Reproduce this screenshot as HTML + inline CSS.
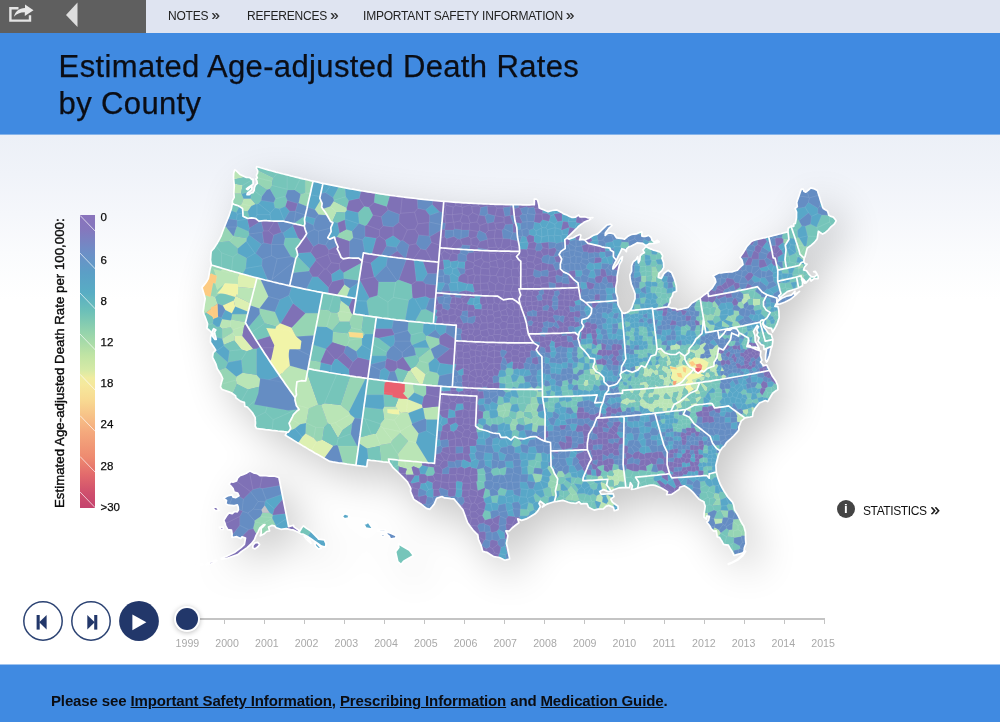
<!DOCTYPE html>
<html lang="en">
<head>
<meta charset="utf-8">
<title>Estimated Age-adjusted Death Rates by County</title>
<style>
*{box-sizing:border-box;margin:0;padding:0}
html,body{width:1000px;height:722px;overflow:hidden;background:#fff}
body{font-family:"Liberation Sans",sans-serif;color:#111;position:relative}
#topbar{position:absolute;left:0;top:0;width:1000px;height:33px;background:#dfe4f1}
#topbar .dark{position:absolute;left:0;top:0;width:146px;height:33px;background:#5f5f5f}
#topbar a{position:absolute;top:7px;font-size:12px;line-height:15px;color:#222;text-decoration:none;white-space:nowrap;letter-spacing:-0.2px}
#topbar a b{font-weight:normal;font-size:15px;letter-spacing:-0.5px;line-height:15px;-webkit-text-stroke:0.2px #222}
#header{position:absolute;left:0;top:33px;width:1000px;height:101px;background:#408ae1}
#header h1{position:absolute;left:58.600px;top:15px;font-weight:normal;font-size:31px;line-height:37px;color:#0b0d14;letter-spacing:0.36px;white-space:nowrap;-webkit-text-stroke:0.25px #0b0d14}
#main{position:absolute;left:0;top:134px;width:1000px;height:530px;background:linear-gradient(to bottom,#ecf0f7 0px,#f0f3f9 40px,#f5f7fb 80px,#fafbfd 118px,#ffffff 166px);overflow:hidden}
#footer{position:absolute;left:0;top:664px;width:1000px;height:58px;background:linear-gradient(to bottom,#a0c4f0 0px,#a0c4f0 1px,#408ae1 1px)}
#footer p{position:absolute;left:51px;top:28px;font-size:15px;line-height:18px;font-weight:bold;color:#0b0d12;white-space:nowrap;letter-spacing:-0.13px}
#footer a{color:inherit;text-decoration:underline}
#legend{position:absolute;left:80px;top:81px;width:15.400px;height:293px;overflow:hidden;background:linear-gradient(to bottom,#8a74bc 0%,#8577bd 4.8%,#6c8fc7 13%,#5b9fc6 19.8%,#58adc4 26.6%,#6cc0b8 32.8%,#96d4ac 40.3%,#c0e4a4 47.8%,#d6eaa6 52.9%,#f0eca0 55.6%,#f6e89c 58%,#f8da92 63.1%,#f7c388 68.3%,#f6b482 71.7%,#f4a87c 74.4%,#ee8a70 82.8%,#e26a6c 88.7%,#cf4f6d 94.9%,#c4426d 100%)}
.lg{position:absolute;left:100.500px;font-size:11.500px;line-height:13px;color:#0c0c0c;-webkit-text-stroke:0.25px #0c0c0c}
#lgtitle{position:absolute;left:0;top:0;font-size:13.2px;font-weight:normal;color:#0c0c0c;white-space:nowrap;transform-origin:0 0;transform:translate(52px,374px) rotate(-90deg);line-height:16px;letter-spacing:0.05px;-webkit-text-stroke:0.4px #0c0c0c}
.cbtn{position:absolute;width:40px;height:40px}

.cbtn svg{position:absolute;left:0;top:0}
#track{position:absolute;left:186px;top:484px;width:639px;height:2px;background:#c4c4c4}
.tick{position:absolute;top:485px;width:1px;height:5px;background:#c4c4c4}
.yr{position:absolute;top:503px;width:40px;margin-left:-20px;text-align:center;font-size:10.600px;line-height:13px;color:#a9a9a9}
#knob{position:absolute;left:175.500px;top:473.500px;width:22px;height:22px;border-radius:50%;background:#22376a;box-shadow:0 0 0 2px #fff,0 1px 5px 2px rgba(0,0,0,.25)}
#stats{position:absolute;left:837px;top:365.700px;height:18px;white-space:nowrap}
#stats .i{position:absolute;left:0;top:0;width:18px;height:18px;border-radius:50%;background:#444;color:#fff;font-weight:bold;font-size:13.500px;line-height:18px;text-align:center}
#stats span{position:absolute;left:26px;top:2px;font-size:12px;line-height:15px;color:#111;letter-spacing:-0.4px}
#stats span b{font-size:17px;font-weight:normal;letter-spacing:-0.5px;margin-left:1px;line-height:15px;-webkit-text-stroke:0.35px #111}
#map{position:absolute;left:0;top:0}
#edge{position:absolute;left:0;top:0;width:1000px;height:1px;background:#86b4ea}
</style>
</head>
<body>
<div id="topbar">
  <div class="dark">
    <svg width="146" height="33" viewBox="0 0 146 33">
      <path d="M18.500 8.200H10.400V20.600H30V15.200" fill="none" stroke="#e4e4e4" stroke-width="2.400"/>
      <path d="M14 16.800C15 11.500 19 8.300 25 8V4.500L33.500 10.200L24.800 16V12.300C20 12.300 16.500 13.800 14 16.800Z" fill="#e8e8e8"/>
      <path d="M66 15L77.500 2.500V27Z" fill="#dedede"/>
    </svg>
  </div>
  <a href="#" style="left:168px">NOTES <b>»</b></a>
  <a href="#" style="left:247px">REFERENCES <b>»</b></a>
  <a href="#" style="left:363px">IMPORTANT SAFETY INFORMATION <b>»</b></a>
</div>
<div id="header"><h1>Estimated Age-adjusted Death Rates<br>by County</h1></div>
<div id="main">
<svg id="map" width="1000" height="530" viewBox="0 134 1000 530">
<defs><filter id="sh" x="-20%" y="-20%" width="140%" height="150%"><feGaussianBlur stdDeviation="21"/></filter></defs>
<g filter="url(#sh)" opacity="0.22" transform="translate(12,14)"><path d="M219,510L216,507L212,508L215,511ZM260,476L257,474L250,471L246,473L240,476L237,478L237,481L233,482L231,482L229,484L233,489L234,492L238,493L239,496L236,498L233,497L232,495L228,496L223,498L227,500L226,504L228,505L234,506L237,505L238,510L237,512L235,512L232,514L229,513L224,520L228,530L231,530L232,538L237,537L241,539L242,537L246,538L244,544L241,548L235,552L221,558L221,559L227,559L238,555L247,548L254,540L260,528L265,525L261,528L261,533L260,536L264,534L267,531L270,531L269,527L272,525L281,529L286,529L293,530L307,536L321,546L326,547L326,544L324,540L319,539L311,531L304,526L299,532L299,530L294,527L294,525L289,527L279,478L274,476ZM223,527L219,527L221,530L223,529ZM311,543L306,536L304,536ZM260,544L258,542L255,543L253,545L253,548L255,549ZM321,548L317,543L314,543L316,546L318,549ZM206,565L211,564L217,560L215,560L207,563ZM180,564L196,566L196,565L176,562ZM202,564L200,564L203,565ZM790,299L799,291L794,294L795,291L792,295L782,298L778,301L777,304L785,302ZM234,197L232,201L231,208L229,216L221,236L214,248L211,251L210,260L211,265L208,279L202,287L205,299L203,312L208,324L207,328L211,332L214,329L216,330L215,332L216,339L215,339L213,336L213,333L212,333L210,342L216,350L213,353L212,357L217,369L223,378L220,387L222,390L231,393L236,396L236,398L241,401L244,402L245,406L247,407L252,413L255,418L255,426L256,428L287,432L285,435L330,461L367,467L368,460L389,462L393,468L407,482L411,488L410,491L414,499L426,508L430,509L434,504L437,498L442,496L445,498L454,499L463,510L467,522L473,530L478,535L478,539L483,551L487,552L494,557L499,557L505,560L510,559L506,543L508,536L506,531L509,531L519,523L518,519L522,520L526,519L535,514L538,511L540,507L539,503L540,501L544,504L542,507L547,504L554,502L563,500L571,503L576,503L579,502L581,504L587,504L589,507L594,510L603,509L606,506L609,505L613,507L614,511L618,509L618,506L612,502L611,499L614,497L613,494L601,494L600,491L604,490L608,492L611,492L613,490L619,488L630,488L630,483L632,486L631,489L651,485L655,485L668,492L667,495L672,494L679,489L680,487L684,486L689,488L699,499L704,502L705,506L704,517L706,519L707,516L709,516L709,520L707,522L714,531L716,531L717,537L719,537L724,544L728,545L734,555L743,553L746,544L745,532L744,526L734,510L733,502L728,497L720,484L716,472L716,465L720,451L727,442L739,430L739,427L741,421L745,418L752,416L753,412L759,403L765,401L768,402L773,393L778,389L778,385L776,381L767,365L763,366L760,362L762,360L760,356L761,351L751,347L747,347L749,338L747,346L750,345L751,347L756,347L759,349L755,341L755,335L754,332L757,326L759,327L757,330L758,333L757,335L759,338L758,341L761,345L764,346L764,349L766,350L765,359L766,362L770,355L772,346L773,340L771,335L768,333L764,327L763,324L764,320L763,323L764,326L768,328L771,328L773,332L777,324L779,317L778,307L775,307L777,301L780,298L787,292L803,286L802,279L803,280L805,283L806,283L810,278L811,281L814,278L818,279L818,276L815,271L814,272L816,272L817,275L814,277L812,277L806,271L804,270L804,267L807,264L805,264L804,262L807,248L814,243L817,239L818,231L823,234L826,232L834,224L836,221L833,217L829,215L827,211L823,209L817,190L811,188L806,192L804,191L803,189L801,189L797,202L797,207L795,208L797,212L796,218L795,223L794,224L794,226L791,226L788,228L788,232L754,240L751,242L747,246L740,257L742,260L743,265L737,270L732,272L719,273L713,276L715,279L716,282L712,288L700,298L692,303L688,307L677,310L676,308L668,307L673,292L676,291L676,286L674,278L672,272L668,270L664,274L661,279L658,277L659,273L662,271L664,267L664,263L662,258L663,256L661,252L646,247L643,250L644,253L640,256L640,260L638,263L638,257L636,260L633,262L632,266L632,271L630,275L630,279L631,284L635,294L635,299L632,308L630,311L624,313L622,312L618,305L617,297L616,292L617,276L619,265L622,261L623,257L613,269L613,267L622,249L625,249L626,252L627,249L629,247L637,243L643,243L646,246L650,244L659,242L657,240L654,242L649,235L645,236L642,236L642,232L636,234L632,234L628,236L625,239L617,238L614,234L611,233L608,233L605,235L605,233L612,225L611,224L607,225L597,234L585,240L580,240L581,235L580,234L569,239L567,238L579,226L593,218L580,217L579,215L575,217L572,217L557,210L548,212L539,208L538,200L536,199L534,199L534,205L518,205L466,203L413,198L373,193L335,186L296,177L257,167L256,168L258,171L256,175L257,178L256,179L257,183L255,185L253,193L249,195L247,195L247,193L252,190L252,187L250,187L248,190L247,189L253,184L253,179L252,179L250,178L246,177L240,174L235,170L233,177ZM359,443L360,439L360,435L360,439ZM345,514L342,516L345,519L348,518L349,515ZM368,522L363,524L366,528L370,529L373,528ZM378,531L386,532L385,530L378,529ZM381,534L382,537L384,536L384,534ZM396,536L388,532L386,534L389,536L391,539L396,538ZM404,561L413,556L409,550L398,544L399,548L396,552L398,562L401,564Z" fill="#000"/></g>
<path d="M790.4,299.3L799.5,291.4L797.1,293.1L794.4,294.2L795,291.1L791.6,294.9L786.4,296.3L781.8,298.2L777.6,301.5L777,304.5L780.2,303.9L785.1,302ZM234.3,186.1L233.8,193.2L234.2,197.3L232.4,200.7L232.4,203.1L231.4,208.4L228.7,216.4L221.1,235.8L214.1,248.1L211.2,251.4L210.5,259.9L211.3,265L210.1,268.7L208.3,278.6L205.8,282.7L202,287.4L205.2,298.7L203.1,311.8L207.6,323.7L206.9,328.3L211.3,332.5L213.7,328.6L215.8,330L214.5,332.1L216.2,339.4L215,339.5L212.7,336.4L213,333.3L211.7,333.2L210.5,337.4L210.4,342.2L215.7,350.1L213.2,352.6L212.5,357.3L215.8,363.8L217.2,368.7L220.9,374.5L222.7,378.5L220.4,387L222.1,389.5L231.3,392.7L235.6,395.9L235.8,397.8L240.8,401.4L244.4,402.3L244.8,406.4L247.2,407L252.4,412.8L255.2,417.6L255.2,426L256.4,428.4L287.1,432L285.3,435.2L329.8,461.4L366.8,466.7L367.7,459.9L389.3,462.5L393,467.7L407.4,481.8L410.8,488.3L410.5,491.4L413.8,499.4L421.4,504.3L426.4,508.4L429.7,509.4L434.2,504.1L436.6,498.2L442,496.5L444.6,497.9L453.9,498.9L462.9,509.7L467.5,522.4L473.2,530.3L477.8,534.8L478.4,539.4L480.9,544.8L482.8,551.4L486.9,552.3L493.7,556.6L499.3,557.5L504.8,560.2L509.7,559L506.4,543.2L507.9,535.5L505.9,530.9L509.3,531L512.1,528L518.9,522.7L517.6,518.8L521.6,520.4L526.3,518.9L535.1,513.8L537.7,511.1L540.4,506.5L539,503.5L540.3,501.2L544.3,504.2L542.4,507L547,504.1L554.3,501.7L562.9,500.4L571,503L576.3,503.3L578.9,501.7L581,503.9L587,503.6L588.6,507.3L594.1,510.1L598,509.1L603.4,508.8L605.9,506.4L608.6,505.4L613.4,507.4L614.3,510.7L618.2,509.4L618,506.3L612.4,502.1L610.8,499.1L614,496.6L613.1,493.6L601.2,494.4L599.7,491.4L603.6,489.6L608.3,491.6L611.2,491.7L613.5,489.7L619.3,487.8L629.6,487.7L630.4,482.6L632.4,485.9L631.4,489.4L634.7,489L650.9,485L654.9,485.4L661.8,488.2L667.6,491.7L666.6,494.6L671.9,494.3L679.3,489.2L679.7,487.2L684.2,485.8L688.6,488.4L693.1,492.4L698.7,498.9L703.9,501.8L705.2,506.2L704,517.2L706.3,519.2L706.6,516.1L709.4,516.4L708.6,520.4L706.8,522.2L709.3,525.2L711.1,528.5L713.6,531.2L716.3,530.9L717.2,536.9L719.4,537.3L723.5,544.4L728.3,545.2L734.1,555.5L743,552.8L744.1,551.1L744.3,548L746,543.6L745.5,532.4L743.8,526L734.5,509.8L733.7,505L732.5,502.1L727.6,496.7L720.1,483.9L717.9,478L716.3,472L715.9,465.1L718.3,455.4L720.2,450.7L722.3,447.7L724.6,445.8L726.7,442.3L731.2,438.4L738.8,430L738.9,426.9L741.3,420.9L745,417.9L752.5,416.5L753,412.5L755.3,408.1L759.4,403L765.3,400.5L767.7,401.6L772.7,393.2L777.9,389.5L777.7,385.3L775.8,380.9L772,375.4L766.7,365L763.1,365.8L762.9,364.7L760.5,362L761.9,360.2L760.4,355.7L760.8,351.1L750.7,347.1L746.9,346.6L748.3,341.6L748.5,338.4L748.8,340.7L747.4,345.8L749.7,345.3L751.3,347.3L755.6,347.2L759.3,349L755.2,341L754.9,335.2L753.5,331.5L757.3,325.5L758.5,326.8L756.7,329.6L757.9,332.5L756.7,335.1L759.1,337.8L758,341.2L761.1,344.5L763.7,345.5L764,349.4L766.5,349.7L765.5,359.4L766.4,362L767.2,361.4L769.6,355.4L770.7,349.5L772,346.4L772.8,339.6L771.2,334.5L768.4,333.4L764,327.2L762.6,323.6L764,320.1L763.1,323.2L764.3,325.6L768.4,327.9L771.5,328.3L772.6,332L777.1,324L779.2,317.5L778.8,310.4L777.9,306.6L774.9,306.5L777.4,301.2L778.7,300.1L779.8,297.6L787.3,291.6L798.6,287.8L802.5,285.8L802.5,282.2L801.7,279.2L803,279.6L804.5,283.2L806,282.8L810.2,278.1L811,281L814.5,278.4L818.1,278.7L818.2,276.3L815.4,271.4L813.7,271.6L815.7,272.2L817,275L814,276.9L811.6,276.8L809.3,274.7L806.5,270.7L803.6,269.9L804.4,267.3L807,264.2L805.2,263.8L803.8,261.8L804.2,258.2L807.2,248.1L813.8,243L817.2,238.9L818.4,231.3L822.6,234.1L825.5,232.4L834.4,224L836.2,220.9L833.4,217.1L828.8,215.3L827.5,210.9L823.4,208.6L817.4,190.5L814.6,188.9L810.7,187.9L805.8,192.2L803.9,191.3L803.2,189L801.3,189.1L796.7,202.5L797.3,206.7L795.1,208.5L796.6,212L796.5,217.6L795.3,223.5L793.8,223.9L793.8,226.3L791,226.2L788.2,228.2L788,231.8L754.4,240.1L751.4,241.5L746.9,246.4L739.8,257.4L742,260.1L743,264.6L737.4,270.2L732,271.9L718.7,273L713,275.8L715,278.7L715.8,282L712.3,287.8L707.8,292.2L700.1,298.1L691.9,303L688,307.5L676.8,309.9L676.1,308.5L672,308.2L667.8,306.8L670.1,302.3L670.2,299.1L672.1,296.5L673.3,292.5L676.5,291.2L676.3,285.8L674.1,278.3L671.6,272.5L668,270.3L663.9,273.5L661.3,278.5L658.3,277.4L658.9,273.4L661.9,270.7L663.7,267.4L663.6,262.7L661.9,258.3L662.7,255.9L660.6,252.3L653.2,250.1L645.8,246.7L642.9,249.8L644.3,252.7L642.8,253.4L640.3,255.5L639.8,260.2L638.4,263L637.7,256.6L635.9,259.9L633.2,261.7L631.6,265.7L631.6,271.1L629.8,275.2L630.2,279L631.3,284.3L635.1,294L635,298.7L631.9,307.5L629.7,310.7L627.3,312.5L624.2,313.4L621.9,312.2L618.1,304.9L617.4,297.2L615.8,292.1L615.9,286.5L617.1,281L617.2,275.6L619.5,264.6L621.8,260.5L622.5,256.6L620.1,259.1L617.8,263.5L614.8,267.3L612.8,269L613.1,266.7L621.8,248.7L624.6,249.5L626.4,251.6L626.6,248.8L629.1,246.7L632.2,245.6L637.3,242.8L642.7,243.4L646,245.6L649.7,243.6L654.5,243.3L659.2,241.9L657.4,240.3L654.4,242.3L652,240.2L651.1,237.3L648.7,235.3L645.1,236.5L641.9,236.1L641.9,231.9L639.3,232.5L636.3,233.9L631.6,234.5L628,236.1L624.6,239.2L616.5,237.9L614,234L610.8,233.1L607.7,233.3L605.2,235.4L605.5,232.7L609.3,227.8L612,225.3L610.6,224.2L607,225L597.2,234.1L593,235.5L589,238.1L584.6,240L581.6,239.4L579.6,239.8L580.9,235.2L579.8,234.5L573.1,237.7L568.9,239.1L566.8,238.1L578.8,226.1L584.5,222L588.9,220.2L592.9,217.6L588.2,217.9L584.5,216.6L579.9,216.9L578.7,215L575.2,217.2L571.6,217.3L563.7,213.9L556.9,209.9L552.3,210.5L548.2,211.6L539.2,208L537.6,200.1L536.3,199.1L534.3,199L534.3,204.7L517.8,204.7L490.8,204.1L466,202.9L438.7,200.8L413.4,198.2L373,192.6L335.4,185.9L295.8,177.1L256.7,166.6L256.3,168.1L257.7,170.9L257.5,173.2L256.4,175.2L257.3,177.9L255.9,179L256.9,180.9L257.3,183.4L255.4,185.2L254.4,187.8L254.2,190.4L252.8,192.7L251.4,192.8L249.2,194.6L247,194.7L247.4,193.2L251.7,189.7L251.9,187.1L250.4,186.9L247.9,189.7L246.5,189L253.2,183.8L253,179.2L251.7,179.4L249.8,177.6L246.4,177.4L240,174.4L235.9,170.4L234.7,169.8L233.7,172.9L233.5,177.1ZM360.1,435.2L359.5,438.9L359,442.7L359.5,438.9ZM269.2,476.1L264.5,475.5L259.9,475.6L257.1,473.6L253.5,472.8L250,470.9L246.3,473.3L239.9,475.6L237.5,478.2L236.5,481L233,482.1L230.7,481.7L229,484.4L233,488.6L234.1,492L237.6,493L239,495.8L235.9,497.6L233.1,497.2L232,494.9L228.3,495.6L223.4,498.2L226.5,500.5L225.9,503.6L228.2,505.1L233.7,505.7L237.3,504.8L238.2,507.1L238.4,509.8L237.3,511.8L234.6,511.5L232.2,513.7L228.9,512.9L223.8,520.2L225.7,526L227.8,529.6L231.5,530.1L232.1,534L231.9,537.5L236.8,536.7L240.5,538.6L242,536.9L245.5,538.1L244.4,544.3L241,547.6L235,552.2L226.2,556.6L221.3,558L221.4,559.1L226.5,558.5L237.8,554.6L247.1,547.6L251.6,543.5L254.4,539.7L256.1,535.4L259.9,527.8L263.4,524.9L265,524.6L261.2,528.3L261.2,533.1L260.2,535.8L263.9,534.1L266.7,531.5L269.6,531L268.5,527L271.8,525.4L274.4,525.9L276.3,527.8L281,529.3L286.3,528.7L292.9,529.9L307.5,536.5L321.4,546.1L324,546.9L325.5,546.6L326.1,543.8L324.3,539.9L318.7,539.1L311.2,531.4L305.9,527.9L303.5,525.8L301.6,528L299.5,531.7L298.8,530.2L293.9,526.9L293.5,525.3L288.6,526.6L278.9,477.5L273.9,476Z" fill="#6f8fc2"/>
<g stroke="#fff" stroke-opacity=".1" stroke-width=".5" stroke-linejoin="round">
<path fill="#658dc3" d="M266.8,189.8L261.8,196.4L261.1,200.4L273.8,202.6L275.6,198.7L269.9,188.8ZM298.7,202.9L300.7,193.9L294.7,189.9L287.6,189.9L285.5,196.2L287.2,200.4L297.6,203.6ZM298.7,202.9L297.6,203.6L295.3,211.1L295.8,211.9L305.4,215.1L306.1,212.3L306.9,208.9L307.4,206.6ZM293.9,223.4L295.8,211.9L295.3,211.1L289.6,211.1L284.1,220.3L284,221.2L285.3,221.6L287.7,222.1L290,222.7L292.4,223.3L293.8,223.6ZM295.8,211.9L293.9,223.4L305.3,215.8L305.4,215.1ZM237.1,226.6L237.1,220.7L236.4,219.9L227.8,218.6L227.3,219.8L225.9,223.2L224.5,226.5L226,227L236.7,227ZM236.7,227L226,227L233.3,236.2L233.7,236ZM249.5,227.9L248.5,231.5L249.2,234L262.4,232.3L263.6,230.9L261.1,220.9ZM281.3,232.2L283.1,233L293,226L293.8,223.6L292.4,223.3L290,222.7L287.7,222.1L285.3,221.6L282.9,221L281.1,221.1L279.3,221.2L277.2,221.1ZM285.1,238.1L283.1,233L281.3,232.2L273.6,235.1L271.3,244.3L271.6,244.6L283.8,244.6ZM262.4,232.3L249.2,234L248.9,234.9L261.3,244.2L263.9,242.8ZM271.3,244.3L263.9,242.8L261.3,244.2L255.6,253.3L262.2,259.1L271.6,255.7L271.6,244.6ZM283.8,244.6L271.6,244.6L271.6,255.7L277.2,258.7L291,256.6ZM262.2,259.1L261.7,265.7L267.9,280.6L270.6,281.3L270.8,281.4L272.1,279.2L277.2,258.7L271.6,255.7ZM291,256.6L277.2,258.7L272.1,279.2L295.3,260.6L295.7,258.7L295.8,258.6ZM272.1,279.2L270.8,281.4L273.3,282L276,282.6L278.7,283.3L281.5,283.9L284.2,284.5L286.9,285.2L289.7,285.8L290.4,282.4L291.2,279L291.9,275.6L292.7,272.2L293.5,268.8L294.2,265.5L295,262.1L295.3,260.6ZM225.4,310L222.8,305.5L217.6,303.5L217.6,316.6L221.3,318.1ZM268.2,402.7L295.7,402.7L295,400L295.1,397.7L292.7,394.3L290.3,390.9L287.9,387.6L285.5,384.2L283.2,380.8L280.8,377.5L279.7,375.8L262.8,382L261.1,386.2L262.3,394.3ZM291.8,286.3L289.7,285.8L286.9,285.2L284.2,284.5L281.5,283.9L278.7,283.3L276,282.6L273.3,282L270.6,281.3L267.9,280.6L265.1,280L262.4,279.3L260.2,278.7L268.3,296.5L279.8,299.7L289,295.4ZM268.3,296.5L259.4,308.4L259.4,308.5L274.9,311.9L279.8,299.7ZM259.9,314L259.4,308.5L259.4,308.4L250,305.2L249.3,307.8L248.3,311.6L247.3,315.3L246.4,319.1L245.4,322.8L247.5,326.3L248.3,327.5ZM296,336.6L292.3,346.9L310.5,355.8L311,353.4L311.7,349.6L312.4,345.8L313.2,342L313.9,338.2L314.5,335.3ZM292.3,346.9L287.9,350.2L289.9,365.7L307.7,370.8L308.1,368.6L308.8,364.8L309.5,361L310.3,357.2L310.5,355.8ZM318.6,214.5L314.9,209.6L307.3,207L306.9,208.9L306.1,212.3L305.3,215.8L305.2,216.1L315.2,218.6ZM318.6,214.5L315.2,218.6L313.5,225.2L314.3,229.4L318.4,231.1L330.9,228L330.8,227.7L331.9,225.1L332.9,222.6L330.5,221.4L329.3,219.2L328.1,217L327,215.2ZM314.3,229.4L313.5,225.2L304.6,220.8L304.7,221.4L304.9,223.5L304.3,226L305.1,229.3L306.6,233.3ZM318.4,243.8L325.5,245.2L329.2,238.8L327.8,237.7L329.5,234.6L331.1,231.6L330.9,228L318.4,231.1ZM314.3,229.4L306.6,233.3L306.7,233.6L305.7,235.2L313.4,246.8L318.4,243.8L318.4,231.1ZM325.5,245.2L328.8,250.1L337.5,245.7L336.9,244.4L335.7,241.9L335.1,239.5L334.4,237.1L332.1,238.1L329.7,239.1L329.2,238.8ZM312.6,276.8L309.1,270.9L292.6,272.8L291.9,275.6L291.2,279L290.4,282.4L289.7,285.8L292.4,286.4L295.1,287L297.9,287.6L300.6,288.2L303.4,288.8L306.1,289.4L306.3,289.4ZM343.9,278.4L343.4,279L344.3,284.6L349.8,288.5L358.6,282.6L359,280.4ZM330.2,206.6L333.8,201.3L334,200.2L333.1,197.6L325.5,192.6L320.8,193.3L320.6,194.4L319.8,198.1L320.9,200.7L322.1,203.3L321.6,207.1L322.9,209ZM433.1,200.3L431.1,200.1L428.6,199.9L426,199.6L423.5,199.4L421,199.1L418.4,198.8L417.2,198.7L417.8,208.4L425.5,210.1L432.4,204.5ZM439.6,211.7L429.5,215.3L429.5,222.1L441.8,224.8L442,222.7L442.3,219.1L442.6,215.5L442.8,212.4ZM428.9,235.9L429.9,236.7L441.3,230.1L441.3,229.8L441.6,226.2L441.8,224.8L429.5,222.1L428.9,222.6ZM399.4,214.3L388.1,210L381.2,216.8L383,225.9L393.1,226.9L398.9,222.3ZM365.1,225.7L359.3,223.4L358.6,223.7L352,231.3L353.1,237.8L362.6,239.9L365.1,236.6ZM362.6,239.9L353.1,237.8L349.5,241.3L349.5,257.9L351,258L353.1,258.2L355.9,258.2L358.7,258.1L360.4,259.5L362.1,261L362.5,258.3L363,255.6L363.4,252.9L365,253.2ZM409.2,245.1L402.7,240.2L400.4,240.8L396.4,247.2L397.3,250.9L405.4,258.7L405.8,258.8ZM418.7,234.9L416.1,243.8L420.6,249L425.9,249.9L431.5,242.4L429.9,236.7L428.9,235.9ZM386.5,245.8L381,255.6L382.1,255.7L384.8,256.1L387.5,256.5L389.1,256.7L397.3,250.9L396.4,247.2ZM386.2,265.5L397,280.7L398.9,280L406.6,258.9L406.3,258.8L403.6,258.5L400.9,258.2L398.2,257.9L395.5,257.5L392.8,257.2L390.2,256.8L387.5,256.5ZM427.5,273.5L422.6,281.3L425.6,284L436.6,285.2L436.7,285.1L437,281.3L437.3,277.4L437.6,273.6L437.6,273.5ZM397,280.7L386.2,265.5L374.6,277.1L378.7,282L395.7,282ZM425.7,309.2L434.2,313.4L434.4,312L434.7,308.1L435,304.3L435.3,300.5L435.6,298L429.6,298.3ZM345.7,346.5L343.7,352.6L353,361.9L358,357.4L356.3,351.3L347.2,345.8ZM354.7,417.9L352.1,423.2L350.7,433.9L357,446L358.5,446.6L358.5,446.5L359,442.7L359.5,438.9L360.1,435.2L360.6,431.4L361.1,427.6L361.6,423.9L362.1,420.1L362.3,418.8ZM338,446L336.7,445.1L333.3,445.7L324.1,458.2L326.8,459.7L329.8,461.4L332.7,461.9L335.6,462.3L338.5,462.8L341.4,463.2L343,463.4ZM391.9,328.8L394.1,334L407.8,330.5L408.6,321.2L407.7,321.1L404.8,320.7L402,320.4L399.1,320.1L396.3,319.8L393.5,319.4ZM445.5,332.7L455.4,339.3L455.5,336.8L455.8,333L456,329.1L456.3,325.2L453.4,325.1L450.6,324.9L447.7,324.7L446.5,324.6ZM410.9,334.9L407.8,330.5L394.1,334L393.9,334.9L394.8,341.2L410.4,341.2ZM439.3,338.7L440.3,335.7L435.4,329.6L427.3,335.7ZM410.4,341.2L394.8,341.2L393.5,345.3L402.1,352.4L411.8,344.6ZM402.1,352.4L393.5,345.3L390.4,347.3L386.7,352.3L386.2,355.8L387,358.3L396.6,361.5L402.5,357.1ZM414.3,347.8L412.3,344.9L411.8,344.6L402.1,352.4L402.5,357.1L403.7,357.7L416,355.3ZM380.5,370.3L385.1,367.8L385.9,360.5L369.8,364.6L369.8,365ZM380.5,370.3L369.8,365L369.5,367L368.9,370.9L368.4,374.7L367.9,378.5L370.8,378.9L373.7,379.3L376.6,379.7L379.2,380ZM389.8,371.7L386.7,381L388.3,381.2L391.2,381.5L394.1,381.8L397,382.2L398.7,382.4L394.9,371ZM437.4,386L437.9,386L440.8,386.2L443.7,386.5L446.6,386.7L449.5,386.8L452.3,387L452.6,383.2L452.8,379.3L453.1,375.4L453.3,372.7L439.3,375.8ZM430.6,348.9L434.3,358.2L436.9,359.1L449.9,348.8L439.8,343.9ZM412,423.6L411.7,424.4L418.5,433.5L426.3,430.8L426.3,419.6L425.1,418.6ZM510.4,206.6L510.4,206.7L513.4,207.6L513.1,204.7L510.7,204.6L510.6,204.6ZM484.8,216L487.9,213.8L487.3,206.3L487.1,206.1L480.7,207.5L479.4,215.2ZM510.2,215.5L510.4,206.7L510.4,206.6L503.8,207.5L503.1,208L504.8,216.4L510.2,215.5ZM487.9,223.4L493.8,222.1L495,215.8L487.9,213.8L484.8,216L486.8,223ZM510.2,215.5L513.2,223.9L515.6,223.3L515,221.1L514.6,218.1L514.2,215.2L514.2,214.9ZM444.7,229.6L445.6,223.2L442,222.6L442,222.7L441.6,226.2L441.4,229.3ZM513,232.6L513.1,224L505.3,224.4L503.7,228.7L512.7,232.9ZM445,230L444.7,237L446.8,238.8L453.8,236.4L453.4,230.1ZM460.8,238.8L461.4,229.9L461.3,229.8L454.5,228.7L453.4,230.1L453.8,236.4L457.7,239L460.3,239.4ZM468.5,236.6L469.2,230L469.2,229.9L461.4,229.9L460.8,238.8ZM485.7,233.5L479.5,230.5L478.1,231.5L476.5,236.8L479.9,241.5L487.2,239.5L487.5,239.1ZM503.7,228.7L501.9,230.1L502.9,238.3L503.1,238.5L510.3,239.1L512.7,232.9ZM513,232.6L512.7,232.9L510.3,239.1L510.7,239.6L518.3,241.1L518.1,240.1L517.5,237L517.2,233.8L517.2,232.7ZM461.1,247.5L452.9,248.8L453.1,248.8L455.8,249L458.4,249.1L461.1,249.3L461.6,249.4ZM462.2,244.8L461.1,247.5L461.6,249.4L463.7,249.5L466.4,249.6L469.1,249.8L469.4,249.8L470.1,245.6ZM487.3,249.5L478,247.8L477.5,250.2L479.7,250.3L482.4,250.5L485,250.6L487.4,250.7ZM460.1,253L466.5,255.4L468.6,252.9L467.7,249.7L466.4,249.6L463.7,249.5L461.1,249.3L460.3,249.3ZM468.6,252.9L473.7,252.2L473.5,250L471.7,249.9L469.1,249.8L467.7,249.7ZM467,260.4L466.5,255.4L460.1,253L457.6,254.4L457.6,260.6L458.8,261.9L465.1,262.1ZM443.5,276.1L444.7,274.3L443.2,269.7L438,269.2L438,269.8L437.6,273.6L437.4,276.5ZM457.1,267.6L456.9,267.8L460.7,274.9L464.8,273.3L465.4,270L464.8,268.4ZM443.8,282.5L443.5,276.1L437.4,276.5L437.3,277.4L437,281.3L436.9,282.7ZM443.8,282.5L445.1,283.6L448.5,284.1L450.6,282.5L449.7,275L444.7,274.3L443.5,276.1ZM445.1,283.6L441.3,290.7L441.7,291.4L450.2,291.1L448.5,284.1ZM441.7,291.4L441.3,290.7L436.3,289.2L436,292.8L438.7,293L441.4,293.2L441.8,293.2ZM450.3,291.2L449.9,293.9L452.1,294L454.8,294.2L457.5,294.4L459.1,294.5L459.3,291.9L458,290.7ZM450.3,296.6L449.5,293.8L449.4,293.8L446.7,293.6L444,293.4L443.2,293.4L443.2,296.1L444.5,297.6ZM454.8,296.8L455.2,297L460.9,298.3L461.7,294.6L460.2,294.5L457.5,294.4L455.4,294.2ZM443.2,296.1L436.7,297.1L438.9,303.6L442.1,304.2L443.7,303L444.5,297.6ZM443.7,303L449.5,304.3L450.3,303.4L451.7,297.4L450.3,296.6L444.5,297.6ZM450.3,307.9L449.5,304.3L443.7,303L442.1,304.2L442.7,308.2L448.1,310.5ZM467.5,310.4L462.2,311.1L461.4,315L467.9,317L468,311ZM468.1,317.4L467.9,317L461.4,315L459.7,316.6L463.2,323.3L463.4,323.4L467.4,322.6ZM472.4,323.7L474.9,321.7L475.8,316.5L474.9,315.8L468.1,317.4L467.4,322.6L467.8,322.9ZM456.1,327.5L456,329.1L455.8,333L455.7,334.7L460.8,334.3L461.7,333.1L461.9,330.8L461.3,329.1ZM460.8,334.3L455.7,334.7L455.5,336.8L455.3,340.7L458.2,340.9L461.1,341L461.8,341.1ZM503.7,357.3L507.2,351.9L505.8,350.5L501.7,349.5L500.1,351.5L500.8,356.4L502.4,357.5ZM537.4,356.7L537.5,356.6L535.6,351.1L531.2,350.3L530.3,351.4L530.5,356.9L532.2,358.3ZM505.4,358.2L503.7,357.3L502.4,357.5L501.1,363.1L506.4,365.4L507.4,363.8ZM532.2,358.3L530.5,356.9L526.6,357.8L525.3,362.5L530.6,364L532.1,362.9ZM542,364.1L542,363.8L542,360.2L541.9,356.6L541.3,355.9L537.5,356.6L537.4,356.7L538.6,363.5ZM506.4,365.4L501.1,363.1L500.4,363.5L500.8,369.9L505.3,370.5L506.9,367.9ZM524.1,368.3L525.7,369.8L529.2,369.6L530.6,364L525.3,362.5L523.5,363.5ZM532.1,362.9L530.6,364L529.2,369.6L529.5,369.9L535.9,368.9L536,364.6ZM538.6,363.5L536,364.6L535.9,368.9L537.3,370.5L542.1,368.8L542.1,367.5L542,364.1ZM457.5,371.1L454.9,369.3L453.4,369.8L453.3,371.6L453.1,375.4L453,376.6L456.5,376.7L459.1,374.8ZM531.4,375L532.5,376L536,375.8L536.9,375.1L537.3,370.5L535.9,368.9L529.5,369.9ZM456.1,382.8L457.5,382L456.5,376.7L453,376.6L452.8,379.3L452.7,380.9ZM461.8,375.7L459.1,374.8L456.5,376.7L457.5,382L461.9,382.3L462.5,381.5ZM494.2,375.6L492.5,376.9L493.2,383.3L498.8,382.2L499.4,377.3L497.9,375.8ZM525.1,382L529.5,382.1L530.1,381.5L532.5,376L531.4,375L523.6,376.7ZM530.1,381.5L537.5,382.7L536,375.8L532.5,376ZM456.1,382.8L452.7,380.9L452.6,383.2L452.3,387L454.7,387.2ZM461.9,382.3L457.5,382L456.1,382.8L454.7,387.2L455.3,387.2L458.3,387.4L461.3,387.6L462.7,387.6ZM531.6,387L534.4,389.1L537.5,385.7L537.7,383L537.5,382.7L530.1,381.5L529.5,382.1ZM482.1,388.5L482.3,388.6L485.3,388.7L488.3,388.8L488.4,388.8L486.4,386.8L482.8,387.1ZM477.9,390.8L479,391.6L483.1,391.2L484.3,390.2L484.2,388.6L482.3,388.6L479.3,388.4L477.4,388.4ZM484.3,390.2L488.8,391.4L489.9,388.8L488.3,388.8L485.3,388.7L484.2,388.6ZM488.8,391.4L489.3,391.9L497,391.7L498.2,389L497.4,389L494.3,388.9L491.3,388.9L489.9,388.8ZM488.8,391.4L484.3,390.2L483.1,391.2L484,398.2L484.8,398.8L489.5,397.9L489.3,391.9ZM489.3,391.9L489.5,397.9L491.1,399.1L497.5,394.9L497,391.7ZM497,391.7L497.5,394.9L498.6,396L503,397.2L504.2,396.3L505.9,392.6L501.9,389.1L500.4,389.1L498.2,389ZM484.8,398.8L484.3,403.7L489.6,404.6L491.8,401.5L491.1,399.1L489.5,397.9ZM491.1,399.1L491.8,401.5L497.1,403.7L498.6,396L497.5,394.9ZM483.6,404.4L478.7,405.1L478.7,410.3L483.3,412L485.9,410.7ZM538.1,412.3L544.5,410.3L544.1,407.2L543.6,403.9L539.2,404L536.6,410.4ZM490.5,426.4L485.9,423.8L483,426.1L483.1,429.9L485.5,430.5L487.9,431.3L490.4,432.2L491.3,432.5ZM498.2,430.9L497.8,424.9L497.4,424.4L492.3,424.1L490.5,426.4L491.3,432.5L492.9,433L495.1,433.2ZM519.2,431.6L524.2,429.9L524.4,425.4L518.2,423.8L516.2,425.8L516.1,429.6ZM538.2,425.4L536.8,432.2L538.4,433.8L543.9,430.8L545,429.4L545,427.6L545,425.6ZM532.6,431.4L531.9,430.3L524.4,430.1L526.8,438L528.4,437.5L530,437ZM538.4,435.4L538.4,433.8L536.8,432.2L532.6,431.4L530,437L530.7,436.9L533.2,436.7L535.8,436.5L536.9,437.2ZM538.4,435.4L544.9,440.2L545,438.6L543.9,430.8L538.4,433.8ZM543.9,430.8L545,438.6L545,437.8L545,434.4L545,431L545,429.4ZM439.8,439.8L441.4,431L437.2,430.6L437.1,432.5L436.8,436.4L436.5,439.4ZM492.8,439L497.4,437.4L497.2,433.3L496.1,433.3L492.9,433L490.4,432.2L490.2,432.1L489.9,436.6ZM497.4,437.4L500,439.8L505.4,438.5L506.1,437.2L503.9,437.3L501,437.4L499.2,433.5L497.2,433.3ZM520.9,441.7L524.1,438.8L523.8,438.9L521.2,438.7L518.7,438.5L518,438.2ZM440.2,440.2L440.6,445.4L442.5,447.7L448.9,446.7L448.6,440.3L447.4,439.3ZM485.7,445.2L485.9,445.4L491.8,445.2L492.2,444.9L492.8,439L489.9,436.6L485.2,439.5ZM536.1,445.2L535.1,439L529.6,439.9L527.2,445.1L528.9,447.1L535.3,446.4ZM543.3,440.5L542.9,440.4L540.9,439.5L538.3,438L536.3,436.8L535.1,439L536.1,445.2L543,444.9ZM550.6,445.5L550.6,445.3L550.5,442.5L547.7,441.8L544.9,441.2L543.3,440.5L543,444.9L544,446ZM440.3,453.3L441.7,451.5L442.5,447.7L440.6,445.4L435.9,447L435.8,447.9L435.5,451.7L435.3,454.4ZM455.7,453.6L462.9,453L463.3,446.9L463,446.6L455.7,446.5ZM476.5,444.3L475.3,445.9L476.7,450.9L484.4,452.4L485.9,445.4L485.7,445.2ZM491.8,445.2L485.9,445.4L484.4,452.4L484.5,452.6L492.6,453.4L494.2,452ZM507.1,446.8L500.9,447.5L499.1,451.6L506.1,454.8L507.8,453.4ZM514.8,447.2L511.6,445.3L508.1,445.6L507.1,446.8L507.8,453.4L512.6,454.9L514.6,452.6ZM527.9,453L528.9,447.1L527.2,445.1L521.4,444.1L520.2,445.6L521.7,451.9L527.3,453.6ZM543,444.9L536.1,445.2L535.3,446.4L537.1,453L541.1,453.3L543.2,452.3L544,446ZM544,446L543.2,452.3L547.7,454.3L550.8,453L550.7,451L550.7,448.1L550.6,445.5ZM483.7,459.7L484.5,452.6L484.4,452.4L476.7,450.9L474.9,453.5L476,458.9L479.2,460.3ZM499.5,460.6L498.2,452.3L494.2,452L492.6,453.4L492.4,459.7L498.5,461.3ZM512.6,454.9L507.8,453.4L506.1,454.8L504.1,460.4L505,461.2L512.8,461.1L513.9,459.5ZM514.6,452.6L512.6,454.9L513.9,459.5L519.9,459.4L519.8,453.5ZM454.5,461.7L447.6,460.9L447.9,466.2L449.4,467.9L456.2,467.5ZM461.3,466.8L462.1,460.2L456.2,459.9L454.5,461.7L456.2,467.5L457.1,468.3ZM483.5,468L485.1,465.4L484.6,460.5L483.7,459.7L479.2,460.3L476.5,468.8L477.2,469.4ZM497.5,467.5L498.5,461.3L492.4,459.7L491.5,460.2L491.8,468.6L492,468.9ZM505,461.2L504.1,460.4L499.5,460.6L498.5,461.3L497.5,467.5L499.1,469.1L506,467ZM513.9,459.5L512.8,461.1L513.7,467L520.3,466L521.3,460.4L519.9,459.4ZM548.4,462.5L548.7,465.8L551.2,466.6L551,466.4L551,462.5L550.9,461.4ZM449.4,467.9L447.9,466.2L442.3,469.2L442.2,474L448.9,474ZM491,472L492,468.9L491.8,468.6L485.1,465.4L483.5,468L485.7,473.6ZM512.7,473.7L513.6,472.8L513,468.3L506.4,467.4L505.4,474.3ZM521.7,467.5L520.3,466L513.7,467L513,468.3L513.6,472.8L520.2,475.2L521.6,474.2ZM541,468.2L534.3,467.8L533.3,473.4L541.8,474.4L542.8,470.2ZM485.1,474.6L485.8,480.7L491.9,480.8L493.3,475.7L491,472L485.7,473.6ZM500.4,474.6L493.3,475.7L491.9,480.8L493.7,482.7L498.2,482.5L500.5,474.6ZM500.5,474.6L498.2,482.5L500,483.8L506.8,482.2L504,475.3ZM506.8,482.2L507,482.3L511.1,481.6L512.7,473.7L505.4,474.3L504,475.3ZM513.6,472.8L512.7,473.7L511.1,481.6L512.2,482.3L519.9,482L520.2,475.2ZM527.7,481L528.3,474.3L528.1,474.2L521.6,474.2L520.2,475.2L519.9,482L519.9,482.1L526.6,482.3ZM493.7,482.7L491.9,480.8L485.8,480.7L484.1,482.3L484.5,487.8L485.3,488.6L489.3,490L492.6,488.1ZM500,483.8L498.2,482.5L493.7,482.7L492.6,488.1L497.7,491.3L500.2,487.8ZM500,483.8L500.2,487.8L506.7,489.8L507,482.3L506.8,482.2ZM512.2,482.3L511.1,481.6L507,482.3L506.7,489.8L506.8,490L513.2,490.1L513.3,490ZM519.9,482L512.2,482.3L513.3,490L520.1,487.9L519.9,482.1ZM533.2,488.8L535.5,482.4L535.1,482L527.7,481L526.6,482.3L529.2,488.7ZM426,494.9L426.6,491.2L419.9,488.1L418.6,489.2L417.9,496L418.9,496.8ZM441.6,496.4L447.9,495.2L448.2,490.3L440.2,487.6L438.7,489.4L440.7,495.6ZM492.6,488.1L489.3,490L490.2,495.7L491,496.2L498.5,495.1L497.7,491.3ZM520.1,487.9L513.3,490L513.2,490.1L514,494.4L520.1,496.6L521,488.9ZM427.9,505.1L433.7,502.1L432.6,497.6L427.1,496.4L425.8,503.8ZM434.7,502.7L435.4,501.2L436.6,498.2L439.3,497.4L441.5,496.6L441.6,496.4L440.7,495.6L433.4,496.6L432.6,497.6L433.7,502.1ZM449.8,496.8L447.9,495.2L441.6,496.4L441.5,496.6L442,496.5L444.6,497.9L447.7,498.2L449.7,498.4ZM455.2,495.9L449.8,496.8L449.7,498.4L450.8,498.6L453.9,498.9L456.7,502.3L457.4,503.1L458,497.6ZM463.9,497.8L461.6,496.5L458,497.6L457.4,503.1L462,505.4L464.5,501.9ZM421.2,504.2L421.4,504.3L423.9,506.4L426.4,508.4L428.9,509.2L427.9,505.1L425.8,503.8ZM428.9,509.2L429.7,509.4L432,506.8L434.2,504.1L434.7,502.7L433.7,502.1L427.9,505.1ZM505.6,503.4L498.8,505L497.6,510.1L499.1,512.3L506.7,510.8ZM520.5,508.9L520.7,505.4L518.5,501.8L513.9,502.2L511.8,503.4L513.2,508.8L520.3,509.1ZM497.6,510.1L492.5,510.5L490.1,511.8L491.1,518.3L492,518.9L499.2,515.2L499.1,512.3ZM507.2,511.2L506.7,510.8L499.1,512.3L499.2,515.2L499.9,516.2L506.2,518.7L508.3,516.1ZM520.3,509.1L513.2,508.8L512.6,509.5L514.4,516.7L515.9,517.6L519.1,517.1L520.1,515.8ZM506.2,518.7L499.9,516.2L498.5,524.9L499.4,526L505.8,524.6L506.6,524ZM528.6,515.2L527.6,515.8L527.4,518.3L529.3,517.2L530.4,516.5ZM484.9,524.1L484,522.9L479.3,523.8L477.3,525.9L479.8,532L484.1,531.6ZM485.7,532.4L490.7,531.6L490,526L484.9,524.1L484.1,531.6ZM505.8,524.6L499.4,526L498.5,529.2L504.8,533.1L506.2,531.5L505.9,530.9L506.6,530.9ZM485.6,539.6L490.2,540.9L492,539.8L492.2,532.4L490.7,531.6L485.7,532.4ZM500.2,538.7L497,531.1L492.2,532.4L492,539.8L497.5,541ZM489.8,547L490.2,540.9L485.6,539.6L484.1,540.2L481.6,545.4L486.2,548.7ZM504.9,538.6L500.2,538.7L497.5,541L497.9,544.4L500.8,547.6L504.9,546.1L505.3,538.8ZM507.7,553.2L505.4,554.7L506.3,559.8L507.2,559.6L509.7,559L509.4,557.3L508.8,554.7L508.5,553.2ZM518.5,207.5L519,204.7L517.8,204.7L515.5,204.7L513.1,204.7L513.5,208.5L513.6,209ZM528.3,207.8L526.9,206.4L520.2,208.6L522.1,214L526.3,214.8L527.5,213.7ZM533.6,207.1L528.3,207.8L527.5,213.7L535.2,214.6L535.8,214.1L534.7,208.6ZM526.3,214.8L522.1,214L519.4,216L522.3,222.2L527,221.6L527.3,221.4ZM534.1,221.7L535.2,214.6L527.5,213.7L526.3,214.8L527.3,221.4ZM522.3,222.2L520.5,223.5L520.6,229.2L521.8,230L527,228.4L527,221.6ZM534.5,222.1L534.1,221.7L527.3,221.4L527,221.6L527,228.4L529.2,230.2L533.4,228.7ZM521.8,236.4L522.5,236L521.8,230L520.6,229.2L517,229.8L517,230.7L517.2,233.8L517.4,236ZM527,228.4L521.8,230L522.5,236L526.4,237.2L529.1,234.7L529.2,230.2ZM519.7,242.8L521.8,236.4L517.4,236L517.5,237L518.1,240.1L518.7,243.2L518.8,243.8ZM536.7,243.3L535,249.2L536.4,251.3L540.8,250.8L542.8,247.7L541,242.9L540.7,242.7ZM555.2,242.6L548.7,241.8L548.3,242.3L548.9,249L554.8,247.7L556,243.6ZM554.8,247.7L556.5,249.9L560.9,251.4L563.1,249.9L563.5,249.6L561.6,242.1L561.5,242L556,243.6ZM561.6,242.1L563.5,249.6L565.2,248.5L565.1,245.5L565,242.6L564.9,241.8ZM554.2,256.9L559.8,255.6L559.1,254.5L560.9,251.4L556.5,249.9L553.6,256.3ZM543.3,255.7L541.3,258.9L542.2,262.4L548.1,264L550,255.9L548.4,254.4ZM548.1,264L548.2,264.1L552.9,264.3L556,261.9L554.2,256.9L553.6,256.3L550,255.9ZM556,261.9L552.9,264.3L555.6,270.4L556.1,270.7L560.4,268.2L560.4,266.7L560.3,264.4L560.8,262.5ZM535.3,277.5L539.9,277.5L541.3,276.1L541,271.4L534,269.2L533,275.2ZM548.2,276.7L548.8,271.6L547.6,269.6L541.6,270.7L541,271.4L541.3,276.1ZM568.1,277.1L568.7,274.3L566.3,273.1L563.5,271.9L563.3,271.7L562.1,276.6L562.8,277.5ZM562.1,276.6L556.8,274.8L555.3,276.3L556.4,282.8L561.7,282.2L562.8,277.5ZM561.7,282.2L562.5,283.5L568.9,284.1L569.6,283.2L568.7,277.7L568.1,277.1L562.8,277.5ZM576.4,285L578.2,284.7L578,282.9L575.8,281.1L575.3,280.7L574.7,282.8ZM555.7,283.5L548.9,282.1L548.6,282.4L549.1,288.6L551,288.6L553.8,288.5L555.6,288.4ZM538.5,291.4L539,294.1L542,295.4L544.1,293.6L543.4,288.7L542.7,288.7L542.6,288.7ZM554.1,295.3L557.3,297L560,293.6L559.1,290.9L557.9,290.3L554.3,291.2ZM538.1,300.7L541.6,300.4L542.6,299.6L542,295.4L539,294.1L536.3,296.5L537.7,300.4ZM558.7,300.3L557.3,297L554.1,295.3L553.2,295.8L551.6,300.2L552.7,301.5L558.2,300.9ZM558.2,300.9L552.7,301.5L552,305.3L558.1,305.6ZM584.9,301.9L583.2,300.8L580.5,299L580.4,299.2L580.3,304.8L580.5,305.1L585,305ZM542.8,306.5L542.4,307.1L542.8,310.2L543,310.4L547.8,310.8L549.5,306.3L547.2,304.5ZM558.1,305.7L558.1,305.6L552,305.3L551.4,306L554.4,310.8L557.8,309.2ZM569.1,306.3L570,311.9L574.7,311.9L575.3,311.2L574,307.1L569.6,305.9ZM580.3,304.8L575.6,305L574,307.1L575.3,311.2L579.7,311.1L580.5,310.4L580.5,305.1ZM580.5,305.1L580.5,310.4L584,310.7L585.7,305.4L585,305ZM526.9,312.5L527.3,315.8L532.1,316.6L532.8,316.2L531.5,310.7L528,311.4ZM537,311.6L536.5,310.9L532.5,309.8L531.5,310.7L532.8,316.2L536.8,316.5ZM580.5,310.4L579.7,311.1L580.6,315.5L585.3,316.9L586.5,315.8L584.7,311L584,310.7ZM589.7,315.6L590.4,314.7L591.4,312.3L591.5,310.7L590.3,311L589.6,315.6ZM526.8,321.1L526.9,316.3L524.5,316.5L524.5,316.6L525.5,320L525.8,321.3ZM552.8,316.6L555.6,321.5L556.3,321.5L558.8,320.2L560.2,316L559.5,315.5L553.9,314.7ZM563.3,322.9L564.7,316.3L562.8,315.5L560.2,316L558.8,320.2ZM574.4,316.3L573.7,317L574.9,321.5L575.7,322.3L578.6,321.7L579.4,320.9L578.9,317.7ZM585.3,316.9L580.6,315.5L578.9,317.7L579.4,320.9L581.9,321.1L582.1,319.5L584.9,318.7L585.1,318.7ZM585.1,318.7L587.7,317.9L589.7,315.6L589.6,315.6L586.5,315.8L585.3,316.9ZM531.2,320.3L527.6,321.6L528.8,325.7L531.8,325.8L533.4,322.1ZM542.5,322.4L543.7,326.5L548.2,327.6L548.4,321.8L547.8,320.8L542.5,322.4ZM548.2,327.6L548.2,327.7L551.4,327.5L553.5,325.9L554.2,322.8L548.4,321.8ZM555.6,321.5L554.2,322.8L553.5,325.9L558.1,328.7L559.7,327.3L556.3,321.5ZM578.6,321.7L579.9,326L580.1,326.2L583.6,326L583.6,325.9L581.7,322.9L581.9,321.1L579.4,320.9ZM547.5,332.3L548.2,327.7L548.2,327.6L543.7,326.5L541.7,328.3L542.2,331.4L545,333.7L546.8,333.6ZM575.3,331.2L574.5,327.5L573.8,326.5L570.1,325.9L568,327.1L568.5,331.1L570.7,332.7L572.2,332.7L573.7,332.6ZM536,333.9L536.6,333.8L539.3,333.8L542,333.7L544.8,333.7L545,333.7L542.2,331.4L536.1,333.7ZM540.6,335.7L544.8,336.8L545.3,336.3L545.2,333.7L544.8,333.7L542,333.7L540.7,333.8ZM567.2,332.9L566.7,332.9L564,333L561.2,333.2L562,335.9L566.7,335.3ZM573,340.5L572,336.5L566.9,335.6L567.2,340.9L568.5,342.2L571.9,341.7ZM539.8,342.3L533.8,341.3L533,341.9L533.7,342.9L536.1,344.4L538.3,345.8L539.8,345.2L540,342.5ZM577.7,346.9L577.7,346.8L578.7,341.2L578.6,340.7L578.2,339.5L573,340.5L571.9,341.7L574.5,346.4ZM577.7,346.8L581.1,347.3L580,346.2L579.2,342.7L578.7,341.2ZM545.1,348.1L540.6,346.6L538.5,353.1L544.5,353.5L545.6,352.3ZM555.5,350.9L556.7,352.2L560.4,352.8L562.2,346.7L561.3,345.6L555.5,348.1ZM566.6,352.8L567.5,351.8L567.3,347.6L562.2,346.7L560.4,352.8L560.5,353ZM572.9,347.6L572.6,352L577.1,352.1L577.7,346.9L574.5,346.4ZM538.5,353.1L538.4,353.1L538.6,353.4L540.3,355L541.9,356.6L542,358.2L544.8,356.9L544.9,356.7L544.5,353.5ZM544.5,353.5L544.9,356.7L549.9,358.6L551.1,357.5L549.9,352.5L545.6,352.3ZM560.5,353L560.4,352.8L556.7,352.2L554.5,357.7L556.3,359.8L561,357.6ZM561.4,357.9L567,357.6L566.6,352.8L560.5,353L561,357.6ZM571.6,352.8L572.5,356.8L576.9,356.5L577.8,353.2L577.1,352.1L572.6,352ZM544.6,362.6L544.8,356.9L542,358.2L542,360.2L542,362.2ZM556.3,359.8L554.5,357.7L551.1,357.5L549.9,358.6L549.1,362.8L556.2,362.9ZM556.3,359.8L556.2,362.9L556.5,363.4L561.3,363.9L562.5,362.5L561.4,357.9L561,357.6ZM562.5,362.5L567.3,362.3L568.1,358.9L567,357.6L561.4,357.9ZM571.6,358L574.2,362.2L577.9,362.5L578.3,362.2L578.5,359L576.9,356.5L572.5,356.8ZM544.3,367.7L545.9,363.7L544.6,362.6L542,362.2L542,363.8L542.1,367.5L542.1,367.8ZM550.1,368.8L550.9,367.7L548.7,363.2L545.9,363.7L544.3,367.7L545.4,369.7ZM567.6,362.8L567.7,367.6L572.2,368.3L572.8,363.3ZM545.1,373.4L545.4,369.7L544.3,367.7L542.1,367.8L542.1,371.1L542.2,373.2ZM550.2,374.2L550.7,373.8L550.1,368.8L545.4,369.7L545.1,373.4L545.9,374.4ZM561,375L566,374.8L567.1,373.5L566.8,368.5L562.5,368.3L561.8,369L560.5,374.4ZM572.9,374.3L573.5,373.8L572.8,368.7L572.2,368.3L567.7,367.6L566.8,368.5L567.1,373.5ZM579.6,369.4L576.6,374.1L578.4,375.9L583.8,373.5L583.8,370.3L583.1,369.7ZM554.8,379.3L556.4,374L555.5,373.2L550.7,373.8L550.2,374.2L551.3,378.7ZM561,379.7L561,375L560.5,374.4L556.4,374L554.8,379.3L556,381.3ZM567.5,379.8L566,374.8L561,375L561,379.7L562.4,381L567.5,380ZM572.9,374.3L567.1,373.5L566,374.8L567.5,379.8L572.1,378.1ZM572.9,379.1L577.7,381L578.9,378.8L578.4,375.9L576.6,374.1L573.5,373.8L572.9,374.3L572.1,378.1ZM548.8,381L545.3,379.9L544,385L545.9,386.8L550.7,385.4ZM555.2,385L560.9,386.9L562.3,385.3L562.4,381L561,379.7L556,381.3L555.2,385ZM571.9,384L572.9,379.1L572.1,378.1L567.5,379.8L567.5,380L568.8,383.9ZM577.7,384.6L574,385.2L572,389.7L572.4,390.1L577.3,390.6L578.4,388.9ZM600.9,391L605.3,390.1L604.9,385.8L604.4,384.9L600.8,384.8L598.8,386.6L599.3,389.6ZM604.9,385.8L605.3,390.1L607.4,391.4L608.4,390.3L608.7,386.4L607.5,385.3ZM599.7,400.9L598.7,396.4L596.7,396.4L595.9,398.9L594.9,402.4ZM601.1,401.9L601,402.4L603,402.3L603.4,401ZM583.7,407.3L583.3,401.1L582.9,400.9L577.7,401.9L576.8,405.6L578,407.3L583.6,407.5ZM589.5,400.6L589,400L583.3,401.1L583.7,407.3L588.5,406.3ZM593.5,408.2L595.3,406.5L594.5,402.5L589.5,400.6L588.5,406.3L590.9,408.4ZM565.7,412.7L570.5,414.6L573.9,412.5L570.7,407.3L566.5,407.4ZM588.5,406.3L583.7,407.3L583.6,407.5L584.4,412.2L588.2,412.6L590.9,408.4ZM595,414.2L593.5,408.2L590.9,408.4L588.2,412.6L589.8,414.5L594.9,414.4ZM595,414.2L600.1,411.5L600.4,410.1L600.8,407.9L595.3,406.5L593.5,408.2ZM558.1,418.4L559.5,415L554,411.3L552.9,412.3L552.8,417.1L556.1,418.9ZM553.7,425.4L556.1,418.9L552.8,417.1L548.4,418.6L548.1,419.4L550.6,424.4L553.6,425.5ZM569.7,424.8L571.4,423.5L571.5,418.7L571,418.3L565.7,419.4L565.2,420.5L566.9,424.3ZM577.4,417.9L571.5,418.7L571.4,423.5L576.8,423.9L578,418.7ZM583.2,418.5L578,418.7L576.8,423.9L577.5,425.1L582.8,426.1L585,423.6L583.6,418.9ZM589,417.8L583.6,418.9L585,423.6L587.3,423.9L591,420.3ZM593.6,420.7L591,420.3L587.3,423.9L590.4,427.2L594.1,424.7L594.6,423.5ZM595.9,417.5L593.6,420.7L594.6,423.5L595.1,422.2L596.6,418.2L597.2,417.8ZM545,425.6L545,427.6L545,431L545,431.5L547.4,431L547.4,426.3ZM553.2,430.6L559.7,431.8L560.9,429.7L559.5,426L553.7,425.4L553.6,425.5ZM564.8,429.2L566.5,431.2L571.5,430.2L569.7,424.8L566.9,424.3L566.3,425ZM590.4,427.2L590,430.8L590.4,431.4L591.2,430.1L593.6,426.1L594.1,424.7ZM553,430.8L548.2,431.3L548.5,436.3L553.3,436ZM553.8,436.7L560.4,435.1L559.7,431.8L553.2,430.6L553,430.8L553.3,436ZM564.8,429.2L560.9,429.7L559.7,431.8L560.4,435.1L561.6,436.4L565.4,436.2L565.6,436.1L566.5,431.2ZM572.7,431L571.5,430.2L566.5,431.2L565.6,436.1L571.2,436.6ZM575.6,430.4L572.7,431L571.2,436.6L571.5,437L578,436.5L577.5,431.9ZM578,436.5L578.7,437.4L583.4,437.6L583.9,437L582.6,431.2L577.5,431.9ZM549.8,441.7L546.8,437.7L545,437.7L545,437.8L544.9,441.2L547.7,441.8L549.4,442.2ZM548.5,436.3L546.8,437.7L549.8,441.7L553.9,441.2L553.8,436.7L553.3,436ZM558.4,442.7L560.1,441.1L561.6,436.4L560.4,435.1L553.8,436.7L553.9,441.2L555.3,442.5ZM561.6,436.4L560.1,441.1L565.7,442.9L566.6,442.1L565.4,436.2ZM572.2,442.1L576.7,442.2L578.7,437.4L578,436.5L571.5,437ZM576.7,442.2L578.4,444L583.2,443.7L583.8,442.4L583.4,437.6L578.7,437.4ZM555.3,442.5L553.9,441.2L549.8,441.7L549.4,442.2L550.5,442.5L550.6,445.3L550.7,448.1L550.7,451L551.1,451L552.8,449.1ZM561.3,448.4L558.4,442.7L555.3,442.5L552.8,449.1ZM578.4,444L576.7,442.2L572.2,442.1L571.3,447.9L572,448.4L577.5,447.7ZM563.6,450.5L561.3,448.4L552.8,449.1L551.1,451L553.8,450.9L556.8,450.8L559.9,450.7L562.9,450.6L563.6,450.6ZM558,453.3L558.7,454.6L564.3,450.6L562.9,450.6L559.9,450.7L557.7,450.8ZM583.4,449.8L581.3,449.9L578.2,450.1L576.7,450.1L576.9,454.2L583.5,451.5ZM558.4,458.3L558.7,454.6L558,453.3L550.7,451.5L550.7,452.5L554.5,458.2ZM558.7,454.6L558.4,458.3L565.5,458.8L566.3,458L565.3,450.6L564.3,450.6ZM566.3,458L569.2,457.2L570.8,450.4L569,450.4L566,450.6L565.3,450.6ZM554.1,466.8L558.4,461.1L558.4,458.3L554.5,458.2L550.9,460.3L551,462.5L551,464.7ZM560.6,465.3L563.3,466.9L567.2,464.9L565.5,458.8L558.4,458.3L558.4,461.1ZM579.3,460.5L576,456.6L573,458L572.2,465.3L574.2,466L578.7,462.5ZM554.1,466.8L554.5,468.1L556,468.7L560.6,465.3L558.4,461.1ZM563.3,466.9L560.6,465.3L556,468.7L558.4,471.2L562.1,471ZM564.9,474.9L568.9,472.3L569.1,465.9L567.2,464.9L563.3,466.9L562.1,471ZM578.7,462.5L574.2,466L577.2,471.3L582.7,469.2L583,468.3ZM556,468.7L554.5,468.1L553.1,469.9L554.3,473.2L556,476L556.1,476.2L558.4,471.2ZM575.8,247.1L576.1,246.7L575.9,239.6L575.7,239.4L569.8,240.9L569.2,243.4ZM580.6,240.2L575.9,239.6L576.1,246.7L581.9,245.8ZM587.8,243.1L586.3,241.7L584.6,240L583.1,239.7L581.6,239.4L580.6,240.2L581.9,245.8L587.7,243.7ZM565.1,245.3L565.1,245.5L565.2,248.5L563.1,249.9L561.5,251L562.9,252.4L569.2,250.9L569.9,250.1L568,244.8ZM569.9,250.1L574.9,250.1L575.8,247.1L569.2,243.4L568,244.8ZM581.9,245.8L576.1,246.7L575.8,247.1L574.9,250.1L575.2,250.6L582.3,252.9L583.5,251.8L581.9,245.8ZM563.7,256.3L562.9,252.4L561.5,251L560.9,251.4L559.1,254.5L560.4,256.8L560.7,257.2L563.6,256.4ZM570.5,257.4L569.2,250.9L562.9,252.4L563.7,256.3L570.1,257.9ZM569.9,250.1L569.2,250.9L570.5,257.4L574.4,255.5L575.2,250.6L574.9,250.1ZM581.4,256.9L582.3,252.9L575.2,250.6L574.4,255.5L576.1,256.7ZM582.3,252.9L581.4,256.9L582.2,258.9L588,259.4L588.5,258.5L588.6,252.8L587.3,251.8L583.5,251.8ZM594.5,257.1L593.7,252.6L588.6,252.8L588.5,258.5ZM594.3,252L593.7,252.6L594.5,257.1L595.1,257.8L600,257.5L599.1,252.7ZM605.3,251L604.7,251.9L605.5,256.9L606.6,257.3L613.4,255.3L613.4,254.3L613.5,252L612,251L611.9,251ZM562.6,263.5L563.6,256.4L560.7,257.2L561.7,259L561,261.7L560.5,263.5ZM563.7,256.3L563.6,256.4L562.6,263.5L563.8,264.5L569.8,263.6L570.8,262.8L570.1,257.9ZM570.8,262.8L574.7,263.8L575.9,263.3L576.1,256.7L574.4,255.5L570.5,257.4L570.1,257.9ZM580.8,262.3L582.2,258.9L581.4,256.9L576.1,256.7L575.9,263.3L579.6,263.3ZM586.7,265.4L589.3,262.4L588,259.4L582.2,258.9L580.8,262.3ZM594.3,263.2L595.1,257.8L594.5,257.1L588.5,258.5L588,259.4L589.3,262.4L593.8,263.7ZM612.3,264L613.6,264.7L614.1,264.6L615,262.7L616.4,260.2L613.5,256.8ZM618.7,264.2L618.7,261.7L617.8,263.5L617.1,264.4ZM563.9,269.1L563.8,264.5L562.6,263.5L560.5,263.5L560.3,264.4L560.4,266.7L560.4,269L561.2,269.7ZM563.8,264.5L563.9,269.1L564.1,269.5L569.1,271.8L569.9,271.1L569.8,263.6ZM574.7,263.8L570.8,262.8L569.8,263.6L569.9,271.1L575,270.4L575.1,270.3ZM579.6,263.3L575.9,263.3L574.7,263.8L575.1,270.3L581.5,270.4ZM586.7,265.4L580.8,262.3L579.6,263.3L581.5,270.4L581.9,270.7L586.5,268.3ZM601.6,263.2L601.4,268.7L605.1,269.5L607.6,268L609.3,264.4L608.7,263.8ZM613.6,264.7L612.3,264L609.3,264.4L607.6,268L611.8,271.8L613.9,269.5L613.8,268.2L612.8,269L613.1,266.7L613.6,265.6ZM564.1,269.5L563.9,269.1L561.2,269.7L562,270.5L563.3,271.7ZM564.1,269.5L563.3,271.7L563.5,271.9L566.3,273.1L568.9,274.3L569.1,271.8ZM581.9,270.7L582.4,274.6L588.1,276.5L590.7,270.7L586.5,268.3ZM593.9,269.8L595.9,276.4L600.6,275.5L600.7,269.2L594.6,269ZM605.1,269.5L606.8,276L611.7,275.2L611.8,271.8L607.6,268ZM611.7,275.2L613,276.1L617.2,276.2L617.2,275.6L617.8,272.8L618.2,270.8L613.9,269.5L611.8,271.8ZM575.6,276.4L574.2,277.4L574.6,280.1L575.8,281.1L577.5,282.5L580.8,282.3L581.1,282.1L580.5,276.8ZM582.4,274.6L580.5,276.8L581.1,282.1L586.4,282.8L587.4,281.7L588.6,277.4L588.1,276.5ZM594.8,278.3L588.6,277.4L587.4,281.7L594.6,283.9L595.9,282.5ZM608.2,282.6L606.4,276.4L603,277.2L601.3,282.2L605.9,285ZM580.3,287.5L580.8,282.3L577.5,282.5L578,282.9L578.3,285.2L578.6,287.5L578.6,287.6ZM595.9,282.5L594.6,283.9L593.2,288.4L593.6,288.7L600,289.8L600.4,289.5L599.2,283ZM600.4,289.5L605.4,289.3L606.2,287.8L605.9,285L601.3,282.2L599.2,283ZM606.2,287.8L613.4,288.2L613.7,287.7L612.3,282.7L612,282.4L608.2,282.6L605.9,285ZM580.2,296.5L587.8,295.2L588.5,294.1L589.5,289.5L587.4,287.9L581.7,289.4ZM593.2,288.4L589.5,289.5L588.5,294.1L594.9,295.2L595.6,294.4L593.6,288.7ZM593.6,288.7L595.6,294.4L599.3,294.2L600,289.8ZM606.8,294.7L605.4,289.3L600.4,289.5L600,289.8L599.3,294.2L599.8,294.8ZM590.2,299.6L587.8,295.2L580.2,296.5L580.1,296.6L580.1,296.7L580.5,299L583.2,300.8L585.8,302.6L588.5,302.4L588.9,302.4ZM587.8,295.2L590.2,299.6L594.5,299.3L594.9,295.2L588.5,294.1ZM606.8,294.7L599.8,294.8L599.7,299.9L601.8,301.6L604.4,301.5L605.9,301.4ZM613.7,292.8L611.8,294.2L613.4,300.8L615,300.7L617.7,300.5L617.4,297.2L616.6,294.7L616.3,293.8ZM590.2,299.6L588.9,302.4L591.2,302.3L593.8,302.1L595.1,302.1L595.2,299.9L594.5,299.3ZM591.4,302.5L591.4,302.3L591.2,302.3L588.5,302.4L585.8,302.6L586.8,303.6ZM600,301.8L599.1,301.8L596.5,302L593.8,302.1L591.4,302.3L591.4,302.5L591.7,302.8L599.1,302.2ZM616.9,303.8L617.9,303.2L617.9,302.7L617.7,300.5L615,300.7L613,300.8L612.8,302.6L612.9,302.7ZM591.7,302.8L591.4,302.5L586.8,303.6L588.7,305.5L591.4,308.1L592.4,307.2ZM599.1,302.2L594.6,307.9L596.7,309.8L601.2,306.7L600.7,301.7L600,301.8ZM607.9,303.4L605.6,301.4L604.4,301.5L601.8,301.6L600.7,301.7L601.2,306.7L602.1,307.5L607.4,307.6ZM607.7,308.1L611.9,309.6L612.5,308.9L612.9,302.7L612.8,302.6L607.9,303.4L607.4,307.6ZM617.7,308.1L619.5,307.8L619.3,307.3L618.1,304.9L617.9,303.2L616.9,303.8L617.5,307.9ZM592,313.8L595.7,314.3L597.1,312.5L596.7,309.8L594.6,307.9L592.4,307.2L591.4,308.1L591.7,308.4L591.4,312.3L591.1,313ZM602.1,313.3L602.7,312.8L602.1,307.5L601.2,306.7L596.7,309.8L597.1,312.5ZM602.1,307.5L602.7,312.8L605.9,312.6L607.7,308.1L607.4,307.6ZM605.9,312.6L607.8,314.3L612.2,311.2L611.9,309.6L607.7,308.1ZM590.2,317.9L592,313.8L591.1,313L590.4,314.7L588.3,317.3ZM592,313.8L590.2,317.9L590.6,318.6L596.2,318.2L595.7,314.3ZM602.1,313.3L597.1,312.5L595.7,314.3L596.2,318.2L596.7,319L600.4,319L602.2,317.3ZM618.4,312.7L614.2,313.4L612.7,317.8L616.2,319L617.8,317.7L618.9,313ZM586.7,322.1L590,322.5L590.6,318.6L590.2,317.9L588.3,317.3L587.7,317.9L585.9,318.5ZM590.6,318.6L590,322.5L591.3,323.9L595.3,323.5L596.7,319L596.2,318.2ZM602.3,323.9L602.5,323.7L600.4,319L596.7,319L595.3,323.5L596.9,325.2ZM606.7,318.9L602.2,317.3L600.4,319L602.5,323.7L606,322.9ZM584.6,323.5L581.8,322.5L581.7,322.9L583.6,325.9L582.3,328.6L585.3,327.4ZM602.3,323.9L596.9,325.2L597,327.9L600.9,330L602.9,328.8ZM617.8,328.8L618.2,328.6L618,323.3L612,323.9L612.6,328ZM607.3,333.4L606.6,329.7L602.9,328.8L600.9,330L600.6,333.5L602.8,335.1L607.1,333.7ZM616.2,333.8L617.8,328.8L612.6,328L612.3,328.3L612,333.2L613,333.9ZM602.8,335.1L602.3,339.1L607.9,339.9L608.6,339.3L607.1,333.7ZM601.6,339.8L596.2,338.7L596,338.9L597.6,344.5L601.2,343.7L601.7,343.1ZM607.9,339.9L602.3,339.1L601.6,339.8L601.7,343.1L606.3,344.8L607.4,344ZM608.6,339.3L607.9,339.9L607.4,344L611.7,345.7L613.8,343.8L612.8,339.9L611.6,339.2ZM616.9,344.4L617.6,344.1L618.3,340.4L616.3,338.5L612.8,339.9L613.8,343.8ZM621.4,345.1L623.4,342.9L622.3,339L618.3,340.4L617.6,344.1ZM607.4,344L606.3,344.8L605.3,349.5L606.2,350.1L611.9,350.2L611.7,345.7ZM619.3,355L622,356L622.6,355.4L624.2,349.7L622.2,348.6L618.1,350.6ZM608.3,355.9L606.7,354.9L602.3,356.4L602.2,358.1L606.6,360.7L608.6,358.8ZM613.9,355.7L612.4,353.4L608.3,355.9L608.6,358.8L611.2,359.5ZM619,361.7L622.2,360L622.7,359.2L622,356L619.3,355L616.2,356.8L616.4,359.7ZM608.6,358.8L606.6,360.7L606.5,363.8L612.1,365.1L612.5,364.7L612.9,361.8L611.2,359.5ZM618.4,365.4L622.3,365.5L623.6,363.1L622.2,360L619,361.7ZM608.8,371L611.8,370.1L612.1,365.1L606.5,363.8L605.5,364.7ZM612.5,364.7L612.1,365.1L611.8,370.1L612.4,370.5L618.5,370.2L618.4,365.4ZM612.4,370.5L613.5,375.2L617.1,376.6L619.1,370.8L618.5,370.2ZM617.3,377L617.3,380.1L619.1,380.7L619.2,380.5L621.1,377.6L620.7,376.5ZM605.8,383.6L606.4,384.2L608.7,386.4L610.9,385.8L611.6,385.6L613.2,381.8L607.7,380.5ZM615.9,381.4L613.4,381.7L613.2,381.8L611.6,385.6L613.1,385.2L615.2,384.6L616.5,383.9ZM615.9,381.4L616.5,383.9L617.3,383.4L619.1,380.7L617.3,380.1ZM634.5,265.6L635.3,265.1L634.7,260.7L634.5,260.8L633.2,261.7L631.7,265.4ZM634.5,265.6L631.7,265.4L631.6,265.7L631.6,268.4L631.6,271.1L631.3,271.9L634.1,272.6L634.6,272.2ZM633.9,277.1L634.1,272.6L631.3,271.9L629.8,275.2L630,277.2ZM663.2,275.9L667.8,276.6L668.4,276.1L668.3,272.3L666.8,271.2L666,271.9L663.9,273.5L663,275.3ZM668.3,272.3L668.4,276.1L673.7,277.4L672.8,275.4L671.6,272.5L669.9,271.5ZM634.5,281.5L635,281L634.7,278.2L633.9,277.1L630,277.2L630.2,279L630.8,281.7L631,282.7ZM641.1,275.7L634.7,278.2L635,281L639.5,282.2L641.2,281.4L641.3,275.9ZM668.4,276.1L667.8,276.6L666.8,281.7L668,282.4L672.4,282.6L674.5,279.9L674.1,278.3L673.7,277.4ZM635.2,288.3L634.5,281.5L631,282.7L631.3,284.3L632.4,286.9L633.1,288.5ZM634.5,281.5L635.2,288.3L635.4,288.3L639.4,288.2L639.5,282.2L635,281ZM672.2,287.9L673.1,286.8L672.4,282.6L668,282.4L667.6,288.4ZM635.3,293.6L635.4,288.3L635.2,288.3L633.1,288.5L633.5,289.5L634.3,291.8L635,293.8ZM646.4,293.7L645.6,286.1L640.4,288.9L641.1,291.7L646,293.9ZM639.6,298L639.3,293.8L635.3,293.6L635,293.8L635.1,294L635,296.3L635,298.7L634.9,299.1ZM663.7,307.4L665.3,307.2L667.8,306.8L668.9,304.5L669.3,303.7L667.3,302.3L662.8,305.2ZM651.6,309L652.3,314.1L653.1,314L653,312.8L652.5,309.2L652.4,308.2L652.3,308.3ZM622,313.2L622.2,315.8L622.4,318.2L624.1,318.5L625.8,313.8ZM647.1,313.3L642.9,315.1L643.1,316.9L647.6,318.5ZM642.4,318L639.4,319.4L638.7,322.3L643.9,322.5L644.3,322.1ZM648.5,324.1L652.3,323.3L652.2,319.2L651.3,318.3L648,318.9L646.9,321.6ZM626.1,344.8L625.9,344.9L626.2,348.6L630.3,348.9L629.8,345.5ZM633.4,349.4L633.9,349.8L638.7,349.9L638.8,349.8L639.1,345.6L638.5,345.1L634.7,345.5ZM625.1,349.4L625.1,351.3L625.3,354L625.3,354.1L626.5,353.4L625.5,349.4ZM630.3,348.9L626.2,348.6L625.5,349.4L626.5,353.4L628.8,353.6L630.7,349.3ZM628.8,353.6L629.5,354.3L633.6,354.4L634.2,353.7L633.9,349.8L633.4,349.4L630.7,349.3ZM625.9,358.3L625.9,358.9L624.1,362.2L625,362.7L626.8,359ZM623.5,371.7L623.8,371.6L625.8,370.5L625.4,366.9L624.8,366.2L621.6,366.8L621.4,369.8L621.3,371.3ZM635.3,369.6L635,366.3L634.7,366L630.2,367.9L630.3,371.6L632.3,372.3L632.4,372.3ZM691.1,306.3L694.2,306.9L694.4,306.8L696.5,301.6L695.5,300.8L694.6,301.4L691.9,303L690.2,305ZM670.7,312.8L672.1,310.9L671.9,308.2L669.9,307.5L668.1,306.9L667,311L667.6,311.6ZM681.2,309.8L686.9,311.1L687.2,310.9L685.9,308L685.2,308.1L682.4,308.8L681.1,309.1ZM687.2,310.9L688.7,310.9L689.1,310.6L691.1,306.3L690.2,305L690,305.2L688,307.5L685.9,308ZM694.5,311.9L695.6,310.7L694.2,306.9L691.1,306.3L689.1,310.6ZM665.9,315.9L667.3,316.9L671.3,314.6L670.7,312.8L667.6,311.6ZM676.6,315.1L677.2,312.4L675.7,310.7L672.1,310.9L670.7,312.8L671.3,314.6L671.9,315.2ZM680.9,310.6L677.2,312.4L676.6,315.1L677.1,315.8L681,316.8L682.5,314.9ZM684.8,314.7L686,315.8L690.6,316L688.7,310.9L687.2,310.9L686.9,311.1ZM690.6,316L691,316.3L693.8,315.4L694.5,311.9L689.1,310.6L688.7,310.9ZM696.3,316.8L699,316L699.6,311.2L695.6,310.7L694.5,311.9L693.8,315.4ZM667.4,319.5L667.3,316.9L665.9,315.9L662.7,315.8L662.7,320.1L665.6,321.1ZM671.9,315.2L671.3,314.6L667.3,316.9L667.4,319.5L671.8,320.2L671.8,320.1ZM676.6,315.1L671.9,315.2L671.8,320.1L675.6,321.2L677.1,315.8ZM677.1,315.8L675.6,321.2L676.1,321.9L681.9,320.6L682,320.5L681,316.8ZM682.5,314.9L681,316.8L682,320.5L685.7,320.4L686,315.8L684.8,314.7ZM691,316.3L690.2,320.3L690.6,320.7L694.8,321.1L696.1,320L696.3,316.8L693.8,315.4ZM658.1,320.5L656.9,319.2L653.8,320.4L654.2,323.7L654.4,325.6L656.2,326ZM665.6,321.1L662.7,320.1L661.3,321L661.3,324.9L662.3,325.8L666.1,324.7L666.5,324.2ZM669.9,324.8L671.8,320.2L667.4,319.5L665.6,321.1L666.5,324.2ZM676.1,321.9L676.1,324.8L676.4,325.3L680.9,327.2L682,326.2L681.9,320.6ZM682,320.5L681.9,320.6L682,326.2L684.5,326.2L686.7,324.3L687,321.1L685.7,320.4ZM687,321.1L686.7,324.3L690.6,327.2L691.6,325.7L690.6,320.7L690.2,320.3ZM690.6,320.7L691.6,325.7L695.7,325.1L694.8,321.1ZM661.3,324.9L656.5,326.3L657.4,329.2L662.1,330L662.3,329.8L662.3,325.8ZM662.3,325.8L662.3,329.8L665.7,330L666.1,329.7L666.1,324.7ZM666.1,324.7L666.1,329.7L670.7,329.1L670.2,325.3L669.9,324.8L666.5,324.2ZM676.4,325.3L676.1,324.8L670.2,325.3L670.7,329.1L671.8,330.2L674,330ZM695.7,325.1L691.6,325.7L690.6,327.2L690.2,330L691,330.8L694.6,330.9L695.1,330.5L696.4,325.5ZM655.4,332.8L656.5,334L661.4,335L662.1,330L657.4,329.2ZM671.8,330.2L670.2,334.9L671,335.7L676,335.6L675.2,331L674,330ZM699.6,335.5L699.7,335.6L699.9,335.4L702,333.5L702.3,330.6L700.6,330.5L700.4,330.7ZM671.7,339.8L671,335.7L670.2,334.9L667,335.3L665.9,336.2L666.2,340L667,340.8L671,340.4ZM676.3,335.8L676,335.6L671,335.7L671.7,339.8L675.3,340.3ZM667,340.8L666.2,340L662,341.9L661.2,344.7L666.8,345.5L667.4,345.1ZM676.1,343.6L680.3,345.7L681.8,344.7L681.3,340.2L681.1,340L676.3,341.8ZM666.8,345.5L665.2,350.4L665.9,351L670.5,349.4L670.3,346L667.4,345.1ZM614.5,393.4L618.3,388.1L618.6,387.1L616.4,386.5L613.4,389.2ZM610.3,386.9L609.3,390.4L612,393.9L613.8,393.8L614.4,393.7L614.5,393.4L613.4,389.2ZM614.4,393.7L616.7,393.5L619.7,393.3L619.8,393.3L618.3,388.1L614.5,393.4ZM607.9,397.3L605.8,394.3L605,394.4L604,398.2ZM607.9,397.3L609.8,397.9L610.1,397.9L610.9,397.4L610.7,394L607.9,394.2L605.8,394.3ZM616.7,393.5L613.8,393.8L610.9,394L610.7,394L610.9,397.4L614.8,398.3L615.8,397.2ZM621.3,394.8L618.9,393.4L616.7,393.5L615.8,397.2L620.4,397.1ZM604.3,403L606.6,402.3L609.8,397.9L607.9,397.3L604,398.2L604,398.3L603,402.3L602.8,402.9ZM611.1,404.9L606.6,402.3L604.3,403L607.8,407L610.8,406.7ZM615.6,408.4L616.6,402.3L616.5,402.3L611.3,404.6L611.1,404.9L610.8,406.7L611.7,408.4ZM616.6,409.1L620.4,406.6L620.7,405.5L620.7,403.2L620.6,403L616.6,402.3L615.6,408.4ZM627,412.1L630.2,412.7L631.4,412L630.4,407.8L627,407.3L626,409L625.6,410.9ZM606.3,415.3L606,413.4L602.2,413.8L603,417.8L603.2,417.8ZM615.5,414L611.6,413L610.7,415.7L611.6,417.2L614,417L616.1,416.9ZM621.6,412.3L617.5,411.9L615.5,414L616.1,416.9L616.9,416.8L619.8,416.6L621.8,416.4ZM627,412.1L625.6,410.9L622.2,411.8L621.6,412.3L621.8,416.4L622.7,416.3L625.6,416.1L626.2,416ZM630.2,412.7L627,412.1L626.2,416L628.6,415.8L630.5,415.7ZM633.7,411.7L631.4,412L630.2,412.7L630.5,415.7L631.5,415.6L634.4,415.3L635.2,415.2ZM634.8,410.5L633.7,411.7L635.2,415.2L637.4,415L640.3,414.8L642.1,414.6L642.1,414L641.9,413.5L639.7,411.3ZM597.6,417.4L596.6,418.2L597.4,418.1ZM608.9,421.1L613.4,422.5L613.7,422.2L614.2,417L614,417L611.1,417.2L608.2,417.4L608,417.5ZM613.7,422.2L619.2,421.4L618.7,416.7L616.9,416.8L614.2,417ZM597.6,426.8L597.8,420.8L596.2,419.3L595.1,422.2L593.6,426.1L593,427.1ZM613.5,425L613.4,422.5L608.9,421.1L606.4,423.2L609.5,428.4L609.7,428.6L611,428.1ZM621.1,422.6L617.8,427.6L617.9,428L623.9,427.9L623.9,425.5L624,422.7ZM592.4,433.3L592.9,432.9L592.4,428.1L591.2,430.1L589.2,433.3ZM602.4,427.1L603.2,431.7L607.9,432.6L609.7,428.6L609.5,428.4ZM617.9,428L617.6,431.7L623.8,432.5L623.9,429.4L623.9,427.9ZM590.8,438.8L592.4,433.3L589.2,433.3L588.7,434.1L588.3,437.2L588,438.8ZM598,438.4L596.9,434.3L592.9,432.9L592.4,433.3L590.8,438.8L592.3,440.3L597.2,439.1ZM613.5,438.4L607.9,439.2L608.5,442.8L612.8,443.9L614.6,442.2L613.7,438.8ZM613.7,438.8L614.6,442.2L618,443.3L619.7,438.2ZM596,450.3L598.1,449.2L597.5,444.6L597.4,444.5L593.1,445.1L592.7,449.5ZM597.5,444.6L598.1,449.2L601.9,449.9L602.9,444.7L602.5,444.2ZM619.2,444.7L618.3,449.1L623.5,448.9L623.5,448.8L623.6,444.9L623.6,443.5ZM591.2,454L591.1,450.5L587.4,449.4L587.4,449.7L588.7,452.9L589.4,454.8ZM618.3,449.1L618.1,449.4L619.5,454.1L623.4,454.1L623.4,452.7L623.5,448.9ZM591.7,459.6L592.8,455.8L591.2,454L589.4,454.8L590,456.2L591.4,459.5L591.3,459.6ZM602.6,454.1L602.3,461.1L602.5,461.3L608.3,458.3L607.8,456.6L602.6,454ZM614.2,455.4L612.6,453L609.6,453.4L607.8,456.6L608.3,458.3L608.5,458.5L612.3,458.7ZM618.8,455.5L614.2,455.4L612.3,458.7L613.7,460.1L619,458.9L619,458.8ZM619.5,454.1L618.8,455.5L619,458.8L623.2,460.2L623.3,456.6L623.4,454.1ZM592.6,463.5L596.8,465.2L598.2,460.1L597.8,459.6L592.5,460.7ZM613.7,460.1L613.9,464.1L618.1,465L619,458.9ZM619,458.8L619,458.9L618.1,465L618.3,465.3L623.2,463.9L623.2,460.4L623.2,460.2ZM591.1,470.2L592.6,469.3L591.6,464.4L588.4,465L587.8,466.4L586.8,468.8ZM618.3,465.3L618.8,468.8L619.5,469.6L623.9,470.8L623.5,467.7L623.1,464.3L623.2,463.9ZM633.8,416.5L639.4,414.9L639.4,414.8L637.4,415L634.4,415.3L632.4,415.5ZM650.7,414.7L655.7,415.9L654.9,413.2L652,413.6L650.6,413.7ZM633.8,416.5L632.4,415.5L631.5,415.6L628.6,415.8L627.5,415.9L627.7,421.2L633.1,421.7L634.1,420.7ZM639.6,420.3L640.5,416.4L639.4,414.9L633.8,416.5L634.1,420.7L638.5,421.4ZM650.7,414.7L649.1,416.1L649.9,421.3L651.2,422.6L656.7,419.8L655.9,416.8L655.7,415.9ZM625.7,427.1L627.2,425.8L627,422L624,421.7L623.9,425.5L623.9,427ZM644.2,425.8L645,426.4L651.4,427.2L651.2,422.6L649.9,421.3L644.6,422.5L644.5,422.6ZM623.9,427L623.9,429.4L623.8,433.2L626,433.5L625.7,427.1ZM632.3,428.3L627.2,425.8L625.7,427.1L626,433.5L626.6,434L631.4,432.7ZM640,432.7L638.9,427.5L633.5,427.3L632.3,428.3L631.4,432.7L633,434.2L639.5,433.1ZM658.8,433.3L657.4,430L655.2,428L651.7,427.5L649.7,432.4L651.5,435.5L657.2,435.4ZM657.4,430L658.8,433.3L660.5,433.5L659.9,431.1L659.2,428.7ZM626.6,434L626,433.5L623.8,433.2L623.8,433.3L623.7,437.2L623.7,439.1L626.2,437.8ZM637.5,440.5L639.5,433.1L633,434.2L633.8,439.8L634.8,440.7ZM651.5,435.5L649.7,432.4L644.9,433L643.5,433.9L644.2,438.1L645.9,439.4L650.4,438.5ZM633.8,439.8L628.5,440.4L626.9,445.8L628.3,447L631.3,447L633.7,444.9L634.8,440.7ZM633.7,444.9L639.6,448.8L641.8,446.4L638.9,441L637.5,440.5L634.8,440.7ZM645.9,439.4L645.7,446.1L648.9,446.5L651.4,444.8L651.5,440.3L650.4,438.5ZM651.4,444.8L657.2,445.8L657,440.2L651.5,440.3ZM628.3,447L627.4,452.6L632.5,455.1L634.6,452.4L631.3,447ZM631.3,447L634.6,452.4L638.9,451.2L639.6,448.8L633.7,444.9ZM648.9,446.5L651.6,452.4L652.3,453L657.6,451.5L657.3,445.9L657.2,445.8L651.4,444.8ZM657.3,445.9L657.6,451.5L657.9,451.7L662,451.8L666,449.6L665.6,448.8L663.9,445.4L663.5,444ZM623.4,453.2L623.3,456.6L623.3,458.6L626.1,458L625.5,453.5ZM662,451.8L664.7,457.5L667.1,456.8L667.2,455.4L667.3,452.3L666,449.6ZM632.6,456.8L627.5,459.4L627,464.2L633.3,463.6L633.7,463.2L634.2,458.9ZM633.7,463.2L639,465.2L640.5,459.9L638.5,458.6L634.2,458.9ZM663.9,463.8L663.3,459.2L658.8,457.8L657,459.4L656.1,464.2L656.3,464.3L663.6,464.1ZM623.1,464.3L623.5,467.7L623.9,471L624,471.4L624.9,471.4L626.7,468.8L625.9,465.1ZM656.1,464.2L653.1,464.6L651,471.3L651.2,471.5L657.2,472.4L658.4,471L656.3,464.3ZM681.9,415.2L682.7,414.6L682.2,410.9L678.5,412L679,414.9L679.1,415ZM660.8,419.5L659.9,415.8L657.3,415.6L655.9,416.8L656.9,420.4L657,420.9L660.3,420.5ZM694.3,427.8L695.6,425L694.2,423.9L693.4,422.9L691,423.2L690.5,424L691.1,427.9L691.3,428.1ZM670.4,431.9L669.4,429L668.6,428.4L665.9,429.2L665.5,432.1L665.8,432.7L669.9,432.5ZM673.4,431.6L672.9,427.7L669.4,429L670.4,431.9ZM682,429L681.6,432L685.7,433.6L686.9,431.8L685.6,428.7L682.4,428.6ZM699.7,432L699.9,432.3L702.7,433L704.5,431.8L703.2,430.8L700.4,428.7ZM665,437.1L665.5,436.8L665.8,432.7L665.5,432.1L660.1,431.9L660.9,434.7L661.2,435.9ZM676.9,432L676.3,431.3L673.7,431.7L673.8,437L677.1,436.1ZM678.1,436.5L680.5,436.5L681.4,432.3L676.9,432L677.1,436.1ZM691.3,432.9L690.7,435.6L691,436.2L694.5,437.9L695.9,436.4L694.9,432.8ZM698.5,436L698.9,436.4L702.8,437.3L703.5,436.5L702.7,433L699.9,432.3ZM707.5,437L709.3,435.7L706.7,433.6L704.5,431.8L702.7,433L703.5,436.5ZM669.9,436.8L665.5,436.8L665,437.1L664.8,440.1L668,441.8L668.5,441.4ZM673.5,440.6L673.1,437.6L670.4,436.6L669.9,436.8L668.5,441.4L673.4,440.9ZM690.7,435.6L686.4,435.5L686.3,440.6L686.7,441.1L688.8,440.8L691,436.2ZM694.8,440.4L694.5,437.9L691,436.2L688.8,440.8L689.7,441.3L694.7,440.5ZM694.5,437.9L694.8,440.4L698.5,441.1L699.1,440.7L698.9,436.4L698.5,436L695.9,436.4ZM702.4,440.5L702.8,437.3L698.9,436.4L699.1,440.7ZM707.5,437L706.9,440.3L707.8,441.5L712.1,441.9L711.3,439.7L710.1,436.4L709.3,435.7ZM664.8,440.1L662.6,440.8L662.9,441.8L663.8,445.2L664.3,445.1ZM664.8,440.1L664.3,445.1L665.9,445.9L668.5,444.8L668,441.8ZM673.5,444.1L677.9,445.4L678.8,444.9L678.8,441.6L677.5,440.6L673.5,440.6L673.4,440.9ZM681.6,439.4L678.8,441.6L678.8,444.9L681.8,445.3L682.4,445ZM689.7,441.3L688.8,440.8L686.7,441.1L685.5,444.7L685.9,445.2L690,446L691.4,445ZM694.7,440.5L689.7,441.3L691.4,445L694,445.2ZM698.8,445.9L698.9,445.7L698.5,441.1L694.8,440.4L694.7,440.5L694,445.2ZM704.1,444.9L706.7,445.2L707.8,441.5L706.9,440.3L703.2,441.3L703.5,444.4ZM712,445.4L713.1,443.9L712.5,443L712.1,441.9L707.8,441.5L706.7,445.2L708,446.2ZM673.1,449.1L673.5,449.4L677.5,448.6L677.9,445.4L673.5,444.1L672.6,444.9ZM681.9,449.4L681.8,445.3L678.8,444.9L677.9,445.4L677.5,448.6L678.2,449.9L681.3,450ZM681.8,445.3L681.9,449.4L685.7,449.8L686.1,449.4L685.9,445.2L685.5,444.7L682.4,445ZM690.3,450L690,446L685.9,445.2L686.1,449.4ZM665.8,448.8L665.6,448.9L667.3,452.3L667.2,453L669.2,452.9L669.4,450.3L669.3,450.1ZM681.3,450L678.2,449.9L677.3,453.1L682.2,454.1ZM694.1,450.5L693.7,450.1L690.3,450.1L689.5,453.4L691.2,455.4L694.2,453.5ZM716.2,452.9L719,453.6L719.3,453L720.2,450.7L717.7,449.2L716.7,450.3ZM673.3,453.6L673.6,457.4L674.7,458.1L677.2,457.7L677.2,453.2L674.3,452.8ZM669.4,461.4L668.7,458.3L667.1,458.1L667.1,458.5L667.1,461.6L667.1,462.2ZM673.6,457.4L669,458L668.7,458.3L669.4,461.4L669.6,461.7L673.5,462.3L673.6,462.3L674.7,458.1ZM678.7,471.5L678.7,471.4L677.6,467.2L677.3,466.9L674,467.5L673.8,472ZM681.4,471.1L682.7,467.3L682.1,466.8L677.6,467.2L678.7,471.4ZM682,476.3L678.5,475.9L678.2,476.2L677.7,477.6L678.2,477.5L681.4,477.3L682.4,477.3ZM695.3,475.3L691.4,475.1L690.2,476.8L690.9,476.7L694.1,476.5L696.3,476.3ZM693.5,482.2L687.4,477.8L686.2,484.5L692.3,485ZM697.8,479.9L696.2,479.7L693.5,482.2L692.3,485L693.2,487.4L700,488.8L700.4,487.7L700.1,481.7ZM701.3,491.9L700,488.8L693.2,487.4L691.6,491.1L693.1,492.4L694.4,493.9L699.6,494.4ZM699.6,494.4L694.4,493.9L695.9,495.7L698.7,498.9L699.5,499.4ZM708.3,516.3L709.4,516.4L709.1,517.7L713.9,518.6L714.2,518.4L717,511.5L714.1,509.9L707.7,512.9L707.6,513ZM727.6,517.4L728.9,518.1L732.7,519.1L735,513L732.4,509.7L728.6,510.4L728.2,510.8ZM733.1,519.6L739.8,519L738.2,515.8L736.4,512.8L736.2,512.6L735,513L732.7,519.1ZM714.4,527L715.3,523.9L713.9,518.6L709.1,517.7L708.6,520.4L706.8,522.2L709.3,525.2L709.6,525.9ZM725.1,525.5L728.9,518.1L727.6,517.4L723.8,517.3L722.6,518.4L721.9,522.9L723,524.6ZM732.7,522.7L733.3,521.5L733.1,519.6L732.7,519.1L728.9,518.1L725.1,525.5L726.2,526.6ZM714.6,527.6L714.4,527L709.6,525.9L711.1,528.5L712.8,530.4ZM721.9,522.9L715.3,523.9L714.4,527L714.6,527.6L718.9,530.1L723,524.6ZM726.2,526.6L725.1,525.5L723,524.6L718.9,530.1L720.8,533L726.6,528.5ZM728.8,530L732.3,529.8L732.7,522.7L726.2,526.6L726.6,528.5ZM733.8,542.7L739.8,546L742.5,542.2L741.2,536.4L733.9,537.7ZM745.8,542.3L745.7,541.1L745.5,538.6L745.5,535.7L741.7,535.6L741.2,536.4L742.5,542.2ZM742.5,542.2L739.8,546L740.2,548.2L744.1,550.3L744.3,548L745.1,545.8L746,543.6L745.8,542.3ZM735.1,555.2L736.8,554.6L738,554.3L739.1,549.3L733.2,550.6ZM740.2,548.2L739.1,549.3L738,554.3L739.9,553.7L743,552.8L744.1,551.1L744.1,550.3ZM690.8,412.2L690.7,412.1L685.6,409.7L684.5,412L683.4,414.5L686.4,415.8L688.9,417ZM715.7,412.3L714.3,409.7L709.1,411.9L709.4,416.1L713.2,416.9ZM719.4,413L715.7,412.3L713.2,416.9L719.7,417.3L720.6,416.1ZM730.7,412.4L726.3,411.7L724.3,416.6L725,417.6L730.3,417.3ZM730.7,412.4L730.3,417.3L730.6,417.7L736.9,417.6L737.5,416.4L735,410.7L734.1,410ZM696.4,423.1L702.1,423.3L702.3,423L702.6,416.8L697.6,416.7ZM719,422.8L719.7,417.3L713.2,416.9L714.3,421.8L715.6,422.9ZM724.3,416.6L720.6,416.1L719.7,417.3L719,422.8L720,423.5L724.2,422.9L724.7,422.5L725,417.6ZM730.6,422.3L731.2,422.9L737,422.1L737.2,421.8L736.9,417.6L730.6,417.7ZM703.3,427.3L702.1,423.3L696.4,423.1L694.5,424.1L697.2,426.2L700.2,428.5L701.7,429.6ZM708,422L702.3,423L702.1,423.3L703.3,427.3L708.9,428.6L709.2,422.9ZM714.3,421.8L709.2,422.9L708.9,428.6L712.7,428.8L713.5,428.2L715.6,422.9ZM713.5,428.2L719.7,429.4L720.1,429L720,423.5L719,422.8L715.6,422.9ZM725.2,430.5L726.7,429.2L724.2,422.9L720,423.5L720.1,429ZM724.2,422.9L726.7,429.2L730.3,429L731,428.4L731.2,422.9L730.6,422.3L724.7,422.5ZM737.3,427.8L738.9,427.9L738.9,426.9L740.1,423.9L740.8,422.2L737.2,421.8L737,422.1ZM707.5,434.2L708.9,428.6L703.3,427.3L701.7,429.6L703.2,430.8L706.7,433.6L707.5,434.3ZM708.9,428.6L707.5,434.2L713.8,436L715,434.7L712.7,428.8ZM712.7,428.8L715,434.7L717.9,434.4L719.7,429.4L713.5,428.2ZM719.5,435.4L724.7,435.2L725.2,430.5L720.1,429L719.7,429.4L717.9,434.4ZM725,435.6L731,433.9L730.3,429L726.7,429.2L725.2,430.5L724.7,435.2ZM735.9,429.2L731,428.4L730.3,429L731,433.9L731.4,434.4L735.1,434.4L736.7,432.8ZM737.3,427.8L735.9,429.2L736.7,432.8L736.7,432.7L738.8,430L738.9,427.9ZM719.5,435.4L719.7,440.8L720.6,441.8L726.1,438.9L725,435.6L724.7,435.2ZM726.1,438.9L728.5,440.7L728.9,440.3L730.9,438.6L731.4,434.4L731,433.9L725,435.6ZM730.9,438.6L731.2,438.4L734,435.6L735.1,434.4L731.4,434.4ZM719.1,445.3L720.7,443.9L720.6,441.8L719.7,440.8L713.2,440.5L712.1,442L712.5,443L714.3,445.5ZM720.7,443.9L724.3,446.1L724.6,445.8L726.7,442.3L728.5,440.7L726.1,438.9L720.6,441.8ZM732.3,379.2L732.3,377.4L731.7,377.5L728.8,378L727.8,378.2ZM732.3,379.2L732.7,380L737.6,379.2L737.8,379L737.3,376.6L734.6,377L732.3,377.4ZM737.8,379L742.5,377.9L742.9,375.6L740.5,376L737.6,376.5L737.3,376.6ZM749.1,377L751,377.1L751.3,376.7L751.2,374L749.2,374.4L746.7,374.9ZM762.9,378.2L764.5,376.6L763.2,371.7L760.8,372.2L757.9,372.7L757.7,372.8L757.1,376L757.8,377ZM720.8,382.4L724.6,384L727.4,383L726.6,378.4L725.9,378.5L723,379L720.3,379.4ZM727.4,383L729.6,383.7L732.7,380.1L732.7,380L732.3,379.2L727.8,378.2L726.6,378.4ZM735.8,384.9L738.9,383.4L737.6,379.2L732.7,380L732.7,380.1ZM750.4,383.9L751.5,382.2L751,377.1L749.1,377L745.4,379.5L747.7,383.5ZM767.1,382.7L767.5,382.3L768.1,377.9L766.3,376.7L764.5,376.6L762.9,378.2L763.1,381ZM772.3,381.4L770,377.9L768.1,377.9L767.5,382.3ZM722.1,390.1L724.8,389L725,388.8L724.6,384L720.8,382.4L720.1,383.5L719.5,387.8ZM729.6,383.7L727.4,383L724.6,384L725,388.8L729.3,389.1L730.9,387.1ZM747.2,389.2L751.5,387.6L750.4,383.9L747.7,383.5L745.8,384.5ZM751.5,387.6L751.6,387.7L755.1,387.3L757.5,382.9L756.7,382L751.5,382.2L750.4,383.9ZM724.8,389L722.1,390.1L721.7,392.7L721.8,393L726.2,393.1ZM734.6,403.4L732.7,403.6L732,408.4L732.5,408.8L737,410.1L737.9,409.2ZM737,410.1L732.5,408.8L735.1,410.8L736.6,411.8ZM740.8,408.4L737.9,409.2L737,410.1L736.6,411.8L738.4,413.1L740.8,414.9L743.4,413L742.6,410ZM732.6,337.8L733.4,337.5L732.9,334.8L731.5,333.6L731.1,336.3L730.9,337.1ZM732.9,334.8L733.4,337.5L735.3,338.1L737.5,336.8L737.2,335.5L736.2,335L735,334.5ZM743.7,339.2L744.9,336L744.8,336L742.3,334.3L739.1,337.6L739.7,338.5ZM730.9,337.1L730.5,339.5L729.5,340.9L730.7,341.2L732.6,337.8ZM735,340.7L735.3,338.1L733.4,337.5L732.6,337.8L730.7,341.2L730.8,341.3ZM739,341.8L739.7,338.5L739.1,337.6L737.5,336.8L735.3,338.1L735,340.7L735.6,341.6ZM737.2,346L739.7,344.9L740.3,344.3L739,341.8L735.6,341.6L734.4,345.3ZM724.7,349.2L725.1,348.7L724.8,347.8L723.8,349.3ZM721.2,349.7L722.3,349.5L721.1,349L720.7,348.9ZM732.4,346.1L730.2,346.2L726.9,349.4L728.5,351.5L729.3,351.7L732.5,348ZM747.1,349.2L752.1,347.8L750.7,347.1L748.8,346.9L746.9,346.6L747.6,344.3L746.5,345.3L747.1,349.2ZM728.5,351.5L726.9,349.4L725.1,348.7L724.7,349.2L723.4,352.9L725.8,353.9ZM732.5,348L729.3,351.7L730.3,353L733.3,353.9L734.5,353.7L734.6,353.6L733.8,349.5ZM734.6,353.6L736.4,352.9L736.6,349.3L733.8,349.5ZM736.6,349.3L736.4,352.9L740.2,352.6L740.2,350.8L737.4,348.8ZM743.3,348.6L740.6,350.1L740.2,350.8L740.2,352.6L740.3,352.8L743.4,352.9L746,349.4ZM725.8,353.9L723.4,352.9L721,353.8L721.2,355.1L724.1,357.1L726.3,355.8ZM728.8,358L731.1,357.6L733.3,353.9L730.3,353L728.5,357.3ZM734.6,353.6L734.5,353.7L735.6,357.1L736.9,357.8L739.2,357.9L740.4,356L740.3,352.8L740.2,352.6L736.4,352.9ZM717.2,361.6L718.3,360.5L717.8,359L716.7,358L715.4,360.1L714.6,361.3ZM720.9,355.8L722.2,360.2L723.8,359.9L724.1,357.1L721.2,355.1ZM726.3,355.8L724.1,357.1L723.8,359.9L725.6,360.9L728.4,359.5L728.8,358L728.5,357.3ZM728.4,359.5L729.9,361.3L733.3,360.2L733.4,358.7L731.1,357.6L728.8,358ZM735.6,362.5L736.4,363.6L737.6,363.3L739.5,358.5L739.2,357.9L736.9,357.8ZM740.4,356L739.2,357.9L739.5,358.5L742.3,360.9L744,361.1L744.7,360.4L744.7,359.3L743.2,356.7ZM750.9,358.1L750.2,361.5L752,362.5L755.2,360L755.5,359.4L753.7,357.3ZM760.4,361.4L761.1,357.8L760.4,355.7L760.4,355.3L760.3,355.2L756,359.4L760.1,361.6ZM716.6,364.1L717.2,361.6L714.6,361.3L714,362.4L714,365.3ZM721.4,365.8L721.6,365.5L720.4,361.2L718.3,360.5L717.2,361.6L716.6,364.1L718.2,365.6L721.4,365.8ZM729.9,361.3L730.5,363.7L734.3,361.7L733.3,360.2ZM730.5,363.7L730.4,364.1L733.1,366.1L735.9,364.8L736.4,363.6L735.6,362.5L734.3,361.7ZM737.6,363.3L739.4,363.7L742.3,360.9L739.5,358.5ZM739.4,363.7L741.2,366L744.3,364.9L744.4,364.6L744,361.1L742.3,360.9ZM752.5,363.8L752,362.5L750.2,361.5L749,362.1L748.5,363.9L749.3,365.7L751.2,366.2ZM755.9,364.8L757.5,364.9L759.6,363.2L760.1,361.6L756,359.4L755.5,359.4L755.2,360L755.5,364.3ZM762.7,366.8L763.3,365.7L763.1,365.8L762.9,364.7L760.5,362L761,361.4L760.4,361.4L760.1,361.6L759.6,363.2ZM721.8,366.9L723.9,370.4L726,368.1L723.8,365.2L721.6,365.5L721.4,365.8ZM728.2,368.2L728.9,365.1L725.5,363.6L723.8,365.2L726,368.1ZM732,370.1L732.5,369.2L733.1,366.1L730.4,364.1L728.9,365.1L728.2,368.2L729,369.2ZM735.9,364.8L733.1,366.1L732.5,369.2L737.4,368.5L737.6,368.2ZM754.3,367.2L756.6,369.7L758.5,368.1L757.5,364.9L755.9,364.8ZM757.5,364.9L758.5,368.1L759.2,368.3L762.8,367.8L762.7,366.8L759.6,363.2ZM766.4,368.1L768.6,368.8L768.4,368.3L767.3,366.2ZM729,369.2L728.2,368.2L726,368.1L723.9,370.4L723.8,371.1L724.3,371.9L727,372.2ZM732.8,372.4L732,370.1L729,369.2L727,372.2L728.6,374.8ZM733.3,372.8L736.6,372.9L737.4,368.5L732.5,369.2L732,370.1L732.8,372.4ZM740.7,368.7L740.4,368.2L737.6,368.2L737.4,368.5L736.6,372.9L737.3,373.4L738.9,373.1L741.1,370.7ZM752.7,370.8L751.8,368.8L748.7,369.6L749.3,372.7ZM759.2,368.3L758.5,368.1L756.6,369.7L756.2,371.1L757.7,372.8L757.9,372.7L760.2,372.3ZM767.2,370.9L769.5,370.4L768.6,368.8L766.4,368.1L765.9,368.5ZM723.5,374.6L724.3,371.9L723.8,371.1L720.7,371.1L720,371.3L720.5,375.7L721.2,376.1ZM727,372.2L724.3,371.9L723.5,374.6L726.4,376.2L728.2,376L728.6,374.8ZM744.2,372.3L741.1,370.7L738.9,373.1L742.7,375.6L743.4,375.5L743.5,375.5ZM749,373.5L749.2,374.4L752.1,373.9L753.3,373.6L753.8,371.5L752.7,370.8L749.3,372.7ZM756.2,371.1L753.8,371.5L753.3,373.6L755,373.3L757.7,372.8ZM726.4,376.2L724.5,378.8L725.9,378.5L728.8,378L729.3,378L728.2,376ZM715.6,331.6L718.2,333L717.7,330.5L715.5,330.9ZM731.4,331.7L732.2,331.1L732.9,328.1L732.7,328.1L731.3,329.2L729.9,330.2L728.7,330.2ZM737.1,329.4L736.8,328.9L734.8,328.5L732.9,328.1L732.2,331.1L736.1,331.6ZM708.5,333.6L709.9,335L712.1,335.4L713.6,332.6L712.3,331.5L710.6,331.8L708.6,332.1ZM715.6,331.6L713.6,332.6L712.1,335.4L714.1,338.4L714.6,338.2L718.2,333.4L718.2,333.2L718.2,333ZM726.7,334.9L726.6,330.1L726.2,330.1L724,333.3L722.9,334.4ZM731.4,333.9L731.4,331.7L728.7,330.2L728.1,330.2L726.6,330.1L726.7,334.9L727.3,335.7ZM731.5,334L731.7,333L733.9,334L736.2,335L736.8,335.3L736.1,331.6L732.2,331.1L731.4,331.7L731.4,333.9ZM736.1,331.6L736.8,335.3L738.4,336L739.2,332.9L738,330.9L737.1,329.4ZM705.9,338.4L704.1,336.1L700.7,336.1L700.2,338.6L700.9,340L704.7,341.9ZM709.9,335L708.5,333.6L705.4,334.6L704.1,336.1L705.9,338.4L707.8,338.4ZM713.7,339.5L714.1,338.4L712.1,335.4L709.9,335L707.8,338.4L710.7,341.3ZM714.6,338.2L719.4,338.9L720.1,337.5L719.1,338.5L718.7,335.8L718.2,333.4ZM719.4,338.9L719.5,339.2L724.5,340.4L725,339.3L721.4,336.1L720.1,337.5ZM704.7,341.9L700.9,340L699.4,345L699.7,345.4L704.9,342.6ZM707.8,338.4L705.9,338.4L704.7,341.9L704.9,342.6L706.2,343.7L708.5,344.4L709.9,343.1L710.7,341.3ZM714.1,338.4L713.7,339.5L717.4,344.8L717.7,344.9L719.3,343.5L719.5,339.2L719.4,338.9L714.6,338.2ZM724.5,340.4L719.5,339.2L719.3,343.5L724.3,343.1L724.5,342.9ZM730.3,339.6L727.2,337.6L725,339.3L724.5,340.4L724.5,342.9L726.7,343.5ZM709.4,349L708.5,344.4L706.2,343.7L703,348L705,351.2L709.2,349.2ZM708.5,344.4L709.4,349L712.5,349.2L715.2,345.9L709.9,343.1ZM724.3,343.1L719.3,343.5L717.7,344.9L719.5,348.4L721.1,349L723.3,350L723.8,349.3ZM726.7,343.5L724.5,342.9L724.3,343.1L723.8,349.3L725.4,346.9L727.4,344ZM709.2,349.2L705,351.2L704,353.5L704.4,354L710.6,354.7ZM704.4,354L704,353.5L701.9,353.9L700.5,354.6L700,358.8L700.1,359.4L705.8,357.6ZM710.6,354.7L704.4,354L705.8,357.6L706.1,358L707.3,358.6L711.3,356.3L711.5,355.7ZM715.4,355.6L716,359L716.8,357.7L717.3,355.4ZM756.6,323.1L760.3,323.1L760.1,322.2L757.2,322.8L756.5,323ZM720.2,333.3L720.8,330L720.6,330L717.7,330.5L718.1,332.7ZM725.1,329.2L723.4,329.5L720.8,330L720.2,333.3L720.3,333.6L723.8,333.5L724,333.3L725.4,331.2ZM761,342.2L761.6,344.7L763.7,345.5L763.9,348.3L766.8,345.6L766.6,342.9L765.4,341.8L761.6,341.6ZM766.8,345.6L770.7,346.1L770.7,342.1L769.5,341.2L766.6,342.9ZM756.4,347.4L756.4,347.6L757.5,348.1L759.3,349L758.5,347.2L757.2,346.9ZM763.9,348.3L764,349.4L766.7,348.4L769.3,347.4L771.4,346.6L770.7,346.1L766.8,345.6ZM731.3,292.8L738.3,292.6L739.6,291.1L739.6,290.5L738.5,290.7L735.8,291.3L733.1,291.8L730.8,292.3ZM758.4,287.8L757.9,287.2L755,291.1L755,291.2L760.7,295.2L761.6,292.3ZM761.6,292.3L762,291.9L759.8,289.4L758.4,287.8ZM716.4,297.6L720.9,294.1L719.4,294.4L716.7,294.9L714.6,295.3ZM731.3,292.8L732,297.2L733.8,298.4L735.5,298.1L736.4,297.1L738.3,292.6ZM743.4,298.2L743.3,294.1L739.6,291.1L738.3,292.6L736.4,297.1L742.5,299.1ZM761.6,292.3L760.7,295.2L761.3,297.5L765.7,297.3L767,294.7L764.6,293.4L762.1,292L762,291.9ZM718.7,299L716.4,297.6L714.4,301L718.5,306.4L721.2,302.9ZM726.2,302.3L726.6,298.1L725.3,296.1L718.7,299L721.2,302.9L725.6,303.1ZM732.1,302.4L733.8,298.4L732,297.2L726.6,298.1L726.2,302.3ZM736.4,297.1L735.5,298.1L738.3,302.3L741.4,301.7L742.5,299.1ZM740.8,308.5L737.1,304.9L733.8,305.8L732.3,308.9L733.8,310.4L738.7,311.1ZM743.5,304.5L743.7,308L745.7,309.2L748.9,305L747.4,301.3ZM754.1,306L753,304.7L748.9,305L745.7,309.2L749.9,310.4L753.4,309.2ZM743.7,316.7L744.7,315.9L745.7,309.2L743.7,308L740.8,308.5L738.7,311.1L739.3,314.8ZM745.7,309.2L744.7,315.9L748.4,316.5L750.5,314L749.9,310.4ZM749.9,310.4L750.5,314L754.3,314.9L755.4,314L754.6,310.7L753.4,309.2ZM743.5,318L744.6,320.9L749.5,324.1L752.2,320.6L752.2,320.5L748.4,316.5L744.7,315.9L743.7,316.7ZM740.4,325L741.4,324.8L744.6,320.9L743.5,318L737.6,321.7ZM749.5,324.1L744.6,320.9L741.4,324.8L743.1,325.8L743.2,325.8L746,325.2L748.8,324.6L749.4,324.5ZM755.7,321.3L752.2,320.6L749.5,324.1L749.4,324.5L751.6,324L754.4,323.4L756,323.1ZM756,323.1L757.2,322.8L760.1,322.2L760.7,321L759,320.2L755.7,321.3ZM770.1,298.3L770.8,297.7L770.9,296.1L769.5,295.6L767,294.7L765.6,297.5ZM765.3,298L765.2,298.2L763.4,301.7L763.4,302.8L766,303.6L766.3,303.2ZM776,297.8L770.8,297.7L770.1,298.3L770.8,302.5L774.2,302.8ZM776,297.8L774.2,302.8L774.7,303.4L776.5,303.4L776.8,302.9L776.9,300.5L777,298.1L776,297.8ZM765.3,306L766,303.6L763.4,302.8L763.5,303.9L763.5,306.1L763.8,306.5ZM754.6,241L757.7,241L758.8,239L756.8,239.5L754.4,240.1L753.5,240.5ZM757.8,244.7L757.7,241L754.6,241L752.2,245L755.1,246.4ZM771.9,251L771.5,248.7L770.8,245.7L770.1,242.7L769.9,241.5L767,241.5L771.3,250.9ZM754.6,250.9L755.1,246.4L752.2,245L748.8,244.4L746.9,246.4L745.5,248.7L745.9,249.2L753.5,251.3ZM762.6,247L762.1,247.2L760.3,251.9L767.4,254.3L769.5,251.7ZM751.2,257.8L753.5,251.3L745.9,249.2L748.8,257.3ZM766.6,257.6L767.4,254.3L760.3,251.9L758.8,253.1L758.7,259.2L759.2,259.7L764.3,259.4ZM740,257.7L742,260.1L742.5,262.3L742.8,263.6L745,264.3L748.7,257.4ZM759.2,259.7L758.7,259.2L752.7,259.2L750.8,265L752.4,266.8L758.9,266.1ZM771.8,262.9L772.3,260.8L766.6,257.6L764.3,259.4L767.2,266.1L767.3,266.2ZM742.8,263.6L743,264.6L742,265.5L740.6,269.9L742.2,271L745.8,270L746.1,265.2L745,264.3ZM745.8,270L748.3,272.7L751.4,272.8L752.4,266.8L750.8,265L746.1,265.2ZM758.9,266.1L752.4,266.8L751.4,272.8L753.1,274.4L760.1,268.3L760.1,268ZM720.5,278.7L721.8,277.8L720.5,272.9L718.7,273L716.8,274L714.9,274.9L713,275.8L715,278.7L715.2,279.5ZM728.4,273.6L726.7,272.2L726.4,272.2L723.9,272.5L721.3,272.8L720.5,272.9L721.8,277.8L725.9,278.9L727.4,278.1ZM728.4,273.6L727.4,278.1L733.2,279.3L735.9,274.5L734.8,271L734.7,271L732,271.9L730.2,272ZM735.9,274.5L741.4,276.1L742.2,271L740.6,269.9L737.7,269.8L737.4,270.2L734.8,271ZM748.3,272.7L745.8,270L742.2,271L741.4,276.1L741.8,276.6L744.7,277ZM753.1,274.4L753.4,275.2L760.4,278.7L761.5,277.8L761.3,270.7L760.1,268.3ZM761.5,277.8L764.9,277.4L765.5,277L766.3,271.6L761.3,270.7ZM766.3,271.6L765.5,277L772.6,275.4L773.3,273.2L771.9,271.5L768.9,269.5ZM717.1,286.4L720,285.3L720.5,278.7L715.2,279.5L715.8,282L714.6,284.1ZM721.8,277.8L720.5,278.7L720,285.3L721.1,285.7L726,281.6L725.9,278.9ZM741.8,276.6L741.4,276.1L735.9,274.5L733.2,279.3L735,282.4L739,283.2ZM747.6,283.3L747.9,281.4L744.7,277L741.8,276.6L739,283.2L739.2,283.5ZM751.4,285.8L754.7,282.6L751.4,278.6L747.9,281.4L747.6,283.3L747.7,283.4ZM764.9,277.4L768.9,283L773.6,281.2L773.3,277.5L772.6,275.4L765.5,277ZM715.1,291.3L716.8,288.4L717.1,286.4L714.6,284.1L714.1,284.9L712.3,287.8L710.3,289.8ZM728.3,287.7L728.2,288L731.5,292.1L733.1,291.8L735,291.4L735.6,290.2L733.5,284.4ZM747.7,283.4L747.6,283.3L739.2,283.5L739.9,287.4L742.3,290L743.9,289.6L744.9,289.4ZM752.4,287.8L754.8,287.3L757.5,286.7L758.4,287.8L759.6,281.6L754.7,282.6L751.4,285.8ZM767,289L766.8,286.3L760,281.1L759.6,281.6L758.4,287.8L759.8,289.4L762.1,292L763.3,292.6ZM777.4,285.1L773.6,281.2L768.9,283L766.8,286.3L767,289L768.6,289.3ZM709.6,295.4L709.7,290.4L707.8,292.2L708.2,294.3L708.5,296.3L708.8,296.3ZM723.5,291.3L722.8,293.8L724.9,293.4L727.6,292.9L730.3,292.3L731.5,292.1L728.2,288L724.6,289.6ZM773.7,293.6L773.2,295.5L773.5,296.9L774.5,297.3L777,298.1L777,299.2L778.8,299.8L779.8,297.6L778.6,296.1L781,293.8L780.1,290.7L779.9,289.7ZM773.2,295.5L769.8,295.7L772,296.4L773.5,296.9ZM777,299.2L776.9,300.5L776.8,302.9L777.4,301.2L778.7,300.1L778.8,299.8ZM780.7,280.6L780.4,280.7L777.7,281.3L778.2,283L779.9,283L780.9,282.5ZM781.1,292.7L781.2,289.3L780.1,288.5L779.6,288.5L780.1,290.7L780.7,293ZM776.7,238L777.1,234.6L776,234.9L773.6,235.5L771.1,236.1L771,236.1L772.4,237.6L775.1,238.7ZM776.7,238L782.1,237.9L782.8,233.2L780.8,233.7L778.4,234.3L777.1,234.6ZM771,236.1L768.7,236.7L769.4,239.7L769.9,241.6L772.4,237.6ZM775.1,238.7L772.4,237.6L769.9,241.6L770.1,242.7L770.8,245.7L770.9,246L775.7,245.4L775.8,245.4ZM782.5,261.6L777.8,261.5L776.1,263.1L776.2,263.4L782.5,269.1L783,269ZM806.9,191.2L805.8,192.2L803.9,191.3L803.2,189L801.3,189.1L800.1,192.4L799,195.8L799,195.9L809,197.4ZM809,197.4L809.5,197.9L818.8,195.1L818.4,193.8L817.4,190.5L814.6,188.9L812.7,188.4L810.7,187.9L809.6,189L808.4,190L807.1,191.1L806.9,191.2ZM805.1,207.1L808.3,202.5L809.5,197.9L809,197.4L799,195.9L797.8,199.1L796.7,202.5L797,204.6L797.3,206.7L795.1,208.5L795.3,209ZM819.6,206.6L820.8,201.2L820.5,200.5L819.5,197.1L818.8,195.1L809.5,197.9L808.3,202.5L817.8,208.3ZM819.6,206.6L817.8,208.3L817.8,213.5L821.8,215L829.4,215.6L828.8,215.3L828.2,213.1L827.5,210.9L825.4,209.8L823.4,208.6L822.8,207.4ZM808.5,212.8L798.9,220.7L801.8,226L805.3,226.2L810.6,224.2L811.6,216.3ZM606.3,226.9L609.2,227.9L609.3,227.8L610.7,226.6L612,225.3L610.6,224.2L608.8,224.6L607,225L605.7,226.2ZM605.7,226.2L605.5,226.4L604,227.8L602.1,229.7L600.1,231.6L599.3,232.3L604.6,233.6L606.3,226.9ZM606.3,226.9L604.6,233.6L605.2,234.8L605.5,232.7L607.4,230.3L609.2,227.9ZM605.6,235.4L611.8,235.7L612.8,233.6L612.4,233.5L610.8,233.1L609.2,233.2L607.7,233.3L605.4,235.2ZM597.8,240L598.4,240.6L602.8,240.2L605.6,235.4L605.4,235.2L605.2,235.4L605.2,234.8L604.6,233.6L599.3,232.3L598.7,232.9L597.2,234.1L596.9,234.2ZM605.6,235.4L602.8,240.2L605.8,243.1L612.8,241.5L613.3,240.1L611.8,235.7ZM611.8,235.7L613.3,240.1L620.2,239.2L620.5,238.3L618.7,238.1L616.5,237.9L615.3,236L614,234L612.8,233.6ZM620.2,239.2L621.9,241.9L628.3,242.2L628.8,241.2L627.1,236.9L626.3,237.6L624.6,239.2L622.7,238.7L620.8,238.3L620.5,238.3ZM628.8,241.2L634.8,238.7L635.1,234.1L633.9,234.2L631.6,234.5L629.8,235.3L628,236.1L627.1,236.9ZM634.8,238.7L637.6,241.5L643.4,239.9L644.1,239.3L644,236.3L643.5,236.3L641.9,236.1L641.9,234.4L636.6,233.8L636.3,233.9L635.1,234.1ZM644.1,239.3L648.7,241.6L651.9,240L651.1,237.3L648.7,235.3L646.9,235.9L645.1,236.5L644,236.3ZM605.8,243.1L602.8,240.2L598.4,240.6L597.9,245.5L599.1,245.8L601.8,246.8L604.5,247.3L605.4,247.4ZM637.6,241.5L634.8,238.7L628.8,241.2L628.3,242.2L629.2,246.7L630.7,246.2L632.2,245.6L634.8,244.2L637.3,242.8L637.4,242.8ZM643.4,239.9L637.6,241.5L637.4,242.8L640,243.1L642.7,243.4L643.2,243.7ZM615.4,255.8L613.7,247.9L610.1,248.9L610.4,250L612,251L613.5,252L613.4,254.3L613.4,256.7L613.6,256.9ZM622.6,248.9L624.6,249.5L626.4,251.6L626.6,248.8L628.5,247.2ZM615.4,255.8L613.6,256.9L616.4,260.2L617.5,257.8L618.3,256.3ZM766.7,348.9L766.6,348.4L764,349.4L766.3,349.7ZM766.7,348.9L770.9,349.3L772,346.4L769.3,347.4L766.7,348.4L766.6,348.4ZM769.8,354.2L770.1,352.5L770.7,349.5L770.9,349.3L766.7,348.9L766.3,349.7L766.5,349.7L766.1,352.1L765.8,354.2L766.8,354.8ZM766.8,354.8L765.8,354.2L765.7,354.6L765.6,357L765.5,359.4L766.4,362L767.2,361.4L768.2,358.7ZM768.2,358.7L768.4,358.4L769.6,355.4L769.8,354.2L766.8,354.8ZM721.6,329.8L720.6,330L717.7,330.5L718.2,333L722,331ZM722,331L722.2,331.1L726.1,330.3L726.2,330.1L727,330.1L727.7,330L727.6,328.7L726.2,329L723.4,329.5L721.6,329.8ZM721.2,336.3L721.6,335.9L723.1,334.3L722.2,331.1L722,331L718.2,333L718.2,333.2L718.7,335.8L718.7,336ZM722.2,331.1L723.1,334.3L724,333.3L726.1,330.3ZM727.7,330L727,330.1L727.8,330.1ZM718.7,336L719.1,338.5L721.2,336.3ZM794.5,293.8L795,291.1L793.3,293L792.8,293.5ZM795.8,294L795.8,293.6L795.1,293.9ZM795.8,294L796.3,294.4L797.8,293L799.5,291.4L797.1,293.1L795.8,293.6ZM780.3,299.6L785.6,298.3L785.5,296.7L784.1,297.3L781.8,298.2L780,299.4ZM789.6,299.7L790.4,299.3L790.5,299.2L791.4,294.9L789,295.6L786.4,296.3L785.5,296.7L785.6,298.3L785.9,298.8ZM792.8,293.5L791.6,294.9L791.4,294.9L790.5,299.2L792.3,297.8L794.3,296.2L796.1,294.6L796.3,294.4L795.8,294L795.1,293.9L794.4,294.2L794.5,293.8ZM780.3,299.6L780,299.4L779.3,300L777.6,301.5L777,304.5L778.6,304.2L780.2,303.9L780.2,303.8ZM785.9,298.8L785.6,298.3L780.3,299.6L780.2,303.8L782.6,303L785.1,302L785.3,302ZM785.3,302L787.7,300.7L789.6,299.7L785.9,298.8ZM238.6,496.1L235.9,497.6L233.1,497.2L232.7,496.4L229.2,505.3L233.7,505.7L237.3,504.8L238.2,507.1L238.4,509.8L242.1,510.7L243.4,498.9ZM232.7,496.4L232,494.9L228.3,495.6L223.4,498.2L226.5,500.5L225.9,503.6L228.2,505.1L229.2,505.3ZM250.6,491.7L243.4,498.9L242.1,510.7L242.5,511.3L247.8,513L253.2,509.1L258,501.5ZM264.9,501.8L265.6,501.2L266.3,500.1L262,488.6L259.9,487.7L252.9,489.5L250.6,491.7L258,501.5ZM262,488.6L266.3,500.1L282.2,494.3L280.4,485.3ZM253.2,509.1L261.5,509.8L264.7,505.5L264.9,501.8L258,501.5ZM247.8,513L254.5,520.8L260.6,516.6L262.4,512.7L261.5,509.8L253.2,509.1ZM232,535.5L231.9,537.5L236.8,536.7L240.1,538.4L248.7,529.8L239.7,525.3ZM239.7,516.5L239.7,525.3L248.7,529.8L253.2,528.7L254.8,521.9L254.5,520.8L247.8,513L242.5,511.3ZM377.5,531.2L378.3,529.4L385.5,530.2L385.9,532ZM381.1,534.3L384,534L384.5,536.4L382.3,536.7ZM386.2,534L387.6,532.3L391.2,533.5L396.3,535.8L395.6,538.1L390.5,539.1L389.1,536.1Z"/>
<path fill="#58a7c8" d="M256.9,204.3L255.5,204.1L251.3,205.9L247.6,211.3L249.7,218.2L251.4,217.9L253.6,218.2L255.2,218.4L256.9,214.7ZM241.5,193.9L243.5,198.7L251,198.7L250.6,193.5L249.2,194.6L247,194.7L247.4,193.2L249.6,191.5L249.7,191.4ZM273.8,202.6L261.1,200.4L258.6,203.6L270.3,213L274.9,207.8ZM270.1,214.7L270.3,213L258.6,203.6L256.9,204.3L256.9,214.7ZM270.1,214.7L256.9,214.7L255.2,218.4L255.7,218.5L257.3,219.8L258.9,221.1L261.8,220.8L264.6,220.5L267,220.7L269.3,220.8L271.1,220.9ZM285.3,206.3L279.5,208.8L284.1,220.3L289.6,211.1ZM274.9,207.8L270.3,213L270.1,214.7L271.1,220.9L271.7,221L274.2,221.1L276.8,221.1L279.3,221.2L281.1,221.1L282.9,221L284,221.2L284.1,220.3L279.5,208.8ZM236.3,212.4L237.2,214.3L242.9,212.9L242.9,212.6L242.5,208.5L240.4,207.1L239.3,206.4ZM236.4,219.9L237.2,214.3L236.3,212.4L230.8,210.2L230.5,211.1L229.6,213.7L228.7,216.4L227.8,218.6ZM247.3,219L247.6,218.4L245.4,217.4L243,216.3L242.9,212.9L237.2,214.3L236.4,219.9L237.1,220.7ZM248.5,231.5L249.5,227.9L247.3,219L237.1,220.7L237.1,226.6ZM293,226L283.1,233L285.1,238.1L298.2,238.1ZM254.9,253.3L255.6,253.3L261.3,244.2L248.9,234.9L246.8,238.2L246.3,241.2ZM237.7,253.3L246.6,258.1L254.9,253.3L246.3,241.2L237.7,248.6ZM255.6,253.3L254.9,253.3L246.6,258.1L245.7,268.4L261.7,265.7L262.2,259.1ZM242.4,274L243.5,274.3L246.2,275L248.9,275.8L251.6,276.5L254.3,277.2L257,277.9L259.7,278.6L262.4,279.3L265.1,280L267.9,280.6L261.7,265.7L245.7,268.4ZM235.2,306.5L231.9,313.2L232.2,314.2L247.6,314.2L248.3,311.7ZM231.9,313.2L225.4,310L221.3,318.1L222.1,319.2L230.6,320.5L231.3,319.6L232.2,314.2ZM221.3,318.1L217.6,316.6L213.6,317.7L212.6,323.5L216.9,327L219.6,326.6L222.1,319.2ZM215.5,351.6L223.8,345.7L223.9,344.8L222.3,338.7L222.1,338.6L215.6,337L215.7,337L216.2,339.4L215,339.5L212.7,336.4L212.7,336.2L211.5,335.9L210.9,336.1L210.5,337.4L210.5,339.8L210.4,342.2L212.1,344.6L213.7,347L215.7,350.1L213.9,351.9ZM229.5,350.9L223.8,345.7L215.5,351.6L227.9,362.4L228,362.3ZM227.9,362.4L225.7,367.8L236.4,376.7L242.7,372.7L241.4,359.8L228,362.3ZM256.6,348.8L256.6,374.9L262.8,382L279.7,375.8L278.5,374.1L276.2,370.7L273.9,367.3L271.6,363.9L269.3,360.5L267.1,357.1L264.8,353.7L262.6,350.3L260.4,346.9L260.3,346.7ZM289,295.4L293.1,303.5L305.3,313.2L318.7,313.2L319,311.6L319.7,307.8L320.5,304L321.2,300.3L321.9,296.5L322.7,292.7L319.9,292.1L317.1,291.6L314.4,291L311.6,290.5L308.9,289.9L306.1,289.4L303.4,288.8L300.6,288.2L297.9,287.6L295.1,287L292.4,286.4L291.8,286.3ZM289,295.4L279.8,299.7L274.9,311.9L279.8,323.6L280.7,323.6L293.1,303.5ZM320.1,196.6L320.6,194.4L321.4,190.7L322.2,187L322.9,183.3L320.5,182.8L318,182.2L315.6,181.7L313.1,181.1L312.3,184.6L311.5,188L310.8,191.5L310,194.7ZM320.6,200.1L319.8,198.1L320.1,196.6L310,194.7L310,195L309.2,198.4L308.4,201.9L307.6,205.4L307.3,207L314.9,209.6ZM313.5,225.2L315.2,218.6L305.2,216.1L304.5,219.3L304.6,220.8ZM309.7,268.7L315.8,260.5L315.8,259.1L310.7,252.2L297.3,253.2L297.7,255.2L297.1,256.1ZM312.6,276.8L306.3,289.4L308.9,289.9L311.6,290.5L314.4,291L317.1,291.6L319.9,292.1L322.7,292.7L325.4,293.2L328.2,293.7L328.3,293.7L328.6,287.6L317.8,276.8ZM343.6,272.8L339.9,269.1L331.3,274.3L332,281.8L343.4,279L343.9,278.4ZM349.8,288.5L346.6,297L347.7,297.2L350.5,297.6L353.3,298.1L356.1,298.5L356.7,294.8L357.3,291L357.9,287.3L358.5,283.5L358.6,282.6ZM325.5,192.6L331.1,185L330.4,184.9L327.9,184.3L325.4,183.8L322.9,183.3L322.2,187L321.4,190.7L320.8,193.3ZM325.5,192.6L333.1,197.6L339.1,186.6L337.9,186.4L335.4,185.9L332.9,185.4L331.1,185ZM345.8,196.7L348.7,200.7L359.3,198.4L361.2,190.7L360.4,190.6L357.9,190.1L355.4,189.7L352.9,189.2L350.4,188.8L347.9,188.3L345.4,187.8L344.9,187.7ZM432.4,204.5L425.5,210.1L429.5,215.3L439.6,211.7ZM345,219.2L358.6,223.7L359.3,223.4L358.2,212.5L346.9,209.9L345,212.5ZM344.6,219.7L346.2,229.4L352,231.3L358.6,223.7L345,219.2ZM336.9,237.1L339.6,232.9L337.6,222.7L332.4,221.4L331.2,221.7L332.9,222.6L331.9,225.1L330.8,227.7L331.1,231.6L329.5,234.6L327.8,237.7L329.7,239.1L332.1,238.1L334.4,237.1L334.7,238.2ZM376.3,238.2L365.1,236.6L362.6,239.9L365,253.2L366.1,253.3L368.7,253.8L371.4,254.2L371.8,254.2ZM385.3,240L386.5,245.8L396.4,247.2L400.4,240.8L393.1,235.6ZM386.2,265.5L387.5,256.5L384.8,256.1L382.1,255.7L379.7,255.4L370.7,263.1L374.1,276.9L374.6,277.1ZM416.2,281.3L422.6,281.3L427.5,273.5L422.7,260.6L422.4,260.6L419.7,260.3L417,260L414.4,259.8L413.8,259.7ZM359.1,279.6L359.1,279.7L358.5,283.5L357.9,287.3L357.3,291L356.7,294.8L356.1,298.5L355.8,300.7L366.7,301.1L369.5,297.9L359.8,279.8ZM355.8,300.7L355.5,302.4L354.9,306.2L354.3,310L353.7,313.8L356.5,314.3L359.3,314.7L362.2,315.1L365,315.6L367.8,316L369.2,316.2L366.7,301.1ZM421.4,310.1L414.8,298.5L412.4,297.6L408.7,300.2L405,320.8L407.7,321.1L410.5,321.4L413.4,321.7L414.9,321.8ZM421.4,310.1L425.7,309.2L429.6,298.3L425.6,296.3L414.8,298.5ZM316.2,326.4L316.1,326.8L315.4,330.6L314.6,334.4L313.9,338.2L313.2,342L312.7,344.7L325.9,349L332.4,342.2L333.1,331.7L332.3,330.2L326.7,327ZM340.6,300.5L348.9,306.8L352.7,298L350.5,297.6L347.7,297.2L344.9,296.7L342.1,296.2L339.4,295.7L339.2,295.7ZM371.7,350.6L372.1,347.8L372.7,344L373.2,340.2L373.7,336.3L374,334L364.9,334L361.9,338.3L361.9,345ZM319.6,370.8L320,370.9L323,371.4L326,371.9L328.9,372.5L330.8,372.8L331.5,365.1L320.8,362.4ZM330.8,372.8L331.9,373L334.9,373.5L337.9,374L340.9,374.5L343.9,374.9L346.9,375.4L349.4,375.8L349,369.2L337.2,359.1L334.9,359.1L331.5,365.1ZM361.9,345L356.3,351.3L358,357.4L370.4,360.5L370.5,359.3L371.1,355.5L371.6,351.7L371.7,350.6ZM300.1,424.3L294.8,428.5L302.2,437.1L305.6,433.6L306,423.1ZM354.7,417.9L362.3,418.8L362.7,416.3L363.2,412.5L363.7,408.8L364.2,405L364.8,401.2L365.3,397.4L365.8,393.6L366.3,389.9L366.8,386.1L367.4,382.3L367.9,378.5L365.6,378.2L348.9,411.7L350.3,414.4ZM302.2,437.1L294.8,428.5L289.1,431L288.4,432.1L287.1,432L285.3,435.2L288.2,437L291.1,438.8L294.1,440.6L297,442.4L298.2,443.1ZM391.9,328.8L393.5,319.4L393.4,319.4L390.6,319.1L387.7,318.7L384.9,318.3L382,318L379.2,317.6L376.4,317.2L375.8,321L375.3,324.8L374.8,328.7L374.8,328.8ZM422.8,332L425.9,336.1L427.3,335.7L435.4,329.6L435.4,323.7L433.4,323.5L430.5,323.3L427.7,323L424.8,322.8L423.6,322.7ZM440.3,335.7L445.5,332.7L446.5,324.6L444.8,324.5L442,324.2L439.1,324L436.2,323.8L435.4,323.7L435.4,329.6ZM394.8,341.2L393.9,334.9L378.1,338.1L390.4,347.3L393.5,345.3ZM425.6,339.5L412.3,344.9L414.3,347.8L429.3,347.8ZM385.9,360.5L387,358.3L386.2,355.8L371,355.8L370.5,359.3L370,363.2L369.8,364.6ZM389.8,371.7L385.1,367.8L380.5,370.3L379.2,380L379.5,380.1L382.4,380.4L385.3,380.8L386.7,381ZM429.5,371.3L437.1,373L439.9,363.1L436.9,359.1L434.3,358.2L428.4,363.2ZM439.9,363.1L437.1,373L439.3,375.8L453.3,372.7L453.3,371.6L453.6,367.7L453.8,364.9ZM414.2,392.6L407.6,399.2L422.1,405L423.7,396.7ZM383.5,394.8L365.6,394.8L365.3,397.4L364.8,401.2L364.2,405L363.9,407.3L382.8,409.4L384.4,406.6ZM422.7,407.6L408.2,413.1L412,423.6L425.1,418.6L423.2,408.1ZM426.3,419.6L426.3,430.8L436.7,436.6L436.8,436.4L437.1,432.5L437.4,428.7L437.7,424.8L438,420.9L438.2,419.6ZM416,442.7L428.4,462.8L431.4,463L434.5,463.3L434.8,459.4L435.2,455.6L435.5,451.7L435.8,447.9L436.1,444L436.4,440.2L436.7,436.6L426.3,430.8L418.5,433.5ZM367.2,448.4L359,443.2L358.5,446.5L358,450.2L357.5,454L356.9,457.8L356.4,461.5L355.9,465.3L358.6,465.7L361.3,466L364,466.4L366.8,466.7L367.2,463.3L367.7,459.9L368.4,460ZM450.7,266.7L450.6,261.5L448.9,259.7L443.3,259.8L443,260.1L444,268.6ZM458.8,261.9L457.6,260.6L450.6,261.5L450.7,266.7L452.8,268.8L456.9,267.8L457.1,267.6ZM465.1,262.1L458.8,261.9L457.1,267.6L464.8,268.4ZM449.7,275L452.2,273.3L452.8,268.8L450.7,266.7L444,268.6L443.2,269.7L444.7,274.3ZM452.2,273.3L458.6,277.2L460.7,274.9L456.9,267.8L452.8,268.8ZM457.2,282.3L458.3,281.2L458.6,277.2L452.2,273.3L449.7,275L450.6,282.5ZM441.3,290.7L445.1,283.6L443.8,282.5L436.9,282.7L436.7,285.1L436.3,288.9L436.3,289.2ZM450.2,291.1L450.3,291.2L458,290.7L457.2,282.3L450.6,282.5L448.5,284.1ZM458,290.7L459.3,291.9L465.7,290.4L467.7,283.8L458.3,281.2L457.2,282.3ZM468,283.6L467.7,283.8L465.7,290.4L465.8,290.5L473.7,292.6L474.6,291.4L472.8,283.9ZM474.6,297.9L479.9,297.9L482.5,295.7L481.7,295.7L479,295.5L476.3,295.4L474.6,295.3ZM473.5,305.1L474.2,298.1L470.4,297.3L466.8,303.6L468.1,304.8ZM480.2,303.2L479.9,297.9L474.6,297.9L474.2,298.1L473.5,305.1L473.8,305.3ZM481.6,309.3L481.8,305L480.2,303.2L473.8,305.3L474.9,308.9ZM436,309L434.6,309.4L434.4,312L434.1,314.9L435.6,314.9L437.5,310.8ZM435.6,314.9L434.1,314.9L434,315.8L433.7,319.7L433.4,323.5L435.8,323.7L437.6,316.8ZM535.6,351.1L537.5,356.6L541.3,355.9L540.3,355L538.6,353.4L536.6,350.3ZM454.9,369.3L456.3,364.7L456,364L453.8,363.7L453.8,363.9L453.6,367.7L453.4,369.8ZM512.4,368.5L513.1,362.2L512,361.3L507.4,363.8L506.4,365.4L506.9,367.9ZM463.7,374.5L463.4,368L457.5,371.1L459.1,374.8L461.8,375.7ZM500.8,369.9L499.4,370.6L497.9,375.8L499.4,377.3L504.8,376.7L506.4,375.2L505.3,370.5ZM513.2,373.8L519.2,375.7L519.6,375.5L519.1,369.3L517.5,368.3L513.5,369.5ZM523.1,376.1L525.7,369.8L524.1,368.3L519.1,369.3L519.6,375.5ZM531.4,375L529.5,369.9L529.2,369.6L525.7,369.8L523.1,376.1L523.6,376.7ZM542.2,375.9L542.2,374.7L542.1,371.1L542.1,368.8L537.3,370.5L536.9,375.1ZM510.7,376.1L512.6,382.2L516.5,381.2L519.2,375.7L513.2,373.8ZM536.9,375.1L536,375.8L537.5,382.7L537.7,383L542.3,381.2L542.2,378.4L542.2,375.9ZM505.4,383.8L499.5,382.9L499.1,389.1L500.4,389.1L503.4,389.2L505.3,389.2ZM517.5,388.3L517.7,388.7L524.2,388.2L524.1,383.2L519.7,383.3ZM524.2,388.2L524.8,389.4L524.9,389.4L531.6,387L529.5,382.1L525.1,382L524.1,383.2ZM537.5,385.7L542.4,387.9L542.4,385.6L542.3,382L542.3,381.2L537.7,383ZM517.7,388.7L517.5,388.3L513.1,386.4L511.1,389.3L512.4,389.3L515.4,389.3L517.7,389.3ZM442.4,390.9L442.8,386.4L440.8,386.2L440.6,390.1L440.5,390.9ZM450.7,390.8L450.2,386.9L449.5,386.8L446.6,386.7L443.7,386.5L442.8,386.4L442.4,390.9L443.3,391.5L450.7,390.8ZM463,390.7L463.4,387.7L461.3,387.6L458.3,387.4L456.8,387.3L455.8,390.2L458.4,392.1ZM538,391.6L542.4,391.4L542.4,389.2L539.4,389.3L537.8,389.3ZM510.5,391.4L505.9,392.6L504.2,396.3L510.1,398.6L511.7,396.3ZM518.8,397L516.1,389.3L515.4,389.3L512.4,389.3L511.8,389.3L510.5,391.4L511.7,396.3L517.9,397.9ZM484.3,403.7L484.8,398.8L484,398.2L478.8,398.7L477.5,403.9L478.7,405.1L483.6,404.4ZM510.1,398.6L504.2,396.3L503,397.2L504,402.9L509.8,402.6ZM536.6,397.1L537.8,403.1L539.2,404L543.6,403.9L543.6,403.8L543,400.4L542.5,397ZM490.3,409.9L489.6,404.6L484.3,403.7L483.6,404.4L485.9,410.7L489.1,410.9ZM497.1,403.7L491.8,401.5L489.6,404.6L490.3,409.9L496.7,409.8L498.2,405.1ZM511.8,404.6L510,410.6L510.1,410.8L516.4,412.5L519.7,410.4L517.7,404.1L517.3,403.8ZM496.6,417.4L498.3,416L497.7,411.6L496.7,409.8L490.3,409.9L489.1,410.9L490,417.7L491.7,418.5ZM538.1,412.3L537.8,415.4L539.6,417.6L545.1,418.9L545.1,417.4L545.1,414L544.6,410.6L544.5,410.3ZM486.1,419.4L482.9,417.9L478.2,419.3L478.4,423.3L478.5,423.6L483,426.1L485.9,423.8ZM478.5,423.6L478.4,423.3L475.7,424.3L475.6,426.1L477.4,427.5L477.4,427.6ZM505.4,423.9L504,422.3L497.8,424.9L498.2,430.9L503.4,430.9ZM509.8,424.1L505.4,423.9L503.4,430.9L504.2,431.5L510.6,429.9ZM532.7,423.6L531.9,422.9L524.8,424.9L524.4,425.4L524.2,429.9L524.4,430.1L531.9,430.3ZM504.2,431.5L503.4,430.9L498.2,430.9L495.1,433.2L496.1,433.3L499.2,433.5L501,437.4L503.9,437.3L506.2,437.2ZM504.2,431.5L506.2,437.2L506.7,437.2L508.9,438.6L511.1,440L511.5,439.5L512.4,431L510.6,429.9ZM524.4,430.1L524.2,429.9L519.2,431.6L518.3,436.4L523,438.8L523.8,438.9L526.1,438.2L526.8,438ZM518.3,436.4L516.4,437.5L516.5,437.5L518.7,438.5L521.2,438.7L523,438.8ZM463.1,403.6L456.6,403.7L454.9,410.8L455.1,411L463.3,409.5L463.8,409.1ZM455.6,417.2L455.1,411L454.9,410.8L449.1,409L448.7,409.2L447.8,418.3ZM440.4,423.2L442.3,417.1L438.7,412.6L438.7,413.2L438.4,417.1L438,420.9L437.9,423.2ZM442.5,425.9L447.8,423.3L447.6,418.4L442.3,417.1L440.4,423.2ZM441.4,431L442.1,430.6L442.5,425.9L440.4,423.2L437.9,423.2L437.7,424.8L437.4,428.7L437.2,430.6ZM453.6,431.7L456.3,429.7L458.4,425.4L456,422.4L450,425.1L450.5,430.8ZM483.9,430.7L477,432.2L478.1,438L483.6,438.2ZM483.9,430.7L483.6,438.2L485.2,439.5L489.9,436.6L490.2,432.1L487.9,431.3L485.5,430.5L484.5,430.2ZM529.6,439.9L535.1,439L536.3,436.8L535.8,436.5L533.2,436.7L530.7,436.9L528.4,437.5L527.7,437.7ZM440.6,445.4L440.2,440.2L439.8,439.8L436.5,439.4L436.4,440.2L436.1,444L435.9,447ZM478.1,438L476.4,440.3L476.5,444.3L485.7,445.2L485.2,439.5L483.6,438.2ZM498.6,444.2L500,439.8L497.4,437.4L492.8,439L492.2,444.9ZM507.1,446.8L508.1,445.6L505.4,438.5L500,439.8L498.6,444.2L500.9,447.5ZM505.4,438.5L508.1,445.6L511.6,445.3L515,436.8L514.3,436.5L511.1,440L508.9,438.6L506.7,437.2L506.1,437.2ZM529.6,439.9L527.7,437.7L526.1,438.2L524.1,438.8L520.9,441.7L521.4,444.1L527.2,445.1ZM474.9,453.5L476.7,450.9L475.3,445.9L469.7,446.1L470.2,453.3ZM498.2,452.3L499.1,451.6L500.9,447.5L498.6,444.2L492.2,444.9L491.8,445.2L494.2,452ZM520.2,445.6L514.8,447.2L514.6,452.6L519.8,453.5L521.7,451.9ZM528.9,447.1L527.9,453L536.2,453.7L537.1,453L535.3,446.4ZM474.9,453.5L470.2,453.3L468.9,454.1L471.2,461.2L476,458.9ZM491.5,460.2L492.4,459.7L492.6,453.4L484.5,452.6L483.7,459.7L484.6,460.5ZM504.1,460.4L506.1,454.8L499.1,451.6L498.2,452.3L499.5,460.6ZM521.7,451.9L519.8,453.5L519.9,459.4L521.3,460.4L526.9,459.3L527.3,453.6ZM526.9,459.3L528.2,460.5L534.9,459.7L536.2,453.7L527.9,453L527.3,453.6ZM541.1,453.3L541.9,461.1L547.1,461.3L547.7,454.3L543.2,452.3ZM547.1,461.3L548.4,462.5L550.9,461.4L550.9,458.7L550.8,454.8L550.8,453L547.7,454.3ZM463.2,459.3L462.1,460.2L461.3,466.8L464.6,468.4L470.1,466.4L470.1,462.5ZM476,458.9L471.2,461.2L470.1,462.5L470.1,466.4L471.5,467.7L476.5,468.8L479.2,460.3ZM491.5,460.2L484.6,460.5L485.1,465.4L491.8,468.6ZM506.4,467.4L513,468.3L513.7,467L512.8,461.1L505,461.2L506,467ZM528.2,460.5L526.9,459.3L521.3,460.4L520.3,466L521.7,467.5L527.4,466.5L528.5,465ZM548.7,465.8L548.4,462.5L547.1,461.3L541.9,461.1L540.5,462L541,468.2L542.8,470.2L547.3,468.1ZM422.2,465.2L419,468.6L420.3,474.1L425.3,474.3L428.6,466.8ZM527.4,466.5L521.7,467.5L521.6,474.2L528.1,474.2ZM547.3,468.1L542.8,470.2L541.8,474.4L542.3,475.6L549.3,476.8L551.5,474.7ZM411.7,483.5L419.3,481.7L419.1,475.4L414.9,475.5L410.6,482.3ZM532.4,474.1L528.3,474.3L527.7,481L535.1,482ZM549.8,480.3L549.3,476.8L542.3,475.6L540.9,480.4L548,483ZM428.4,489.5L425.4,482.9L420.8,483.5L419.9,488.1L426.6,491.2ZM432.5,488.7L432.7,482.8L427.3,480.8L425.4,482.9L428.4,489.5ZM457,480.9L455.9,482L456,488.8L456.2,489L461.8,489.2L462.8,483L461.7,481.7ZM526.6,482.3L519.9,482.1L520.1,487.9L521,488.9L527.8,489.6L529.2,488.7ZM535.1,491.1L543,489.4L543.2,488.9L540.1,481.4L535.5,482.4L533.2,488.8ZM548.3,487.1L548,483L540.9,480.4L540.1,481.4L543.2,488.9ZM433.4,496.6L433.5,489.3L432.5,488.7L428.4,489.5L426.6,491.2L426,494.9L427.1,496.4L432.6,497.6ZM462.5,490L461.8,489.2L456.2,489L455.2,495.9L458,497.6L461.6,496.5ZM513.2,490.1L506.8,490L504.9,495.8L506.1,497.3L512.8,495.6L514,494.4ZM521,488.9L520.1,496.6L520.2,496.7L526.3,497.2L527.8,489.6ZM527.8,489.6L526.3,497.2L527.5,498.2L533.6,495.7L535.2,493.1L535.1,491.1L533.2,488.8L529.2,488.7ZM541,497.9L544.7,495.9L543,489.4L535.1,491.1L535.2,493.1ZM484,501.1L485.7,503.9L490.9,503.4L492.2,502.4L491,496.2L490.2,495.7L483.8,498.5ZM504.9,495.8L498.5,495.1L497.2,502.9L498.8,505L505.6,503.4L506.7,502.2L506.1,497.3ZM506.1,497.3L506.7,502.2L511.8,503.4L513.9,502.2L512.8,495.6ZM514,494.4L512.8,495.6L513.9,502.2L518.5,501.8L520.2,496.7L520.1,496.6ZM526.3,497.2L520.2,496.7L518.5,501.8L520.7,505.4L528.3,502.1L527.5,498.2ZM527.5,498.2L528.3,502.1L528.5,502.4L532.7,503.9L535.6,501.8L533.6,495.7ZM551.7,495.8L548.8,497.3L548.1,503.3L548.4,503.7L549.4,503.3L551.9,502.5L554.3,501.7L555.2,498.6L555.8,496.6ZM485.7,503.9L484.4,509.6L484.7,510.2L490.1,511.8L492.5,510.5L490.9,503.4ZM490.9,503.4L492.5,510.5L497.6,510.1L498.8,505L497.2,502.9L492.2,502.4ZM513.2,508.8L511.8,503.4L506.7,502.2L505.6,503.4L506.7,510.8L507.2,511.2L512.6,509.5ZM528.5,502.4L528.3,502.1L520.7,505.4L520.5,508.9L527,509.5ZM532.7,503.9L534,509.8L535.5,510.4L538.2,510.4L539.1,508.8L540.4,506.5L539,503.5L539.8,502.1L539.6,501.8L535.6,501.8ZM548.1,503.3L544.2,504L544.3,504.2L542.4,507L544.7,505.5L547,504.1L548.4,503.7ZM512.6,509.5L507.2,511.2L508.3,516.1L514.4,516.7ZM535.5,510.4L534,509.8L529.6,511.8L528.6,515.2L530.4,516.5L532.2,515.5L535.1,513.8L535.2,513.6ZM527.6,515.8L520.1,515.8L519.1,517.1L520.6,520L521.6,520.4L524,519.6L526.3,518.9L527.4,518.3ZM504.8,533.1L498.5,529.2L497,531.1L500.2,538.7L504.9,538.6ZM505.3,538.8L504.9,546.1L505.5,546.4L507.1,546.3L507.1,546.2L506.4,543.2L507.2,539.3L507.3,538.7ZM500.8,547.6L499.5,553.7L505.4,554.7L507.7,553.2L505.5,546.4L504.9,546.1ZM505.4,554.7L499.5,553.7L498.8,554.1L498.5,557.4L499.3,557.5L502,558.8L504.8,560.2L506.3,559.8ZM542.6,213.3L547.3,213.5L548,211.5L545.9,210.7L543.6,209.7L542.4,209.3ZM547.3,213.5L550.4,215.8L554.1,214.6L554.6,213.9L554,210.2L552.3,210.5L550.3,211L548.2,211.6L548,211.5ZM554.6,213.9L561.3,212.9L561.5,212.4L559.3,211.2L556.9,209.9L554.6,210.2L554,210.2ZM561.3,212.9L562,214.2L568.1,215.6L566.9,215L565.3,214.4L563.7,213.9L561.6,212.4L561.5,212.4ZM557.7,221.6L554.1,214.6L550.4,215.8L548.9,221.3L549,221.4L555,224.4ZM562,214.2L562,220.8L563.1,221.5L567.7,222.1L568.3,221.5L569.7,216.4L569.2,216.2L568.1,215.6ZM576.1,221.3L576.9,216.1L575.2,217.2L573.4,217.3L571.6,217.3L569.7,216.4L568.3,221.5ZM520.6,229.2L520.5,223.5L515.3,222.2L515.9,224.3L516.8,227.5L517,229.8ZM541.4,228.2L542,227.5L539.7,223L534.5,222.1L533.4,228.7L536.1,230.8ZM548.9,221.3L542.5,219.7L539.7,223L542,227.5L545.7,227.9L549,221.4ZM555,224.4L549,221.4L545.7,227.9L547.5,229.7L555.1,227.6ZM563.1,221.5L562,220.8L557.7,221.6L555,224.4L555.1,227.6L555.3,227.8L561.3,229.6ZM569.4,227.2L569.5,227.3L574.7,228.4L576.9,222.7L576.1,221.3L568.3,221.5L567.7,222.1ZM580.9,223.2L576.9,222.7L574.7,228.4L575.6,229.4L577,228L578.8,226.1L580.7,224.7L581.4,224.3ZM536.1,230.8L533.4,228.7L529.2,230.2L529.1,234.7L534.1,236.2L536.3,234.7ZM541.4,228.2L536.1,230.8L536.3,234.7L541.8,236.9ZM547.9,235.4L547.5,229.7L545.7,227.9L542,227.5L541.4,228.2L541.8,236.9ZM555.3,227.8L555.1,227.6L547.5,229.7L547.9,235.4L548.4,235.7L553.9,235.7L554.5,235.2ZM562.4,234.3L561.8,230.1L561.3,229.6L555.3,227.8L554.5,235.2L561,235.8ZM568.1,235L569.5,227.3L569.4,227.2L561.8,230.1L562.4,234.3ZM526.4,237.2L522.5,236L521.8,236.4L519.7,242.8L527.7,241.8ZM536.3,234.7L534.1,236.2L534,241.8L536.7,243.3L540.7,242.7L541.8,236.9ZM541.8,236.9L540.7,242.7L541,242.9L548.3,242.3L548.7,241.8L548.4,235.7L547.9,235.4L541.8,236.9ZM553.9,235.7L548.4,235.7L548.7,241.8L555.2,242.6ZM554.5,235.2L553.9,235.7L555.2,242.6L556,243.6L561.5,242L561,235.8ZM561.5,242L561.6,242.1L564.9,241.8L564.8,239.6L566.8,238.1L567.8,236.9L568.9,235.9L568.1,235L562.4,234.3L561,235.8ZM519.7,242.8L518.8,243.8L519.3,246.3L519.5,248.8L519.5,249.1L526.8,249.4L527.4,248.7L528.6,243L527.7,241.8ZM574.3,301.2L575.6,305L580.3,304.8L580.4,299.2ZM585.7,305.4L584,310.7L584.7,311L588.8,309.5L588.8,305.6L588.7,305.5L588.6,305.4ZM590.3,311L591.5,310.7L591.7,308.4L588.8,305.6L588.8,309.5ZM589.6,315.6L590.3,311L588.8,309.5L584.7,311L586.5,315.8ZM574.5,327.5L575.3,331.2L579.3,332.2L579.3,332L579.7,331.6L580.1,326.2L579.9,326ZM580.1,326.2L579.7,331.6L582,329.1L583.6,326ZM573.7,332.6L574.9,332.5L576.8,334L578.7,335.5L579.3,332.2L575.3,331.2ZM554.9,342.3L553.9,341.4L551.6,340.5L551.3,340.6L549.1,346.1L549.8,346.7L554.7,346.8ZM554.7,346.8L549.8,346.7L550.7,351.8L555.5,350.9L555.5,348.1ZM567.3,347.6L567.5,351.8L571.6,352.8L572.6,352L572.9,347.6ZM583.3,351.9L585,351.5L583.7,349.9L582.2,348.4ZM554.5,357.7L556.7,352.2L555.5,350.9L550.7,351.8L549.9,352.5L551.1,357.5ZM568.1,358.9L571.6,358L572.5,356.8L571.6,352.8L567.5,351.8L566.6,352.8L567,357.6ZM583.3,351.9L582.7,353L583.9,356.5L584.5,356.9L588.8,356.2L588.1,355.1L585.9,352.5L585,351.5ZM544.8,356.9L544.6,362.6L545.9,363.7L548.7,363.2L549.1,362.8L549.9,358.6L544.9,356.7ZM574.2,362.2L571.6,358L568.1,358.9L567.3,362.3L567.6,362.8L572.8,363.3ZM585,362.9L584.5,356.9L583.9,356.5L578.5,359L578.3,362.2L584,363.5ZM589.2,363.4L589.3,363.5L594.4,362.8L594.7,362L594.5,358.6L592.3,358.4L590,358.1L590,358ZM549.1,362.8L548.7,363.2L550.9,367.7L555.4,368L555.5,367.9L556.5,363.4L556.2,362.9ZM556.5,363.4L555.5,367.9L561.8,369L562.5,368.3L561.3,363.9ZM562.5,368.3L566.8,368.5L567.7,367.6L567.6,362.8L567.3,362.3L562.5,362.5L561.3,363.9ZM572.2,368.3L572.8,368.7L577.4,367L577.9,362.5L574.2,362.2L572.8,363.3ZM589.3,363.5L589.2,363.4L585,362.9L584,363.5L583.1,369.7L583.8,370.3L589.3,369.4L589.9,368.6ZM550.7,373.8L555.5,373.2L555.4,368L550.9,367.7L550.1,368.8ZM561.8,369L555.5,367.9L555.4,368L555.5,373.2L556.4,374L560.5,374.4ZM544.7,379.2L545.9,374.4L545.1,373.4L542.2,373.2L542.2,374.7L542.2,378.4L542.3,379.3ZM551.3,378.7L550.2,374.2L545.9,374.4L544.7,379.2L545.3,379.9L548.8,381ZM544,385L545.3,379.9L544.7,379.2L542.3,379.3L542.3,382L542.3,385.3ZM551.1,385.7L555.2,385L556,381.3L554.8,379.3L551.3,378.7L548.8,381L550.7,385.4ZM599.9,380.5L600.8,384.8L604.4,384.9L605,382.8L604.1,382L604,380.1ZM604.4,384.9L604.9,385.8L607.5,385.3L606.4,384.2L605,382.8ZM550.7,390L551.1,390.5L555,391.9L555.5,391.4L555.2,385L551.1,385.7ZM555.2,385L555.5,391.4L561.5,390.8L560.9,386.9ZM567.6,385.6L568.4,389.9L572,389.7L574,385.2L571.9,384L568.8,383.9ZM594.5,391.2L599.3,389.6L598.8,386.6L594.4,384.3L593.7,384.9L592.5,389.9ZM550.7,390L545.6,391.2L547,394.8L549.9,395.3L551.1,390.5ZM561.8,393.9L562.1,391.6L561.5,390.8L555.5,391.4L555,391.9L554.8,396.7L556.9,396.7ZM577.3,390.6L572.4,390.1L573.5,396.1L575.9,396L577.2,396ZM583.4,390.7L578.4,388.9L577.3,390.6L577.2,396L578.9,395.9L581.9,395.7L582.8,395.7ZM589.5,391.4L584.5,389.8L583.4,390.7L582.8,395.7L584.9,395.6L588,395.4L589,395.4ZM590.7,390.4L589.5,391.4L589,395.4L591,395.3L594,395.1L595.1,395L594.5,391.2L592.5,389.9ZM598.7,396.4L600,395.6L600.9,391L599.3,389.6L594.5,391.2L595.1,395L597.1,394.9L596.7,396.4ZM600,395.6L604.3,397.3L605,394.4L606.7,392.3L607.4,391.4L605.3,390.1L600.9,391ZM549.9,395.3L547,394.8L545,396.9L545.6,396.9L548.6,396.9L551.6,396.8ZM561.8,393.9L556.9,396.7L557.7,396.7L560.7,396.6L563.3,396.5ZM600,395.6L598.7,396.4L599.7,400.9L601.1,401.9L603.4,401L604,398.3L604.3,397.3ZM601.1,401.9L599.7,400.9L594.9,402.4L594.8,402.8L597.6,402.6L600.3,402.5L601,402.4ZM590.2,395.3L588,395.4L585.8,395.5L589.6,396.4ZM596.5,396.8L597.1,394.9L594.8,395.1ZM548.3,401.4L548.3,396.9L545.6,396.9L542.5,397L543,400.4L543.4,402.8ZM559.1,401.8L559.3,401.9L565.5,400.4L565.7,396.4L563.7,396.5L560.7,396.6L558.9,396.6ZM565.5,400.4L566.6,402.4L571.9,400.4L572.2,400L570.8,396.2L569.8,396.3L566.8,396.4L565.7,396.4ZM582.9,400.9L583.3,401.1L589,400L589.6,396.4L585.8,395.5L584.9,395.6L581.9,395.7L581.9,395.8ZM595,402.1L595.9,398.9L596.5,396.8L594.8,395.1L594,395.1L591,395.3L590.2,395.3L589.6,396.4L589,400L589.5,400.6L594.5,402.5ZM561.9,406.4L559.3,401.9L559.1,401.8L554.9,403.5L554.3,407.1L554.9,408.4L559,408.7ZM594.5,402.5L595.3,406.5L600.8,407.9L600.9,407.1L602,404.7L603,402.3L600.3,402.5L597.6,402.6L594.8,402.8L595,402.1ZM544,406.7L544.1,407.2L544.6,410.6L545,413.5L546,413.4L547.4,411.5L547.2,408.6ZM554.9,408.4L554,411.3L559.5,415L560.8,414L559,408.7ZM566.4,407.3L561.9,406.4L559,408.7L560.8,414L564.9,413.6L565.7,412.7L566.5,407.4ZM548.1,419.4L548.4,418.6L546,413.4L545,413.5L545.1,414L545.1,417.4L545.1,420.6ZM552.8,417.1L552.9,412.3L547.4,411.5L546,413.4L548.4,418.6ZM560.8,414L559.5,415L558.1,418.4L560.7,420.7L565.2,420.5L565.7,419.4L564.9,413.6ZM564.9,413.6L565.7,419.4L571,418.3L570.5,414.6L565.7,412.7ZM570.5,414.6L571,418.3L571.5,418.7L577.4,417.9L576.5,413L573.9,412.5ZM548.1,419.4L545.1,420.6L545.1,420.8L545.1,424.2L545,425.6L547.4,426.3L550.6,424.4ZM559.5,426L560,425.3L560.7,420.7L558.1,418.4L556.1,418.9L553.7,425.4ZM566.9,424.3L565.2,420.5L560.7,420.7L560,425.3L566.3,425ZM553.2,430.6L553.6,425.5L550.6,424.4L547.4,426.3L547.4,431L548.2,431.3L553,430.8ZM577.5,425.1L576.8,423.9L571.4,423.5L569.7,424.8L571.5,430.2L572.7,431L575.6,430.4ZM572,448.4L571.3,447.9L565,449.3L563.6,450.5L563.6,450.6L566,450.6L569,450.4L572.1,450.3L572.6,450.3ZM576.5,454.5L576.9,454.2L576.7,450.1L575.2,450.2L572.1,450.3L571.4,450.4ZM554.5,458.2L550.7,452.5L550.8,454.8L550.9,458.7L550.9,460.3ZM576,456.6L576.5,454.5L571.4,450.4L570.8,450.4L569.2,457.2L573,458ZM567.2,464.9L569.1,465.9L572.2,465.3L573,458L569.2,457.2L566.3,458L565.5,458.8ZM554.5,468.1L554.1,466.8L551,464.7L551,466.4L552.9,469.4L553.1,469.9ZM577.2,471.3L574.2,466L572.2,465.3L569.1,465.9L568.9,472.3L570.5,472.9L576.8,472.3ZM577.5,477L576.8,472.3L570.5,472.9L571.5,477L576.4,477.9ZM583,479.3L583.2,477.6L584.3,474.9L585.4,472.4L582.7,469.2L577.2,471.3L576.8,472.3L577.5,477ZM571.1,477.3L565.3,478.1L565.7,480L571.1,483.6ZM597.7,483.7L600.6,482.7L601.6,481.9L601.7,479.7L601.6,479.7L598.5,479.9L595.3,480.1L594.1,480.2L594.5,482.6ZM568.1,489L563,483.4L560.5,484.6L560.6,490.1L563.5,491.1L567.6,490.3ZM578.3,489.4L581.5,487L581.6,484.4L574.1,483.5ZM589.8,484.9L585.6,480.6L583.9,480.7L581.6,484.4L581.5,487L584.4,489.3L589.8,485.9ZM600.6,482.7L597.7,483.7L596.7,489L599.8,491.3L601.6,490.5L602.2,490.2ZM557.4,498.3L559.4,495.4L559.2,490.8L555.4,491.1L555.8,493.2L556.1,495.5L555.9,496.3ZM584.4,489.3L581.5,487L578.3,489.4L576.9,492.7L576.8,493.6L577.2,493.8L585,493.4ZM590.8,488L589.8,485.9L584.4,489.3L585,493.4L586.1,494.4L586.8,494.3ZM589.9,495.4L593.2,493.8L593.6,490.1L590.8,488L586.8,494.3ZM596.7,489L593.6,490.1L593.2,493.8L596.5,496L599.9,494.1L600.2,492.4L599.7,491.4L599.8,491.3ZM607.2,494L606.5,494L603.8,494.2L601.2,494.4L600.2,492.4L599.9,494.1L602.8,497L606.1,495.8L607.2,494.5ZM607.8,490.7L607.1,490.1L605.1,490.2L605.9,490.6L607.7,491.4ZM607.8,490.7L607.7,491.4L608.3,491.6L611.2,491.7L610.6,490.5ZM607.2,494.5L612.3,497.9L614,496.6L613.1,493.6L610.5,493.8L608.5,493.9L607.2,494ZM606.1,495.8L602.8,497L602.1,502.1L606.4,504.1L608.5,500.9ZM601.1,502.4L595.9,500.7L594.6,501.4L597.1,509.4L598,509.1L598.4,509.1ZM612.8,507.2L613.2,507.3L618.1,507.8L618,506.3L615.2,504.2L614.2,503.5ZM613.2,507.3L613.4,507.4L614.3,510.7L616.3,510.1L618.2,509.4L618.1,507.8ZM575.6,236.3L574.6,236.9L573.1,237.7L571,238.4L568.9,239.1L568.3,238.9L569.8,240.9L575.7,239.4ZM611.9,251L610.4,250L609.9,248.2L607.2,247.7L605,247.4L605.3,251ZM604.7,251.9L600.2,251.7L599.1,252.7L600,257.5L601.7,258.7L605.5,256.9ZM606.6,257.3L605.5,256.9L601.7,258.7L601.1,262.3L601.6,263.2L608.7,263.8ZM606.6,257.3L608.7,263.8L609.3,264.4L612.3,264L613.5,256.8L613.4,256.7L613.4,255.3ZM618.7,264.2L619.4,264.8L619.5,264.6L621.8,260.5L622.5,256.6L620.1,259.1L618.9,261.3L618.7,261.7ZM590.7,270.7L593.9,269.8L594.6,269L593.8,263.7L589.3,262.4L586.7,265.4L586.5,268.3ZM601.6,263.2L601.1,262.3L594.3,263.2L593.8,263.7L594.6,269L600.7,269.2L601.4,268.7ZM581.9,270.7L581.5,270.4L575.1,270.3L575,270.4L575.6,276.4L580.5,276.8L582.4,274.6ZM588.1,276.5L588.6,277.4L594.8,278.3L595.9,276.4L593.9,269.8L590.7,270.7ZM580.8,282.3L580.3,287.5L581.7,289.4L587.4,287.9L586.4,282.8L581.1,282.1ZM606.8,294.7L611.8,294.2L613.7,292.8L613.4,288.2L606.2,287.8L605.4,289.3ZM613.7,287.7L613.4,288.2L613.7,292.8L616.3,293.8L615.8,292.1L615.9,289.3L615.9,287.1ZM611.8,294.2L606.8,294.7L605.9,301.4L607.1,301.3L609.7,301.1L612.4,300.9L613.4,300.8ZM595.2,299.9L595.1,302.1L596.5,302L599.1,301.8L601.8,301.6L599.7,299.9ZM607.9,303.4L612.8,302.6L613,300.8L612.4,300.9L609.7,301.1L607.1,301.3L605.6,301.4ZM617.5,307.9L616.9,303.8L612.9,302.7L612.5,308.9ZM617.7,308.1L617.5,307.9L612.5,308.9L611.9,309.6L612.2,311.2L614.2,313.4L618.4,312.7ZM622,313.3L621.9,312.2L620.5,309.7L619.5,307.8L617.7,308.1L618.4,312.7L618.9,313ZM606.7,318.9L608.6,317.4L607.8,314.3L605.9,312.6L602.7,312.8L602.1,313.3L602.2,317.3ZM612,318.2L612.7,317.8L614.2,313.4L612.2,311.2L607.8,314.3L608.6,317.4ZM618.9,313L617.8,317.7L622.5,319L622.2,315.8L622,313.3ZM584.6,323.5L586.7,322.1L585.9,318.5L584.9,318.7L582.1,319.5L581.8,322.5ZM611.9,323.8L612,318.2L608.6,317.4L606.7,318.9L606,322.9L607.4,324.1ZM618,323.3L616.2,319L612.7,317.8L612,318.2L611.9,323.8L612,323.9ZM617.8,317.7L616.2,319L618,323.3L622.7,321.7L622.5,319.5L622.5,319ZM606.6,329.7L607.2,328.9L607.4,324.1L606,322.9L602.5,323.7L602.3,323.9L602.9,328.8ZM612.3,328.3L612.6,328L612,323.9L611.9,323.8L607.4,324.1L607.2,328.9ZM597,327.9L595.6,329.5L596.6,334L597.2,334.6L600.6,333.5L600.9,330ZM612.3,328.3L607.2,328.9L606.6,329.7L607.3,333.4L612,333.2ZM616.2,333.8L617.1,334.9L623.5,335.9L623.9,335.6L623.8,334L623.5,330.4L623.4,329.7L618.2,328.6L617.8,328.8ZM581.6,332.6L580.1,331.2L579.3,332L578.7,335.5L578,337.9L580.9,339.2L581.1,339.1ZM586.7,338.7L592.4,338.9L591.4,333.5L591,333L586.5,333.9L586.3,338.4ZM596.2,338.7L601.6,339.8L602.3,339.1L602.8,335.1L600.6,333.5L597.2,334.6ZM612,333.2L607.3,333.4L607.1,333.7L608.6,339.3L611.6,339.2L613,333.9ZM611.6,339.2L612.8,339.9L616.3,338.5L617.1,334.9L616.2,333.8L613,333.9ZM616.3,338.5L618.3,340.4L622.3,339L623.5,335.9L617.1,334.9ZM580.9,339.2L580,344.7L586.4,344.6L586.9,344L586.7,338.7L586.3,338.4L581.1,339.1ZM586.9,344L591.9,343.5L592.3,343.2L593.1,339.4L592.4,338.9L586.7,338.7ZM623.5,335.9L622.3,339L623.4,342.9L624.6,343.1L624.4,341.3L624.1,337.6L623.9,335.6ZM591.4,349.2L591.8,349.6L596.5,347.9L596.5,345.8L592.3,343.2L591.9,343.5ZM623.4,342.9L621.4,345.1L622.2,348.6L624.2,349.7L625.1,349.7L625,348.6L624.7,344.9L624.6,343.1ZM587.4,347.9L584.6,351L585.9,352.5L588,355L590.5,354.3L591.8,353L591.8,349.6L591.4,349.2ZM624.2,349.7L622.6,355.4L625.4,355.2L625.3,354L625.1,351.3L625.1,349.7ZM590.5,354.3L588,355L588.1,355.1L590,358.1L592.3,358.4L592.4,358.4ZM595.8,360.4L595.9,360.3L596.5,354.5L596.5,354.4L591.8,353L590.5,354.3L592.4,358.4L594.5,358.6L594.6,360.2ZM601.8,355.6L596.5,354.5L595.9,360.3L601.3,359L602.2,358.1L602.3,356.4ZM625.6,359.5L625.9,358.9L625.6,356.4L625.4,355.2L622.6,355.4L622,356L622.7,359.2ZM622.7,359.2L622.2,360L623.6,363.1L623.8,362.8L625.6,359.5ZM607.7,371.9L608.8,371L605.5,364.7L603.6,365.4L602.4,369.8ZM618.5,370.2L619.1,370.8L621.3,371.2L621.4,369.8L621.6,366.7L622.3,365.5L618.4,365.4ZM606.8,376.1L607.7,371.9L602.4,369.8L600.7,370.9L601.2,374.9L601.6,375.2L602.7,376.4ZM608.8,371L607.7,371.9L606.8,376.1L607.5,377L611.7,376.7L613.5,375.2L612.4,370.5L611.8,370.1ZM619.1,370.8L617.1,376.6L617.3,377L620.7,376.5L620.1,374.6L621.2,373L621.3,371.2ZM606.8,376.1L602.7,376.4L603.8,377.4L604,379.7L604.1,382L605.8,383.6L607.7,380.5L607.5,377ZM607.7,380.5L613.2,381.8L613.4,381.7L611.7,376.7L607.5,377ZM613.4,381.7L615.9,381.4L617.3,380.1L617.3,377L617.1,376.6L613.5,375.2L611.7,376.7ZM651.6,254.2L656.1,254.8L657.3,253.4L657.3,251.2L656.6,250.9L654.9,250.5L653.2,250.1L651.2,249.1L651.1,249.1ZM638,259L637.7,256.6L636.6,258.5ZM641.7,255.5L640.9,255L640.3,255.5L640,257.9L640,258.5ZM645,260.2L650.8,259.8L650,255.6L645.3,254.5L644.7,255.1ZM635.3,265.1L638.9,265.2L640.4,261.1L639.8,260.1L639.8,260.2L638.4,263L638.1,259.8L638,259L636.6,258.5L635.9,259.9L634.7,260.7ZM651.7,260.8L650.8,259.8L645,260.2L644.6,260.9L646.2,265.7L650.1,265.3ZM656.4,259.5L655.8,260.3L657.4,264.2L662,264.8L662.4,259.5L662.1,258.9ZM662,264.8L663.6,264.9L663.6,262.7L662.8,260.5L662.4,259.5ZM639.5,271.8L640.1,266.5L638.9,265.2L635.3,265.1L634.5,265.6L634.6,272.2ZM661.4,271.1L661.5,271.1L661.9,270.7L663.7,267.4L663.6,265L663.6,264.9L662,264.8ZM668.3,272.3L669.9,271.5L669.8,271.4L668,270.3L666.8,271.2ZM641.1,275.7L640.2,272.4L639.5,271.8L634.6,272.2L634.1,272.6L633.9,277.1L634.7,278.2ZM667.8,276.6L663.2,275.9L661.2,278.8L661.8,281.1L663.7,282.2L666.8,281.7ZM651.8,286.2L651.5,282.1L651,281.4L646.4,281.2L645,282.5L645.6,286.1L650.6,287.3ZM657.1,286.7L657.7,283.7L656,281.8L651.5,282.1L651.8,286.2ZM668,282.4L666.8,281.7L663.7,282.2L663.3,287.2L666.8,289L667.6,288.4ZM639.3,293.8L641.1,291.7L640.4,288.9L639.4,288.2L635.4,288.3L635.3,293.6ZM650.8,292.4L650.6,287.3L645.6,286.1L646.4,293.7ZM666.8,289L666.6,293.2L666.8,293.4L672.9,292.8L672.2,287.9L667.6,288.4ZM673.1,286.8L672.2,287.9L672.9,292.8L673.1,293.1L673.3,292.5L674.9,291.9L676.5,291.2L676.4,288.5L676.3,287.4ZM641.1,291.7L639.3,293.8L639.6,298L640.1,298.3L645.5,297.2L646,293.9ZM645.5,297.2L646,298.2L650.3,300.1L652.1,298.5L652.4,293.3L650.8,292.4L646.4,293.7L646,293.9ZM656,299.8L658,297.5L654.8,293L652.4,293.3L652.1,298.5ZM634.2,304.2L639.7,304.4L640.9,303.4L640.1,298.3L639.6,298L634.9,299.1L634.1,301.1L633.3,303.3ZM644.3,303.4L644.6,303.8L650.5,304L650.3,300.1L646,298.2ZM650.3,300.1L650.5,304L651.1,304.7L656.6,302.9L656,299.8L652.1,298.5ZM634.2,304.2L633.3,303.3L633.2,303.5L631.9,307.5L629.7,310.7L632.3,310.4L634.4,310.2ZM639.7,304.4L641,309.5L642.3,309.4L644.9,309.1L645.3,309.1L644.6,303.8L644.3,303.4L640.9,303.4ZM651.1,307.4L651.1,304.7L650.5,304L644.6,303.8L645.3,309.1L647.4,308.8L649.9,308.5L650.2,308.5ZM651.1,307.4L655,308.8L655.1,308.8L657.3,308.4L658.6,304.4L656.6,302.9L651.1,304.7ZM651.1,307.4L650.2,308.5L652.4,308.2L652.5,309.2L655,308.8ZM642.8,309.4L647.1,310.6L647.8,309.6L647.7,308.8L647.4,308.8L644.9,309.1L642.7,309.3ZM647.8,309.6L651.6,309L652.3,308.3L649.9,308.5L647.7,308.8ZM625.8,313.8L626.3,313.6L626.1,312.8L625.7,312.9L624.2,313.4L621.9,312.2L622,313.2ZM638.3,313.4L638.8,314L642.5,314.7L642.8,309.4L642.7,309.3L642.3,309.4L639.8,309.7L639,309.7ZM647.5,312.7L647.1,310.6L642.8,309.4L642.5,314.7L642.9,315.1L647.1,313.3ZM652.1,314.2L652.3,314.1L651.6,309L647.8,309.6L647.1,310.6L647.5,312.7ZM629.9,316.7L630.1,314.8L629.3,313.9L626.3,313.6L625.8,313.8L624.1,318.5L625,319.1ZM630.5,317.7L633.9,319.2L635.3,317.6L634,313.8L630.1,314.8L629.9,316.7ZM637.9,317.5L638.8,314L638.3,313.4L634.4,313.4L634,313.8L635.3,317.6ZM642.9,315.1L642.5,314.7L638.8,314L637.9,317.5L639.4,319.4L642.4,318L643.1,316.9ZM648,318.9L651.3,318.3L652.1,314.2L647.5,312.7L647.1,313.3L647.6,318.5ZM652.2,319.2L653.7,319.2L653.4,316.4L653.1,314L652.3,314.1L652.1,314.2L651.3,318.3ZM624.9,322.7L625.7,321.2L625,319.1L624.1,318.5L622.4,318.2L622.5,319.5L622.8,323.1L622.8,323.3ZM629.5,322.3L630.5,317.7L629.9,316.7L625,319.1L625.7,321.2ZM629.5,322.3L630.4,323.4L634.1,322.4L634.5,322L633.9,319.2L630.5,317.7ZM637.9,317.5L635.3,317.6L633.9,319.2L634.5,322L638.7,322.4L638.7,322.3L639.4,319.4ZM643.1,316.9L642.4,318L644.3,322.1L646.9,321.6L648,318.9L647.6,318.5ZM652.2,319.2L652.3,323.3L652.6,323.5L654.2,323.2L653.8,320L653.7,319.2ZM625.9,327.4L626,327.2L624.9,322.7L622.8,323.3L623.1,326.7L623.2,327.8ZM631.3,327.7L634.5,328.1L635,327.7L634.1,322.4L630.4,323.4L629.7,326.1ZM638.4,327.5L639.2,326.4L638.7,322.4L634.5,322L634.1,322.4L635,327.7ZM638.7,322.3L638.7,322.4L639.2,326.4L643.6,326.6L643.9,322.5ZM643.9,322.5L643.6,326.6L644.1,326.9L646.4,327.2L647.9,326.1L648.5,324.1L646.9,321.6L644.3,322.1ZM648.5,324.1L647.9,326.1L651.1,328L653.1,326L652.6,323.5L652.3,323.3ZM652.6,323.5L653.1,326L654.6,326.7L654.2,323.7L654.2,323.2ZM623.2,327.8L623.5,330.4L623.6,332.3L625.7,332.6L627,331.3L625.9,327.4ZM626,327.2L625.9,327.4L627,331.3L629.1,331.8L630.4,331L631.3,327.7L629.7,326.1ZM639.4,330.8L638.4,327.5L635,327.7L634.5,328.1L634.5,331.8L638.7,332.1ZM646.4,327.2L647.8,332.3L651.4,331.4L651.1,328L647.9,326.1ZM653.1,326L651.1,328L651.4,331.4L651.6,331.5L655,330.4L654.6,327.3L654.6,326.7ZM624.6,336.5L626,335.4L625.7,332.6L623.6,332.3L623.8,334L624,336.4ZM634.5,331.8L633.8,332.6L633.6,335.4L634.4,336L638.4,335.8L638.9,335.3L638.7,332.1ZM653,336.4L653.5,336L651.6,331.5L651.4,331.4L647.8,332.3L647.6,332.4L647.5,336.4ZM625.5,340L624.6,336.5L624,336.4L624.1,337.6L624.3,340.3ZM626,335.4L624.6,336.5L625.5,340L626.9,340.6L629.4,339.7L629.9,336.5ZM634.7,340.5L637.8,341.1L638.9,339.8L638.4,335.8L634.4,336ZM638.4,335.8L638.9,339.8L642.1,340.2L643.2,336.6L642.3,335.5L638.9,335.3ZM653.5,336L653,336.4L652.2,340.2L652.3,340.3L656.1,340.4L655.9,338.2L655.6,336ZM625.9,344.9L626.1,344.8L626.9,340.6L625.5,340L624.3,340.3L624.4,341.3L624.7,344.9ZM633.3,344.1L633.5,341.3L629.4,339.7L630.1,345.1ZM638.5,345.1L637.8,341.1L634.7,340.5L633.5,341.3L633.3,344.1L634.7,345.5ZM637.8,341.1L638.5,345.1L639.1,345.6L642.1,345L643.1,341.2L642.1,340.2L638.9,339.8ZM643.3,345.7L647.8,344.4L647,340.8L643.1,341.2L642.1,345ZM656.7,345L656.3,341.8L656.1,340.4L652.3,340.3L652.6,344.8ZM625.9,344.9L624.7,344.9L625,348.6L625.1,349.4L625.5,349.4L626.2,348.6ZM630.3,348.9L630.7,349.3L633.4,349.4L634.7,345.5L633.3,344.1L630.1,345.1L629.8,345.5ZM644.1,348.7L643.3,345.7L642.1,345L639.1,345.6L638.8,349.8L643.3,350ZM647.4,348.9L648,344.6L647.8,344.4L643.3,345.7L644.1,348.7ZM626.8,359L629.6,358.7L629.5,354.3L628.8,353.6L626.5,353.4L625.3,354.1L625.6,356.4L625.9,358.3ZM634.3,357.8L633.6,354.4L629.5,354.3L629.6,358.7L629.7,358.7L634.2,357.9ZM637.8,357.3L638.5,353.9L634.2,353.7L633.6,354.4L634.3,357.8ZM650.5,357.1L651,356L651.3,356L652,353.7L647.6,352.8L647.3,353.1L647.7,357.2L647.8,357.3ZM629.6,358.7L626.8,359L625,362.7L625.5,363.6L630,363L630.6,362.5L629.7,358.7ZM629.7,358.7L630.6,362.5L634.1,363.4L634.9,362.3L634.2,357.9ZM634.9,362.3L637.9,361.5L638.5,358.2L637.8,357.3L634.3,357.8L634.2,357.9ZM638.5,358.2L637.9,361.5L639.7,362.7L642.5,362.1L643.2,361.3L642.7,358.4ZM643.2,361.3L647.6,362L647.8,357.3L647.7,357.2L643.2,357.4L642.7,358.4ZM648,362.4L649.3,359.6L650.5,357.1L647.8,357.3L647.6,362ZM624.1,362.2L623.8,362.8L621.6,366.7L621.6,366.8L624.8,366.2L625.5,363.6L625,362.7ZM625.5,363.6L624.8,366.2L625.4,366.9L629.5,367.2L630,363ZM630,363L629.5,367.2L630.2,367.9L634.7,366L634.1,363.4L630.6,362.5ZM637.9,361.5L634.9,362.3L634.1,363.4L634.7,366L635,366.3L639,366.1L639.7,362.7ZM630.2,367.9L629.5,367.2L625.4,366.9L625.8,370.5L626.5,370.2L629.4,371.2L630.3,371.6ZM643.5,366.8L645.1,367.6L645.8,366.3ZM632.4,372.3L635.2,371.1L637,370.3L635.3,369.6ZM656.6,308.5L655.1,308.8L652.5,309.2L652.8,311.6L656.6,310.3ZM656.9,317.3L658.5,315.3L656.7,310.4L656.6,310.3L652.8,311.6L653,312.8L653.3,315.4ZM662.7,310.3L656.7,310.4L658.5,315.3L662.3,315.2L663.2,310.9ZM656.9,319.2L656.9,317.3L653.3,315.4L653.4,316.4L653.8,320L653.8,320.4ZM662.7,320.1L662.7,315.8L662.3,315.2L658.5,315.3L656.9,317.3L656.9,319.2L658.1,320.5L661.3,321ZM661.3,321L658.1,320.5L656.2,326L656.5,326.3L661.3,324.9ZM655.4,332.8L657.4,329.2L656.5,326.3L656.2,326L654.4,325.6L654.6,327.3L655,330.9L655.3,332.8ZM675.2,331L680.9,330.6L680.9,327.2L676.4,325.3L674,330ZM699.7,325.3L700.6,330.5L702.3,330.6L702.3,330.5L702.6,327.6L702.9,325L702.9,324.6ZM662.3,329.8L662.1,330L661.4,335L661.8,335.5L665.9,336.2L667,335.3L665.7,330ZM670.7,329.1L666.1,329.7L665.7,330L667,335.3L670.2,334.9L671.8,330.2ZM676,335.6L676.3,335.8L680,335.7L680.9,334.5L681,330.8L680.9,330.6L675.2,331ZM686.7,331L685.5,335.6L686.3,336.7L690.8,335.7L691,330.8L690.2,330L687.9,330.2ZM691,330.8L690.8,335.7L691.3,336.3L696.4,335.4L694.6,330.9ZM655.4,332.8L655.3,332.8L655.5,334.6L655.9,338.2L656,339.4L656.1,339.3L656.5,334ZM656.5,334L656.1,339.3L660.3,339L661.8,335.5L661.4,335ZM666.2,340L665.9,336.2L661.8,335.5L660.3,339L662,341.9ZM681.1,340L680,335.7L676.3,335.8L675.3,340.3L676.3,341.8ZM684.7,339.9L685.9,338.6L686.3,336.7L685.5,335.6L680.9,334.5L680,335.7L681.1,340L681.3,340.2ZM691.3,336.3L690.8,335.7L686.3,336.7L685.9,338.6L690.7,341.4L691.9,339ZM691.3,336.3L691.9,339L695.6,339.5L696.7,335.6L696.4,335.4ZM667,340.8L667.4,345.1L670.3,346L671.5,345.2L671,340.4ZM675.3,340.3L671.7,339.8L671,340.4L671.5,345.2L674.9,345.1L676.1,343.6L676.3,341.8ZM685.1,345.6L686.5,344.4L684.7,339.9L681.3,340.2L681.8,344.7ZM690.7,344.1L690.7,341.4L685.9,338.6L684.7,339.9L686.5,344.4ZM695.6,339.5L691.9,339L690.7,341.4L690.7,344.1L692,345.4L693,344.3L694.9,341.3L695.7,339.5ZM658.5,350.5L661,348.8L660.9,348.7L659,348.9L657.6,349.1ZM656.6,360.5L657.9,360.7L660.6,356.2L660.4,355.9L656,356.7L655.4,357.7L655.8,359.8ZM651.6,365.5L652.4,364.9L651.6,361.5L649.4,359.6L649.3,359.6L647.6,363.1L647,364.2ZM655.1,365.5L659.2,364.1L658.5,361.2L657.9,360.7L656.6,360.5L654.8,365.3ZM639.9,367.5L639.7,367.8L638.3,369.6L639.5,370.3L640.8,369ZM626.2,370.3L623.8,371.6L622.5,372.3L626.5,374.5L629.4,374L629.3,373.4ZM629.3,373.4L629.6,371.3L629.4,371.2L626.5,370.2L626.2,370.3ZM638.3,369.6L638.1,369.9L635.2,371.1L634.6,371.4L635,371.8L639.1,373.5L639.5,370.3ZM635,371.8L634.4,376.9L635.8,377.6L637.1,377.4L639.2,373.7L639.1,373.5ZM618.5,381.9L623,381.2L623.1,379.9L620.7,378.2L619.2,380.5L618.4,381.8ZM627.3,379.3L628.2,380.8L630.8,381.3L631.8,376.6L630.7,375.7ZM610.1,386.4L615.3,385.2L615.2,384.6L613.1,385.2L610.9,385.8L609.8,386.1ZM618.5,381.9L618.4,381.8L617.3,383.4L615.2,384.6L615.3,385.2L616.4,386.5L618.6,387.1L618.8,387L619.4,385.6ZM623,383.7L624.7,385.7L627.3,385.2L627.1,382.5L623.1,381.6ZM608.1,390.7L609.3,390.4L610.3,386.9L610.1,386.4L609.8,386.1L608.7,386.4L608.4,390.3L608,390.7ZM616.4,386.5L615.3,385.2L610.1,386.4L610.3,386.9L613.4,389.2ZM628.3,385.8L628.6,389.9L630.5,389.8L632.8,388.2L630.9,385.3L630.2,385ZM608,390.7L606.7,392.3L605,394.4L605.9,394.3L608.1,390.7ZM608.1,390.7L605.9,394.3L607.9,394.2L610.9,394L612,393.9L609.3,390.4ZM611.3,404.6L610.1,397.9L609.8,397.9L606.6,402.3L611.1,404.9ZM616.5,402.3L614.8,398.3L610.9,397.4L610.1,397.9L611.3,404.6ZM620.6,403L622,400.2L620.4,397.1L615.8,397.2L614.8,398.3L616.5,402.3L616.6,402.3ZM605.5,409.4L607.8,407L604.3,403L602.8,402.9L602,404.7L600.9,407.1L600.8,407.4ZM600.8,407.4L600.4,410.1L599.9,412.7L602.2,413.8L606,413.4L606.9,412.1L605.5,409.4ZM631.4,412L633.7,411.7L634.8,410.5L634.7,407.3L632.2,406.4L630.4,407.8ZM641.9,413.5L644,408.2L643.9,408L640,405.3L639.4,406.1L639.7,411.3ZM642.1,414L648.6,410.1L648.1,408.7L644,408.2L641.9,413.5ZM650.4,411.7L648.6,410.1L642.1,414L642.1,414.6L643.2,414.5L646.2,414.2L648.8,413.9ZM654.4,412L650.4,411.7L648.8,413.9L649.1,413.9L652,413.6L654.9,413.2L655.5,413.2ZM662.3,410.7L657.9,412.9L660.2,412.6L662.9,412.3L665.5,412L665.9,412ZM619.2,421.4L621.1,422.6L624,422.7L624,421.7L624.1,417.8L622.7,416.3L619.8,416.6L618.7,416.7ZM617.6,431.7L616.4,432.9L620,438L623.7,437.6L623.7,437.2L623.8,433.3L623.8,432.5ZM586.2,476.6L587.4,474.8L585.8,471.4L585.5,472.1L584.3,474.9L583.8,476.2ZM592.3,475.8L596.5,475.9L595.8,469.4L592.6,469.3L591.1,470.2L591.3,474.9ZM586.2,476.6L583.8,476.2L583.2,477.6L582.9,480.7L586,480.6L586.8,480.5ZM639.4,414.9L640.5,416.4L645,416.7L646.6,416L645.8,414.2L643.2,414.5L640.3,414.8L639.4,414.8ZM646.6,416L649.1,416.1L650.7,414.7L650.6,413.7L649.1,413.9L646.2,414.2L645.8,414.2ZM627,422L627.7,421.2L627.5,415.9L625.6,416.1L622.7,416.3L624.1,417.8L624,421.7ZM644.5,422.6L644.6,422.5L645,416.7L640.5,416.4L639.6,420.3ZM644.6,422.5L649.9,421.3L649.1,416.1L646.6,416L645,416.7ZM633.1,421.7L627.7,421.2L627,422L627.2,425.8L632.3,428.3L633.5,427.3ZM634.1,420.7L633.1,421.7L633.5,427.3L638.9,427.5L639,427.3L638.5,421.4ZM639,427.3L644.2,425.8L644.5,422.6L639.6,420.3L638.5,421.4ZM651.2,422.6L651.4,427.2L651.7,427.5L655.2,428L657.9,423.9L656.9,420.4L656.7,419.8ZM655.2,428L657.4,430L659.2,428.7L658.9,427.5L657.9,424L657.9,423.9ZM639,427.3L638.9,427.5L640,432.7L643.5,433.9L644.9,433L645,426.4L644.2,425.8ZM649.7,432.4L651.7,427.5L651.4,427.2L645,426.4L644.9,433ZM633,434.2L631.4,432.7L626.6,434L626.2,437.8L628.5,440.4L633.8,439.8ZM638.9,441L644.2,438.1L643.5,433.9L640,432.7L639.5,433.1L637.5,440.5ZM651.5,440.3L657,440.2L657.6,439L657.2,435.4L651.5,435.5L650.4,438.5ZM662.4,440.3L661.9,438.2L660.9,434.7L660.5,433.5L658.8,433.3L657.2,435.4L657.6,439ZM626.9,445.8L628.5,440.4L626.2,437.8L623.7,439.1L623.7,441.1L623.6,444.9L623.6,445.6ZM644.2,438.1L638.9,441L641.8,446.4L645.7,446.1L645.9,439.4ZM657.2,445.8L657.3,445.9L663.5,444L662.9,441.8L662.4,440.3L657.6,439L657,440.2ZM639.9,452.6L644.3,454.5L645.7,453L645.7,446.1L641.8,446.4L639.6,448.8L638.9,451.2ZM645.7,446.1L645.7,453L651.6,452.4L648.9,446.5ZM674.3,412.3L677.3,410.9L677.4,410.6L676.8,410.6L673.8,411L673,411.1ZM657.3,415.6L656.9,413L654.9,413.2L655.9,416.8ZM660.6,415.4L660.8,412.6L660.2,412.6L657.6,412.9L656.9,413L657.3,415.6L659.9,415.8ZM660.6,415.4L664.6,415.4L665.4,414.5L665,412.1L662.9,412.3L660.8,412.6ZM669.5,414.6L673.9,415.3L674,415.1L674.3,412.3L673,411.1L670.8,411.4L670,411.5ZM664.8,418.7L664.6,415.4L660.6,415.4L659.9,415.8L660.8,419.5ZM665.4,414.5L664.6,415.4L664.8,418.7L665.4,419.4L669.3,419.2L669.5,419L668.9,415ZM669.5,414.6L668.9,415L669.5,419L673.5,418.6L674.1,418.1L673.9,415.3ZM660.3,420.5L657,420.9L657.9,424L658,424.5L660.6,425.6L662.3,423.7ZM668.9,424.3L669.8,423.7L669.3,419.2L665.4,419.4L664.7,423.5L665.1,423.7ZM669.5,419L669.3,419.2L669.8,423.7L672,424L673.3,423.1L673.5,418.6ZM673.5,418.6L673.3,423.1L677.2,423.7L678.5,419.9L678,419.3L674.1,418.1ZM660.6,428.4L660.6,425.6L658,424.5L658.9,427.5L659.6,430.1ZM660.6,425.6L660.6,428.4L665.1,428.5L665.1,423.7L664.7,423.5L662.3,423.7ZM665.1,428.5L665.9,429.2L668.6,428.4L668.9,424.3L665.1,423.7ZM673.1,427.4L672,424L669.8,423.7L668.9,424.3L668.6,428.4L669.4,429L672.9,427.7ZM665.5,432.1L665.9,429.2L665.1,428.5L660.6,428.4L659.6,430.1L659.9,431.1L660.1,431.9ZM669.9,432.5L665.8,432.7L665.5,436.8L669.9,436.8L670.4,436.6ZM673.8,437L673.7,431.7L673.4,431.6L670.4,431.9L669.9,432.5L670.4,436.6L673.1,437.6ZM664.8,440.1L665,437.1L661.2,435.9L661.9,438.2L662.6,440.8ZM677.5,440.6L678.1,436.5L677.1,436.1L673.8,437L673.1,437.6L673.5,440.6ZM677.5,440.6L678.8,441.6L681.6,439.4L681.8,439.1L681.2,437.1L680.5,436.5L678.1,436.5ZM703.2,441.3L706.9,440.3L707.5,437L703.5,436.5L702.8,437.3L702.4,440.5ZM668.5,441.4L668,441.8L668.5,444.8L669.5,445.2L672.6,444.9L673.5,444.1L673.4,440.9ZM665.8,448.8L665.9,445.9L664.3,445.1L663.8,445.2L663.9,445.4L665.6,448.8L665.6,448.9ZM668.5,444.8L665.9,445.9L665.8,448.8L669.3,450.1L669.5,445.2ZM669.5,445.2L669.3,450.1L669.4,450.3L673.1,449.1L672.6,444.9ZM707.5,449.1L708.2,450L711.3,450.4L712.5,448.7L712,445.4L708,446.2ZM712.5,448.7L716.7,450.3L717.7,449.2L716.6,448.6L714.5,445.8L713.1,443.9L712,445.4ZM682.3,454.3L685.4,453L685.7,449.8L681.9,449.4L681.3,450L682.2,454.1ZM698.7,454.6L702.6,454.7L703.4,453L703.1,450.4L699.1,449L698.1,449.9ZM712.2,454.2L711.3,450.4L708.2,450L707.7,453.5L708.6,454.4L712,454.3ZM715.7,453.5L716.2,452.9L716.7,450.3L712.5,448.7L711.3,450.4L712.2,454.2ZM677.2,457.7L678.1,458.3L680.4,458.1L682,456.7L682.3,454.3L682.2,454.1L677.3,453.1L677.2,453.2ZM694.2,453.5L691.2,455.4L690.9,457.4L694.8,458L695.1,454.3ZM703.4,457.3L703.7,457.6L707,457.8L708.6,454.4L707.7,453.5L703.4,453L702.6,454.7ZM712,454.3L708.6,454.4L707,457.8L707.3,458.2L711.6,458.5L712.2,457.9ZM715.7,453.5L712.2,454.2L712,454.3L712.2,457.9L717.2,459.7L717.6,458.4ZM694,462.4L695,461.4L695.5,458.6L694.8,458L690.9,457.4L690,458.6L690.6,461.1ZM711.6,458.5L707.3,458.2L707.8,462.1L711,462.2ZM712.2,457.9L711.6,458.5L711,462.2L711.3,462.5L716.7,461.7L717.1,460.2L717.2,459.7ZM684.7,462.2L682.3,462.5L681.7,463.1L682.1,466.8L682.7,467.3L686.3,467.3L686.4,467L686.1,463.4ZM686.1,463.4L686.4,467L690.6,466.2L689.7,462.3ZM702.7,466.4L702.1,462.9L699.6,462.3L697.7,465.8L699,466.9ZM706.9,466.1L706.8,462.9L703.4,462L702.1,462.9L702.7,466.4L703.4,467.2ZM711.3,462.5L711,462.2L707.8,462.1L706.8,462.9L706.9,466.1L707,466.2L711.8,466.2ZM711.3,462.5L711.8,466.2L712,466.5L715.9,465.5L715.9,465.1L716.5,462.7L716.7,461.7ZM703.1,470.8L703.4,467.2L702.7,466.4L699,466.9L699.1,470.5ZM715.5,470.8L716.1,468.7L716.1,468.6L715.9,465.5L712,466.5L711.9,469.8ZM669.5,470.5L668.8,471.1L669.5,473.7L670.1,474.9L672.9,474.3L673.1,474L673.3,472.5ZM691.4,475.1L691.1,471.3L691,471.3L688.1,471.3L686.7,474.6L686.9,475.1L689.9,476.8L690.2,476.8ZM691.4,475.1L695.3,475.3L694.2,471.8L691.1,471.3ZM698.4,470.9L696,470.4L694.2,471.8L695.3,475.3L696.3,476.3L697.3,476.2L698.3,476.2ZM711.7,469.9L708.1,470.4L707.5,470.9L709.2,476.4L709.2,476L709.2,473.9L711.5,473.3ZM715.5,470.8L711.9,469.8L711.7,469.9L711.5,473.3L711.6,473.3L713.9,472.6L716.3,472L716.3,471.6ZM683.5,474.2L682,476.3L682.4,477.3L684.6,477.1L686.1,477L686.9,475.1L686.7,474.6ZM686.9,475.1L686.1,477L687.7,476.9L689.9,476.8ZM653.3,478.9L654.6,481.3L656.7,481.6L659.5,480.2L662,477.6L661.5,474.6L660.3,474.7L657.2,475.1L654.8,475.3ZM674.3,477.8L671.8,477.9L670.7,475.8L669.5,473.7L667.6,473.9L668,481L672.9,479.1ZM680.5,482.8L685.2,477.1L684.6,477.1L681.4,477.3L678.2,477.5L677.3,477.6ZM694.7,476.4L694.1,476.5L690.9,476.7L687.7,476.9L687.1,477L687.4,477.8L693.5,482.2L696.2,479.7ZM700.8,476L700.5,476L697.3,476.2L694.7,476.4L696.2,479.7L697.8,479.9ZM707.3,477.2L707,475.7L706.8,475.5L703.6,475.7L700.8,476L697.8,479.9L700.1,481.7L704.6,481.1ZM662,477.6L659.5,480.2L665.6,485.1L667.4,483.4L667.9,481.2ZM676.1,486.8L672.9,479.1L668,481L667.9,481.2L667.4,483.4L674.7,488.4ZM683.8,485.7L686.2,484.5L687.4,477.8L687.1,477L685.2,477.1L680.5,482.8L680.7,484.2ZM706.5,484.9L709.8,487L713.1,485.3L711.5,480L707.3,477.2L704.6,481.1ZM718.2,485.3L720.2,484L720.1,483.9L719,480.9L717.9,478L717.6,476.9L714.6,477.3L711.5,480L713.1,485.3L715.2,485.8ZM693.2,487.4L692.3,485L686.2,484.5L683.8,485.7L683.9,485.9L684.2,485.8L686.4,487.1L688.6,488.4L690.9,490.4L691.6,491.1ZM718.8,493.8L720.1,491.8L718.2,485.3L715.2,485.8L714.9,492.9ZM724.7,492.3L724,491L722,487.5L720.2,484L718.2,485.3L720.1,491.8ZM726.6,505.6L728.8,503.8L726,497.4L720.3,499.8L720.2,499.8L720.7,504.7L721.3,506ZM726,497.4L728.8,503.8L733.3,504.4L733.4,504.3L732.5,502.1L730,499.4L727.6,496.7L727.1,495.9ZM728.6,510.4L726.6,505.6L721.3,506L720.5,510.3L728.2,510.8ZM702.8,406.7L707.8,406.9L708.8,406.2L708.2,403.7L708.1,403.7L705.4,404L702.9,404.3ZM720.2,412L725.9,411.3L724.9,406.5L723,406.8L720.6,407.1ZM734.1,410L731.8,408.4L728.6,405.9L725.8,406.4L724.9,406.5L725.9,411.3L726.3,411.7L730.7,412.4ZM725.9,411.3L720.2,412L719.4,413L720.6,416.1L724.3,416.6L726.3,411.7ZM725,417.6L724.7,422.5L730.6,422.3L730.6,417.7L730.3,417.3ZM731,428.4L735.9,429.2L737.3,427.8L737,422.1L731.2,422.9ZM707.5,434.3L710.1,436.4L711.3,439.7L712.1,442L713.2,440.5L713.8,436L707.5,434.2ZM715,434.7L713.8,436L713.2,440.5L719.7,440.8L719.5,435.4L717.9,434.4ZM720.7,443.9L719.1,445.3L719.6,450.3L720.2,450.7L722.3,447.7L724.3,446.1ZM742.5,377.9L743.5,379.1L745.4,379.5L749.1,377L746.7,374.9L746.3,375L743.4,375.5L742.9,375.6ZM751.3,376.7L757.1,376L757.7,372.8L755,373.3L752.1,373.9L751.2,374ZM738.9,383.4L741.6,384.8L741.7,384.8L743.5,379.1L742.5,377.9L737.8,379L737.6,379.2ZM747.7,383.5L745.4,379.5L743.5,379.1L741.7,384.8L742.4,385.3L745.8,384.5ZM757.8,377L757.1,376L751.3,376.7L751,377.1L751.5,382.2L756.7,382ZM760.8,384.3L763.1,381L762.9,378.2L757.8,377L756.7,382L757.5,382.9ZM729.6,383.7L730.9,387.1L734.2,387.5L735.8,384.9L732.7,380.1ZM734.2,387.5L736.6,390.4L741.6,384.8L738.9,383.4L735.8,384.9ZM742.4,385.3L743.4,389.2L746.1,390.1L747.2,389.2L745.8,384.5ZM771.3,387.1L772.5,386.5L774,383.5L773.7,382.1L772.3,381.4L767.5,382.3L767.1,382.7L767.6,387ZM707.5,392.5L709.3,393.2L714.6,392.7L714.7,392.6L715.1,389.9L712.7,387.6L707.4,392.4ZM730.9,387.1L729.3,389.1L729.5,390.6L732.7,393.7L736.6,390.6L736.6,390.4L734.2,387.5ZM743.4,389.2L742.4,385.3L741.7,384.8L741.6,384.8L736.6,390.4L736.6,390.6L738.8,392.4L740.4,392.5ZM747.2,389.2L746.1,390.1L746.8,392.9L751.8,393.6L752.5,392.8L751.6,387.7L751.5,387.6ZM751.6,387.7L752.5,392.8L754.9,393.1L757.7,388.7L755.1,387.3ZM757.7,388.7L754.9,393.1L756.2,393.8L759.9,392.5L760.7,388.5ZM705,397.1L709.7,400.5L711.1,399.3L709.3,393.2L707.5,392.5ZM727.5,393.9L726.2,393.1L721.8,393L722,396.7L722.7,397.7L724.2,398.2L727.7,397ZM732.3,396.3L732.7,393.7L729.5,390.6L727.5,393.9L727.7,397L729.7,397.7ZM736.6,390.6L732.7,393.7L732.3,396.3L736.4,398.1L736.6,398L738.8,392.4ZM742.4,394.7L740.4,392.5L738.8,392.4L736.6,398L740.5,399.1L742.2,397.5ZM745.8,394.3L742.4,394.7L742.2,397.5L746.7,399.4L747.6,398.7ZM757.4,398.5L757.7,398.1L756.2,393.8L754.9,393.1L752.5,392.8L751.8,393.6L750.9,398.5L752.3,400.1ZM705,397.1L703.2,397.9L703.8,404.2L705.4,404L708.1,403.7L708.9,403.6L709.7,400.5ZM725.4,404.9L724.2,398.2L722.7,397.7L719.3,401.8L721,404.3ZM727.7,397L724.2,398.2L725.4,404.9L725.9,405.5L730.9,402.9L729.7,397.7ZM730.9,402.9L732.7,403.6L734.6,403.4L735.1,402.8L736.4,398.1L732.3,396.3L729.7,397.7ZM736.6,398L736.4,398.1L735.1,402.8L741.5,403.1L740.5,399.1ZM742.2,397.5L740.5,399.1L741.5,403.1L742.4,404.1L744.9,403.5L746.7,399.4ZM763.8,397.6L762.4,396.7L757.7,398.1L757.4,398.5L758.6,401.6L760.9,402.4L762.4,401.8L762.8,401.6ZM766.5,397.5L763.8,397.6L762.8,401.6L765.3,400.5L767.7,401.6L769.1,399.2ZM725.9,405.5L725.4,404.9L721,404.3L718.4,407.4L720.2,407.2L723,406.8L725.8,406.4L725.9,406.3ZM732.7,403.6L730.9,402.9L725.9,405.5L725.9,406.3L728.6,405.9L731.8,408.4L732,408.4ZM741.5,403.1L735.1,402.8L734.6,403.4L737.9,409.2L740.8,408.4L742.4,404.1ZM744.9,403.5L742.4,404.1L740.8,408.4L742.6,410L747.8,408.9L748,408.6L746.5,404.5ZM751.8,403.3L746.5,404.5L748,408.6L751.2,407.8L752.2,407ZM755.2,408.3L755.3,408.1L757.3,405.7L756.7,404L752.4,402.1L751.8,403.3L752.2,407ZM758.6,401.6L756.7,404L757.3,405.7L757.4,405.5L759.4,403L760.9,402.4ZM673.3,410.5L672,408.8L670.8,411.4L673,411.1ZM743.8,339.4L743.7,339.2L739.7,338.5L739,341.8L740.3,344.3L741.1,344.3ZM742.4,344.9L741.1,344.3L740.3,344.3L739.7,344.9L740.6,350.1L743.3,348.6ZM760.4,361.4L761,361.4L761.9,360.2L761.2,357.9L761.1,357.8ZM718.2,365.6L716.2,369.4L716.9,370.4L718.1,370.4L721.4,365.8ZM718.1,370.4L720,371.3L720.7,371.1L721.8,366.9L721.4,365.8ZM744.9,371.7L746.1,368.5L740.7,368.7L741.1,370.7L744.2,372.3ZM749,373.5L749.3,372.7L748.7,369.6L746.6,368.4L746.2,368.4L746.1,368.5L744.9,371.7ZM751.8,368.8L752.7,370.8L753.8,371.5L756.2,371.1L756.6,369.7L754.3,367.2L752.1,367.7ZM720.5,375.7L720,371.3L718.1,370.4L716.9,370.4L716.4,371.4L718.4,375.7ZM733.3,372.8L732.8,372.4L728.6,374.8L728.2,376L729.3,378L731.7,377.5L733.1,377.3ZM737.3,373.4L736.6,372.9L733.3,372.8L733.1,377.3L734.6,377L737.5,376.5ZM737.5,376.5L737.6,376.5L740.5,376L742.7,375.6L738.9,373.1L737.3,373.4ZM743.5,375.5L746.3,375L749.2,374.4L749,373.5L744.9,371.7L744.2,372.3ZM713.6,332.6L715.6,331.6L715.5,330.9L715.4,330.9L713,331.4L712.3,331.5ZM700.7,336.1L704.1,336.1L705.4,334.6L703.8,329.9L702.3,330.1L702.3,330.5L702,333.5L700.1,335.2ZM704.6,329.4L703.8,329.9L705.4,334.6L708.5,333.6L708.6,332.1L708.2,332.2L705.8,332.6L705.2,329.4ZM693.8,346.3L696.3,343.9L695.4,340.9L695.2,340.7L694.9,341.3L693,344.3L691.8,345.6ZM696.3,343.9L699.4,345L700.9,340L700.2,338.6L695.4,340.9ZM709.9,343.1L715.2,345.9L717.4,344.8L713.7,339.5L710.7,341.3ZM736.2,327.2L742.1,328.7L742.2,328.6L742.5,325.9L740.4,326.3L737.5,326.9L736.2,327.1ZM751.2,324.1L748.8,324.6L746.8,325L746.5,328.2L752.2,328.7ZM756.6,323.1L756.5,323L754.4,323.4L751.6,324L751.2,324.1L752.2,328.7L752.4,328.9L755.4,328.1L756.7,326.4ZM756.6,323.1L756.7,326.4L757.3,325.5L758.5,326.8L757.8,328L760.9,328.9L761.8,328.5L760.9,325.4L760.3,323.1ZM736.2,327.2L735.7,328.4L735.6,328.7L736.8,328.9L738,330.9L739.2,332.9L741.6,334L742.1,328.7ZM752.1,331.4L752.4,328.9L752.2,328.7L746.5,328.2L746.1,328.5L746.6,331.6L748.1,332.8L750.9,332.9ZM760.9,328.9L757.8,328L756.7,329.6L757.9,332.5L757.4,333.6L760.3,333ZM720.3,333.6L720.2,333.3L718.1,332.7L718.2,333.2L718.7,335.8L719.1,338.5L719.7,337.9ZM746.6,331.6L742.9,334.7L744.8,336L746.8,337L748.1,332.8ZM751.6,336.9L748,337.9L748.5,338.4L748.8,340.7L748.3,342.5L752.4,342.8L753,337.7ZM761.4,327.1L761.8,328.6L762.7,331.7L763,333L767,331.2L766.6,330.6L764,327.2L763.3,325.3ZM721.2,302.9L718.5,306.4L718.1,307.6L720.6,310.8L726.8,308.5L725.6,303.1ZM726.8,308.5L728.4,309.5L732.3,308.9L733.8,305.8L732.1,302.4L726.2,302.3L725.6,303.1ZM720.6,310.8L719.9,315L727.9,314.4L728.4,309.5L726.8,308.5ZM732.3,308.9L728.4,309.5L727.9,314.4L728.4,315.5L729.8,316.1L733.8,314.4L733.8,310.4ZM754.6,310.7L755.4,314L758.7,315L760.9,313.5L761.8,310.8L760.9,309.3ZM766.4,310.6L768.9,314.5L770.2,312.4L768.2,311.3L766.5,310.3ZM719.2,316.2L720.9,320.3L722,321.2L722.7,321.1L725.5,319.7L728.4,315.5L727.9,314.4L719.9,315ZM736.3,316.7L735.2,321L737.6,321.7L743.5,318L743.7,316.7L739.3,314.8ZM748.4,316.5L752.2,320.5L754.3,314.9L750.5,314ZM752.2,320.5L752.2,320.6L755.7,321.3L759,320.2L758.7,315L755.4,314L754.3,314.9ZM760.9,313.5L758.7,315L759,320.2L760.7,321L760.8,320.8L762.1,319.9L764,320.1L765.5,319L766.3,318.4ZM714.8,324L712.9,320.2L707.2,320.4L706.9,320.9L710.2,324.7L714.4,324.9ZM720.9,328.3L722,326.3L722,321.2L720.9,320.3L714.8,324L714.4,324.9L714.8,326.1ZM729.7,325.9L731.9,325.2L733,322.3L725.5,319.7L722.7,321.1ZM708.5,328.4L704.6,325.5L705.2,329L705.8,332.6L708.2,332.2L709.1,332ZM713.3,331.3L715.4,330.9L717.7,330.5L720.6,330L721,330L720.9,328.3L714.8,326.1ZM721,330L723.4,329.5L726.2,329L727.6,328.7L727.9,327.7L722,326.3L720.9,328.3ZM731.9,325.2L729.7,325.9L727.9,327.7L727.6,328.7L729.1,328.5L731.9,327.9L733.5,327.6ZM741.4,324.8L740.4,325L739.8,326.4L740.4,326.3L743.1,325.8ZM770.8,297.7L776,297.8L774.5,297.3L772,296.4L770.9,296.1ZM766.3,303.2L770.3,303L770.8,302.5L770.1,298.3L765.6,297.5L765.3,298ZM770.4,306.3L770.3,303L766.3,303.2L766,303.6L765.3,306L766.6,307.4ZM774.7,306.8L774.7,303.4L774.2,302.8L770.8,302.5L770.3,303L770.4,306.3L771.4,307.6L773.9,307.6ZM766.6,307.4L765.3,306L763.8,306.5L764.9,308.1L766.2,310.1L767.4,310.8ZM773.9,307.6L771.4,307.6L769.1,311.8L769.7,312.1L774.4,311.8L774.6,311.3ZM778.6,309.9L778.1,307.6L774.7,306.8L773.9,307.6L774.6,311.3ZM766,319L768.6,319.3L771.2,316.1L769.6,313.4L768.6,315.1L767,317.9L765.7,318.8ZM773.4,316.7L771.2,316.1L768.6,319.3L769.9,320.5L773.7,318.9ZM766,319L765.7,318.8L765.5,319L764,320.1L763.1,323.2L763.5,323.9L765.8,324.4L766.6,323.4ZM769.9,320.5L770.9,323.9L771.1,324.1L774.1,323.7L775,320.4L773.7,318.9ZM763.5,323.9L764.3,325.6L766.2,326.7L765.8,324.4ZM769.9,241.5L769.4,239.7L768.7,236.7L766.3,237.3L764.9,237.6L766.8,241.4L767,241.5ZM767,241.5L766.8,241.4L762.6,247L769.5,251.7L771.3,250.9ZM760.1,268.3L761.3,270.7L766.3,271.6L768.9,269.5L767.3,266.2L767.2,266.1L760.1,268ZM768.9,269.5L771.9,271.5L773.8,265.4L771.8,262.9L767.3,266.2ZM773.8,265.4L771.9,271.5L773.3,273.2L777.8,271.6L777.8,270.1L777.1,267.1L776.8,265.9ZM772.6,275.4L773.3,277.5L777.7,277.7L777.7,277.5L777.8,273.8L777.8,271.6L773.3,273.2ZM751.4,278.6L754.7,282.6L759.6,281.6L760,281.1L760.4,278.7L753.4,275.2ZM761.5,277.8L760.4,278.7L760,281.1L766.8,286.3L768.9,283L764.9,277.4ZM773.3,277.5L773.6,281.2L777.4,285.1L778.8,285.7L778.5,284.4L777.7,281.3L777.7,277.7ZM773.7,293.6L779.9,289.7L779.3,287.5L778.8,285.7L777.4,285.1L768.6,289.3ZM773.2,295.5L773.7,293.6L768.6,289.3L767,289L763.3,292.6L764.6,293.4L767,294.7L769.5,295.6L769.8,295.7ZM780.9,282.5L785.1,283.2L785.3,279.6L783.1,280.1L780.7,280.6ZM785.1,283.2L785.2,283.3L789.6,281.9L790.6,278.4L788.4,278.9L785.7,279.5L785.3,279.6ZM797.1,281.4L790.5,282.6L793.2,288.8L794.2,289.4L795.2,289ZM779.8,295L778.6,296.1L779.8,297.6L780.3,297.2ZM804.7,263.2L803.8,261.8L801.3,262.5L800.6,263.5L803.4,264.6ZM781.8,274L782.2,273.2L781.4,269.4L780,269.7L777.8,270.1L777.8,273.8L777.7,274.5ZM788.8,273.2L792.2,273.8L794.8,268.1L793.5,266.7L791.6,267.2L789.1,267.7L787.9,268ZM777.7,274.5L777.7,277.5L777.7,281.3L780.2,280.7L782.1,278.2L781.8,274ZM782.2,273.2L781.8,274L782.1,278.2L787,278.6L788.4,273.6ZM792.5,274.3L792.2,273.8L788.8,273.2L788.4,273.6L787,278.6L787.3,279.1L788.4,278.9L791.1,278.3L792.9,277.9ZM780.2,249.5L781.2,249.9L784.9,248.2L783.8,242.9L783.2,242.2L778,246.2ZM784.9,248.2L781.2,249.9L782.9,253.8L785.5,255.2L785.7,253.1L786,249.8L785.8,248.4ZM777.6,257.3L777.8,261.5L782.5,261.6L785.3,261L785,259.6L785.3,256.3L785.5,255.2L782.9,253.8ZM795.1,245.1L796.7,243.3L796,241.2L795.1,238.5L788.8,237.9L788.9,239.5L788.4,240.4L790.5,244.7ZM786.9,249.2L789.4,248.2L790.5,244.7L788.4,240.4L787.1,242.3L785.3,245.2L785.7,247.5L785.9,249.1ZM795.1,245.1L790.5,244.7L789.4,248.2L795.4,253L796.2,251.9ZM795.4,253.3L795.4,253L789.4,248.2L786.9,249.2L789.3,256.1ZM801.1,262.9L801.3,262.5L803.8,261.8L803.9,260.8L799.4,257.1L797.6,257L796.3,262.5ZM787.7,263.3L785.5,262.2L785.5,262.5L786,265.4L786.5,267.9ZM819.6,206.6L822.8,207.4L822.6,207.1L821.6,203.8L820.8,201.2ZM795.3,209L796.6,212L796.5,214.8L796.5,217.6L796.5,217.7L798.9,220.7L808.5,212.8L805.1,207.1ZM817.8,208.3L808.3,202.5L805.1,207.1L808.5,212.8L811.6,216.3L817.8,213.5ZM817.8,213.5L811.6,216.3L810.6,224.2L816.5,227.3L821.8,215ZM801.8,226L797.4,230.2L797.8,236.9L799.1,237.9L807.6,235.8L805.3,226.2ZM807.9,236.2L807.6,235.8L799.1,237.9L804,245.9L804.7,246.4L806.5,246.1ZM596.9,234.2L595.1,234.8L593,235.5L591,236.8L590.9,236.9L592.1,240.6L597.8,240ZM598.4,240.6L597.8,240L592.1,240.6L588.6,243.5L590.2,243.8L592.4,244.3L594.6,244.8L596.9,245.3L597.9,245.5ZM614.4,246.6L612.8,241.5L605.8,243.1L605.4,247.4L607.2,247.7L609.9,248.2L610.1,248.9L613.7,247.9ZM621.9,241.9L620.2,239.2L613.3,240.1L612.8,241.5L614.4,246.6L620.1,246.8ZM643.2,243.7L644.3,244.5L646,245.6L647.9,244.6L648.7,244.1L648.7,241.6L644.1,239.3L643.4,239.9ZM620.1,246.8L614.4,246.6L613.7,247.9L615.4,255.8L618.3,256.3L618.6,255.4L619.8,253.2L620.9,250.9L621.8,248.7L621.9,248.7ZM750.7,325.9L752.3,323.9L751.6,324L748.8,324.6L747.2,324.9ZM756.9,325.6L756.3,323.1L754.4,323.4L752.3,323.9L750.7,325.9L752.8,328.3ZM756.9,325.6L757.1,325.8L757.3,325.5L758,326.3L759,326.9L761.2,326.6L760.9,325.4L760.1,322.2L757.2,322.8L756.3,323.1ZM752.8,330L752.8,328.3L750.7,325.9L747.2,324.9L746,325.2L745.8,325.2L747.7,331.6L747.8,331.6ZM756.9,325.6L752.8,328.3L752.8,330L753.3,330.8L753.9,330.8L755.3,328.3L757.1,325.8ZM757.7,331.2L759,326.9L758,326.3L758.5,326.8L756.7,329.6L757.4,331.2ZM759,326.9L757.7,331.2L758.2,331.9L761.9,332.5L762.7,332L762.7,331.7L761.8,328.6L761.2,326.6ZM748.5,335.1L747.8,331.6L747.7,331.6L742.9,332.7L742.9,334.7L744.8,336L746.9,337ZM757.7,331.2L757.4,331.2L757.9,332.5L756.7,335.1L757.1,335.6L758.2,331.9ZM753.3,330.8L753.2,335.9L753.5,336.3L755,336.6L754.9,335.2L753.5,331.5L753.9,330.8ZM761.9,332.5L761.3,337.2L762.6,338.1L764.2,337.3L763.5,334.9L762.7,332ZM751.1,340.8L753.5,336.3L753.2,335.9L748.5,335.1L746.9,337L747.5,337.4L748.5,338.4L748.7,340.2ZM758.6,337.3L759.1,337.8L758,341.2L759.1,342.4L762.1,342.5L763.1,341L762.6,338.1L761.3,337.2ZM751.1,340.8L748.7,340.2L748.8,340.7L748.1,343.2L747.4,345.8L749.7,345.3L749.9,345.6L751.4,345.1L751.5,341.5ZM756.9,344L756.4,343.1L755.6,341.7L751.5,341.5L751.4,345.1L752.7,346.2L756.5,345.5ZM756.5,345.5L757.6,346.8L758.4,346.9L757.6,345.2L756.9,344ZM762.6,345L762.1,342.5L759.1,342.4L761.1,344.5L762.5,345.1ZM752.7,346.2L752.7,347.3L753.4,347.3L755.6,347.2L757.3,348.1L757.6,346.8L756.5,345.5ZM266.3,500.1L265.6,501.2L274.4,508.9L283.1,498.7L282.2,494.3ZM274.4,508.9L265.6,501.2L264.9,501.8L264.7,505.5L269.5,512.7L272.7,514.8ZM272.8,515.1L272.2,517.6L272.3,518.4L275.8,525.6L287,518.2L286,513.5ZM288.4,525.6L287,518.2L275.8,525.6L275.9,527.4L276.3,527.8L281,529.3L286.3,528.7L287.2,528.9ZM307.6,536.5L310.9,538.8L314.4,541.1L315.7,542.1L318,538.4L317.1,537.3L311.3,531.5ZM315.7,542.1L318.1,543.8L321.4,546.1L324,546.9L325.5,546.6L326.1,543.8L324.3,539.9L318.7,539.1L318,538.4ZM304.2,536.3L306.2,536.2L309.4,539.8L311,543.3L308.5,541.2L306,538.6ZM314.5,543.3L316.6,543.2L319.5,546.2L321.3,548.4L318.5,548.8L315.7,546.3ZM342,516.3L344.6,513.8L348.9,515.1L348.4,518.1L344.5,518.9ZM363.5,524L366.1,523.6L368.2,522.1L372.5,528.2L370.3,528.8L366,528.1Z"/>
<path fill="#96d5b4" d="M241.7,204L243.5,198.7L241.5,193.9L240.9,193.5L233.8,193.5L234.2,197.3L232.4,200.7L232.4,203.1L234.2,204.5L236.3,205.1L238.3,205.7L238.8,206.1ZM266.8,189.8L269.9,188.8L272.2,185.5L272.2,181.5L257.2,177.7L257.3,177.9L255.9,179L256.9,180.9L257.3,183.4ZM252.1,179.8L252.2,180L253,180.6L253,179.2L252.1,179.3ZM272.2,181.5L273.4,177.8L257.1,169.7L257.7,170.9L257.5,173.2L256.4,175.2L257.2,177.7ZM310.2,193.9L310.8,191.5L311.5,188L312.3,184.6L313.1,181.1L310.6,180.6L308.2,180L305.7,179.4L305.1,179.3L305.1,192.7ZM305.1,192.7L300.7,193.9L298.7,202.9L307.4,206.6L307.6,205.4L308.4,201.9L309.2,198.4L310,195L310.2,193.9ZM229.2,241.3L233.3,236.2L226,227L224.5,226.5L224.5,226.7L223.3,229.7L222.2,232.7L221.1,235.8L219.3,239.3L217.5,242.6ZM233.3,236.2L229.2,241.3L237.7,248.6L246.3,241.2L246.8,238.2L233.7,236ZM221.7,268.2L219.3,267.4L216.6,266.6L213.9,265.8L211.3,265L210.1,268.7L209.5,272L208.9,275.3L208.7,276.5L214.1,277.8L219.2,276.9ZM224.5,282L219.2,276.9L214.1,277.8L211,295.2L215.4,297.2L221.1,292.7ZM232.2,314.2L231.3,319.6L245.6,322.2L246.4,319.1L247.3,315.3L247.6,314.2ZM232.5,329.9L230.6,327.3L222.1,328.7L222.1,338.6L222.3,338.7L232.5,332.6ZM218.3,370.4L219.1,371.6L220.9,374.5L222.7,378.5L221.5,382.2L221,384.3L235.7,380.1L236.4,376.7L225.7,367.8ZM235.7,380.1L221,384.3L220.9,384.6L220.4,387L222.1,389.5L224.4,390.3L226.7,391.1L229,391.9L231.3,392.7L232.7,393.7L237,384.1ZM305.3,313.2L291.5,327.8L296,336.6L314.5,335.3L314.6,334.4L315.4,330.6L316.1,326.8L316.8,323L317.6,319.2L318.3,315.4L318.7,313.2ZM259.4,308.5L259.9,314L264.6,323.3L276.1,326.4L279.8,323.6L274.9,311.9ZM352,231.3L346.2,229.4L339.6,232.9L336.9,237.1L349.5,241.3L353.1,237.8ZM326.7,327L331,312.2L329.1,310.3L319.5,309.3L319,311.6L318.3,315.4L317.6,319.2L316.8,323L316.2,326.4ZM332.3,330.2L339.6,321.7L337,312.8L331,312.2L326.7,327ZM350.9,327.7L361.7,330.1L363.6,315.3L362.2,315.1L359.3,314.7L356.5,314.3L353.8,313.8L352.7,314.1L349.3,321.7ZM361.9,338.3L364.9,334L361.7,330.1L350.9,327.7L347.2,333.3L349.3,340.1ZM349.3,340.1L347.2,333.3L333.1,331.7L332.4,342.2L345.7,346.5L347.2,345.8ZM356.3,351.3L361.9,345L361.9,338.3L349.3,340.1L347.2,345.8ZM320.8,362.4L320.5,361.7L309.7,359.9L309.5,361L308.8,364.8L308.1,368.6L311,369.2L314,369.8L317,370.3L319.6,370.8ZM327.8,423.6L321.1,404.8L318.2,404.4L308.9,408.6L306.2,422.8L315.7,427.4L324.1,427.4ZM324.1,427.4L315.7,427.4L313.7,437.9L316.7,441.4L322.4,439.8ZM365.6,378.2L364.9,378.1L361.9,377.7L358.9,377.2L355.9,376.8L352.9,376.3L350.2,375.9L340.5,405.1L348.9,411.7ZM315.7,427.4L306.2,422.8L306,423.1L305.6,433.6L313.7,437.9ZM357,446L338,446L343,463.4L344.3,463.6L347.2,464.1L350.1,464.5L353,464.9L355.9,465.3L356.4,461.5L356.9,457.8L357.5,454L358,450.2L358.5,446.6ZM430.6,348.9L439.8,343.9L439.3,338.7L427.3,335.7L425.9,336.1L425.6,339.5L429.3,347.8L430.1,348.7ZM429.5,371.3L428.4,363.2L418.9,360.8L415.6,366.3L425.5,374.3ZM418.9,360.8L428.4,363.2L434.3,358.2L430.6,348.9L430.1,348.7L418.4,358.1ZM439.3,375.8L437.1,373L429.5,371.3L425.5,374.3L422.4,384.7L423.3,384.8L426.2,385.1L429.1,385.3L432.1,385.6L435,385.8L437.4,386ZM414.2,392.6L423.7,396.7L426.3,394.3L426.3,385.1L426.2,385.1L423.3,384.8L420.4,384.6L417.4,384.3L414.5,384L413.2,383.9ZM397.8,454.1L390.8,443.2L380.3,444.9L379.5,445.9L381,461.5L383.1,461.8L386.2,462.1L389.3,462.5L388.5,459L391.6,459.3L394.6,459.6L397.7,460L398.9,460.1ZM390.8,443.2L397.8,454.1L408.2,441.1L400.2,433L392.2,440.4ZM534.4,389.1L531.6,387L524.9,389.4L527.4,389.4L530.4,389.4L533.4,389.3L534.4,389.3ZM537,392.1L538,391.6L537.8,389.3L536.4,389.3L533.4,389.3L531.8,389.4ZM538,391.6L537,392.1L536,396.5L536.6,397.1L542.5,397L542.5,393.1L542.4,391.4ZM536.6,397.1L536,396.5L530.5,397.3L530.4,397.5L530.3,403.6L531,404.2L537.8,403.1ZM505.7,410L502.8,404.2L498.2,405.1L496.7,409.8L497.7,411.6L505.7,410.1ZM509.8,402.6L504,402.9L502.8,404.2L505.7,410L510,410.6L511.8,404.6ZM531,404.2L530.3,403.6L526.9,404.6L523.9,412L524.1,412.2L530.7,411.9L532.6,409.7ZM536.6,410.4L539.2,404L537.8,403.1L531,404.2L532.6,409.7ZM497.7,411.6L498.3,416L502.6,417.7L505.7,410.1ZM502.6,417.7L503.3,418.3L509.3,416.2L510.1,410.8L510,410.6L505.7,410L505.7,410.1ZM524.2,416.1L524.1,412.2L523.9,412L519.7,410.4L516.4,412.5L516,418.4L517.3,419.3L523.4,417.4ZM530.7,411.9L532.6,416.9L537.8,415.4L538.1,412.3L536.6,410.4L532.6,409.7ZM516.2,425.8L518.2,423.8L517.3,419.3L516,418.4L512.2,419.1L510.5,423.6ZM524.8,424.9L531.9,422.9L531.4,419.1L524.2,416.1L523.4,417.4ZM532.6,416.9L531.4,419.1L531.9,422.9L532.7,423.6L535.8,423.8L539.6,417.6L537.8,415.4ZM539.6,417.6L535.8,423.8L538.2,425.4L545,425.6L545.1,424.2L545.1,420.8L545.1,418.9ZM512.4,431L516.1,429.6L516.2,425.8L510.5,423.6L509.8,424.1L510.6,429.9ZM532.6,431.4L536.8,432.2L538.2,425.4L535.8,423.8L532.7,423.6L531.9,430.3ZM548.7,465.8L547.3,468.1L551.5,474.7L554.8,474L554.3,473.2L552.9,469.4L551.2,466.6ZM540.1,481.4L540.9,480.4L542.3,475.6L541.8,474.4L533.3,473.4L532.4,474.1L535.1,482L535.5,482.4ZM549.3,476.8L549.8,480.3L557.2,482.9L557.4,481L557.7,478.9L556,476L554.8,474L551.5,474.7ZM549.8,480.3L548,483L548.3,487.1L550.6,488.3L556.6,485.7L557.2,483.2L557.2,482.9ZM550.6,488.3L551.7,495.8L555.8,496.6L556.1,495.5L555.8,493.2L555.4,490.9L556.3,487L556.6,485.7ZM564.6,476.7L564.9,474.9L562.1,471L558.4,471.2L556.1,476.2L557.2,478ZM560.5,484.6L557.2,482.7L557.2,483.2L556.3,487L555.4,490.9L555.4,491.1L559.2,490.8L560.6,490.1ZM569.8,493.5L572.7,494.9L576.8,493.6L576.9,492.7L571,485.6L568.1,489L567.6,490.3ZM564.7,498.7L566.1,500.3L571.3,500.8L571.6,500.5L572.7,494.9L569.8,493.5ZM572.7,494.9L571.6,500.5L576.6,501.5L579.3,499.4L577.2,493.8L576.8,493.6ZM656,266.5L651.3,266.6L651.4,271.7L657.5,270.9ZM651.4,271.7L651.3,271.8L651.3,275.5L652.4,276.7L656.2,277.1L656.7,276.8L658.3,271.4L657.5,270.9ZM658.3,271.4L656.7,276.8L661.2,278.8L663.2,275.9L663,275.3L662.6,276L661.3,278.5L658.3,277.4L658.9,273.4L660.4,272L661.5,271.1L661.4,271.1ZM646.4,281.2L646.4,276.6L645.9,276.1L641.3,275.9L641.2,281.4L645,282.5ZM656,281.8L656.2,277.1L652.4,276.7L651,281.4L651.5,282.1ZM700.5,310.5L702.2,310.8L701.8,308.3L701.2,304.9L701,303.7L699.9,306.2ZM699.7,325.3L702.9,324.6L703.1,322.3L703.3,320.3L700.6,320L699.2,321.4L699.5,325.3ZM714,493.7L713.3,497.8L716.2,499.6L720.2,499.8L720.3,499.8L718.8,493.8L714.9,492.9ZM712.5,505.7L720.7,504.7L720.2,499.8L716.2,499.6L712.2,505.4ZM720.5,510.3L720.4,510.4L723.8,517.3L727.6,517.4L728.2,510.8ZM738,525.4L740.8,524.2L741.4,522.4L741.4,522.3L739.8,519.1L739.8,519L733.1,519.6L733.3,521.5ZM744,526.7L743.8,526L742.6,524.2L741.4,522.4L740.8,524.2ZM733.7,531L738.1,529.6L738,525.4L733.3,521.5L732.7,522.7L732.3,529.8ZM744.5,528.6L744,526.7L740.8,524.2L738,525.4L738.1,529.6L741.2,531.4ZM727.2,536.5L733.4,537.2L733.7,531L732.3,529.8L728.8,530ZM733.9,537.7L741.2,536.4L741.7,535.6L741.2,531.4L738.1,529.6L733.7,531L733.4,537.2ZM741.2,531.4L741.7,535.6L745.5,535.7L745.5,535.5L745.5,532.4L744.7,529.2L744.5,528.6ZM703.7,325.2L703.8,324.9L703.1,322.8L702.9,325L702.8,325.7ZM704.5,325L704,322L703.1,322.8L703.8,324.9ZM702.8,325.7L702.6,327.6L702.3,330.1L703.8,329.9L704.6,329.4L703.7,325.2ZM735.7,328.4L736.2,327.2L736.2,327.1L734.7,327.4L731.9,327.9L729.1,328.5L732.3,328.5L732.7,328.1L734.4,328.4ZM714.4,301L712.2,302.7L712.7,306.9L716,307.8L718.1,307.6L718.5,306.4ZM738.3,302.3L737.1,304.9L740.8,308.5L743.7,308L743.5,304.5L741.4,301.7ZM718.1,307.6L716,307.8L713.5,314.8L715,315.8L719.2,316.2L719.9,315L720.6,310.8ZM738.7,311.1L733.8,310.4L733.8,314.4L736.3,316.7L739.3,314.8ZM707.9,315.2L702.5,312.9L702.9,315.1L703.5,318.5L704,322L704.1,322.2L706.9,320.9L707.2,320.4ZM710.1,313.8L707.9,315.2L707.2,320.4L712.9,320.2L715,315.8L713.5,314.8ZM733,322.3L733.2,322L729.8,316.1L728.4,315.5L725.5,319.7ZM733.8,314.4L729.8,316.1L733.2,322L735.2,321L736.3,316.7ZM704.1,322.2L704.6,325.5L708.5,328.4L710.2,324.7L706.9,320.9ZM727.9,327.7L729.7,325.9L722.7,321.1L722,321.2L722,326.3ZM740.4,325L737.6,321.7L735.2,321L733.2,322L733,322.3L731.9,325.2L733.5,327.6L734.7,327.4L737.5,326.9L739.8,326.4ZM714.8,326.1L714.4,324.9L710.2,324.7L708.5,328.4L709.1,332L710.6,331.8L713,331.4L713.3,331.3ZM801.9,279.7L801.7,279.2L802.2,279.4L802.8,278.8L801.5,277.6L801.1,275.8L799.8,276.2L799.2,279.8L801.2,280.3ZM796.9,279.4L797.2,280.6L797.7,283.6L798,283.2L798.7,280ZM801.2,280.3L802.5,282.7L802.5,282.2L801.9,279.7ZM802.2,279.4L803,279.6L804.5,283.2L806,282.8L804.3,280.1L802.8,278.8ZM802.8,268.2L803.4,264.6L800.6,263.5L799.2,265.4L798.4,265.6L797.8,268.5L798.7,269ZM798.4,276.5L798.8,276.4L801.1,275.8L801.5,277.6L803.4,279.3L804.7,275.4L803.3,274.2L798.8,273.5L798.2,274.4ZM804.5,280.4L806,282.8L808,280.7L808.3,280.3ZM786.3,243.7L787.1,242.3L788.9,239.5L788.8,238.4L783.3,239.1L783.2,242.2L783.8,242.9ZM803.9,260.8L804.2,258.2L802,256.2L801.9,256L799.4,257.1ZM804,245.9L799.1,237.9L797.8,236.9L795.2,238.8L796,241.2L797.1,244.5L797.5,245.7ZM804.7,246.4L804,245.9L797.5,245.7L798.1,247.8L799.2,251.1L799.9,254.1L800.1,254.3ZM804.7,246.4L800.1,254.3L802,256.2L804.2,258.2L805,256.7L806.1,252.4L807.2,248.1L809.1,246.8L806.5,246.1ZM733.4,328.2L734.8,328.5L736.8,328.9L737.5,330.1L738,326.8L737.5,326.9L734.7,327.4L733.7,327.6ZM272.7,514.8L269.5,512.7L262.4,512.7L260.6,516.6L272.2,517.6L272.8,515.1ZM260.6,516.6L254.5,520.8L254.8,521.9L262.7,523.7L272.3,518.4L272.2,517.6ZM262.7,523.7L254.8,521.9L253.2,528.7L256.5,534.6L258.2,531.6L259.9,527.8L263.4,524.9L263.6,524.9ZM264.1,525.6L263.5,526.3L261.2,528.3L261.2,533.1L260.2,535.8L263.9,534.1L266.7,531.5L268.2,531.2ZM272.3,518.4L262.7,523.7L263.6,524.9L265,524.6L264.1,525.6L268.2,531.2L269.6,531L268.5,527L271.8,525.4L274.4,525.9L275.9,527.4L275.8,525.6Z"/>
<path fill="#bae5b6" d="M245.6,177L244.3,176.4L242.2,175.4L240,174.4L238,172.4L235.9,170.4L234.7,169.8L233.7,172.9L233.6,175L233.5,177.1L233.7,179.4ZM234,183.6L234.3,186.1L234,189.6L233.8,193.2L233.8,193.5L240.9,193.5L242.7,185.3ZM243.5,198.7L241.7,204L251.3,205.9L255.5,204.1L251,198.7ZM238.8,206.1L240.4,207.1L242.5,208.5L242.7,210.8L247.6,211.3L251.3,205.9L241.7,204ZM239.5,273.2L238.1,272.8L235.4,272.1L232.7,271.3L230,270.6L227.3,269.8L224.6,269L222,268.2L221.7,268.2L219.2,276.9L224.5,282L235.8,282ZM238.3,287L236.2,296.2L250.4,303.3L251.2,300.3L252.2,296.6L253.1,292.9L254.1,289.1L254.2,288.6ZM206.1,312.8L217.4,303.4L215.4,297.2L211,295.2L204.1,294.7L204.5,296.1L205.2,298.7L204.7,301.4L204.2,304.1L203.7,308L203.1,311.8L203.5,313ZM219.6,326.6L222.1,328.7L230.6,327.3L230.6,320.5L222.1,319.2ZM231.3,319.6L230.6,320.5L230.6,327.3L232.5,329.9L244.1,326.1L246,323.8L245.4,322.8L245.6,322.2ZM244.1,326.1L232.5,329.9L232.5,332.6L234.9,336L242.4,336ZM222.3,338.7L223.9,344.8L234.3,340.6L234.9,336L232.5,332.6ZM261.1,386.2L262.8,382L256.6,374.9L242.7,372.7L236.4,376.7L235.7,380.1L237,384.1L247.9,389.5ZM259.4,308.4L268.3,296.5L260.2,278.7L259.7,278.6L257,277.9L256,281.6L255.1,285.4L254.1,289.1L253.1,292.9L252.2,296.6L251.2,300.3L250.2,304.1L250,305.2ZM289.9,365.7L279.4,375.4L280.8,377.5L283.2,380.8L285.5,384.2L287.9,387.6L290.3,390.9L292.7,394.3L295.1,397.7L296.5,394.8L296.2,392.4L296,389.9L296.3,387.3L296.6,384.6L296.9,381.9L299.1,381.3L301.4,380.7L303.5,380.8L305.7,380.8L306.3,377.8L306.9,374.7L307.5,371.7L307.7,370.8ZM314.9,209.6L318.6,214.5L327,215.2L326.5,214.3L324.9,211.7L323.2,209.4L321.6,207.1L322.1,203.3L320.9,200.7L320.6,200.1ZM349.8,288.5L344.3,284.6L336.7,295.3L339.4,295.7L342.1,296.2L344.9,296.7L346.6,297ZM330.2,206.6L336.7,212L345,212.5L346.9,209.9L346.7,207.7L333.8,201.3ZM322.9,209L323.2,209.4L324.9,211.7L326.5,214.3L328.1,217L329.3,219.2L330.5,221.4L331.2,221.7L332.4,221.4L336.7,212L330.2,206.6ZM351.3,313L348.9,306.8L340.6,300.5L339.1,311.3ZM349.3,321.7L352.7,314.1L351.3,313L339.1,311.3L337,312.8L339.6,321.7ZM318.2,404.4L307.2,373.3L306.9,374.7L306.3,377.8L305.7,380.8L303.5,380.8L301.4,380.7L299.1,381.3L296.9,381.9L296.6,384.6L296.3,387.3L296,389.9L296.2,392.4L296.5,394.8L295.1,397.7L295,400L295.7,402.9L296.2,404.6L308.9,408.6ZM300.1,424.3L306,423.1L306.2,422.8L308.9,408.6L296.2,404.6L296.4,405.8L297.8,407.6L299.1,409.5L296.6,411.3L293.4,414.6L292.4,416.8L291.3,419L291.2,419.1ZM335.1,422.8L350.3,414.4L348.9,411.7L340.5,405.1L324.6,403.2L321.1,404.8L327.8,423.6L330.1,424.3ZM342.7,430L335.1,422.8L330.1,424.3L338,437.9ZM294.8,428.5L300.1,424.3L291.2,419.1L290.2,421.1L289.1,423.2L289.9,425.8L290.7,428.3L289.6,430.2L289.1,431ZM335.1,422.8L342.7,430L352.1,423.2L354.7,417.9L350.3,414.4ZM410.3,370.2L408.1,371.3L402.4,382.8L402.8,382.8L405.8,383.1L408.7,383.4L411.6,383.7L414.5,384L417.4,384.3L419.8,384.5ZM413.2,383.9L411.6,383.7L408.7,383.4L405.8,383.1L402.8,382.8L401.6,382.7L400.4,395.6L407.4,399.3L407.6,399.2L414.2,392.6ZM423.2,408.1L425.1,418.6L426.3,419.6L438.2,419.6L438.4,417.1L438.7,413.2L439,409.4L439.3,406.3ZM394.3,420.1L400.7,412.9L395.3,406.6L384.4,406.6L382.8,409.4L384.2,418.9ZM400.6,431.1L411.7,424.4L412,423.6L408.2,413.1L406.7,412.2L400.7,412.9L394.3,420.1ZM400.2,433L400.4,431.7L382.8,427.9L392.2,440.4ZM400.2,433L408.2,441.1L416,442.7L418.5,433.5L411.7,424.4L400.6,431.1L400.4,431.7ZM400.4,431.7L400.6,431.1L394.3,420.1L384.2,418.9L380.2,423.8L380.2,425.7L382.8,427.9ZM382.8,427.9L380.2,425.7L375.8,433.8L380.3,444.9L390.8,443.2L392.2,440.4ZM367.2,448.4L379.5,445.9L380.3,444.9L375.8,433.8L371.3,434.2L359.7,437.4L359.5,438.9L359,442.7L359,443.2ZM416,442.7L408.2,441.1L397.8,454.1L398.9,460.1L400.8,460.3L403.8,460.6L406.9,460.9L410,461.2L413,461.5L416.1,461.7L419.2,462L422.2,462.3L425.3,462.5L428.4,462.8ZM406.6,468.7L404.6,460.7L403.8,460.6L400.8,460.3L398.1,460L398,465.3L398.7,466.5ZM406.6,468.7L406.8,468.9L411.6,467.6L413.4,466.2L413.4,461.5L413,461.5L410,461.2L406.9,460.9L404.6,460.7ZM413.4,466.2L419,468.6L422.2,465.2L421.7,462.2L419.2,462L416.1,461.7L413.4,461.5ZM411.6,467.6L406.8,468.9L405.4,473.4L406.1,474.8L413.8,474.8ZM589.9,368.6L589.3,369.4L590.5,374.8L594.4,374.7L595.2,373.8L595.3,370.4L594.6,369.5L594.2,368.9ZM595.2,373.8L594.4,374.7L595.9,380.2L598.8,379.8L600.6,374.6ZM587.8,385.6L588.8,384.5L588,380.1L585,379.9L583.1,384.5L585,386.4ZM602.2,490.2L603.6,489.6L605.1,490.2L607.1,490.1L606.5,484.1L601.6,481.9L600.6,482.7ZM601.1,502.4L602.1,502.1L602.8,497L599.9,494.1L596.5,496L595.9,500.7ZM607.2,494.5L606.1,495.8L608.5,500.9L611.1,499.6L610.8,499.1L612.3,497.9ZM606.4,504.1L602.1,502.1L601.1,502.4L598.4,509.1L600.7,509L603.4,508.8L605.9,506.4L607.2,505.9ZM614.2,503.5L612.4,502.1L611.1,499.6L608.5,500.9L606.4,504.1L607.2,505.9L608.6,505.4L611,506.4L612.8,507.2ZM598.2,370.1L596.6,364.6L593.3,366.1L593,367.2L594.6,369.5L596,371.4ZM639.6,366.7L639,366.1L635,366.3L635.3,369.6L637,370.3L638.1,369.9L638.3,369.6ZM670.3,346L670.5,349.4L671,349.9L676.2,349.8L674.9,345.1L671.5,345.2ZM676.2,349.8L676.6,350.1L679.9,348.8L680.3,345.7L676.1,343.6L674.9,345.1ZM686.5,349.8L686.1,354.3L686.6,354.6L686.8,354.4L688.9,352.7L689.1,349.2ZM686.1,354.3L682.6,354.5L682.5,354.5L684.7,356.1L686.6,354.6ZM658.5,350.5L657.6,352.1L660,354L662.9,350.7L661,348.8ZM660,354L660.4,355.9L660.6,356.2L660.9,356.3L666,353.1L665,352.8L662.9,350.8L662.9,350.7ZM660.9,356.3L662.9,358.5L666.5,356.3L667.6,354.2L667.7,353.6L666,353.1ZM684,355.6L681.9,354.1L681.6,353.8L679.5,354.1L679.4,356.3L680.6,357.8L682,358.1ZM666.5,356.3L667.6,360.4L670.1,360.4L670.5,358.8L667.6,354.2ZM683.3,360L682,358.1L680.6,357.8L678.5,360.8L678.9,361.3L682.2,362.4ZM682,358.1L683.3,360L685.2,359.8L685,359.5L684.7,356.1L684,355.6ZM667.3,366.3L670.3,364.8L671.5,362L670.1,360.4L667.6,360.4L666.1,361.3L667.2,366.3ZM680.3,365.8L682.8,364.6L682.2,362.4L678.9,361.3L678.1,364.7ZM647.9,369.4L648.1,369.3L646.6,365L646.4,365.4L645.1,367.6L643.4,366.7L643.2,368.6L644.2,369.7ZM656.8,369.5L657.1,369.7L660.6,365.1L659.2,364.1L655.1,365.5ZM661.7,370L664.3,371.8L666.7,366.5L662.6,365.8ZM675.8,369.4L679.1,370.1L679.4,369.8L680.3,365.8L678.1,364.7L676,365.2L675.3,367L675.6,369.2ZM684.5,365.5L682.8,364.6L680.3,365.8L679.4,369.8L682.7,369.5L684.3,367.8ZM686.5,370.2L688.7,369.4L687.5,364.6L684.5,365.5L684.3,367.8ZM690.6,370.3L692.3,368.2L692.3,367.9L691.9,367.8L689.7,367L688.3,365.1L687.7,364.4L687.5,364.6L688.7,369.4ZM692.3,368.2L693.7,368.9L694,368.6L692.3,367.9ZM643.6,373.3L646.9,373.4L647.9,369.4L644.2,369.7ZM648.2,374.7L650.1,371.8L648.6,369.3L648.1,369.3L647.9,369.4L646.9,373.4ZM652.4,372.8L653.1,372.5L654.2,370.6L650.7,367.8L648.6,369.3L650.1,371.8ZM653.1,372.5L655.3,374.9L658.6,374.8L658.3,370.8L657.1,369.7L656.8,369.5L654.2,370.6ZM666.7,366.5L664.3,371.8L664.7,372.6L666.3,372.9L668.9,372.4L668.6,368.7L667.3,366.3L667.2,366.3ZM673.1,370L671.7,368.8L668.6,368.7L668.9,372.4L670.6,373.2ZM676.1,374.4L678.8,373.5L679.4,371.3L679.1,370.1L675.8,369.4L675.3,373.8ZM682.7,369.5L684.1,372.3L685.7,372.4L686.5,370.2L684.3,367.8ZM686,372.8L690.7,372.7L691,372.3L690.6,370.3L688.7,369.4L686.5,370.2L685.7,372.4ZM692.3,368.2L690.6,370.3L691,372.3L692.3,370.7L693.7,368.9ZM642.7,374.4L643.6,376.6L645.9,377.1L648.6,376.2L648.2,374.7L646.9,373.4L643.6,373.3ZM648.6,376.2L650,376.9L651,376.2L652.4,372.8L650.1,371.8L648.2,374.7ZM663.7,379.9L664.1,377.8L663.1,374.7L658.8,375.1L658.8,375.2L659.5,378.4ZM670.6,373.2L668.9,372.4L666.3,372.9L667,376.6L668.7,377.4L670,376.9L671.3,375.5L671.3,374.6ZM682.7,373.3L682.3,375.7L685.2,377.9L686.2,376.6L686.4,376.4L686,372.8L685.7,372.4L684.1,372.3ZM686,372.8L686.4,376.4L688.4,374.7L690.6,372.8L690.7,372.7ZM666.6,381.6L666.9,381.5L668.7,377.4L667,376.6L664.1,377.8L663.7,379.9L664.1,380.8ZM666.9,381.5L670.2,382.5L671.3,381.4L670,376.9L668.7,377.4ZM640.1,382.4L639.3,384.9L639.8,385.6L643.5,384.7L643.8,382ZM643.9,381.8L643.8,382L643.5,384.7L644.4,385.9L648.4,384.8L646.2,381.5ZM663.7,381.3L663,385.5L666.2,385.8L666.6,381.6L664.1,380.8ZM670.3,382.8L670.2,382.5L666.9,381.5L666.6,381.6L666.2,385.8L666.8,386.7L668.6,386.6ZM670.3,382.8L673.1,386.1L675.4,385.8L675.7,381.6L674.5,380.4L671.3,381.4L670.2,382.5ZM675.4,385.8L675.5,385.8L677.7,384.5L679.9,383.2L680.4,382.8L679.9,381.1L675.7,381.6ZM680.1,380.8L679.9,381.1L680.4,382.8L682.1,381.8L683.9,379.5ZM649.1,385.1L648.4,384.8L644.4,385.9L644.2,388.8L646,388.6L648,388.4ZM655.9,387.8L657.8,387.6L658.6,387.5L658.5,386.5L655,384.7L654.6,385.2ZM698.5,385.8L699.6,382.6L696.6,383L695.6,383.2L697.1,385.3ZM645.9,389.8L647.8,389.1L648.3,388.4L646,388.6L643.7,388.8ZM667.1,389.5L667.5,389.3L668.6,386.6L666.6,386.7L663.7,387L663.1,387.1ZM667.5,389.3L672.1,389.8L672.3,389.2L671.2,386.3L669.6,386.5L668.6,386.6ZM672.3,389.2L677.2,386.7L677.3,385.6L675.5,385.8L672.5,386.2L671.2,386.3ZM677.2,386.7L678.4,389L683.3,387.3L681,385.1L678.5,385.5L677.3,385.6ZM683.3,387.3L684.2,387.6L684.7,387.4L686.7,384.4L684.5,384.7L681.5,385.1L681,385.1ZM697.1,385.3L695.6,383.2L693.6,383.4L690.6,383.9L691.4,386.4L693.8,388.7ZM697.1,385.3L693.8,388.7L694.1,389.3L695.6,390.7L696.8,390.2L698.2,386.4L698.5,385.8ZM630.7,392.5L632.9,393.5L634.3,389.5L634.2,389.5L631.3,389.7L629,389.9ZM645.9,389.8L643.7,388.8L643.1,388.8L640.1,389.1L640.2,391.2L643.7,394.3L645.9,392.6ZM653,392.5L653.8,394.5L658.8,394.8L658.8,394.7L658.4,387.5L657.8,387.6L654.9,387.9L654.4,387.9ZM661.5,387.2L660.7,387.3L658.4,387.5L658.8,394.7L663.1,391.9ZM663.1,391.9L665.2,393.6L666.4,393.3L666.8,392.7L667.1,389.5L663.1,387.1L661.5,387.2ZM672.1,389.8L667.5,389.3L667.1,389.5L666.8,392.7L672.5,392ZM678.4,389L677.2,386.7L672.3,389.2L672.1,389.8L672.5,392L673.1,392.7L678.5,391.4ZM684.2,387.6L683.3,387.3L678.4,389L678.5,391.4L678.6,391.5L682.3,393.2ZM641.4,398.3L642.3,398L643.7,396.5L643.7,394.3L640.2,391.2L638.1,394.7ZM653,396.7L653.8,394.5L653,392.5L650.1,392.6L648.3,393.9L648.2,397.1L649,398.1ZM665.2,393.6L663.1,391.9L658.8,394.7L658.8,394.8L659.5,396.2L663.6,396.9ZM673.1,392.7L672.5,392L666.8,392.7L666.4,393.3L670.7,398.1L671.7,397.9L672.7,397.1ZM678.6,391.5L676.9,397.2L681,397.9L681.9,397L683,394.2L682.3,393.2ZM620.7,403.2L624.9,404.2L627.4,398.1L626.9,397.8L622,400.2L620.6,403ZM630,402.5L629.4,399.4L628.9,398.6L627.4,398.1L624.9,404.2L626.9,405.5ZM630.8,403.1L635.3,402.6L636.1,401.8L634.5,399.5L629.4,399.4L630,402.5ZM640.2,403.8L646.1,403.2L647.1,402.7L642.3,398L641.4,398.3L639.1,401.5L639.1,401.6ZM658.1,399.8L654.7,399.4L652.3,403.5L653.9,404.8L659.7,403.1L659.8,403ZM662.6,403L664.5,398.8L663.6,396.9L659.5,396.2L658.1,399.8L659.8,403L662.2,403.3ZM669.2,399.1L664.5,398.8L662.6,403L667.6,404L668.2,403.4ZM671.7,397.9L670.7,398.1L669.2,399.1L668.2,403.4L671.7,404.2L673,402.5ZM681,397.9L676.9,397.2L675.2,397.7L677.5,402.7L679.7,401.4L680.8,400.6ZM643.9,408L646.1,403.2L640.2,403.8L640,405.3ZM648.1,408.7L648.9,406.3L649,403.4L648.2,402.7L647.1,402.7L646.1,403.2L643.9,408L644,408.2ZM653.9,404.8L652.3,403.5L649,403.4L648.9,406.3L654.4,409.6L654.6,408.4ZM658.6,406.6L659.7,403.1L653.9,404.8L654.6,408.4ZM663,406.6L662.2,403.3L659.8,403L659.7,403.1L658.6,406.6L659.3,408.3L662.3,407.9ZM668.1,408.1L667.6,404L662.6,403L662.2,403.3L663,406.6L667.3,408.9ZM667.6,404L668.1,408.1L672.3,408L671.7,404.2L668.2,403.4ZM673,402.5L671.7,404.2L672.3,408L672.4,408L673.9,404.8L676.1,403.5ZM648.9,406.3L648.1,408.7L648.6,410.1L650.4,411.7L654.4,412L654.4,409.6ZM667.3,408.9L663,406.6L662.3,407.9L662.3,410.7L665.9,412L666.5,411.9ZM617.1,475.3L619.5,469.6L618.8,468.8L612.2,470.5L614,474.6ZM624,475L624.4,474.6L624.3,474.4L623.9,471L623.9,470.8L619.5,469.6L617.1,475.3L618.5,477.2ZM600.6,475.6L597.6,476.6L597.4,480L598.5,479.9L601.6,479.7L603.4,479.6L602.6,476.4ZM612.4,476.3L607.2,475L606.7,475.8L608.4,480.6L612,479.7ZM618.4,479.4L618.5,477.2L617.1,475.3L614,474.6L612.4,476.3L612,479.7L613.6,480.8ZM619.7,481.5L623.6,482.1L624.3,481.5L624,475L618.5,477.2L618.4,479.4ZM608.3,486.2L608.3,480.7L607.4,480.8L607.2,482.1L606.5,484.8L607.9,486.5ZM613.7,486.2L618.1,484.9L619.7,481.5L618.4,479.4L613.6,480.8ZM608.3,486.2L607.9,486.5L609.4,488.5L611.2,491.7L613.5,489.7L614.3,489.4L613.4,486.5ZM707.6,513L704.3,512.5L704.1,513.3L704,517.2L706.3,519.2L706.6,516.1L708.3,516.3ZM713.9,518.6L715.3,523.9L721.9,522.9L722.6,518.4L714.2,518.4ZM720.8,533.4L720.8,533L718.9,530.1L714.6,527.6L712.8,530.4L713.6,531.2L716.3,530.9L716.8,533.9L717.2,536.9L717.9,537ZM690.7,412.1L691.1,406.8L690.2,407.3L688,408.4L685.7,409.5L685.6,409.7ZM737.5,416.4L742.1,415.8L741.7,415.5L738.4,413.1L735.1,410.8L735,410.7ZM740.8,422.2L741.3,420.9L743.2,419.4L745,417.9L742.1,415.8L737.5,416.4L736.9,417.6L737.2,421.8ZM711.5,382.7L711.8,380.8L711.3,380.9L708.4,381.3L705.5,381.7L702.6,382.2L701.4,382.3L702.1,382.6ZM704.6,390.8L706.6,391.2L707.5,387.5L702.1,382.6L701.4,382.3L699.6,382.6L699.6,382.7ZM695.9,394L699.8,393.9L700.2,392.2L697.6,388.3L696.8,390.2L694.5,391.2L693.6,391.6ZM681.2,403.3L684.4,400.6L683.6,398.4L682.6,399.2L679.7,401.4L677.9,402.5ZM689.6,401.3L690.1,399.9L685.9,396.6L685.4,397L683.6,398.4L684.4,400.6L685.6,401.5ZM697.1,403L701.8,397.5L700.3,396.1L695.1,398.2L696.6,402.7ZM676.8,408.2L678,408.8L682.3,407.6L681.2,403.3L677.9,402.5L676.8,403.1L675.5,403.8ZM691.2,403.7L690.3,407.2L692.4,406.2L694.6,405.1L697.3,404.8L698.3,404.7L697.1,403L696.6,402.7ZM676.8,408.2L673.3,410.5L673,411.1L673.8,411L676.8,410.6L678.4,410.4L678,408.8ZM742.6,410L743.4,413L746.5,415.3L748.6,412.2L747.8,408.9ZM752.2,407L751.2,407.8L751.9,412.4L752.9,412.9L753,412.5L755.2,408.3ZM720.3,353.3L717.8,352.8L717.5,354.5L716.8,357.7L716.7,358L717.8,359L720.9,355.8L721.2,355.1L721,353.8ZM720.4,361.2L722.2,360.2L720.9,355.8L717.8,359L718.3,360.5ZM710.2,369.9L713.6,367.4L713.5,366.2L711.1,367L709.3,367.7L709,367.8ZM718.2,365.6L716.6,364.1L714,365.3L714,366L713.5,366.2L713.6,367.4L715.4,369L716.2,369.4ZM693.1,369.7L692.3,370.7L690.7,372.6L693.5,374.5L693.7,374.4L695.5,371.5L694.9,371.1L694.6,370.5ZM713.6,367.4L710.2,369.9L709.8,371.5L711.9,371.8L715.4,369ZM716.9,370.4L716.2,369.4L715.4,369L711.9,371.8L714.6,373.1L716.4,371.4ZM723.8,371.1L723.9,370.4L721.8,366.9L720.7,371.1ZM686.7,378.5L689.1,376L688.5,374.6L688.4,374.7L686.2,376.6L684.9,378.2ZM705,376.5L708.4,377.9L710.6,376.3L708.8,372.5L705.6,372.3L704.9,376.2ZM716.4,371.4L714.6,373.1L714.2,375.2L716.7,376.7L718.4,375.7ZM699.3,377.3L697.7,376.1L695.5,376.5L695.1,378.5L696.6,380L699,378.9ZM701.1,381.3L702.9,380.4L701.4,376.6L701.2,376.5L699.3,377.3L699,378.9ZM701.4,376.6L702.9,380.4L704.2,380.4L705,376.5L704.9,376.2ZM726.4,376.2L723.5,374.6L721.2,376.1L721.7,378.5L722.3,379.1L723,379L724.5,378.8ZM678.5,385.4L682.1,383.7L682.8,382.4L682.4,381.4L682.1,381.8L679.9,383.2L678.3,384.2ZM687.8,379.9L686.7,378.5L684.9,378.2L684.2,379.2L682.4,381.4L682.8,382.4L685.2,383.3ZM696.6,380L695.1,378.5L692,379.7L694.1,383.4L696.4,383.1ZM716.5,378.7L713.9,380.5L714.2,380.4L717.2,379.9L718,379.8ZM721.7,378.5L718.6,379.7L720.1,379.5L722.3,379.1ZM682.1,383.7L678.5,385.4L678.5,385.5L681.5,385.1L682.3,385ZM685.2,383.3L682.8,382.4L682.1,383.7L682.3,385L684.5,384.7L686.4,384.4ZM699.7,345.4L700,346.5L703,348L706.2,343.7L704.9,342.6ZM718.3,350.7L718.8,348.1L719.5,348.4L717.7,344.9L717.4,344.8L715.2,345.9L712.5,349.2L714.7,351.7ZM694.8,353.6L695,350.6L694.3,349.5L689.1,349.3L689,351.2ZM694.8,353.7L700.5,354.6L701.9,353.9L698.7,348.7L695,350.6L694.8,353.6L694.8,353.7ZM705,351.2L703,348L700,346.5L698.7,348.7L701.9,353.9L704,353.5ZM714.2,354.6L714.7,351.7L712.5,349.2L709.4,349L709.2,349.2L710.6,354.7L711.5,355.7ZM715.4,355.6L717.3,355.4L717.5,354.5L718.1,351.3L718.3,350.7L714.7,351.7L714.2,354.6ZM696,357.9L700,358.8L700.5,354.6L694.8,353.7L695.2,356.7ZM715.4,355.6L714.2,354.6L711.5,355.7L711.3,356.3L713.4,361.5L714.5,361.5L715.4,360.1L716,359ZM692.2,362.4L692.5,362.2L692.2,360.8L690.2,357.8L687.7,358.5L686.5,362.7L686.8,363.2ZM700,358.8L696,357.9L696.2,362.5L699,363L700.1,361.8L700.1,359.4ZM705.8,357.6L700.1,359.4L700.1,361.8L703,361.8L706.1,358ZM703,361.8L705.6,364.1L708.9,362.2L707.3,358.6L706.1,358ZM707.3,358.6L708.9,362.2L710.7,362.9L713.4,361.5L711.3,356.3ZM686.8,363.2L688.3,365.1L689.7,367L691.1,367.5L692.2,362.4ZM692.2,362.4L691.1,367.5L691.9,367.8L692.9,368.2L694.4,367.3L694.5,362.8L692.5,362.2ZM694.4,367.3L696.9,368L699.8,366.7L699,363L696.2,362.5L694.5,362.8ZM710.7,362.9L708.9,362.2L705.6,364.1L705.1,366.6L708.1,368.1L709.3,367.7L710.9,367.1ZM710.7,362.9L710.9,367.1L711.1,367L714,366L714,362.4L714.5,361.5L713.4,361.5ZM700.1,367L699.8,366.7L696.9,368L695.8,371.7L698.2,373.2L700,371.9L700.4,371.5ZM700.4,371.5L701.7,370.5L703.6,371.8L704.4,371.1L704.2,367.1L700.1,367ZM747.7,300.1L750.8,298.4L748.5,293.2L743.3,294.1L743.4,298.2ZM741.4,301.7L743.5,304.5L747.4,301.3L747.7,300.1L743.4,298.2L742.5,299.1ZM753.3,298.6L752.7,298.9L753,304.7L754.1,306L760.1,304.7L760.5,304.1L760.2,298.9Z"/>
<path fill="#ddf0b2" d="M235.8,282L238.3,287L254.2,288.6L255.1,285.4L256,281.6L257,277.9L254.3,277.2L251.6,276.5L248.9,275.8L246.2,275L243.5,274.3L240.8,273.6L239.5,273.2ZM236.2,296.2L235.1,297.1L233.7,300.5L235.2,306.5L248.3,311.7L248.3,311.6L249.3,307.8L250.2,304.1L250.4,303.3ZM253.2,348.9L242.4,336L234.9,336L234.3,340.6L241.4,349.5L246.8,351.2ZM316.7,441.4L313.7,437.9L305.6,433.6L302.2,437.1L298.2,443.1L300,444.1L302.9,445.9L305.9,447.6L308.8,449.4L311.1,450.7ZM322.4,439.8L316.7,441.4L311.1,450.7L311.8,451.1L314.8,452.9L317.8,454.6L320.8,456.3L323.8,458L324.1,458.2L333.3,445.7ZM415.6,366.3L411.1,368.8L410.3,370.2L419.8,384.5L420.4,384.6L422.4,384.7L425.5,374.3ZM395.3,406.6L400.7,412.9L406.7,412.2L407.4,399.3L400.4,395.6L399.3,396.2ZM422.1,405L407.6,399.2L407.4,399.3L406.7,412.2L408.2,413.1L422.7,407.6Z"/>
<path fill="#c4c4c8" d="M264.7,505.5L261.5,509.8L262.4,512.7L269.5,512.7Z"/>
<path fill="#fdcb82" d="M208.7,276.5L208.3,278.6L207.1,280.7L205.8,282.7L203.9,285.1L202,287.4L202.9,290.4L203.8,293.4L204.1,294.7L211,295.2L214.1,277.8ZM217.6,316.6L217.6,303.5L217.4,303.4L206.1,312.8L213.6,317.7Z"/>
<path fill="#7f71b6" d="M287.2,200.4L285.3,206.3L289.6,211.1L295.3,211.1L297.6,203.6ZM247.3,219L249.5,227.9L261.1,220.9L258.9,221.1L257.3,219.8L255.7,218.5L253.6,218.2L251.4,217.9L249.7,218.2L247.9,218.5L247.6,218.4ZM261.1,220.9L263.6,230.9L268.6,230.9L274.5,221.1L274.2,221.1L271.7,221L269.3,220.8L267,220.7L264.6,220.5L261.8,220.8L261.1,220.9ZM277.2,221.1L276.8,221.1L274.5,221.1L268.6,230.9L273.6,235.1L281.3,232.2ZM293,226L298.2,238.1L301.8,240.9L304.1,237.7L305.4,235.7L306.7,233.6L305.1,229.3L304.3,226L301.9,225.5L299.5,224.9L297.2,224.4L294.8,223.8L293.8,223.6ZM268.6,230.9L263.6,230.9L262.4,232.3L263.9,242.8L271.3,244.3L273.6,235.1ZM244.1,326.1L242.4,336L253.2,348.9L256.6,348.8L260.3,346.7L258.2,343.4L256,340L253.9,336.6L251.7,333.1L249.6,329.7L247.5,326.3L246,323.8ZM293.1,303.5L280.7,323.6L291.5,327.8L305.3,313.2ZM278.5,347.8L273.2,335L256.1,340.2L258.2,343.4L260.4,346.9L261,347.8ZM261,347.8L262.6,350.3L264.8,353.7L267.1,357.1L269.3,360.5L269.8,361.2L279.5,348.8L278.5,347.8ZM310.7,252.2L313.4,246.8L305.7,235.2L305.4,235.7L304.1,237.7L301.7,241.1L299.3,244.5L297.7,246.5L296.1,248.5L297.1,251.9L297.3,253.2ZM328.1,254.6L328.8,253.1L328.8,250.1L325.5,245.2L318.4,243.8L313.4,246.8L310.7,252.2L315.8,259.1ZM340.3,255.3L340,254.6L338.8,251.8L337.2,248.8L338.1,247L337.5,245.7L328.8,250.1L328.8,253.1ZM315.8,260.5L309.7,268.7L309.1,270.9L312.6,276.8L317.8,276.8L324.3,269ZM331.3,274.3L326.6,269L324.3,269L317.8,276.8L328.6,287.6L332,281.8ZM326.6,269L331.1,262.7L328.1,254.6L315.8,259.1L315.8,260.5L324.3,269ZM339.3,263.7L343.7,258.7L343.1,258.8L341.1,257.4L340.3,255.3L328.8,253.1L328.1,254.6L331.1,262.7ZM339.3,263.7L331.1,262.7L326.6,269L331.3,274.3L339.9,269.1ZM361.8,262.8L362.1,261L360.4,259.5L358.7,258.1L355.9,258.2L353.1,258.2L351,258L348.8,257.8L345.9,258.3L343.7,258.7L339.3,263.7L339.9,269.1L343.6,272.8ZM332,281.8L328.6,287.6L328.3,293.7L331,294.2L333.8,294.7L336.6,295.2L336.7,295.3L344.3,284.6L343.4,279ZM346.7,207.7L346.9,209.9L358.2,212.5L364.2,206.5L359.3,198.4L348.7,200.7ZM359.3,198.4L364.2,206.5L368.9,207.2L374.2,202.5L375.1,193L373,192.6L370.5,192.2L368,191.8L365.5,191.4L363,191L361.2,190.7ZM386.7,206.4L374.2,202.5L368.9,207.2L372.9,215.2L381.2,216.8L388.1,210ZM402.2,196.9L400.7,196.7L398.2,196.3L395.7,196L393.2,195.6L390.6,195.3L389.9,195.2L386.7,206.4L388.1,210L399.4,214.3L400.6,213.3ZM400.6,213.3L414.6,212.2L417.8,208.4L417.2,198.7L415.9,198.5L413.4,198.2L410.8,197.9L408.3,197.6L405.8,197.3L403.3,197L402.2,196.9ZM442.8,212.4L442.9,212L443.2,208.4L443.5,204.8L443.8,201.3L441.2,201.1L438.7,200.8L436.2,200.6L433.6,200.4L433.1,200.3L432.4,204.5L439.6,211.7ZM429.5,222.1L429.5,215.3L425.5,210.1L417.8,208.4L414.6,212.2L417.8,223.8L428.9,222.6ZM414.6,212.2L400.6,213.3L399.4,214.3L398.9,222.3L407.3,229.8L415.1,229.2L417.8,223.8ZM383,225.9L381.2,216.8L372.9,215.2L366.7,225.1L379.4,229.9ZM379.4,229.9L366.7,225.1L365.1,225.7L365.1,236.6L376.3,238.2L379.4,236.1ZM339.6,232.9L346.2,229.4L344.6,219.7L337.6,222.7ZM334.7,238.2L335.1,239.5L335.7,241.9L336.9,244.4L338.1,247L337.2,248.8L338.8,251.8L340,254.6L341.1,257.4L343.1,258.8L345.9,258.3L348.8,257.8L349.5,257.9L349.5,241.3L336.9,237.1ZM385.3,240L379.4,236.1L376.3,238.2L371.8,254.2L374.1,254.6L376.8,255L379.4,255.4L381,255.6L386.5,245.8ZM383,225.9L379.4,229.9L379.4,236.1L385.3,240L393.1,235.6L393.1,226.9ZM393.1,226.9L393.1,235.6L400.4,240.8L402.7,240.2L407.3,229.8L398.9,222.3ZM415.1,229.2L407.3,229.8L402.7,240.2L409.2,245.1L416.1,243.8L418.7,234.9ZM417.8,223.8L415.1,229.2L418.7,234.9L428.9,235.9L428.9,222.6ZM429.9,236.7L431.5,242.4L440,245.3L440.1,244.1L440.4,240.6L440.7,237L441,233.4L441.3,230.1ZM431.5,242.4L425.9,249.9L432,261.5L433.2,261.6L435.9,261.9L438.6,262.1L438.9,258.5L439.2,254.9L439.5,251.3L439.8,247.7L440,245.3ZM420.6,249L416.1,243.8L409.2,245.1L405.8,258.8L406.3,258.8L409,259.2L411.7,259.5L413.1,259.6ZM397.3,250.9L389.1,256.7L390.2,256.8L392.8,257.2L395.5,257.5L398.2,257.9L400.9,258.2L403.6,258.5L405.4,258.7ZM413.1,259.6L414.4,259.8L417,260L419.7,260.3L422.4,260.6L425.1,260.9L427.8,261.1L430.5,261.4L432,261.5L425.9,249.9L420.6,249ZM359.8,279.8L374.1,276.9L370.7,263.1L362.1,261.2L361.5,264.7L360.9,268.5L360.3,272.2L359.7,276L359.1,279.6ZM398.9,280L411.5,284.6L416.2,281.3L413.8,259.7L411.7,259.5L409,259.2L406.6,258.9ZM427.5,273.5L437.6,273.5L438,269.8L438.3,265.9L438.6,262.1L435.9,261.9L433.2,261.6L430.5,261.4L427.8,261.1L425.1,260.9L422.7,260.6ZM412.4,297.6L414.8,298.5L425.6,296.3L425.6,284L422.6,281.3L416.2,281.3L411.5,284.6ZM429.6,298.3L435.6,298L435.7,296.6L436,292.8L436.3,288.9L436.6,285.2L425.6,284L425.6,296.3ZM374.1,276.9L359.8,279.8L369.5,297.9L377.6,295.6L378.7,282L374.6,277.1ZM370.7,263.1L379.7,255.4L379.4,255.4L376.8,255L374.1,254.6L371.4,254.2L368.7,253.8L366.1,253.3L363.4,252.9L363,255.6L362.5,258.3L362.1,261L362.1,261.2ZM352.7,314.1L353.8,313.8L353.7,313.8L354.3,310L354.9,306.2L355.5,302.4L356.1,298.5L353.3,298.1L352.7,298L348.9,306.8L351.3,313ZM331.5,365.1L334.9,359.1L326,349.1L320.5,361.7L320.8,362.4ZM337.2,359.1L349,369.2L353,361.9L343.7,352.6ZM332.4,342.2L325.9,349L326,349.1L334.9,359.1L337.2,359.1L343.7,352.6L345.7,346.5ZM349,369.2L349.4,375.8L349.9,375.9L352.9,376.3L355.9,376.8L358.9,377.2L361.9,377.7L364.9,378.1L367.9,378.5L368.4,374.7L368.9,370.9L369.5,367L370,363.2L370.4,360.5L358,357.4L353,361.9ZM393.9,334.9L394.1,334L391.9,328.8L374.8,328.8L374.2,332.5L373.7,336.3L373.6,337.1L378.1,338.1ZM439.3,338.7L439.8,343.9L449.9,348.8L454.8,349.1L454.8,348.4L455,344.5L455.3,340.7L455.4,339.3L445.5,332.7L440.3,335.7ZM396.6,361.5L387,358.3L385.9,360.5L385.1,367.8L389.8,371.7L394.9,371L397.3,368.3ZM403.7,357.7L402.5,357.1L396.6,361.5L397.3,368.3L408.1,371.3L410.3,370.2L411.1,368.8ZM449.9,348.8L436.9,359.1L439.9,363.1L453.8,364.9L453.8,363.9L454.1,360L454.3,356.1L454.6,352.3L454.8,349.1ZM426.3,394.3L440,397.4L440.3,394L440.6,390.1L440.8,386.2L437.9,386L435,385.8L432.1,385.6L429.1,385.3L426.3,385.1ZM439.3,406.3L439.3,405.5L439.6,401.7L440,397.8L440,397.4L426.3,394.3L423.7,396.7L422.1,405L422.7,407.6L423.2,408.1ZM444.8,206.9L446.4,205.3L446,201.5L443.8,201.3L443.5,204.8L443.3,207.1ZM446.4,205.3L453.2,207L455.8,205.5L455.2,202.2L453.7,202.1L451.2,201.9L448.7,201.7L446.2,201.5L446,201.5ZM461.6,202.6L461.1,202.6L458.6,202.4L456.1,202.3L455.2,202.2L455.8,205.5L461.2,206.7ZM461.2,206.7L462.1,207.4L469.9,204.9L470.1,203.2L468.5,203.1L466,202.9L463.6,202.8L461.6,202.6ZM478.8,203.6L478.4,203.6L475.9,203.5L473.5,203.3L471,203.2L470.1,203.2L469.9,204.9L471.7,206.5L478.6,205.7ZM487.1,206.1L486.8,204L485.9,203.9L483.4,203.8L480.9,203.7L478.8,203.6L478.6,205.7L480.7,207.5ZM495.4,204.3L493.3,204.2L490.8,204.1L488.3,204L486.8,204L487.1,206.1L487.3,206.3L495.1,205.8ZM503.1,208L503.8,207.5L503.5,204.5L503.2,204.5L500.7,204.4L498.3,204.4L495.8,204.3L495.4,204.3L495.1,205.8L496.9,208.1ZM503.8,207.5L510.4,206.6L510.6,204.6L508.2,204.6L505.7,204.6L503.5,204.5ZM444.7,215.7L446.1,214.4L444.8,206.9L443.3,207.1L443.2,208.4L442.9,212L442.6,215.5L442.5,215.6ZM446.4,205.3L444.8,206.9L446.1,214.4L452.2,214.8L452.4,214.6L453.2,207ZM462.1,207.4L461.2,206.7L455.8,205.5L453.2,207L452.4,214.6L462.4,213.6ZM468.2,216.1L472.6,212.7L471.7,206.5L469.9,204.9L462.1,207.4L462.4,213.6L462.6,214.1ZM480.7,207.5L478.6,205.7L471.7,206.5L472.6,212.7L478.9,215.4L479.4,215.2ZM495.1,205.8L487.3,206.3L487.9,213.8L495,215.8L495.1,215.7L496.9,208.1ZM495.1,215.7L504,217.2L504.8,216.4L503.1,208L496.9,208.1ZM510.4,206.7L510.2,215.5L514.2,214.9L513.9,212.3L513.5,208.5L513.4,207.6ZM445.6,223.2L445.7,223L444.7,215.7L442.5,215.6L442.3,219.1L442,222.6ZM452.2,214.8L446.1,214.4L444.7,215.7L445.7,223L453.5,222.1ZM462.6,214.1L462.4,213.6L452.4,214.6L452.2,214.8L453.5,222.1L453.8,222.3L460,221ZM469.6,223.4L470.1,222.8L468.2,216.1L462.6,214.1L460,221L462.2,223.1ZM472.6,212.7L468.2,216.1L470.1,222.8L476.9,222L478.9,215.4ZM484.8,216L479.4,215.2L478.9,215.4L476.9,222L479.8,225.4L486.8,223ZM493.8,222.1L494.8,223.3L504.1,222L504,217.2L495.1,215.7L495,215.8ZM513.2,223.9L510.2,215.5L504.8,216.4L504,217.2L504.1,222L505.3,224.4L513.1,224ZM454.5,228.7L453.8,222.3L453.5,222.1L445.7,223L445.6,223.2L444.7,229.6L445,230L453.4,230.1ZM461.3,229.8L462.2,223.1L460,221L453.8,222.3L454.5,228.7ZM461.4,229.9L469.2,229.9L469.6,223.4L462.2,223.1L461.3,229.8ZM479.8,225.4L476.9,222L470.1,222.8L469.6,223.4L469.2,229.9L469.2,230L478.1,231.5L479.5,230.5ZM485.7,233.5L488.3,230.6L487.9,223.4L486.8,223L479.8,225.4L479.5,230.5ZM495.3,230L496.4,229L494.8,223.3L493.8,222.1L487.9,223.4L488.3,230.6ZM504.1,222L494.8,223.3L496.4,229L501.9,230.1L503.7,228.7L505.3,224.4ZM513.2,223.9L513.1,224L513,232.6L517.2,232.7L517,230.7L516.8,227.5L515.9,224.3L515.6,223.3ZM444.7,229.6L441.4,229.3L441.3,229.8L441,233.4L440.7,237L440.7,237.5L444.7,237L445,230ZM469.2,230L468.5,236.6L470.8,238.6L476.5,236.8L478.1,231.5ZM494.1,238.4L494.2,238.4L495.3,230L488.3,230.6L485.7,233.5L487.5,239.1ZM494.2,238.4L502.9,238.3L501.9,230.1L496.4,229L495.3,230ZM446.8,238.8L444.7,237L440.7,237.5L440.4,240.6L440.1,244.1L439.8,247.7L442.5,248L445.1,248.2L447.2,248.3ZM457.7,239L453.8,236.4L446.8,238.8L447.2,248.3L447.8,248.4L450,248.6ZM460.3,239.4L457.7,239L450,248.6L450.5,248.6L452.9,248.8L461.1,247.5L462.2,244.8ZM471.2,244.8L470.8,238.6L468.5,236.6L460.8,238.8L460.3,239.4L462.2,244.8L470.1,245.6ZM470.8,238.6L471.2,244.8L477.3,246.4L479.9,241.5L476.5,236.8ZM479.9,241.5L477.3,246.4L478,247.8L487.3,249.5L488.3,247.7L487.2,239.5ZM487.2,239.5L488.3,247.7L496.5,247.2L494.1,238.4L487.5,239.1ZM496.5,247.2L498.3,248.3L500.9,247.5L503.1,238.5L502.9,238.3L494.2,238.4L494.1,238.4ZM510.7,239.6L510.3,239.1L503.1,238.5L500.9,247.5L504.3,249.2L510.6,245.6ZM510.7,239.6L510.6,245.6L511.2,246.2L518.1,247.9L519.3,246.5L519.3,246.3L518.7,243.2L518.3,241.1ZM478,247.8L477.3,246.4L471.2,244.8L470.1,245.6L469.4,249.8L471.7,249.9L474.4,250.1L477.1,250.2L477.5,250.2ZM487.3,249.5L487.4,250.7L487.7,250.7L490.4,250.8L493,250.9L495.7,250.9L497.5,251L498.3,248.3L496.5,247.2L488.3,247.7ZM504.3,249.2L500.9,247.5L498.3,248.3L497.5,251L498.4,251L501,251.1L503.7,251.1L505,251.2ZM504.3,249.2L505,251.2L506.4,251.2L509,251.2L511.7,251.3L511.9,251.3L511.2,246.2L510.6,245.6ZM518.1,247.9L511.2,246.2L511.9,251.3L514.4,251.3L517,251.3L518.1,251.3ZM518.1,247.9L518.1,251.3L519.7,251.4L519.5,248.8L519.3,246.5ZM441.4,254.1L444.2,250.9L444.6,248.1L442.5,248L439.8,247.7L439.5,251.3L439.3,253.6ZM444.2,250.9L450.8,254.6L452.9,253.1L452.4,248.7L450.5,248.6L447.8,248.4L445.1,248.2L444.6,248.1ZM452.9,253.1L457.6,254.4L460.1,253L460.3,249.3L458.4,249.1L455.8,249L453.1,248.8L452.4,248.7ZM473.7,252.2L474.6,252.5L482.5,251.2L483.2,250.5L482.4,250.5L479.7,250.3L477.1,250.2L474.4,250.1L473.5,250ZM489.3,253L494.9,253.6L497.5,251.6L497.5,251L495.7,250.9L493,250.9L490.4,250.8L487.7,250.7L487,250.6ZM505.1,253L505,251.2L503.7,251.1L501,251.1L498.4,251L497.5,251L497.5,251.6L503.5,254.1ZM505.1,253L509.9,254L510.7,251.3L509,251.2L506.4,251.2L505,251.2ZM516.9,253.3L518.1,251.3L517,251.3L514.4,251.3L511.7,251.3L510.7,251.3L509.9,254L510.5,254.5ZM443,260.1L443.3,259.8L441.4,254.1L439.3,253.6L439.2,254.9L438.9,258.5L438.6,261.7ZM448.9,259.7L450.8,254.6L444.2,250.9L441.4,254.1L443.3,259.8ZM457.6,260.6L457.6,254.4L452.9,253.1L450.8,254.6L448.9,259.7L450.6,261.5ZM474.6,252.5L473.7,252.2L468.6,252.9L466.5,255.4L467,260.4L473.5,262.7L474.7,261.1ZM481.5,258.2L482.5,251.2L474.6,252.5L474.7,261.1ZM490,261.7L489.3,253L487,250.6L485,250.6L483.2,250.5L482.5,251.2L481.5,258.2L483.8,261.7L489.5,262.4ZM494.9,253.6L489.3,253L490,261.7L496.4,260.3L497.2,259.4ZM503.5,254.1L497.5,251.6L494.9,253.6L497.2,259.4L502.1,258.9ZM504.6,262.6L511,259.1L510.5,254.5L509.9,254L505.1,253L503.5,254.1L502.1,258.9ZM516.9,253.3L510.5,254.5L511,259.1L512.8,260.5L518.5,259.4L516.5,256.5L517.6,255.3ZM516.9,253.3L517.6,255.3L519.2,253.5L519.7,251.4L518.1,251.3ZM443.2,269.7L444,268.6L443,260.1L438.6,261.7L438.6,262.1L438.3,265.9L438,269.2ZM465.4,270L472.9,268.3L474.5,265.2L473.5,262.7L467,260.4L465.1,262.1L464.8,268.4ZM483.8,261.7L481.5,258.2L474.7,261.1L473.5,262.7L474.5,265.2L480.4,267.2ZM490.2,266.6L489.5,262.4L483.8,261.7L480.4,267.2L481,268.1L489.2,268.9ZM497.9,267.4L496.4,260.3L490,261.7L489.5,262.4L490.2,266.6ZM497.2,259.4L496.4,260.3L497.9,267.4L499.4,268.5L504.4,267.5L504.6,267.3L504.6,262.6L502.1,258.9ZM511.4,269.6L513.1,268.4L512.8,260.5L511,259.1L504.6,262.6L504.6,267.3ZM512.8,260.5L513.1,268.4L517.7,268.2L518,268L520.8,261.9L520.8,261.2L518.7,259.6L518.5,259.4ZM518,268L520.8,268.5L520.8,268.1L520.8,264.6L520.8,261.9ZM467.9,276L474.1,274.3L472.9,268.3L465.4,270L464.8,273.3ZM474.5,265.2L472.9,268.3L474.1,274.3L475.3,275L480,275.1L480.3,274.8L481,268.1L480.4,267.2ZM481,268.1L480.3,274.8L490.1,275.6L489.2,268.9ZM490.1,275.6L490.2,275.7L496,275.5L499.4,268.5L497.9,267.4L490.2,266.6L489.2,268.9ZM504.4,267.5L499.4,268.5L496,275.5L497.7,276.9L503.7,276.7ZM511.4,276.1L511.4,269.6L504.6,267.3L504.4,267.5L503.7,276.7L506.1,278.5ZM511.4,276.1L512.1,276.7L518.5,277.3L520.6,275.9L517.7,268.2L513.1,268.4L511.4,269.6ZM518,268L517.7,268.2L520.6,275.9L520.7,275.9L520.8,275L520.8,271.5L520.8,268.5ZM460.7,274.9L458.6,277.2L458.3,281.2L467.7,283.8L468,283.6L467.9,276L464.8,273.3ZM468,283.6L472.8,283.9L473.2,283.7L475.3,275L474.1,274.3L467.9,276ZM480,275.1L475.3,275L473.2,283.7L480.3,283.7L480.6,283.4ZM490.2,275.7L490.1,275.6L480.3,274.8L480,275.1L480.6,283.4L487.7,283L489.1,281.1ZM497.7,276.9L496,275.5L490.2,275.7L489.1,281.1L495.7,284.6L498.5,282.1ZM505.2,284.2L506.1,278.5L503.7,276.7L497.7,276.9L498.5,282.1L504.5,285ZM513.3,284.3L512.1,276.7L511.4,276.1L506.1,278.5L505.2,284.2ZM513.4,284.4L518.4,285.2L518.5,277.3L512.1,276.7L513.3,284.3ZM520.6,275.9L518.5,277.3L518.4,285.2L520.7,287.1L520.7,285.4L520.7,281.9L520.7,278.5L520.7,275.9ZM480.3,283.7L473.2,283.7L472.8,283.9L474.6,291.4L480.6,290.4L480.7,290.2ZM487.7,283L480.6,283.4L480.3,283.7L480.7,290.2L489.1,290ZM495.7,284.6L489.1,281.1L487.7,283L489.1,290L490.1,291.1L494.1,291.3L495.6,290.3ZM498.5,282.1L495.7,284.6L495.6,290.3L503.9,290.4L504.5,285ZM503.9,290.4L504.4,291.1L510.1,291.8L510.8,291.3L513.4,284.4L513.3,284.3L505.2,284.2L504.5,285ZM518.4,285.2L513.4,284.4L510.8,291.3L518.4,291.3L519.3,290L519,288.8L520.1,288.8L520.7,288.1L520.7,287.1ZM450.3,291.2L450.2,291.1L441.7,291.4L441.8,293.2L444,293.4L446.7,293.6L449.4,293.8L449.9,293.9ZM465.7,290.4L459.3,291.9L459.1,294.5L460.2,294.5L462.8,294.7L465.5,294.9L466.9,294.9L465.8,290.5ZM473.7,292.6L465.8,290.5L466.9,294.9L468.2,295L470.9,295.2L473.6,295.3L473.8,295.3ZM480.6,290.4L474.6,291.4L473.7,292.6L473.8,295.3L476.3,295.4L479,295.5L481.6,295.7ZM480.7,290.2L480.6,290.4L481.6,295.7L481.7,295.7L484.3,295.8L487,295.9L487.6,295.9L490.1,291.1L489.1,290ZM494.1,291.3L490.1,291.1L487.6,295.9L489.7,296L492.4,296L495.1,296.1L495.5,296.1ZM504.4,291.1L503.9,290.4L495.6,290.3L494.1,291.3L495.5,296.1L497.8,296.2L500.5,298L503,299.7ZM513.1,298.9L510.1,291.8L504.4,291.1L503,299.7L503.3,299.9L506.1,299.3L508.9,298.8L510.6,298.8L512.3,298.8L512.9,299.1ZM510.1,291.8L513.1,298.9L517.9,297.7L518.4,291.3L510.8,291.3ZM519.1,298.5L520.7,295L519.8,291.9L519.3,290L518.4,291.3L517.9,297.7ZM520.1,288.8L520.7,288.9L520.7,288.1ZM512.9,299.1L513.9,299.7L515.6,300.7L517.8,302.5L520.1,304.3L519.5,301.6L519,298.9L519.1,298.5L517.9,297.7L513.1,298.9ZM443.2,293.4L441.4,293.2L438.7,293L436,292.8L435.7,296.4L436.7,297.1L443.2,296.1ZM451.7,297.4L454.8,296.8L455.4,294.2L454.8,294.2L452.1,294L449.5,293.8L450.3,296.6ZM460.9,298.3L461.8,299.2L468.4,295L468.2,295L465.5,294.9L462.8,294.7L461.7,294.6ZM470.4,297.3L474.2,298.1L474.6,297.9L474.6,295.3L473.6,295.3L470.9,295.2L468.5,295ZM493.8,298L498.3,296.5L497.8,296.2L495.1,296.1L492.4,296L492.1,296ZM435.7,296.4L435.7,296.6L435.3,300.5L435,304.3L435,304.5L436.6,305L438.9,303.6L436.7,297.1ZM455.2,297L454.8,296.8L451.7,297.4L450.3,303.4L456,303.8ZM461.8,299.2L460.9,298.3L455.2,297L456,303.8L457.4,305.2L462.8,302.5ZM466.8,303.6L470.4,297.3L468.5,295L468.4,295L461.8,299.2L462.8,302.5L463.3,302.9ZM481.8,305L486.9,303.2L485.5,295.8L484.3,295.8L482.5,295.7L479.9,297.9L480.2,303.2ZM486.9,303.2L488.2,304.1L492.7,304L494.3,302.7L493.8,298L492.1,296L489.7,296L487,295.9L485.5,295.8ZM493.8,298L494.3,302.7L498.7,304.3L499.6,303.9L501,298.4L500.5,298L498.3,296.5ZM499.6,303.9L507,303.9L505.9,299.4L503.3,299.9L501,298.4ZM507,303.9L511.9,302.5L512.2,298.8L510.6,298.8L508.9,298.8L506.1,299.3L505.9,299.4ZM511.9,302.5L513.6,303.3L517.6,302.3L515.6,300.7L513.9,299.7L512.3,298.8L512.2,298.8ZM436,309L436.6,305L435,304.5L434.7,308.1L434.6,309.4ZM442.7,308.2L442.1,304.2L438.9,303.6L436.6,305L436,309L437.5,310.8L440.8,311.1ZM456.5,308.4L457.4,305.2L456,303.8L450.3,303.4L449.5,304.3L450.3,307.9L455.2,309.3ZM463.3,302.9L462.8,302.5L457.4,305.2L456.5,308.4L462.1,311ZM468.1,304.8L466.8,303.6L463.3,302.9L462.1,311L462.2,311.1L467.5,310.4ZM473.8,311.3L474.9,308.9L473.8,305.3L473.5,305.1L468.1,304.8L467.5,310.4L468,311ZM486.9,309.3L488.2,304.1L486.9,303.2L481.8,305L481.6,309.3L482,309.8ZM492.4,309.8L492.7,304L488.2,304.1L486.9,309.3L487.3,309.7ZM492.7,304L492.4,309.8L493.9,312.1L499.3,310.4L498.7,304.3L494.3,302.7ZM498.7,304.3L499.3,310.4L500.4,311.2L505.9,309.3L507.1,307.4L507,303.9L499.6,303.9ZM513.3,311L514.8,309.8L513.6,303.3L511.9,302.5L507,303.9L507.1,307.4ZM513.6,303.3L514.8,309.8L519.7,309.8L519.9,309.7L518.2,302.8L517.8,302.5L517.6,302.3ZM519.9,309.7L521.9,309.4L521.7,308.9L520.9,306.6L520.1,304.3L518.2,302.8ZM442.4,315L440.8,311.1L437.5,310.8L435.6,314.9L437.6,316.8L441.7,316ZM448.1,310.5L442.7,308.2L440.8,311.1L442.4,315L447.9,314.3ZM455.2,309.3L450.3,307.9L448.1,310.5L447.9,314.3L449.1,315.7L454.9,314.3ZM462.2,311.1L462.1,311L456.5,308.4L455.2,309.3L454.9,314.3L457.8,316.8L459.7,316.6L461.4,315ZM473.8,311.3L468,311L467.9,317L468.1,317.4L474.9,315.8ZM475.8,316.5L479.4,316.2L481.7,314.5L482,309.8L481.6,309.3L474.9,308.9L473.8,311.3L474.9,315.8ZM486.9,309.3L482,309.8L481.7,314.5L486.3,316.3L488.1,315L487.3,309.7ZM492.4,309.8L487.3,309.7L488.1,315L493,314.6L493.9,312.1ZM493,314.6L494.6,318.1L500.4,317.2L501.4,315.2L500.4,311.2L499.3,310.4L493.9,312.1ZM507.8,315.5L505.9,309.3L500.4,311.2L501.4,315.2ZM507.8,315.5L508.8,316.3L512.1,315.5L513.3,311L507.1,307.4L505.9,309.3ZM519.3,316.4L519.7,309.8L514.8,309.8L513.3,311L512.1,315.5L513.6,316.7L518.6,317.1ZM519.9,309.7L519.7,309.8L519.3,316.4L524.3,316L523.1,312.8L521.9,309.4ZM443.2,322.1L441.7,316L437.6,316.8L435.8,323.7L436.2,323.8L439.1,324L440.6,324.1ZM449.1,315.7L447.9,314.3L442.4,315L441.7,316L443.2,322.1L449.2,322.1L449.3,322ZM457.8,316.8L454.9,314.3L449.1,315.7L449.3,322L454.3,322.6ZM454.6,323.1L463.2,323.3L459.7,316.6L457.8,316.8L454.3,322.6ZM474.9,321.7L480.2,324.4L482,322.9L479.4,316.2L475.8,316.5ZM486.3,316.3L481.7,314.5L479.4,316.2L482,322.9L487.2,322.8ZM488.1,315L486.3,316.3L487.2,322.8L487.8,323.3L493.5,321.8L494.6,318.1L493,314.6ZM494.6,318.1L493.5,321.8L494.8,323.2L499.1,324.5L502.3,321.2L500.4,317.2ZM502.3,321.2L506.6,322L508.8,316.3L507.8,315.5L501.4,315.2L500.4,317.2ZM513.6,316.7L512.1,315.5L508.8,316.3L506.6,322L507.5,323.6L513.6,323.4ZM518.6,317.1L513.6,316.7L513.6,323.4L514.2,323.8L520.3,323ZM519.3,316.4L518.6,317.1L520.3,323L520.4,323.1L525.9,321.6L525.5,320L524.5,316.6L524.3,316ZM449.2,322.1L443.2,322.1L440.6,324.1L442,324.2L444.8,324.5L447.7,324.7L448.8,324.7ZM449.3,322L449.2,322.1L448.8,324.7L450.6,324.9L453.4,325.1L455.2,325.2L454.6,323.1L454.3,322.6ZM463.2,323.3L454.6,323.1L455.2,325.2L456.3,325.2L456.1,327.5L461.3,329.1L463.4,323.4ZM467.4,322.6L463.4,323.4L461.3,329.1L461.9,330.8L467.9,329.3L468.2,328.9L467.8,322.9ZM468.2,328.9L474.3,329.3L474.5,329.1L472.4,323.7L467.8,322.9ZM472.4,323.7L474.5,329.1L479,329.1L480.2,324.4L474.9,321.7ZM480.5,330.8L487.3,329.3L487.8,328.1L487.8,323.3L487.2,322.8L482,322.9L480.2,324.4L479,329.1ZM487.8,328.1L494.1,329.3L494.8,323.2L493.5,321.8L487.8,323.3ZM494.1,329.3L494.7,330.1L500.6,328.9L499.1,324.5L494.8,323.2ZM507.5,323.6L506.6,322L502.3,321.2L499.1,324.5L500.6,328.9L501.7,329.7L506.6,328.7L506.6,328.6ZM514.2,323.8L513.6,323.4L507.5,323.6L506.6,328.6L514.1,328.7ZM515.4,330.4L519.9,330L520.9,328.4L520.4,323.1L520.3,323L514.2,323.8L514.1,328.7ZM526.2,328.5L527.2,327.7L526.9,326.2L526.5,323.4L525.9,321.6L520.4,323.1L520.9,328.4ZM461.7,333.1L468.1,335.3L469.5,334.4L467.9,329.3L461.9,330.8ZM467.9,329.3L469.5,334.4L472.3,334.2L474.3,329.3L468.2,328.9ZM474.3,329.3L472.3,334.2L474.7,337L480.5,334.3L480.5,330.8L479,329.1L474.5,329.1ZM480.5,334.3L482.4,336.5L487,337.2L489.3,335.3L487.3,329.3L480.5,330.8ZM487.3,329.3L489.3,335.3L492.8,335.6L493.9,334.6L494.7,330.1L494.1,329.3L487.8,328.1ZM493.9,334.6L500.6,334.4L501.7,329.7L500.6,328.9L494.7,330.1ZM506.6,328.7L501.7,329.7L500.6,334.4L501,335.2L507,336.9L508.9,334.4ZM506.6,328.6L506.6,328.7L508.9,334.4L513.3,334.7L515.4,330.4L514.1,328.7ZM513.3,334.7L514.2,336L520,336.7L522.2,335.3L519.9,330L515.4,330.4ZM519.9,330L522.2,335.3L524.5,336L526.1,335.4L526.2,328.5L520.9,328.4ZM526.2,328.5L526.1,335.4L529.1,335.5L528.3,333.9L527.9,331.5L527.4,329L527.2,327.7ZM461.8,341.1L464,341.2L466.9,341.4L467.1,341.4L468.1,335.3L461.7,333.1L460.8,334.3ZM469.5,334.4L468.1,335.3L467.1,341.4L469.8,341.5L472.7,341.7L474.5,341.7L474.7,337L472.3,334.2ZM474.5,341.7L475.6,341.8L478.5,341.9L480.1,342L482.4,336.5L480.5,334.3L474.7,337ZM487.3,341.5L487,337.2L482.4,336.5L480.1,342L481.4,342L483.9,342.1ZM495.3,341.3L492.8,335.6L489.3,335.3L487,337.2L487.3,341.5L487.7,342.3L487.8,342.3ZM492.8,335.6L495.3,341.3L496.6,342.5L498.8,342.6L499.1,342.6L501,335.2L500.6,334.4L493.9,334.6ZM507.1,340.8L507,336.9L501,335.2L499.1,342.6L501.7,342.7L504.6,342.7L505.2,342.7ZM508.9,334.4L507,336.9L507.1,340.8L513.5,342.3L514.2,336L513.3,334.7ZM514,342.9L516.3,342.9L518.5,342.9L520,336.7L514.2,336L513.5,342.3ZM524.7,341.9L524.5,336L522.2,335.3L520,336.7L518.5,342.9L519.2,342.9L522.1,342.9L523.9,342.9ZM524.7,341.9L533.3,342.4L530.9,339L529.6,336.5L529.1,335.5L526.1,335.4L524.5,336ZM483.9,342.1L484.3,342.2L487.2,342.3L487.7,342.3L487.3,341.5ZM495.3,341.3L487.8,342.3L490.1,342.4L493,342.4L495.9,342.5L496.6,342.5ZM513.5,342.3L507.1,340.8L505.2,342.7L507.6,342.8L510.5,342.8L513.4,342.9L514,342.9ZM524.7,341.9L523.9,342.9L525,342.9L527.9,342.9L530.8,342.9L533.7,342.9L533.3,342.4ZM456.7,344L463.3,345.1L464,344.6L463.4,341.2L461.1,341L458.2,340.9L455.3,340.7L455.2,341.8ZM464,344.6L468.9,344.7L469.6,343.9L469.9,341.5L469.8,341.5L466.9,341.4L464,341.2L463.4,341.2ZM476.1,341.8L475.6,341.8L472.7,341.7L469.9,341.5L469.6,343.9L475.8,343.6ZM482.3,345.2L481.8,342.1L481.4,342L478.5,341.9L476.1,341.8L475.8,343.6L477.5,345.7ZM482.3,345.2L482.4,345.3L487.7,344.1L488.1,342.3L487.2,342.3L484.3,342.2L481.8,342.1ZM495.6,345.2L495,342.5L493,342.4L490.1,342.4L488.1,342.3L487.7,344.1L488.8,345.4L494,347ZM495.6,345.2L501,345.1L503,342.7L501.7,342.7L498.8,342.6L495.9,342.5L495,342.5ZM507.2,343.9L512.3,346.6L514.5,343.9L514.3,342.9L513.4,342.9L510.5,342.8L507.6,342.8L506.4,342.8ZM514.5,343.9L518.8,344L519.3,342.9L519.2,342.9L516.3,342.9L514.3,342.9ZM524.3,346.2L526.1,344.4L525.9,342.9L525,342.9L522.1,342.9L519.3,342.9L518.8,344L520.4,346.5ZM531,346L531.9,345L531.7,342.9L530.8,342.9L527.9,342.9L525.9,342.9L526.1,344.4ZM531.9,345L535.8,344.2L533.7,342.9L531.7,342.9ZM455.2,350.3L456.7,344L455.2,341.8L455,344.5L454.8,348.4L454.7,350.4ZM463.3,345.1L456.7,344L455.2,350.3L456.2,350.9L462.2,351ZM469.1,351.8L470.8,349.7L468.9,344.7L464,344.6L463.3,345.1L462.2,351L463.5,352.7ZM475.5,350.2L477.5,345.7L475.8,343.6L469.6,343.9L468.9,344.7L470.8,349.7L475.1,350.4ZM483,349.6L482.4,345.3L482.3,345.2L477.5,345.7L475.5,350.2L481.2,351.4ZM488.8,345.4L487.7,344.1L482.4,345.3L483,349.6L487.3,351.7ZM487.7,352.4L494.2,350.2L494,347L488.8,345.4L487.3,351.7ZM494.5,350.6L500.1,351.5L501.7,349.5L501,345.1L495.6,345.2L494,347L494.2,350.2ZM501,345.1L501.7,349.5L505.8,350.5L507.2,343.9L506.4,342.8L504.6,342.7L503,342.7ZM512.3,346.6L507.2,343.9L505.8,350.5L507.2,351.9L510.7,351.9L512.6,348.9ZM518.8,350.4L520.4,346.5L518.8,344L514.5,343.9L512.3,346.6L512.6,348.9ZM524.3,352.3L525.6,351.2L524.3,346.2L520.4,346.5L518.8,350.4L519.5,352ZM531.2,350.3L531,346L526.1,344.4L524.3,346.2L525.6,351.2L530.3,351.4ZM531.9,345L531,346L531.2,350.3L535.6,351.1L536.6,350.3L536.2,349.7L537.3,347.9L536.9,344.9L536.1,344.4L535.8,344.2ZM537.3,347.9L538.5,345.9L536.9,344.9ZM456.2,350.9L455.2,350.3L454.7,350.4L454.6,352.3L454.3,356.1L454.2,358.2L456.4,358.9L457.4,358.2ZM462.8,357.7L463.5,352.7L462.2,351L456.2,350.9L457.4,358.2ZM463.1,358.1L469.9,358.6L470.7,357.4L469.1,351.8L463.5,352.7L462.8,357.7ZM475.1,350.4L470.8,349.7L469.1,351.8L470.7,357.4L475.2,356.1L475.9,355.5ZM481.2,355.8L481.2,351.4L475.5,350.2L475.1,350.4L475.9,355.5L480.1,356.8ZM487.4,355.9L487.7,352.4L487.3,351.7L483,349.6L481.2,351.4L481.2,355.8ZM494.5,350.6L494.2,350.2L487.7,352.4L487.4,355.9L487.5,356L493.8,358.1L494.4,357.5ZM500.8,356.4L500.1,351.5L494.5,350.6L494.4,357.5ZM511.3,358.1L512.3,355.8L510.7,351.9L507.2,351.9L503.7,357.3L505.4,358.2ZM519.5,352L518.8,350.4L512.6,348.9L510.7,351.9L512.3,355.8L518.2,355.8ZM519.5,358.1L525,356.7L524.3,352.3L519.5,352L518.2,355.8ZM525,356.7L526.6,357.8L530.5,356.9L530.3,351.4L525.6,351.2L524.3,352.3ZM454.2,358.2L454.1,360L453.8,363.7L456,364L456.4,358.9ZM456.4,358.9L456,364L456.3,364.7L463.3,365L463.5,364.8L463.1,358.1L462.8,357.7L457.4,358.2ZM468.9,364.4L471.2,363L469.9,358.6L463.1,358.1L463.5,364.8ZM475.2,356.1L470.7,357.4L469.9,358.6L471.2,363L474.8,364.4L475.7,363.8ZM480.1,356.8L475.9,355.5L475.2,356.1L475.7,363.8L480.4,362.4ZM482,363.2L485.9,361.4L487.5,356L487.4,355.9L481.2,355.8L480.1,356.8L480.4,362.4ZM493.8,358.1L487.5,356L485.9,361.4L489.7,363.9L494,363.7ZM500.4,363.5L501.1,363.1L502.4,357.5L500.8,356.4L494.4,357.5L493.8,358.1L494,363.7ZM512,361.3L511.3,358.1L505.4,358.2L507.4,363.8ZM518.4,362.4L519.3,361.7L519.5,358.1L518.2,355.8L512.3,355.8L511.3,358.1L512,361.3L513.1,362.2ZM519.3,361.7L523.5,363.5L525.3,362.5L526.6,357.8L525,356.7L519.5,358.1ZM537.4,356.7L532.2,358.3L532.1,362.9L536,364.6L538.6,363.5ZM454.9,369.3L457.5,371.1L463.4,368L463.3,365L456.3,364.7ZM463.3,365L463.4,368L469.3,370.6L468.9,364.4L463.5,364.8ZM474.8,364.4L471.2,363L468.9,364.4L469.3,370.6L470.1,371.7L475.1,369.3ZM475.7,363.8L474.8,364.4L475.1,369.3L475.4,369.5L482.3,369.9L483.7,368.9L482,363.2L480.4,362.4ZM485.6,369.4L489.7,363.9L485.9,361.4L482,363.2L483.7,368.9ZM487.2,370.8L492.6,369.8L494.2,367.5L494,363.7L489.7,363.9L485.6,369.4ZM494.2,367.5L499.4,370.6L500.8,369.9L500.4,363.5L494,363.7ZM513.5,369.5L517.5,368.3L518.4,362.4L513.1,362.2L512.4,368.5ZM519.1,369.3L524.1,368.3L523.5,363.5L519.3,361.7L518.4,362.4L517.5,368.3ZM469.3,370.6L463.4,368L463.7,374.5L468.5,374.9L469.3,374.3L470.1,371.7ZM475.1,369.3L470.1,371.7L469.3,374.3L476.1,378.1L477.3,376.9L475.4,369.5ZM475.4,369.5L477.3,376.9L480.7,376.4L482.3,369.9ZM480.7,376.4L482.2,377.2L487.6,374.3L487.2,370.8L485.6,369.4L483.7,368.9L482.3,369.9ZM487.6,374.3L489.7,376.6L492.5,376.9L494.2,375.6L492.6,369.8L487.2,370.8ZM494.2,367.5L492.6,369.8L494.2,375.6L497.9,375.8L499.4,370.6ZM468.1,380.9L468.5,374.9L463.7,374.5L461.8,375.7L462.5,381.5ZM469.3,374.3L468.5,374.9L468.1,380.9L469.3,381.9L475.1,381.9L476.1,378.1ZM477.3,376.9L476.1,378.1L475.1,381.9L475.5,382.6L481.6,383.7L483.9,380.5L482.2,377.2L480.7,376.4ZM483.9,380.5L486.7,381L489.7,376.6L487.6,374.3L482.2,377.2ZM493.1,383.5L493.2,383.3L492.5,376.9L489.7,376.6L486.7,381L488.1,382.8ZM469.3,381.9L468.1,380.9L462.5,381.5L461.9,382.3L462.7,387.6L464.3,387.7L467.3,387.9L468,387.9ZM475.5,382.6L475.1,381.9L469.3,381.9L468,387.9L470.3,388L473.3,388.2L475,388.3ZM482.8,387.1L481.6,383.7L475.5,382.6L475,388.3L476.3,388.3L479.3,388.4L482.1,388.5ZM482.8,387.1L486.4,386.8L488.1,382.8L486.7,381L483.9,380.5L481.6,383.7ZM488.4,388.8L491.3,388.9L493.1,388.9L493.1,383.5L488.1,382.8L486.4,386.8ZM493.1,388.9L494.3,388.9L497.4,389L499.1,389.1L499.5,382.9L498.8,382.2L493.2,383.3L493.1,383.5ZM450.7,390.8L455.8,390.2L456.8,387.3L455.3,387.2L452.3,387L450.2,386.9ZM463,390.7L463.9,391.4L470.5,389.6L470.4,388L470.3,388L467.3,387.9L464.3,387.7L463.4,387.7ZM470.5,389.6L471.6,391.3L477.9,390.8L477.4,388.4L476.3,388.3L473.3,388.2L470.4,388ZM443.3,391.5L442.4,390.9L440.5,390.9L440.3,394L443.3,394.2ZM450.7,390.8L443.3,391.5L443.3,394.2L446.4,394.4L449.4,394.6L451,394.7ZM458.4,392.1L455.8,390.2L450.7,390.8L451,394.7L452.5,394.8L455.5,395L458.6,395.2ZM458.6,395.2L461.6,395.3L464.6,395.5L465.6,395.6L463.9,391.4L463,390.7L458.4,392.1ZM463.9,391.4L465.6,395.6L467.7,395.7L470.7,395.8L471.6,391.3L470.5,389.6ZM470.7,395.8L473.8,396L476.8,396.1L476.8,396.6L477.4,396.6L479,391.6L477.9,390.8L471.6,391.3ZM479,391.6L477.4,396.6L478.8,398.7L484,398.2L483.1,391.2ZM477.5,403.9L478.8,398.7L477.4,396.6L476.8,396.6L476.7,399.8L476.5,403.6L476.5,403.8ZM477.5,403.9L476.5,403.8L476.4,407.3L476.2,410.6L478,410.8L478.7,410.3L478.7,405.1ZM476.1,417.8L478,410.8L476.2,410.6L476.2,411.1L476.1,414.8L475.9,417.8ZM478,410.8L476.1,417.8L478.2,419.3L482.9,417.9L483.3,412L478.7,410.3ZM478.4,423.3L478.2,419.3L476.1,417.8L475.9,417.8L475.9,418.6L475.7,422.3L475.7,424.3ZM536.9,437.2L538.3,438L540.9,439.5L542.9,440.4L544.9,441.2L544.9,440.2L538.4,435.4ZM457.3,395.1L455.5,395L452.5,394.8L449.4,394.6L447.4,394.5L448.3,395.3ZM441.5,402.4L441.8,402.1L442.7,394.1L440.3,394L440,397.8L439.6,401.7L439.6,402.2ZM441.8,402.1L448.9,404.2L451,401.2L448.3,395.3L447.4,394.5L446.4,394.4L443.3,394.2L442.7,394.1ZM448.3,395.3L451,401.2L454.7,401.5L458.5,395.2L457.3,395.1ZM463.1,403.6L464.2,401.6L462.2,395.4L461.6,395.3L458.6,395.2L458.5,395.2L454.7,401.5L456.6,403.7ZM464.2,401.6L469.7,401.7L470.3,395.8L467.7,395.7L464.6,395.5L462.2,395.4ZM469.7,401.7L471.2,402.5L476.6,402L476.7,399.8L476.8,396.1L473.8,396L470.7,395.8L470.3,395.8ZM440.1,410.6L441.5,402.4L439.6,402.2L439.3,405.5L439,409.4L438.8,411.8ZM441.5,402.4L440.1,410.6L448.7,409.2L449.1,409L448.9,404.2L441.8,402.1ZM449.1,409L454.9,410.8L456.6,403.7L454.7,401.5L451,401.2L448.9,404.2ZM469.9,410.3L471.2,402.5L469.7,401.7L464.2,401.6L463.1,403.6L463.8,409.1L468.9,410.9ZM476.3,410.2L476.4,407.3L476.5,403.6L476.6,402L471.2,402.5L469.9,410.3ZM447.6,418.4L447.8,418.3L448.7,409.2L440.1,410.6L438.8,411.8L438.7,412.6L442.3,417.1ZM463.3,409.5L455.1,411L455.6,417.2L455.8,417.4L461.9,417.1ZM469.3,417.6L468.9,410.9L463.8,409.1L463.3,409.5L461.9,417.1L464.2,418.6ZM469.9,410.3L468.9,410.9L469.3,417.6L469.8,418L475.9,418L476.1,414.8L476.2,411.1L476.3,410.2ZM456,422.4L455.8,417.4L455.6,417.2L447.8,418.3L447.6,418.4L447.8,423.3L450,425.1ZM458.4,425.4L461.7,425.4L463,423.9L464.2,418.6L461.9,417.1L455.8,417.4L456,422.4ZM470,424.4L469.8,418L469.3,417.6L464.2,418.6L463,423.9ZM469.8,418L470,424.4L470.4,425.2L475.6,425.4L475.7,422.3L475.9,418.6L475.9,418ZM450,425.1L447.8,423.3L442.5,425.9L442.1,430.6L447.6,432.2L450.5,430.8ZM461.7,425.4L458.4,425.4L456.3,429.7L462.7,433.3L464.7,429.8ZM470.4,425.2L470,424.4L463,423.9L461.7,425.4L464.7,429.8L468.9,429.4ZM471.3,432.5L476.8,432L476.5,426.8L475.6,426.1L475.6,425.4L470.4,425.2L468.9,429.4ZM447.6,432.2L442.1,430.6L441.4,431L439.8,439.8L440.2,440.2L447.4,439.3ZM448.6,440.3L455.6,438.7L456,438.2L453.6,431.7L450.5,430.8L447.6,432.2L447.4,439.3ZM462.7,433.3L456.3,429.7L453.6,431.7L456,438.2L460.6,438.3L462.7,436.6ZM464.7,429.8L462.7,433.3L462.7,436.6L468.8,437.9L469.3,437.6L471.3,432.5L468.9,429.4ZM477,432.2L476.8,432L471.3,432.5L469.3,437.6L476.4,440.3L478.1,438ZM448.9,446.7L449.1,446.8L455.3,446.2L455.6,438.7L448.6,440.3ZM455.6,438.7L455.3,446.2L455.7,446.5L463,446.6L460.6,438.3L456,438.2ZM460.6,438.3L463,446.6L463.3,446.9L468.2,445.4L468.8,437.9L462.7,436.6ZM476.4,440.3L469.3,437.6L468.8,437.9L468.2,445.4L469.7,446.1L475.3,445.9L476.5,444.3ZM449.1,446.8L448.9,446.7L442.5,447.7L441.7,451.5L449.4,454.5L450.2,453.8ZM455.3,446.2L449.1,446.8L450.2,453.8L455.2,454L455.7,453.6L455.7,446.5ZM470.2,453.3L469.7,446.1L468.2,445.4L463.3,446.9L462.9,453L463.6,454.1L468.9,454.1ZM444.4,460.2L440.3,453.3L435.3,454.4L435.2,455.6L434.9,458.1L442.4,461.3ZM441.7,451.5L440.3,453.3L444.4,460.2L447.2,460.5L449.4,454.5ZM456.2,459.9L455.2,454L450.2,453.8L449.4,454.5L447.2,460.5L447.6,460.9L454.5,461.7ZM455.2,454L456.2,459.9L462.1,460.2L463.2,459.3L463.6,454.1L462.9,453L455.7,453.6ZM468.9,454.1L463.6,454.1L463.2,459.3L470.1,462.5L471.2,461.2ZM422.2,465.2L428.6,466.8L428.8,466.7L428.7,462.8L428.4,462.8L425.3,462.5L422.2,462.3L421.7,462.2ZM428.8,466.7L433.6,467.6L435.4,466L434.8,460.1L434.5,463.3L431.4,463L428.7,462.8ZM435.4,466L439.4,465.8L442.4,461.3L434.9,458.1L434.8,459.4L434.8,460.1ZM447.6,460.9L447.2,460.5L444.4,460.2L442.4,461.3L439.4,465.8L442.3,469.2L447.9,466.2ZM405.4,473.4L406.8,468.9L406.6,468.7L398.7,466.5L398.3,472.6L399.3,473.6ZM419.1,475.4L420.3,474.1L419,468.6L413.4,466.2L411.6,467.6L413.8,474.8L414.9,475.5ZM442.3,469.2L439.4,465.8L435.4,466L433.6,467.6L434.7,472.8L442,474.2L442.2,474ZM457.1,468.3L456.2,467.5L449.4,467.9L448.9,474L449.7,474.7L455.8,474.6L456.6,473.7ZM464.6,468.4L461.3,466.8L457.1,468.3L456.6,473.7L464.5,474.9ZM470.1,466.4L464.6,468.4L464.5,474.9L464.7,475.2L469.2,476.2L469.8,475.5L471.5,467.7ZM476.5,468.8L471.5,467.7L469.8,475.5L477.6,474.4L477.8,474.2L477.2,469.4ZM406.1,474.8L405.4,473.4L399.3,473.6L400.2,474.5L402.6,476.9L405,479.4L406.4,480.8ZM410.6,482.3L414.9,475.5L413.8,474.8L406.1,474.8L406.4,480.8L406.6,481ZM420.8,483.5L425.4,482.9L427.3,480.8L427.2,476L425.3,474.3L420.3,474.1L419.1,475.4L419.3,481.7ZM435.3,480.6L433,475.2L427.2,476L427.3,480.8L432.7,482.8ZM434.7,472.8L433,475.2L435.3,480.6L441,481.3L442,474.2ZM448.7,482.4L449.7,474.7L448.9,474L442.2,474L442,474.2L441,481.3L441.4,481.8L448.5,482.7ZM455.8,474.6L449.7,474.7L448.7,482.4L455.9,482L457,480.9ZM456.6,473.7L455.8,474.6L457,480.9L461.7,481.7L464.7,475.2L464.5,474.9ZM464.7,475.2L461.7,481.7L462.8,483L470.3,483.4L471.2,482.3L469.2,476.2ZM477.7,480.9L477.6,474.4L469.8,475.5L469.2,476.2L471.2,482.3L476.5,481.7ZM412.4,487.6L411.7,483.5L410.6,482.3L406.6,481L407.4,481.8L409.1,485.1L410.8,488.3L410.6,490.3ZM411.7,483.5L412.4,487.6L418.6,489.2L419.9,488.1L420.8,483.5L419.3,481.7ZM438.7,489.4L440.2,487.6L441.4,481.8L441,481.3L435.3,480.6L432.7,482.8L432.5,488.7L433.5,489.3ZM441.4,481.8L440.2,487.6L448.2,490.3L449.3,488.6L448.5,482.7ZM455.9,482L448.7,482.4L448.5,482.7L449.3,488.6L456,488.8ZM470.3,483.4L462.8,483L461.8,489.2L462.5,490L469.1,490.2L470.3,489.1ZM471.2,482.3L470.3,483.4L470.3,489.1L477.1,491.3L477.8,490.5L476.5,481.7ZM417.9,496L418.6,489.2L412.4,487.6L410.6,490.3L410.5,491.4L412.1,495.4L412.4,496.1ZM440.7,495.6L438.7,489.4L433.5,489.3L433.4,496.6ZM449.3,488.6L448.2,490.3L447.9,495.2L449.8,496.8L455.2,495.9L456.2,489L456,488.8ZM468.4,496.5L469,495.7L469.1,490.2L462.5,490L461.6,496.5L463.9,497.8ZM477.7,495.7L477.1,491.3L470.3,489.1L469.1,490.2L469,495.7L476.6,496.7ZM477.8,490.5L477.1,491.3L477.7,495.7L483.1,497.8L485.3,488.6L484.5,487.8ZM417.9,496L412.4,496.1L413.8,499.4L416.3,501L418.9,502.7L419.8,503.3L418.9,496.8ZM425.8,503.8L427.1,496.4L426,494.9L418.9,496.8L419.8,503.3L421.2,504.2ZM471.7,503.8L468.4,496.5L463.9,497.8L464.5,501.9L471.4,504.1ZM474.3,502.9L476.6,496.7L469,495.7L468.4,496.5L471.7,503.8ZM483.1,497.8L477.7,495.7L476.6,496.7L474.3,502.9L476.9,504.4L484,501.1L483.8,498.5ZM462.8,508.1L462,505.4L457.4,503.1L459.5,505.6L461.2,507.7L462.2,508.8ZM471.4,504.1L464.5,501.9L462,505.4L462.8,508.1L469.6,509.3ZM470.7,511.9L475.5,511.6L478.9,508.3L476.9,504.4L474.3,502.9L471.7,503.8L471.4,504.1L469.6,509.3ZM476.9,504.4L478.9,508.3L484.4,509.6L485.7,503.9L484,501.1ZM469.9,515L470.7,511.9L469.6,509.3L462.8,508.1L462.2,508.8L462.9,509.7L464,512.8L465.1,515.9L465.1,516ZM469.9,515L471.4,518.3L477.2,518.3L479.3,515.9L475.5,511.6L470.7,511.9ZM478.9,508.3L475.5,511.6L479.3,515.9L482.4,515.4L484.7,510.2L484.4,509.6ZM470,525.5L471.4,518.3L469.9,515L465.1,516L466.3,519.2L467.5,522.4L469.8,525.7ZM477.3,525.9L479.3,523.8L477.2,518.3L471.4,518.3L470,525.5ZM485,520L482.4,515.4L479.3,515.9L477.2,518.3L479.3,523.8L484,522.9ZM490,526L493.5,522.7L492,518.9L491.1,518.3L485,520L484,522.9L484.9,524.1ZM499.2,515.2L492,518.9L493.5,522.7L498.5,524.9L499.9,516.2ZM508.3,516.1L506.2,518.7L506.6,524L512.1,525L515.9,517.6L514.4,516.7ZM515.9,517.6L512.1,525L513.5,526.8L515.5,525.3L518.9,522.7L517.6,518.8L519.6,519.6L520.6,520L519.1,517.1ZM479.8,532L477.3,525.9L470,525.5L469.8,525.7L470.3,526.4L473.2,530.3L475.5,532.6L477.8,534.7ZM492.2,532.4L497,531.1L498.5,529.2L499.4,526L498.5,524.9L493.5,522.7L490,526L490.7,531.6ZM512.1,525L506.6,524L505.8,524.6L506.6,530.9L509.3,531L512.1,528L513.5,526.8ZM479.8,532L477.8,534.7L477.8,534.8L478,536.5L484.1,540.2L485.6,539.6L485.7,532.4L484.1,531.6ZM504.8,533.1L504.9,538.6L505.3,538.8L507.3,538.7L507.9,535.5L506.9,533.2L506.2,531.5ZM481.6,545.4L484.1,540.2L478,536.5L478.1,537.1L478.4,539.4L479.6,542.1L480.9,544.8L481.1,545.5ZM497.5,541L492,539.8L490.2,540.9L489.8,547L492.5,548.6L497.9,544.4ZM481.6,545.4L481.1,545.5L481.8,548.1L482.8,551.4L484.8,551.9L485.5,552L486.2,548.7ZM491.7,555L494.6,552.9L492.5,548.6L489.8,547L486.2,548.7L485.5,552L486.9,552.3L489.7,554.1ZM498.8,554.1L499.5,553.7L500.8,547.6L497.9,544.4L492.5,548.6L494.6,552.9ZM505.5,546.4L507.7,553.2L508.5,553.2L508.3,552L507.7,549.3L507.1,546.3ZM491.7,555L489.7,554.1L490.3,554.5L491.6,555.3ZM498.8,554.1L494.6,552.9L491.7,555L491.6,555.3L493.7,556.6L496.5,557L498.5,557.4ZM526.9,206.4L526.7,204.8L524.9,204.8L522.6,204.8L520.2,204.7L519,204.7L518.5,207.5L520.2,208.6ZM526.9,206.4L528.3,207.8L533.6,207.1L536.3,199.1L534.3,199L534.3,201.8L534.3,204.7L532,204.7L529.6,204.8L527.3,204.8L526.7,204.8ZM533.6,207.1L534.7,208.6L539.1,207.9L538.9,205.4L538.3,202.8L537.6,200.1L536.3,199.1ZM519.4,216L522.1,214L520.2,208.6L518.5,207.5L513.6,209L513.9,212.3L514.2,215.2L514.4,216.6ZM534.7,208.6L535.8,214.1L541.9,214L542.6,213.3L542.4,209.3L541.4,208.9L539.2,208L539.1,207.9ZM520.5,223.5L522.3,222.2L519.4,216L514.4,216.6L514.6,218.1L515,221.1L515.3,222.2ZM542.5,219.7L541.9,214L535.8,214.1L535.2,214.6L534.1,221.7L534.5,222.1L539.7,223ZM548.9,221.3L550.4,215.8L547.3,213.5L542.6,213.3L541.9,214L542.5,219.7ZM562,214.2L561.3,212.9L554.6,213.9L554.1,214.6L557.7,221.6L562,220.8ZM581.4,216.8L579.9,216.9L578.7,215L577,216.1L576.9,216.1L576.1,221.3L576.9,222.7L580.9,223.2L582.4,221.2ZM586.1,221.3L586.7,221.1L588.9,220.2L589.8,219.6L589.3,217.9L588.2,217.9L586.4,217.3L584.5,216.6L582.2,216.8L581.4,216.8L582.4,221.2ZM589.8,219.6L590.9,218.9L592.9,217.6L590.5,217.8L589.3,217.9ZM561.8,230.1L569.4,227.2L567.7,222.1L563.1,221.5L561.3,229.6ZM582.4,221.2L580.9,223.2L581.4,224.3L582.6,223.4L584.5,222L586.1,221.3ZM574.7,228.4L569.5,227.3L568.1,235L568.9,235.9L569.5,235.4L571.1,233.8L573.1,231.8L575.1,229.8L575.6,229.4ZM526.4,237.2L527.7,241.8L528.6,243L534,241.8L534.1,236.2L529.1,234.7ZM534,241.8L528.6,243L527.4,248.7L535,249.2L536.7,243.3ZM541,242.9L542.8,247.7L548.9,249L548.3,242.3ZM520.9,257.1L526.6,258.1L528.2,255L526.8,249.4L519.5,249.1L519.7,251.4L519.2,253.5L518.7,254.1ZM535,249.2L527.4,248.7L526.8,249.4L528.2,255L535,256L536.4,251.3ZM536.4,251.3L535,256L535.4,256.7L541.3,258.9L543.3,255.7L540.8,250.8ZM548.9,249L542.8,247.7L540.8,250.8L543.3,255.7L548.4,254.4ZM548.9,249L548.4,254.4L550,255.9L553.6,256.3L556.5,249.9L554.8,247.7L548.9,249ZM520.9,257.1L518.7,254.1L516.5,256.5L518.7,259.6L519.6,260.3ZM526.1,263.2L527.1,261.3L526.6,258.1L520.9,257.1L519.6,260.3L520.8,261.2L520.8,263.9ZM535.4,256.7L535,256L528.2,255L526.6,258.1L527.1,261.3L533.2,262.2ZM541.4,263.3L542.2,262.4L541.3,258.9L535.4,256.7L533.2,262.2L535.1,265.4ZM554.2,256.9L556,261.9L560.8,262.5L561,261.7L561.7,259L560.4,256.8L559.8,255.6ZM526.1,263.2L520.8,263.9L520.8,264.6L520.8,268.1L520.8,269.2L526.3,269.3L527.4,268ZM533.9,269L535.1,265.4L533.2,262.2L527.1,261.3L526.1,263.2L527.4,268ZM533.9,269L534,269.2L541,271.4L541.6,270.7L541.4,263.3L535.1,265.4ZM541.4,263.3L541.6,270.7L547.6,269.6L548.2,264.1L548.1,264L542.2,262.4ZM552.9,264.3L548.2,264.1L547.6,269.6L548.8,271.6L555.6,270.4ZM522.1,276.3L526,276.4L526.3,269.3L520.8,269.2L520.8,271.5L520.8,275L520.7,275.6ZM526.3,269.3L526,276.4L526.3,276.7L533,275.2L534,269.2L533.9,269L527.4,268ZM556.8,274.8L556.1,270.7L555.6,270.4L548.8,271.6L548.2,276.7L548.8,277.4L555.3,276.3ZM563.3,271.7L562,270.5L560.4,269L560.4,268.2L556.1,270.7L556.8,274.8L562.1,276.6ZM571.9,277.5L571.3,276.9L569,274.4L568.7,274.3L568.1,277.1L568.7,277.7ZM522.1,276.3L520.7,275.6L520.7,278.5L520.7,280.7ZM526,276.4L522.1,276.3L520.7,280.7L520.7,281.9L520.7,284.5L521.5,284.9L527.1,283L527.2,282.8L526.3,276.7ZM526.3,276.7L527.2,282.8L533.4,283L535.3,277.5L533,275.2ZM533.4,283L534.5,284.6L540.8,285.2L541.4,284L539.9,277.5L535.3,277.5ZM548.8,277.4L548.2,276.7L541.3,276.1L539.9,277.5L541.4,284L548.6,282.4L548.9,282.1ZM548.8,277.4L548.9,282.1L555.7,283.5L556.4,282.8L555.3,276.3ZM568.7,277.7L569.6,283.2L574.7,282.8L575.3,280.7L573.5,279.3L571.9,277.5ZM521.5,284.9L520.7,284.5L520.7,285.4L520.7,288.9L522,288.9ZM527.1,283L521.5,284.9L522,288.9L523.4,288.9L526.2,288.9L528.2,288.9ZM534.5,284.6L533.4,283L527.2,282.8L527.1,283L528.2,288.9L529,288.9L531.7,288.8L533.2,288.8ZM540.8,285.2L534.5,284.6L533.2,288.8L534.5,288.8L537.2,288.8L540,288.8L541.4,288.7ZM541.4,284L540.8,285.2L541.4,288.7L542.7,288.7L545.5,288.7L548.3,288.6L549.1,288.6L548.6,282.4ZM562.5,283.5L561.7,282.2L556.4,282.8L555.7,283.5L555.6,288.4L556.5,288.4L559.3,288.3L562,288.2L562.1,288.2ZM568.9,284.1L562.5,283.5L562.1,288.2L564.8,288.1L567.5,288L569.2,288ZM576.4,285L574.7,282.8L569.6,283.2L568.9,284.1L569.2,288L570.3,287.9L573.1,287.8L575.7,287.7ZM576.4,285L575.7,287.7L575.8,287.7L578.6,287.5L578.3,285.2L578.2,284.7ZM522.1,289.2L522.4,288.9L520.7,288.9L519,288.8L519.3,290ZM527.5,289.9L532.2,291.7L533.5,290.6L533.4,288.8L531.7,288.8L529,288.9L526.7,288.9ZM533.5,290.6L536.5,290.3L536.9,288.8L534.5,288.8L533.4,288.8ZM536.5,290.3L538.5,291.4L542.6,288.7L540,288.8L537.2,288.8L536.9,288.8ZM554.3,291.2L557.9,290.3L557.9,288.4L556.5,288.4L553.8,288.5L551.2,288.6ZM557.9,290.3L559.1,290.9L562.7,288.8L562.7,288.2L562,288.2L559.3,288.3L557.9,288.4ZM568.6,288L567.5,288L564.8,288.1L562.7,288.2L562.7,288.8L565,290.3L568.5,288.9ZM574.9,290.7L575.3,290.4L574.1,287.7L573.1,287.8L570.3,287.9L568.6,288L568.5,288.9L568.9,289.3ZM575.3,290.4L578.8,289.3L578.6,287.5L575.8,287.7L574.1,287.7ZM519.3,290L519.8,291.9L520.6,294.8L521.7,295L522.1,289.2ZM521.7,295L521.7,295.1L525.6,295.9L527.5,289.9L526.7,288.9L526.2,288.9L523.4,288.9L522.4,288.9L522.1,289.2ZM531.4,296.3L532.4,295.1L532.2,291.7L527.5,289.9L525.6,295.9L526.1,296.4ZM539,294.1L538.5,291.4L536.5,290.3L533.5,290.6L532.2,291.7L532.4,295.1L536.3,296.5ZM544.1,293.6L548.1,294.7L549.9,288.6L548.3,288.6L545.5,288.7L543.4,288.7ZM548.1,294.7L553.2,295.8L554.1,295.3L554.3,291.2L551.2,288.6L551,288.6L549.9,288.6ZM562.7,288.8L559.1,290.9L560,293.6L564.4,295L565,290.3ZM568.5,288.9L565,290.3L564.4,295L564.4,295.1L568.9,294.5L569.3,294.2L568.9,289.3ZM569.3,294.2L574.1,294.4L574.9,290.7L568.9,289.3ZM575.3,290.4L574.9,290.7L574.1,294.4L574.4,294.9L580.2,297.4L580.1,296.7L579.7,294.4L579.1,291L578.8,289.3ZM519.7,300.3L521.7,295.1L521.7,295L520.6,294.8L520.7,295L519,298.9L519.3,300.4ZM526.1,296.4L525.6,295.9L521.7,295.1L519.7,300.3L521.6,301.2L525.4,301.3L525.7,300.9ZM531.4,301.6L531.4,296.3L526.1,296.4L525.7,300.9ZM531.8,302.1L537.7,300.4L536.3,296.5L532.4,295.1L531.4,296.3L531.4,301.6ZM544.1,293.6L542,295.4L542.6,299.6L546.9,300L547.1,299.8L548.1,294.7ZM548.1,294.7L547.1,299.8L551.6,300.2L553.2,295.8L548.1,294.7ZM560,293.6L557.3,297L558.7,300.3L563.7,299.9L564,299.7L564.4,295.1L564.4,295ZM564.4,295.1L564,299.7L570.1,300.6L568.9,294.5ZM568.9,294.5L570.1,300.6L570.2,300.6L572.2,300.1L574.4,294.9L574.1,294.4L569.3,294.2ZM574.4,294.9L572.2,300.1L574.3,301.2L580.4,299.2L580.5,299L580.2,297.4ZM521.6,301.2L519.7,300.3L519.3,300.4L519.5,301.6L520.1,304.3L520.9,306.6L521.5,308.2L521.9,307.8ZM521.6,301.2L521.9,307.8L525.7,305.9L525.4,301.3ZM525.4,301.3L525.7,305.9L526.8,306.5L531.9,305.1L531.8,302.1L531.4,301.6L525.7,300.9ZM531.8,302.1L531.9,305.1L532.2,305.6L537.8,305.8L538.1,300.7L537.7,300.4ZM542.8,306.5L541.6,300.4L538.1,300.7L537.8,305.8L537.8,305.9L542.4,307.1ZM546.9,300L542.6,299.6L541.6,300.4L542.8,306.5L547.2,304.5ZM549.5,306.3L551.4,306L552,305.3L552.7,301.5L551.6,300.2L547.1,299.8L546.9,300L547.2,304.5ZM558.1,305.7L564.3,306.1L563.7,299.9L558.7,300.3L558.2,300.9L558.1,305.6ZM570.2,300.6L570.1,300.6L564,299.7L563.7,299.9L564.3,306.1L565,306.9L569.1,306.3L569.6,305.9ZM574,307.1L575.6,305L574.3,301.2L572.2,300.1L570.2,300.6L569.6,305.9ZM585,305L585.7,305.4L588.6,305.4L585.8,302.6L584.9,301.9ZM526.9,312.5L528,311.4L526.8,306.5L525.7,305.9L521.9,307.8L521.5,308.2L521.7,308.9L522.6,311.3ZM532.2,305.6L531.9,305.1L526.8,306.5L528,311.4L531.5,310.7L532.5,309.8ZM537.8,305.8L532.2,305.6L532.5,309.8L536.5,310.9L537.8,305.9ZM542.4,307.1L537.8,305.9L536.5,310.9L537,311.6L542.8,310.2ZM547.8,310.8L548.1,311.1L553.5,312.4L554.4,310.8L551.4,306L549.5,306.3ZM558.5,309.8L563,310.2L564.4,308.9L565,306.9L564.3,306.1L558.1,305.7L557.8,309.2ZM570,311.9L569.1,306.3L565,306.9L564.4,308.9L568.5,313.1ZM526.9,316.3L527.3,315.8L526.9,312.5L522.6,311.3L523.1,312.8L524.5,316.5ZM542.8,310.2L537,311.6L536.8,316.5L537.1,316.8L542.5,315.9L542.7,315.8L543,310.4ZM542.7,315.8L547.6,317.2L548.1,311.1L547.8,310.8L543,310.4ZM553.5,312.4L548.1,311.1L547.6,317.2L548.2,317.8L552.8,316.6L553.9,314.7ZM554.4,310.8L553.5,312.4L553.9,314.7L559.5,315.5L558.5,309.8L557.8,309.2ZM559.5,315.5L560.2,316L562.8,315.5L563,310.2L558.5,309.8ZM564.7,316.3L567.3,316.1L568.5,313.1L564.4,308.9L563,310.2L562.8,315.5ZM569.2,318L573.7,317L574.4,316.3L574.7,311.9L570,311.9L568.5,313.1L567.3,316.1ZM579.7,311.1L575.3,311.2L574.7,311.9L574.4,316.3L578.9,317.7L580.6,315.5ZM527.3,315.8L526.9,316.3L526.8,321.1L527.6,321.6L531.2,320.3L532.1,316.6ZM536.8,316.5L532.8,316.2L532.1,316.6L531.2,320.3L533.4,322.1L537.3,321.2L537.1,316.8ZM537.3,321.2L538.2,322.3L542.5,322.4L542.5,315.9L537.1,316.8ZM542.5,315.9L542.5,322.4L547.8,320.8L548.2,317.8L547.6,317.2L542.7,315.8ZM552.8,316.6L548.2,317.8L547.8,320.8L548.4,321.8L554.2,322.8L555.6,321.5ZM569.2,319.8L569.2,318L567.3,316.1L564.7,316.3L563.3,322.9L563.6,323.4ZM574.9,321.5L573.7,317L569.2,318L569.2,319.8L570,321.3ZM526.8,321.1L525.8,321.3L526.5,323.4L526.9,326.2L527.2,327.7L528.8,325.7L527.6,321.6ZM533.4,322.1L531.8,325.8L533,326.8L537.3,326.6L538.2,322.3L537.3,321.2ZM538.2,322.3L537.3,326.6L537.8,327.4L541.7,328.3L543.7,326.5L542.5,322.4ZM559.7,327.3L563,326.7L563.9,325.9L563.6,323.4L563.3,322.9L558.8,320.2L556.3,321.5ZM570,321.3L569.2,319.8L563.6,323.4L563.9,325.9L568,327.1L570.1,325.9ZM573.8,326.5L575.7,322.3L574.9,321.5L570,321.3L570.1,325.9ZM574.5,327.5L579.9,326L578.6,321.7L575.7,322.3L573.8,326.5ZM532.4,332.3L533,326.8L531.8,325.8L528.8,325.7L527.2,327.7L527.4,329L527.9,331.5L528,332ZM536.1,333.7L537.8,327.4L537.3,326.6L533,326.8L532.4,332.3L534.8,333.9L536,333.9ZM542.2,331.4L541.7,328.3L537.8,327.4L536.1,333.7ZM548.2,327.7L547.5,332.3L554.3,332L551.4,327.5ZM558.1,328.7L553.5,325.9L551.4,327.5L554.3,332L556.6,333.3L556.7,333.3ZM563,326.7L559.7,327.3L558.1,328.7L556.7,333.3L558.5,333.3L561.2,333.2L563.4,333.1ZM568.5,331.1L568,327.1L563.9,325.9L563,326.7L563.4,333.1L564,333L565.6,333ZM532.4,332.3L528,332L528.3,333.9L531.1,333.9L533.8,333.9L534.8,333.9ZM554.3,332L547.5,332.3L546.8,333.6L547.5,333.6L550.3,333.5L553,333.4L555.8,333.4L556.6,333.3ZM568.5,331.1L565.6,333L566.7,332.9L569.5,332.8L570.7,332.7ZM534.2,336.5L535.2,335.8L535.4,333.9L533.8,333.9L531.1,333.9L528.3,333.9L528.8,334.9ZM535.2,335.8L539.2,336.9L540.6,335.7L540.7,333.8L539.3,333.8L536.6,333.8L535.4,333.9ZM545.3,336.3L550.1,335.9L549.9,333.5L547.5,333.6L545.2,333.7ZM550.1,335.9L551.2,336.9L555.8,334.2L555.9,333.4L555.8,333.4L553,333.4L550.3,333.5L549.9,333.5ZM555.8,334.2L557.6,336.5L560.5,337.5L562,335.9L561.2,333.2L558.5,333.3L555.9,333.4ZM566.7,335.3L566.9,335.6L572,336.5L574.1,334L573.6,332.6L572.2,332.7L569.5,332.8L567.2,332.9ZM574.1,334L578.5,335.9L578.7,335.5L576.8,334L574.9,332.5L573.6,332.6ZM533.8,341.3L534.2,336.5L528.8,334.9L529.6,336.5L530.9,339L533,341.9ZM539.2,336.9L535.2,335.8L534.2,336.5L533.8,341.3L539.8,342.3ZM544.9,340.8L544.8,336.8L540.6,335.7L539.2,336.9L539.8,342.3L540,342.5L544.6,341.1ZM551.3,340.6L551.6,340.5L551.2,336.9L550.1,335.9L545.3,336.3L544.8,336.8L544.9,340.8ZM557.6,336.5L555.8,334.2L551.2,336.9L551.6,340.5L553.9,341.4ZM560.8,342.2L561.1,341.8L560.5,337.5L557.6,336.5L553.9,341.4L554.9,342.3ZM561.1,341.8L567.2,340.9L566.9,335.6L566.7,335.3L562,335.9L560.5,337.5ZM574.1,334L572,336.5L573,340.5L578.2,339.5L577.9,338.6L578.5,335.9ZM546.9,346.2L544.6,341.1L540,342.5L539.8,345.2L540.6,346.6L545.1,348.1ZM551.3,340.6L544.9,340.8L544.6,341.1L546.9,346.2L549.1,346.1ZM561.3,345.6L560.8,342.2L554.9,342.3L554.7,346.8L555.5,348.1ZM568.5,342.2L567.2,340.9L561.1,341.8L560.8,342.2L561.3,345.6L562.2,346.7L567.3,347.6ZM571.9,341.7L568.5,342.2L567.3,347.6L572.9,347.6L574.5,346.4ZM538.5,353.1L540.6,346.6L539.8,345.2L538.3,345.8L538.5,345.9L536.2,349.7L538.4,353.1ZM549.9,352.5L550.7,351.8L549.8,346.7L549.1,346.1L546.9,346.2L545.1,348.1L545.6,352.3ZM578,407.3L576.8,412.7L584.4,412.2L583.6,407.5ZM584.4,412.2L576.8,412.7L576.5,413L577.4,417.9L578,418.7L583.2,418.5ZM589.8,414.5L588.2,412.6L584.4,412.2L583.2,418.5L583.6,418.9L589,417.8ZM593.6,420.7L595.9,417.5L594.9,414.4L589.8,414.5L589,417.8L591,420.3ZM595,414.2L594.9,414.4L595.9,417.5L597.2,417.8L599.4,416L599.9,413L600.1,411.5ZM560,425.3L559.5,426L560.9,429.7L564.8,429.2L566.3,425ZM582.6,431.2L583.6,429.8L582.8,426.1L577.5,425.1L575.6,430.4L577.5,431.9ZM585,423.6L582.8,426.1L583.6,429.8L590,430.8L590.4,427.2L587.3,423.9ZM546.8,437.7L548.5,436.3L548.2,431.3L547.4,431L545,431.5L545,434.4L545,437.7ZM583.9,437L588.4,436.2L588.7,434.1L590.4,431.4L590,430.8L583.6,429.8L582.6,431.2ZM565.6,436.1L565.4,436.2L566.6,442.1L572.2,442.1L571.5,437L571.2,436.6ZM583.8,442.4L587.5,442.1L587.8,440.4L588.3,437.2L588.4,436.2L583.9,437L583.4,437.6ZM561.3,448.4L563.6,450.5L565,449.3L565.7,442.9L560.1,441.1L558.4,442.7ZM566.6,442.1L565.7,442.9L565,449.3L571.3,447.9L572.2,442.1ZM584.4,446.8L583.2,443.7L578.4,444L577.5,447.7L579,450L581.3,449.9L582.6,449.9ZM583.2,443.7L584.4,446.8L587.3,447.5L587.3,446.6L587.3,443.5L587.5,442.1L583.8,442.4ZM577.5,447.7L572,448.4L572.6,450.3L575.2,450.2L578.2,450.1L579,450ZM584.4,446.8L582.6,449.9L584.3,449.8L587.4,449.7L587.3,447.5ZM558,453.3L557.7,450.8L556.8,450.8L553.8,450.9L550.7,451L550.7,451.5ZM583.5,451.5L585,453.1L588.7,453L588.7,452.9L587.4,449.7L584.3,449.8L583.4,449.8ZM584.8,458.9L585,453.1L583.5,451.5L576.9,454.2L576.5,454.5L576,456.6L579.3,460.5L584.2,459.6ZM585,453.1L584.8,458.9L590.9,460.2L591.4,459.5L590,456.2L588.7,453ZM585.5,465.7L584.2,459.6L579.3,460.5L578.7,462.5L583,468.3ZM588.1,465.7L589,463.5L590.9,460.2L584.8,458.9L584.2,459.6L585.5,465.7ZM582.7,469.2L585.4,472.4L585.5,472.1L586.7,469.2L587.8,466.4L588.1,465.7L585.5,465.7L583,468.3ZM575.7,239.4L575.9,239.6L580.6,240.2L581.6,239.4L579.6,239.8L580,239L580.9,235.2L579.8,234.5L578,235.3L576.2,236L575.6,236.3ZM568,244.8L569.2,243.4L569.8,240.9L568.3,238.9L566.8,238.1L564.8,239.6L565,242.6L565.1,245.3ZM587.7,243.7L589.2,245.9L594.7,246.7L596.4,245.2L594.6,244.8L592.4,244.3L590.2,243.8L588,243.3L587.8,243.1ZM581.9,245.8L583.5,251.8L587.3,251.8L589.2,245.9L587.7,243.7ZM587.3,251.8L588.6,252.8L593.7,252.6L594.3,252L594.7,246.7L589.2,245.9ZM599.6,246L599.1,245.8L596.9,245.3L596.4,245.2L594.7,246.7L594.3,252L599.1,252.7L600.2,251.7ZM600.2,251.7L604.7,251.9L605.3,251L605,247.4L604.5,247.3L601.8,246.8L599.6,246ZM601.1,262.3L601.7,258.7L600,257.5L595.1,257.8L594.3,263.2ZM613.9,269.5L618.2,270.8L618.3,269.9L618.9,267.3L619.4,264.8L618.7,264.2L617.1,264.4L616.3,265.4L614.8,267.3L613.8,268.2ZM613.6,264.7L613.6,265.6L614.1,264.6ZM569.9,271.1L569.1,271.8L568.9,274.3L569,274.4L571.3,276.9L571.4,276.9L574.2,277.4L575.6,276.4L575,270.4ZM601.4,268.7L600.7,269.2L600.6,275.5L603,277.2L606.4,276.4L606.8,276L605.1,269.5ZM574.2,277.4L571.4,276.9L573.5,279.3L574.6,280.1ZM601.3,282.2L603,277.2L600.6,275.5L595.9,276.4L594.8,278.3L595.9,282.5L599.2,283ZM608.2,282.6L612,282.4L613,276.1L611.7,275.2L606.8,276L606.4,276.4ZM617,281.7L617.1,281L617.1,278.3L617.2,276.2L613,276.1L612,282.4L612.3,282.7ZM594.6,283.9L587.4,281.7L586.4,282.8L587.4,287.9L589.5,289.5L593.2,288.4ZM612.3,282.7L613.7,287.7L615.9,287.1L615.9,286.5L616.5,283.8L617,281.7ZM580.2,296.5L581.7,289.4L580.3,287.5L578.6,287.6L579.1,291L579.7,294.4L580.1,296.6ZM599.8,294.8L599.3,294.2L595.6,294.4L594.9,295.2L594.5,299.3L595.2,299.9L599.7,299.9ZM594.6,307.9L599.1,302.2L591.7,302.8L592.4,307.2ZM591.3,323.9L590,322.5L586.7,322.1L584.6,323.5L585.3,327.4L586.6,328.1L590,327.4ZM596.9,325.2L595.3,323.5L591.3,323.9L590,327.4L591.8,330L595.6,329.5L597,327.9ZM585.3,327.4L582.3,328.6L582,329.1L580.1,331.2L581.6,332.6L586.3,333.7L586.6,328.1ZM586.6,328.1L586.3,333.7L586.5,333.9L591,333L591.8,330L590,327.4ZM595.6,329.5L591.8,330L591,333L591.4,333.5L596.6,334ZM586.3,338.4L586.5,333.9L586.3,333.7L581.6,332.6L581.1,339.1ZM596.6,334L591.4,333.5L592.4,338.9L593.1,339.4L596,338.9L596.2,338.7L597.2,334.6ZM578,337.9L577.9,338.6L578.6,340.7L579.2,342.7L579.7,345L580,344.7L580.9,339.2ZM596,338.9L593.1,339.4L592.3,343.2L596.5,345.8L597.6,344.5ZM601.7,343.1L601.2,343.7L601.6,349.7L602.3,350L605.3,349.5L606.3,344.8ZM611.7,345.7L611.9,350.2L612.6,350.9L616.6,350L616.9,344.4L613.8,343.8ZM616.6,350L618.1,350.6L622.2,348.6L621.4,345.1L617.6,344.1L616.9,344.4ZM602.3,350L601.6,349.7L598.6,349.7L596.5,354.4L596.5,354.5L601.8,355.6ZM605.3,349.5L602.3,350L601.8,355.6L602.3,356.4L606.7,354.9L606.2,350.1ZM612.4,353.4L612.6,350.9L611.9,350.2L606.2,350.1L606.7,354.9L608.3,355.9ZM616.2,356.8L619.3,355L618.1,350.6L616.6,350L612.6,350.9L612.4,353.4L613.9,355.7ZM612.9,361.8L616.4,359.7L616.2,356.8L613.9,355.7L611.2,359.5ZM595.9,360.3L595.8,360.4L596.6,364.6L601.9,364.4L601.3,359ZM601.3,359L601.9,364.4L603.6,365.4L605.5,364.7L606.5,363.8L606.6,360.7L602.2,358.1ZM612.9,361.8L612.5,364.7L618.4,365.4L619,361.7L616.4,359.7ZM662.7,310.3L662.7,307.6L660.2,308L657.6,308.4L656.6,308.5L656.6,310.3L656.7,310.4ZM668.1,306.9L667.8,306.8L665.3,307.2L662.7,307.6L662.7,310.3L663.2,310.9L667,311ZM672.1,310.9L675.7,310.7L676.1,308.5L674,308.3L672,308.2L671.9,308.2ZM675.7,310.7L677.2,312.4L680.9,310.6L681.2,309.8L681.1,309.1L679.6,309.4L676.8,309.9L676.1,308.5ZM667,311L663.2,310.9L662.3,315.2L662.7,315.8L665.9,315.9L667.6,311.6ZM681.2,309.8L680.9,310.6L682.5,314.9L684.8,314.7L686.9,311.1ZM685.7,320.4L687,321.1L690.2,320.3L691,316.3L690.6,316L686,315.8ZM671.8,320.1L671.8,320.2L669.9,324.8L670.2,325.3L676.1,324.8L676.1,321.9L675.6,321.2ZM694.8,321.1L695.7,325.1L696.4,325.5L699.5,325.3L699.2,321.4L696.1,320ZM610.8,406.7L607.8,407L605.5,409.4L606.9,412.1L610.7,411.9L611.7,408.4ZM610.7,411.9L611.6,413L615.5,414L617.5,411.9L616.6,409.1L615.6,408.4L611.7,408.4ZM616.6,409.1L617.5,411.9L621.6,412.3L622.2,411.8L620.4,406.6ZM602.2,413.8L599.9,412.7L599.9,413L599.4,416L599,416.3L600.4,418L602.4,417.8L603,417.8ZM606,413.4L606.3,415.3L607.7,417.2L610.7,415.7L611.6,413L610.7,411.9L606.9,412.1ZM597.4,418.1L599.5,418L600.4,418L599,416.3L597.6,417.4ZM607.7,417.2L606.3,415.3L603.2,417.8L605.3,417.6L607.7,417.5ZM607.7,417.2L607.7,417.5L608.2,417.4L611.1,417.2L611.6,417.2L610.7,415.7ZM597.8,420.8L602.4,421.4L603.4,417.8L602.4,417.8L599.5,418L596.6,418.2L596.2,419.3ZM608.9,421.1L608,417.5L605.3,417.6L603.4,417.8L602.4,421.4L603.7,423.5L606.4,423.2ZM602.4,421.4L597.8,420.8L597.6,426.8L597.8,426.9L602.2,426.9L603.7,423.5ZM606.4,423.2L603.7,423.5L602.2,426.9L602.4,427.1L609.5,428.4ZM621.1,422.6L619.2,421.4L613.7,422.2L613.4,422.5L613.5,425L617.8,427.6ZM598.1,433L597.8,426.9L597.6,426.8L593,427.1L592.4,428.1L592.9,432.9L596.9,434.3ZM602.2,426.9L597.8,426.9L598.1,433L602.7,432.1L603.2,431.7L602.4,427.1ZM616.1,433L611,428.1L609.7,428.6L607.9,432.6L608.1,432.9L613.9,434.9ZM617.9,428L617.8,427.6L613.5,425L611,428.1L616.1,433L616.4,432.9L617.6,431.7ZM602.8,438.9L602.7,432.1L598.1,433L596.9,434.3L598,438.4L602.3,439.2ZM608.1,432.9L607.9,432.6L603.2,431.7L602.7,432.1L602.8,438.9L607,438.4ZM613.9,434.9L608.1,432.9L607,438.4L607.9,439.2L613.5,438.4ZM620,438L616.4,432.9L616.1,433L613.9,434.9L613.5,438.4L613.7,438.8L619.7,438.2ZM590.8,438.8L588,438.8L587.8,440.4L587.3,443.5L587.3,444.7L592,443.7L592.3,440.3ZM597.2,439.1L592.3,440.3L592,443.7L593.1,445.1L597.4,444.5ZM602.3,439.2L598,438.4L597.2,439.1L597.4,444.5L597.5,444.6L602.5,444.2ZM602.9,444.7L607,445L608.5,442.8L607.9,439.2L607,438.4L602.8,438.9L602.3,439.2L602.5,444.2ZM618,443.3L619.2,444.7L623.6,443.5L623.7,441.1L623.7,437.6L620,438L619.7,438.2ZM593.1,445.1L592,443.7L587.3,444.7L587.3,446.6L587.4,449.4L591.1,450.5L592.7,449.5ZM601.9,449.9L602.8,451.1L607.8,449.5L608.4,448.4L607,445L602.9,444.7ZM608.4,448.4L612.7,447.8L612.8,443.9L608.5,442.8L607,445ZM614.6,442.2L612.8,443.9L612.7,447.8L614.5,449.4L618.1,449.4L618.3,449.1L619.2,444.7L618,443.3ZM596,450.3L592.7,449.5L591.1,450.5L591.2,454L592.8,455.8L597,455.4ZM597.7,455.9L602.6,454.1L602.6,454L602.8,451.1L601.9,449.9L598.1,449.2L596,450.3L597,455.4ZM602.6,454L607.8,456.6L609.6,453.4L607.8,449.5L602.8,451.1ZM612.6,453L614.5,449.4L612.7,447.8L608.4,448.4L607.8,449.5L609.6,453.4ZM619.5,454.1L618.1,449.4L614.5,449.4L612.6,453L614.2,455.4L618.8,455.5ZM592.8,455.8L591.7,459.6L592.5,460.7L597.8,459.6L597.7,455.9L597,455.4ZM597.8,459.6L598.2,460.1L602.3,461.1L602.6,454.1L597.7,455.9ZM591.6,464.4L592.6,463.5L592.5,460.7L591.7,459.6L591.3,459.6L589,463.5L588.4,465ZM603.2,465L602.5,461.3L602.3,461.1L598.2,460.1L596.8,465.2L597.7,466.7ZM608.3,458.3L602.5,461.3L603.2,465L604,465.5L607.1,465.5L608.8,463.8L608.5,458.5ZM612.3,458.7L608.5,458.5L608.8,463.8L613.1,464.6L613.9,464.1L613.7,460.1ZM591.6,464.4L592.6,469.3L595.8,469.4L597.4,467.9L597.7,466.7L596.8,465.2L592.6,463.5ZM607.1,465.5L604,465.5L603.6,470.3L607.7,472.2L609.7,470.6ZM608.8,463.8L607.1,465.5L609.7,470.6L612.2,470.5L613.1,464.6ZM587.4,474.8L591.3,474.9L591.1,470.2L586.8,468.8L586.7,469.2L585.8,471.4ZM597.6,476.6L600.6,475.6L601.8,471.5L597.4,467.9L595.8,469.4L596.5,475.9ZM623.6,445.6L623.5,448.8L623.4,452.7L623.4,453.2L625.5,453.5L627.4,452.6L628.3,447L626.9,445.8ZM627.4,452.6L625.5,453.5L626.1,458L627.5,459.4L632.6,456.8L632.5,455.1ZM638.5,458.6L639.9,452.6L638.9,451.2L634.6,452.4L632.5,455.1L632.6,456.8L634.2,458.9ZM640.5,459.9L645.1,459.2L645.4,458.9L644.3,454.5L639.9,452.6L638.5,458.6ZM645.4,458.9L649.2,459.2L651.4,456.9L652.3,453L651.6,452.4L645.7,453L644.3,454.5ZM658.8,457.8L657.9,451.7L657.6,451.5L652.3,453L651.4,456.9L657,459.4ZM657.9,451.7L658.8,457.8L663.3,459.2L664.7,457.5L662,451.8ZM623.3,458.6L623.2,460.4L623.1,464.3L625.9,465.1L627,464.2L627.5,459.4L626.1,458ZM639,465.2L639.7,466.3L644.7,464.9L645.1,459.2L640.5,459.9ZM649.2,459.2L645.4,458.9L645.1,459.2L644.7,464.9L646.3,466.3L651.6,463.6ZM656.1,464.2L657,459.4L651.4,456.9L649.2,459.2L651.6,463.6L653.1,464.6ZM664.7,457.5L663.3,459.2L663.9,463.8L667.1,464.5L667.1,461.6L667.1,458.5L667.1,456.8ZM633.3,463.6L627,464.2L625.9,465.1L626.7,468.8L633.2,471.3ZM633.3,463.6L633.2,471.3L638,471.4L639.2,469.9L639.7,466.3L639,465.2L633.7,463.2ZM644.7,464.9L639.7,466.3L639.2,469.9L646.9,471L646.3,466.3ZM656.3,464.3L658.4,471L662,470.5L663.6,464.1ZM663.9,463.8L663.6,464.1L662,470.5L664.7,472.5L668.7,470.7L667.9,467.7L667.1,464.7L667.1,464.5ZM664.6,474.3L666.4,474.1L669.5,473.7L668.7,470.7L664.7,472.5ZM691.1,427.9L686.9,427.6L685.6,428.7L686.9,431.8L690.6,431.6L691.3,428.1ZM695.3,428.8L694.3,427.8L691.3,428.1L690.6,431.6L691.3,432.9L694.9,432.8L696.3,431.2ZM681.2,437.1L686.1,435.2L685.7,433.6L681.6,432L681.4,432.3L680.5,436.5ZM691.3,432.9L690.6,431.6L686.9,431.8L685.7,433.6L686.1,435.2L686.4,435.5L690.7,435.6ZM694.9,432.8L695.9,436.4L698.5,436L699.9,432.3L699.7,432L696.3,431.2ZM686.1,435.2L681.2,437.1L681.8,439.1L686.3,440.6L686.4,435.5ZM681.8,439.1L681.6,439.4L682.4,445L685.5,444.7L686.7,441.1L686.3,440.6ZM698.9,445.7L703.5,444.4L703.2,441.3L702.4,440.5L699.1,440.7L698.5,441.1ZM691.4,445L690,446L690.3,450L690.3,450.1L693.7,450.1L694,445.2ZM699.1,449L698.8,445.9L694,445.2L693.7,450.1L694.1,450.5L698.1,449.9ZM698.8,445.9L699.1,449L703.1,450.4L704.1,444.9L703.5,444.4L698.9,445.7ZM673.5,449.4L673.1,449.1L669.4,450.3L669.2,452.9L669.5,453.3L673.3,453.6L674.3,452.8ZM677.2,453.2L677.3,453.1L678.2,449.9L677.5,448.6L673.5,449.4L674.3,452.8ZM685.4,453L686.6,453.9L689.5,453.4L690.3,450.1L690.3,450L686.1,449.4L685.7,449.8ZM698.5,454.8L698.7,454.6L698.1,449.9L694.1,450.5L694.2,453.5L695.1,454.3ZM668.7,458.3L669,458L669.5,453.3L669.2,452.9L667.2,453L667.2,455.4L667.1,458.1ZM669.5,453.3L669,458L673.6,457.4L673.3,453.6ZM686.6,453.9L685.4,453L682.3,454.3L682,456.7L685.8,458.6L687,458ZM690.9,457.4L691.2,455.4L689.5,453.4L686.6,453.9L687,458L690,458.6ZM694.8,458L695.5,458.6L697.9,457.9L698.5,454.8L695.1,454.3ZM697.9,457.9L699.3,459.2L703.4,457.3L702.6,454.7L698.7,454.6L698.5,454.8ZM673.6,462.3L677.7,463.4L678.1,458.3L677.2,457.7L674.7,458.1ZM678.1,458.3L677.7,463.4L677.7,463.5L681.7,463.1L682.3,462.5L680.4,458.1ZM682,456.7L680.4,458.1L682.3,462.5L684.7,462.2L685.8,458.6ZM690.6,461.1L690,458.6L687,458L685.8,458.6L684.7,462.2L686.1,463.4L689.7,462.3ZM695.5,458.6L695,461.4L699.5,462.2L699.3,459.2L697.9,457.9ZM669.6,461.7L669.4,461.4L667.1,462.2L667.1,464.7L667.6,466.5L668.9,466.5ZM669.6,467.1L672.9,466.8L673.5,462.3L669.6,461.7L668.9,466.5ZM673.6,462.3L673.5,462.3L672.9,466.8L674,467.5L677.3,466.9L677.7,463.5L677.7,463.4ZM677.7,463.5L677.3,466.9L677.6,467.2L682.1,466.8L681.7,463.1ZM690.6,466.2L692,466.9L694.5,466L694,462.4L690.6,461.1L689.7,462.3ZM699.6,462.3L699.5,462.2L695,461.4L694,462.4L694.5,466L694.8,466.1L697.7,465.8ZM669.5,470.5L669.6,467.1L668.9,466.5L667.6,466.5L667.9,467.7L668.7,470.7L668.8,471.1ZM674,467.5L672.9,466.8L669.6,467.1L669.5,470.5L673.3,472.5L673.8,472ZM682.7,467.3L681.4,471.1L682.4,471.8L686.8,469.7L686.3,467.3ZM690.6,466.2L686.4,467L686.3,467.3L686.8,469.7L688.1,471.3L691,471.3L692,466.9ZM694.8,466.1L694.5,466L692,466.9L691,471.3L691.1,471.3L694.2,471.8L696,470.4ZM699,466.9L697.7,465.8L694.8,466.1L696,470.4L698.4,470.9L699.1,470.5ZM673.3,472.5L673.1,474L678.2,476.2L678.5,475.9L678.7,471.5L673.8,472ZM682,476.3L683.5,474.2L682.4,471.8L681.4,471.1L678.7,471.4L678.7,471.5L678.5,475.9ZM686.8,469.7L682.4,471.8L683.5,474.2L686.7,474.6L688.1,471.3ZM703.7,471.5L703.1,470.8L699.1,470.5L698.4,470.9L698.3,476.2L700.5,476L703.3,475.8ZM672.9,474.3L670.1,474.9L670.7,475.8L671.8,477.9L673,477.9ZM672.9,474.3L673,477.9L675,477.7L677.7,477.6L678.2,476.2L673.1,474ZM662,477.6L667.9,481.2L668,481L667.6,473.9L666.4,474.1L663.3,474.4L661.5,474.6ZM665.6,485.1L659.5,480.2L656.7,481.6L662.3,488.4L664.5,486.7ZM680.7,484.2L680.5,482.8L677.3,477.6L675,477.7L674.3,477.8L672.9,479.1L676.1,486.8ZM664.5,486.7L662.3,488.4L664.7,489.9L667.6,491.7L666.6,494.6L669.2,494.5L671.9,494.3L673.1,493.5ZM674.7,488.4L667.4,483.4L665.6,485.1L664.5,486.7L673.1,493.5L674.4,492.6ZM683.8,485.7L680.7,484.2L676.1,486.8L674.7,488.4L674.4,492.6L676.8,490.9L679.3,489.2L679.7,487.2L682,486.5L683.9,485.9ZM702.8,406.7L702.3,407.2L702,410.6L702.7,411.9L708.7,411.6L707.8,406.9ZM708.8,406.2L707.8,406.9L708.7,411.6L709.1,411.9L714.3,409.7L714.5,407.7L713.5,406L713.3,405.6ZM714.3,409.7L715.7,412.3L719.4,413L720.2,412L720.6,407.1L720.2,407.2L717.4,407.6L714.6,408L714.5,407.7ZM697.6,416.7L702.6,416.8L703.1,416.4L702.7,411.9L702,410.6L695.6,412.5L696.6,415.8ZM709.4,416.1L709.1,411.9L708.7,411.6L702.7,411.9L703.1,416.4L708.1,416.9ZM708.1,416.9L703.1,416.4L702.6,416.8L702.3,423L708,422ZM713.2,416.9L709.4,416.1L708.1,416.9L708,422L709.2,422.9L714.3,421.8ZM764.5,376.6L766.3,376.7L770.1,371.6L769.5,370.4L766.6,371L763.7,371.6L763.2,371.7ZM766.3,376.7L768.1,377.9L770,377.9L771.8,375.9L771.9,375.1L770.8,372.9L770.1,371.6ZM772.9,376.7L772,375.4L771.9,375.1L771.8,375.9ZM771.8,375.9L770,377.9L772.3,381.4L773.7,382.1L775.1,380L773.9,378.2L772.9,376.7ZM777.3,384.3L776.7,383.1L775.8,380.9L775.1,380L773.7,382.1L774,383.5ZM765.3,388.6L767.6,387L767.1,382.7L763.1,381L760.8,384.3L761.8,387.7ZM760.7,388.5L759.9,392.5L762.2,395.5L765.6,389.8L765.3,388.6L761.8,387.7ZM725.1,348.7L726.9,349.4L730.2,346.2L727,344.6L725.4,346.9L724.8,347.8ZM736.6,349.3L737.4,348.8L737.2,346L734.4,345.3L732.5,346L732.4,346.1L732.5,348L733.8,349.5ZM740.2,350.8L740.6,350.1L739.7,344.9L737.2,346L737.4,348.8ZM720.3,353.3L721.2,349.7L720.7,348.9L718.8,348.1L718.1,351.3L717.8,352.8ZM721.2,349.7L720.3,353.3L721,353.8L723.4,352.9L724.7,349.2L723.8,349.3L723.3,350L722.3,349.5ZM743.4,352.9L745.3,354.6L747.6,355L747.8,354.9L748.5,353.4L747.1,349.2L746,349.4ZM747.1,349.2L748.5,353.4L751.1,352.9L752.7,351.1L752.2,347.8L752.1,347.8ZM752.7,351.1L754.7,352.1L756.8,349.8L756,349.5L753.4,348.3L752.2,347.8ZM759,354L759.1,350.5L758.4,350.3L756.8,349.8L754.7,352.1L755.8,354.2ZM759,354L760.3,355.2L760.4,355.3L760.6,353.4L760.8,351.1L759.1,350.5ZM730.3,353L729.3,351.7L728.5,351.5L725.8,353.9L726.3,355.8L728.5,357.3ZM733.4,358.7L735.6,357.1L734.5,353.7L733.3,353.9L731.1,357.6ZM743.4,352.9L740.3,352.8L740.4,356L743.2,356.7L745.3,354.6ZM743.2,356.7L744.7,359.3L747.6,355L745.3,354.6ZM747.8,354.9L749.7,357.4L750.9,358.1L753.7,357.3L753.9,356.6L751.1,352.9L748.5,353.4ZM751.1,352.9L753.9,356.6L755.8,354.2L754.7,352.1L752.7,351.1ZM755.5,359.4L756,359.4L760.3,355.2L759,354L755.8,354.2L753.9,356.6L753.7,357.3ZM735.6,357.1L733.4,358.7L733.3,360.2L734.3,361.7L735.6,362.5L736.9,357.8ZM744.7,359.3L744.7,360.4L745.8,360.5L749.7,357.4L747.8,354.9L747.6,355ZM749.7,357.4L745.8,360.5L749,362.1L750.2,361.5L750.9,358.1ZM723.8,365.2L725.5,363.6L725.6,360.9L723.8,359.9L722.2,360.2L720.4,361.2L721.6,365.5ZM729.9,361.3L728.4,359.5L725.6,360.9L725.5,363.6L728.9,365.1L730.4,364.1L730.5,363.7ZM744,361.1L744.4,364.6L748.5,363.9L749,362.1L745.8,360.5L744.7,360.4ZM755.2,360L752,362.5L752.5,363.8L755.5,364.3ZM736.4,363.6L735.9,364.8L737.6,368.2L740.4,368.2L741.2,366L739.4,363.7L737.6,363.3ZM746.2,368.4L744.3,364.9L741.2,366L740.4,368.2L740.7,368.7L746.1,368.5ZM744.4,364.6L744.3,364.9L746.2,368.4L746.6,368.4L749.3,365.7L748.5,363.9ZM749.3,365.7L746.6,368.4L748.7,369.6L751.8,368.8L752.1,367.7L751.2,366.2ZM752.1,367.7L754.3,367.2L755.9,364.8L755.5,364.3L752.5,363.8L751.2,366.2ZM762.7,366.8L762.8,367.8L763.8,368.8L765.9,368.5L766.4,368.1L767.3,366.2L767.3,366.1L766.7,365L764.9,365.4L763.3,365.7ZM759.2,368.3L760.2,372.3L760.8,372.2L763.1,371.7L763.8,368.8L762.8,367.8ZM765.9,368.5L763.8,368.8L763.1,371.7L763.7,371.6L766.6,371L767.2,370.9ZM752.5,345.9L752.7,343.1L752.4,342.8L748.3,342.5L748.1,343.2L747.4,345.8L749.7,345.3L751.3,347.3L751.6,347.3ZM752.7,343.1L752.5,345.9L756.4,347.4L757.2,346.9L756.8,343.8L756.4,343.1ZM708.5,295.9L708.2,294.3L707.8,292.2L706.1,293.5L704.3,294.7L703.1,295.7ZM718.7,299L725.3,296.1L725.1,293.3L724.9,293.4L722.2,293.9L720.9,294.1L716.4,297.6ZM725.3,296.1L726.6,298.1L732,297.2L731.3,292.8L730.8,292.3L730.3,292.3L727.6,292.9L725.1,293.3ZM708.5,296.1L708.5,295.9L703.1,295.7L702.2,296.4L700.1,298.1L700.5,300.6L702.1,301.6L707.4,301.9L708.3,301.3ZM708.3,301.3L712.2,302.7L714.4,301L716.4,297.6L714.6,295.3L714,295.4L711.3,295.9L708.5,296.3L708.5,296.1ZM733.8,298.4L732.1,302.4L733.8,305.8L737.1,304.9L738.3,302.3L735.5,298.1ZM752.2,245L754.6,241L753.5,240.5L752.9,240.8L751.4,241.5L749.2,244L748.8,244.4ZM764.9,237.6L764,237.8L761.6,238.4L759.2,239L758.8,239L757.7,241L757.8,244.7L762.1,247.2L762.6,247L766.8,241.4ZM754.6,250.9L758.8,253.1L760.3,251.9L762.1,247.2L757.8,244.7L755.1,246.4ZM745.9,249.2L745.5,248.7L744.9,249.8L742.8,253.2L741.3,255.3L739.8,257.4L740,257.7L748.7,257.4L748.8,257.3ZM752.7,259.2L758.7,259.2L758.8,253.1L754.6,250.9L753.5,251.3L751.2,257.8ZM775.1,258.9L775,258.1L773.2,257.8L772.6,254.7L772.1,251.7L771.9,251L771.3,250.9L769.5,251.7L767.4,254.3L766.6,257.6L772.3,260.8ZM748.7,257.4L745,264.3L746.1,265.2L750.8,265L752.7,259.2L751.2,257.8L748.8,257.3ZM767.2,266.1L764.3,259.4L759.2,259.7L758.9,266.1L760.1,268ZM772.3,260.8L771.8,262.9L773.8,265.4L776.8,265.9L776.4,264.1L775.7,261.1L775.1,258.9ZM728.4,273.6L730.2,272L729.2,272L726.7,272.2ZM740.6,269.9L742,265.5L740.6,266.7L739,268.4L737.7,269.8ZM753.1,274.4L751.4,272.8L748.3,272.7L744.7,277L747.9,281.4L751.4,278.6L753.4,275.2ZM735,282.4L733.2,279.3L727.4,278.1L725.9,278.9L726,281.6L728.3,287.7L733.5,284.4ZM720,285.3L717.1,286.4L716.8,288.4L723.5,291.3L724.6,289.6L721.1,285.7ZM721.1,285.7L724.6,289.6L728.2,288L728.3,287.7L726,281.6ZM739,283.2L735,282.4L733.5,284.4L735.6,290.2L739.9,287.4L739.2,283.5ZM744.9,289.4L746.6,289.1L749.4,288.5L752.1,287.9L752.4,287.8L751.4,285.8L747.7,283.4ZM716.1,295L716.4,295L715.1,291.3L710.3,289.8L710.1,290L709.7,290.4L709.6,295.4ZM723.5,291.3L716.8,288.4L715.1,291.3L716.4,295L716.7,294.9L719.4,294.4L722.2,293.9L722.8,293.8ZM708.8,296.3L711.3,295.9L714,295.4L716.1,295L709.6,295.4ZM778,246.2L783.2,242.2L783.3,239.1L782.1,237.9L776.7,238L775.1,238.7L775.8,245.4ZM770.9,246L771.5,248.7L772.1,251.7L772.3,253.1L773.4,253L775.7,245.4ZM775.7,245.4L773.4,253L775.9,254.1L780.2,249.5L778,246.2L775.8,245.4ZM777.6,257.3L782.9,253.8L781.2,249.9L780.2,249.5L775.9,254.1ZM777.8,261.5L777.6,257.3L775.9,254.1L773.4,253L772.3,253.1L772.6,254.7L773.2,257.8L775,258.1L775.7,261.1L776.1,263.1ZM592.1,240.6L590.9,236.9L589,238.1L586.8,239L584.6,240L586.3,241.7L588,243.3L588.6,243.5ZM751.4,345.1L749.9,345.6L751.3,347.3L752.7,347.3L752.7,346.2ZM262.4,475.6L259.9,475.6L257.1,473.6L253.5,472.8L250,470.9L249.3,471.4L252.9,489.5L259.9,487.7ZM259.9,487.7L262,488.6L280.4,485.3L278.9,477.5L273.9,476L269.2,476.1L264.5,475.5L262.4,475.6ZM252.9,489.5L249.3,471.4L246.3,473.3L243.5,474.4L239.9,475.6L237.5,478.2L236.5,481L236.4,481.1L250.6,491.7ZM250.6,491.7L236.4,481.1L233,482.1L230.7,481.7L229,484.4L231.3,486.4L233,488.6L234.1,492L237.6,493L239,495.8L238.6,496.1L243.4,498.9ZM286,513.5L283.1,498.7L274.4,508.9L272.7,514.8L272.8,515.1ZM225.1,523.8L225.7,526L227.8,529.6L231.5,530.1L232.1,534L232,535.5L239.7,525.3L239.7,516.5ZM239.7,516.5L242.5,511.3L242.1,510.7L238.4,509.8L237.3,511.8L234.6,511.5L232.2,513.7L228.9,512.9L226.6,515.8L223.8,520.2L224.9,523.1L225.1,523.8ZM240.1,538.4L240.5,538.6L242,536.9L245.5,538.1L244.4,544.3L243.4,545.3L246.8,547.9L247.1,547.6L251.6,543.5L254.4,539.7L256.1,535.4L256.5,534.6L253.2,528.7L248.7,529.8ZM243.4,545.3L241,547.6L235,552.2L230.2,554.4L226.2,556.6L221.3,558L221.4,559.1L226.5,558.5L231.4,556.7L237.8,554.6L241.3,551.6L246.8,547.9ZM298.4,529.9L293.9,526.9L293.5,525.3L288.6,526.6L288.4,525.6L287.2,528.9L290.6,529.6L292.9,529.9L296.6,531.5L297.5,532ZM253,545.1L255,542.9L257.8,542.4L259.6,544.5L257.9,546.7L255,548.9L252.7,547.8ZM216.7,560.5L215.2,560.2L210.6,562L207,563.4L206,564.8L211.2,563.8L215.5,561.9ZM195.8,565L187.6,563.7L180.8,563.1L175.7,562.3L180.4,564.1L188.9,565.2L195.5,566ZM202.2,563.9L199.7,564.4L200.9,565L203.3,564.7ZM223.3,527.2L219.3,527L221,529.5L223.2,529.4ZM216.1,507L212.5,507.7L215.2,510.6L219,510.4L217.7,508.5Z"/>
<path fill="#ea616e" d="M383.8,394.5L399.3,396.2L400.4,395.6L401.6,382.7L399.9,382.5L397,382.2L394.1,381.8L391.2,381.5L388.3,381.2L385.7,380.8Z"/>
<path fill="#76c5ba" d="M242.7,185.3L252.1,179.8L252.1,179.3L251.7,179.4L249.8,177.6L248.1,177.5L246.4,177.4L245.6,177L233.7,179.4L233.7,180.1L234,183.1L234,183.6ZM251.8,188.9L251.8,187.1L250.4,186.9L247.9,189.7L246.5,189L248.6,187.2L251.3,185.6L251.9,185L252.2,180L252.1,179.8L242.7,185.3L240.9,193.5L241.5,193.9L249.7,191.4L250.8,190.5ZM247.6,211.3L242.7,210.8L242.9,212.6L243,216.3L245.4,217.4L247.9,218.5L249.7,218.2ZM255.5,204.1L256.9,204.3L258.6,203.6L261.1,200.4L261.8,196.4L254.1,190.7L252.8,192.7L251.4,192.8L250.6,193.5L251,198.7ZM251.8,188.9L250.8,190.5L251.7,189.7L251.8,188.9ZM251.8,188.9L251.9,187.1L251.8,187.1L251.8,188.9ZM261.8,196.4L266.8,189.8L257.3,183.4L255.4,185.2L254.4,187.8L254.2,190.4L254.1,190.7ZM252.2,180L251.9,185L253.2,183.8L253,181.4L253,180.6ZM273.4,177.8L277.7,172.5L276.2,172.1L273.7,171.4L271.3,170.7L268.9,170.1L266.4,169.4L264,168.7L261.5,168L259.1,167.3L256.7,166.6L256.3,168.1L257.1,169.7ZM287.2,189.3L287.2,174.9L286,174.6L283.5,174L281.1,173.4L278.6,172.7L277.7,172.5L273.4,177.8L272.2,181.5L272.2,185.5ZM287.2,189.3L287.6,189.9L294.7,189.9L300.5,178.2L298.3,177.7L295.8,177.1L293.4,176.5L290.9,175.9L288.5,175.2L287.2,174.9ZM294.7,189.9L300.7,193.9L305.1,192.7L305.1,179.3L303.2,178.9L300.8,178.3L300.5,178.2ZM287.6,189.9L287.2,189.3L272.2,185.5L269.9,188.8L275.6,198.7L285.5,196.2ZM285.5,196.2L275.6,198.7L273.8,202.6L274.9,207.8L279.5,208.8L285.3,206.3L287.2,200.4ZM293.9,223.4L293.8,223.6L294.8,223.8L297.2,224.4L299.5,224.9L301.9,225.5L304.3,226L304.9,223.5L304.7,221.4L304.5,219.3L305.3,215.8ZM236.3,212.4L239.3,206.4L238.3,205.7L236.3,205.1L234.2,204.5L232.4,203.1L231.9,205.8L231.4,208.4L230.8,210.2ZM285.1,238.1L283.8,244.6L291,256.6L295.8,258.6L297.7,255.2L297.1,251.9L296.1,248.5L297.7,246.5L299.3,244.5L301.7,241.1L301.8,240.9L298.2,238.1ZM246.8,238.2L248.9,234.9L249.2,234L248.5,231.5L237.1,226.6L236.7,227L233.7,236ZM229.2,241.3L217.5,242.6L217.5,242.7L215.8,245.4L215.6,245.7L221.5,252.8L233,257L237.7,253.3L237.7,248.6ZM221.5,252.8L215.6,245.7L214.1,248.1L212.6,249.8L211.2,251.4L210.9,254.3L210.7,257.1L210.5,259.9L210.9,262.5L211.3,265L213.9,265.8L216.6,266.6L219.3,267.4L221.5,268.1ZM233,257L221.5,252.8L221.5,268.1L222,268.2L224.6,269L227.3,269.8L230,270.6L231.5,271ZM245.7,268.4L246.6,258.1L237.7,253.3L233,257L231.5,271L232.7,271.3L235.4,272.1L238.1,272.8L240.8,273.6L242.4,274ZM221.1,292.7L215.4,297.2L217.4,303.4L217.6,303.5L222.8,305.5L233.7,300.5L235.1,297.1ZM212.6,323.5L213.6,317.7L206.1,312.8L203.5,313L204.1,314.6L205.2,317.3L206.4,320.5L207.6,323.7L207.4,325.3ZM216.9,327L212.6,323.5L207.4,325.3L207.3,326L206.9,328.3L208.4,329.5L209.9,330.8L211.3,332.5L212.2,331.5L213.7,328.6L215.2,329.7ZM211.5,335.9L213,333.5L213,333.3L211.7,333.2L211.1,335.3L210.9,336.1ZM219.6,326.6L216.9,327L215.2,329.7L215.8,330L214.5,332.1L215.1,334.7L215.6,337L222.1,338.6L222.1,328.7ZM211.5,335.9L212.7,336.2L213,333.5ZM241.4,349.5L234.3,340.6L223.9,344.8L223.8,345.7L229.5,350.9ZM215.5,351.6L213.9,351.9L213.2,352.6L212.8,355L212.5,357.3L214.1,360.5L215.8,363.8L216.5,366.2L217.2,368.7L218.3,370.4L225.7,367.8L227.9,362.4ZM241.4,359.8L246.8,351.2L241.4,349.5L229.5,350.9L228,362.3ZM242.7,372.7L256.6,374.9L256.6,348.8L253.2,348.9L246.8,351.2L241.4,359.8ZM247.9,389.5L237,384.1L232.7,393.7L233.4,394.3L235.6,395.9L235.8,397.8L238.3,399.6L240.8,401.4L241.1,401.5ZM262.3,394.3L261.1,386.2L247.9,389.5L241.1,401.5L242.6,401.9L244.4,402.3L244.8,406.4L247.2,407L247.4,407.1ZM265.5,412.2L268.2,402.7L262.3,394.3L247.4,407.1L248.6,408.5L250,410L252.4,412.8L253.8,415.2L255.1,417.4ZM268.2,402.7L265.5,412.2L273.1,419.8L298.4,408.6L297.8,407.6L296.4,405.8L295.7,402.9L295.7,402.7ZM273.1,419.8L265.5,412.2L255.1,417.4L255.2,417.6L255.3,420.4L255.5,423.2L255.2,426L256.4,428.4L259.5,428.8L262.5,429.2L265.6,429.6L268.7,429.9L271.8,430.3L272.2,430.4ZM273.1,419.8L272.2,430.4L274.8,430.6L277.9,431L281,431.3L284.1,431.7L287.1,432L288.4,432.1L289.6,430.2L290.7,428.3L289.9,425.8L289.1,423.2L290.2,421.1L291.3,419L292.4,416.8L293.4,414.6L296.6,411.3L299.1,409.5L298.4,408.6ZM259.9,314L248.3,327.5L249.6,329.7L251.4,332.7L264.6,323.3ZM273.2,335L276.1,326.4L264.6,323.3L251.4,332.7L251.7,333.1L253.9,336.6L256,340L256.1,340.2ZM309.1,270.9L309.7,268.7L297.1,256.1L295.7,258.7L295,262.1L294.2,265.5L293.5,268.8L292.7,272.2L292.6,272.8ZM343.6,272.8L343.9,278.4L359,280.4L359.1,279.7L359.7,276L360.3,272.2L360.9,268.5L361.5,264.7L361.8,262.8ZM333.1,197.6L334,200.2L345.8,196.7L344.9,187.7L342.9,187.4L340.4,186.9L339.1,186.6ZM346.7,207.7L348.7,200.7L345.8,196.7L334,200.2L333.8,201.3ZM332.4,221.4L337.6,222.7L344.6,219.7L345,219.2L345,212.5L336.7,212ZM374.2,202.5L386.7,206.4L389.9,195.2L388.1,194.9L385.6,194.6L383.1,194.2L380.6,193.8L378,193.4L375.5,193L375.1,193ZM372.9,215.2L368.9,207.2L364.2,206.5L358.2,212.5L359.3,223.4L365.1,225.7L366.7,225.1ZM378.7,282L377.6,295.6L387.9,302L393.3,297.4L395.7,282ZM393.3,297.4L408.7,300.2L412.4,297.6L411.5,284.6L398.9,280L397,280.7L395.7,282ZM387.9,302L377.6,295.6L369.5,297.9L366.7,301.1L369.2,316.2L370.7,316.4L373.5,316.8L376.4,317.2L379.2,317.6L382,318L384.9,318.3L387.7,318.7L387.9,318.7ZM387.9,302L387.9,318.7L390.6,319.1L393.4,319.4L396.3,319.8L399.1,320.1L402,320.4L404.8,320.7L405,320.8L408.7,300.2L393.3,297.4ZM425.7,309.2L421.4,310.1L414.9,321.8L416.2,322L419.1,322.2L422,322.5L424.8,322.8L427.7,323L430.5,323.3L433.4,323.5L433.7,319.7L434,315.8L434.2,313.4ZM329.1,310.3L333.6,294.7L331,294.2L328.2,293.7L325.4,293.2L322.7,292.7L321.9,296.5L321.2,300.3L320.5,304L319.7,307.8L319.5,309.3ZM329.1,310.3L331,312.2L337,312.8L339.1,311.3L340.6,300.5L339.2,295.7L336.6,295.2L333.8,294.7L333.6,294.7ZM333.1,331.7L347.2,333.3L350.9,327.7L349.3,321.7L339.6,321.7L332.3,330.2ZM364.9,334L374,334L374.2,332.5L374.8,328.7L375.3,324.8L375.8,321L376.4,317.2L373.5,316.8L370.7,316.4L367.8,316L365,315.6L363.6,315.3L361.7,330.1ZM320.5,361.7L326,349.1L325.9,349L312.7,344.7L312.4,345.8L311.7,349.6L311,353.4L310.3,357.2L309.7,359.9ZM318.2,404.4L321.1,404.8L324.6,403.2L337,373.8L334.9,373.5L331.9,373L328.9,372.5L326,371.9L323,371.4L320,370.9L317,370.3L314,369.8L311,369.2L308.1,368.6L307.5,371.7L307.2,373.3ZM350.2,375.9L349.9,375.9L346.9,375.4L343.9,374.9L340.9,374.5L337.9,374L337,373.8L324.6,403.2L340.5,405.1ZM350.7,433.9L352.1,423.2L342.7,430L338,437.9L338.1,438.5ZM336.7,445.1L338.1,438.5L338,437.9L330.1,424.3L327.8,423.6L324.1,427.4L322.4,439.8L333.3,445.7ZM336.7,445.1L338,446L357,446L350.7,433.9L338.1,438.5ZM407.8,330.5L410.9,334.9L422.8,332L423.6,322.7L422,322.5L419.1,322.2L416.2,322L413.4,321.7L410.5,321.4L408.6,321.2ZM412.3,344.9L425.6,339.5L425.9,336.1L422.8,332L410.9,334.9L410.4,341.2L411.8,344.6ZM386.7,352.3L390.4,347.3L378.1,338.1L373.6,337.1L373.2,340.2L372.7,344L372.6,344.2ZM386.2,355.8L386.7,352.3L372.6,344.2L372.1,347.8L371.6,351.7L371.1,355.5L371,355.8ZM415.6,366.3L418.9,360.8L418.4,358.1L416,355.3L403.7,357.7L411.1,368.8ZM408.1,371.3L397.3,368.3L394.9,371L398.7,382.4L399.9,382.5L402.4,382.8ZM418.4,358.1L430.1,348.7L429.3,347.8L414.3,347.8L416,355.3ZM383.5,394.8L383.8,394.5L385.7,380.8L385.3,380.8L382.4,380.4L379.5,380.1L376.6,379.7L373.7,379.3L370.8,378.9L367.9,378.5L367.4,382.3L366.8,386.1L366.3,389.9L365.8,393.6L365.6,394.8ZM383.8,394.5L383.5,394.8L384.4,406.6L395.3,406.6L399.3,396.2ZM364.7,418.7L380.2,423.8L384.2,418.9L382.8,409.4L363.9,407.3L363.7,408.8L363.2,412.5L362.7,416.3L362.5,417.7ZM362.5,417.7L362.1,420.1L361.6,423.9L361.1,427.6L360.6,431.4L360.1,435.2L359.7,437.4L371.3,434.2L364.7,418.7ZM380.2,423.8L364.7,418.7L371.3,434.2L375.8,433.8L380.2,425.7ZM368.4,460L370.7,460.3L373.8,460.6L376.9,461L380,461.4L381,461.5L379.5,445.9L367.2,448.4ZM505.3,370.5L506.4,375.2L510.7,376.1L513.2,373.8L513.5,369.5L512.4,368.5L506.9,367.9ZM498.8,382.2L499.5,382.9L505.4,383.8L505.6,383.6L504.8,376.7L499.4,377.3ZM504.8,376.7L505.6,383.6L512.5,382.4L512.6,382.2L510.7,376.1L506.4,375.2ZM516.5,381.2L519.7,383.3L524.1,383.2L525.1,382L523.6,376.7L523.1,376.1L519.6,375.5L519.2,375.7ZM505.6,383.6L505.4,383.8L505.3,389.2L506.4,389.2L509.4,389.3L511.1,389.3L513.1,386.4L512.5,382.4ZM512.6,382.2L512.5,382.4L513.1,386.4L517.5,388.3L519.7,383.3L516.5,381.2ZM524.2,388.2L517.7,388.7L517.7,389.3L518.4,389.3L521.4,389.4L524.4,389.4L524.8,389.4ZM534.4,389.3L536.4,389.3L539.4,389.3L542.4,389.2L542.4,387.9L537.5,385.7L534.4,389.1ZM505.9,392.6L510.5,391.4L511.8,389.3L509.4,389.3L506.4,389.2L503.4,389.2L501.9,389.1ZM518.8,397L523.1,396.1L524.4,389.4L521.4,389.4L518.4,389.3L516.1,389.3ZM530,389.4L527.4,389.4L524.4,389.4L523.1,396.1L523.7,396.5L530.4,397.5L530.5,397.3ZM536,396.5L537,392.1L531.8,389.4L530.4,389.4L530,389.4L530.5,397.3ZM498.6,396L497.1,403.7L498.2,405.1L502.8,404.2L504,402.9L503,397.2ZM517.9,397.9L511.7,396.3L510.1,398.6L509.8,402.6L511.8,404.6L517.3,403.8ZM517.7,404.1L524.3,403.1L523.7,396.5L523.1,396.1L518.8,397L517.9,397.9L517.3,403.8ZM530.4,397.5L523.7,396.5L524.3,403.1L526.9,404.6L530.3,403.6ZM526.9,404.6L524.3,403.1L517.7,404.1L519.7,410.4L523.9,412ZM490,417.7L489.1,410.9L485.9,410.7L483.3,412L482.9,417.9L486.1,419.4ZM509.3,416.2L512.2,419.1L516,418.4L516.4,412.5L510.1,410.8ZM524.1,412.2L524.2,416.1L531.4,419.1L532.6,416.9L530.7,411.9ZM491.7,418.5L490,417.7L486.1,419.4L485.9,423.8L490.5,426.4L492.3,424.1ZM497.4,424.4L496.6,417.4L491.7,418.5L492.3,424.1ZM502.6,417.7L498.3,416L496.6,417.4L497.4,424.4L497.8,424.9L504,422.3L503.3,418.3ZM510.5,423.6L512.2,419.1L509.3,416.2L503.3,418.3L504,422.3L505.4,423.9L509.8,424.1ZM517.3,419.3L518.2,423.8L524.4,425.4L524.8,424.9L523.4,417.4ZM483,426.1L478.5,423.6L477.4,427.6L479.2,429L482.3,429.7L483.1,429.9ZM518.3,436.4L519.2,431.6L516.1,429.6L512.4,431L511.5,439.5L514.3,436.5L516.4,437.5ZM476.8,432L477,432.2L483.9,430.7L484.5,430.2L482.3,429.7L479.2,429L477.4,427.5L476.5,426.8ZM511.6,445.3L514.8,447.2L520.2,445.6L521.4,444.1L520.9,441.7L518,438.2L516.5,437.5L515,436.8ZM390.5,459.2L388.5,459L388.8,460.1ZM537.1,453L536.2,453.7L534.9,459.7L536.6,461.4L540.5,462L541.9,461.1L541.1,453.3ZM388.8,460.1L389.3,462.5L391.1,465.1L393.9,459.6L391.6,459.3L390.5,459.2ZM391.1,465.1L391.2,465.1L393,467.7L393.3,468L398,465.3L398.1,460L397.7,460L394.6,459.6L393.9,459.6ZM528.2,460.5L528.5,465L534.2,467.6L536.6,461.4L534.9,459.7ZM534.2,467.6L534.3,467.8L541,468.2L540.5,462L536.6,461.4ZM398.7,466.5L398,465.3L393.3,468L395.4,469.9L397.8,472.2L398.3,472.6ZM425.3,474.3L427.2,476L433,475.2L434.7,472.8L433.6,467.6L428.8,466.7L428.6,466.8ZM483.5,468L477.2,469.4L477.8,474.2L485.1,474.6L485.7,473.6ZM497.5,467.5L492,468.9L491,472L493.3,475.7L500.4,474.6L499.1,469.1ZM505.4,474.3L506.4,467.4L506,467L499.1,469.1L500.4,474.6L500.5,474.6L504,475.3ZM532.4,474.1L533.3,473.4L534.3,467.8L534.2,467.6L528.5,465L527.4,466.5L528.1,474.2L528.3,474.3ZM477.8,474.2L477.6,474.4L477.7,480.9L484.1,482.3L485.8,480.7L485.1,474.6ZM477.8,490.5L484.5,487.8L484.1,482.3L477.7,480.9L476.5,481.7ZM490.2,495.7L489.3,490L485.3,488.6L483.1,497.8L483.8,498.5ZM497.7,491.3L498.5,495.1L504.9,495.8L506.8,490L506.7,489.8L500.2,487.8ZM543,489.4L544.7,495.9L548.8,497.3L551.7,495.8L550.6,488.3L548.3,487.1L543.2,488.9ZM492.2,502.4L497.2,502.9L498.5,495.1L491,496.2ZM533.6,495.7L535.6,501.8L539.6,501.8L541,497.9L535.2,493.1ZM548.1,503.3L548.8,497.3L544.7,495.9L541,497.9L539.6,501.8L539.8,502.1L540.3,501.2L542.3,502.7L544.2,504ZM534,509.8L532.7,503.9L528.5,502.4L527,509.5L529.6,511.8ZM484.7,510.2L482.4,515.4L485,520L491.1,518.3L490.1,511.8ZM527.6,515.8L528.6,515.2L529.6,511.8L527,509.5L520.5,508.9L520.3,509.1L520.1,515.8ZM535.2,513.6L537.7,511.1L538.2,510.4L535.5,510.4ZM577.8,353.2L582.7,353L583.3,351.9L582.2,348.4L581.8,348.1L581.1,347.3L577.7,346.8L577.7,346.9L577.1,352.1ZM578.5,359L583.9,356.5L582.7,353L577.8,353.2L576.9,356.5ZM585,362.9L589.2,363.4L590,358L588.8,356.2L584.5,356.9ZM577.4,367L579.6,369.4L583.1,369.7L584,363.5L578.3,362.2L577.9,362.5ZM589.3,363.5L589.9,368.6L594.2,368.9L593,367.2L593.8,364.6L594.4,362.8ZM572.8,368.7L573.5,373.8L576.6,374.1L579.6,369.4L577.4,367ZM590.5,374.8L589.3,369.4L583.8,370.3L583.8,373.5L584.4,374.4L590.2,375.2ZM595.2,373.8L600.6,374.6L600.8,374.5L599.3,373.1L596.2,371.7L595.3,370.4ZM584.4,374.4L583.8,373.5L578.4,375.9L578.9,378.8L584.3,379.2ZM589.5,379.2L590.2,375.2L584.4,374.4L584.3,379.2L585,379.9L588,380.1ZM594.6,381.5L595.9,380.2L594.4,374.7L590.5,374.8L590.2,375.2L589.5,379.2ZM600.6,374.6L598.8,379.8L599.9,380.5L604,380.1L604,379.7L603.8,377.4L601.6,375.2L600.8,374.5ZM567.5,380L562.4,381L562.3,385.3L567.6,385.6L568.8,383.9ZM574,385.2L577.7,384.6L577.8,384.6L577.7,381L572.9,379.1L571.9,384ZM585,379.9L584.3,379.2L578.9,378.8L577.7,381L577.8,384.6L583.1,384.5ZM593.7,384.9L594.4,384.3L594.6,381.5L589.5,379.2L588,380.1L588.8,384.5ZM598.8,386.6L600.8,384.8L599.9,380.5L598.8,379.8L595.9,380.2L594.6,381.5L594.4,384.3ZM542.3,385.3L542.4,385.6L542.4,389.2L542.4,391.1L545.1,390.7L545.9,386.8L544,385ZM545.9,386.8L545.1,390.7L545.6,391.2L550.7,390L551.1,385.7L550.7,385.4ZM561.5,390.8L562.1,391.6L567.6,390.9L568.4,389.9L567.6,385.6L562.3,385.3L560.9,386.9ZM583.4,390.7L584.5,389.8L585,386.4L583.1,384.5L577.8,384.6L577.7,384.6L578.4,388.9ZM587.8,385.6L585,386.4L584.5,389.8L589.5,391.4L590.7,390.4ZM593.7,384.9L588.8,384.5L587.8,385.6L590.7,390.4L592.5,389.9ZM545.1,390.7L542.4,391.1L542.5,393.1L542.5,397L545,396.9L547,394.8L545.6,391.2ZM551.1,390.5L549.9,395.3L551.6,396.8L554.6,396.7L554.8,396.7L555,391.9ZM567.6,390.9L562.1,391.6L561.8,393.9L563.3,396.5L563.7,396.5L566.8,396.4L569.5,396.3ZM572.4,390.1L572,389.7L568.4,389.9L567.6,390.9L569.5,396.3L569.8,396.3L572.8,396.2L573.5,396.1ZM548.3,401.4L548.5,401.6L553.5,402.2L553.9,396.8L551.6,396.8L548.6,396.9L548.3,396.9ZM553.5,402.2L554.9,403.5L559.1,401.8L558.9,396.6L557.7,396.7L554.6,396.7L553.9,396.8ZM576.6,400.6L577.4,396L575.9,396L572.8,396.2L570.8,396.2L572.2,400ZM576.6,400.6L577.7,401.9L582.9,400.9L581.9,395.8L578.9,395.9L577.4,396ZM547.2,408.6L549,406.9L548.5,401.6L548.3,401.4L543.4,402.8L543.6,403.8L544,406.7ZM554.3,407.1L554.9,403.5L553.5,402.2L548.5,401.6L549,406.9ZM566.6,402.4L565.5,400.4L559.3,401.9L561.9,406.4L566.4,407.3ZM570.7,407.3L572,406.2L571.9,400.4L566.6,402.4L566.4,407.3L566.5,407.4ZM577.7,401.9L576.6,400.6L572.2,400L571.9,400.4L572,406.2L576.8,405.6ZM554.9,408.4L554.3,407.1L549,406.9L547.2,408.6L547.4,411.5L552.9,412.3L554,411.3ZM573.9,412.5L576.5,413L576.8,412.7L578,407.3L576.8,405.6L572,406.2L570.7,407.3ZM564.6,476.7L565.3,478.1L571.1,477.3L571.5,477L570.5,472.9L568.9,472.3L564.9,474.9ZM560.5,484.6L563,483.4L565.7,480L565.3,478.1L564.6,476.7L557.2,478L557.7,478.9L557.4,481L557.2,482.7ZM571.6,484L573.7,483.3L576.4,477.9L571.5,477L571.1,477.3L571.1,483.6ZM573.7,483.3L574.1,483.5L581.6,484.4L583.9,480.7L582.9,480.7L583,479.3L577.5,477L576.4,477.9ZM589.8,484.9L594.5,482.6L594.1,480.2L592.2,480.3L589.1,480.4L586,480.6L585.6,480.6ZM601.6,481.9L606.5,484.1L606.7,484L607.2,482.1L607.8,479.3L604.7,479.5L601.7,479.7ZM571,485.6L571.6,484L571.1,483.6L565.7,480L563,483.4L568.1,489ZM571.6,484L571,485.6L576.9,492.7L578.3,489.4L574.1,483.5L573.7,483.3ZM590.8,488L593.6,490.1L596.7,489L597.7,483.7L594.5,482.6L589.8,484.9L589.8,485.9ZM606.5,484.1L607.1,490.1L607.8,490.7L610.6,490.5L609.4,488.5L606.5,484.8L606.7,484ZM560.6,490.1L559.2,490.8L559.4,495.4L563.4,496.7L563.5,491.1ZM563.5,491.1L563.4,496.7L564.2,498.6L564.7,498.7L569.8,493.5L567.6,490.3ZM557.4,498.3L555.9,496.3L555.2,498.6L554.3,501.7L557.2,501.3L557.7,501.2ZM564.2,498.6L563.4,496.7L559.4,495.4L557.4,498.3L557.7,501.2L559.4,500.9ZM585,493.4L577.2,493.8L579.3,499.4L583.6,501.4L586.1,494.4ZM586.1,494.4L583.6,501.4L583.7,501.5L591.5,501.1L589.9,495.4L586.8,494.3ZM591.5,501.1L592.3,501.7L594.6,501.4L595.9,500.7L596.5,496L593.2,493.8L589.9,495.4ZM559.4,500.9L560,500.8L562.9,500.4L565.6,501.3L565.9,501.4L566.1,500.3L564.7,498.7L564.2,498.6ZM566.1,500.3L565.9,501.4L568.3,502.2L571,503L571.3,503.1L571.3,500.8ZM576.6,501.5L571.6,500.5L571.3,500.8L571.3,503.1L573.7,503.2L576.3,503.3L576.6,503.1ZM579.3,499.4L576.6,501.5L576.6,503.1L578.9,501.7L581,503.9L583.5,503.8L583.7,501.5L583.6,501.4ZM583.5,503.8L584,503.7L587,503.6L588.6,507.3L590.3,508.2L592.3,501.7L591.5,501.1L583.7,501.5ZM594.6,501.4L592.3,501.7L590.3,508.2L591.3,508.7L594.1,510.1L596.1,509.6L597.1,509.4ZM618,323.3L618.2,328.6L623.4,329.7L623.1,326.7L622.8,323.1L622.7,321.7ZM579.7,345L580,346.2L581.8,348.1L583.7,349.9L584.6,351L587.4,347.9L586.4,344.6L580,344.7ZM586.4,344.6L587.4,347.9L591.4,349.2L591.9,343.5L586.9,344ZM597.6,344.5L596.5,345.8L596.5,347.9L598.6,349.7L601.6,349.7L601.2,343.7ZM591.8,349.6L591.8,353L596.5,354.4L598.6,349.7L596.5,347.9ZM595.8,360.4L594.6,360.2L594.7,362L593.8,364.6L593.3,366.1L596.6,364.6ZM603.6,365.4L601.9,364.4L596.6,364.6L598.2,370.1L600.7,370.9L602.4,369.8ZM600.7,370.9L598.2,370.1L596,371.4L596.2,371.7L599.3,373.1L601.2,374.9ZM645.2,250.4L650.5,248.8L649.2,248.2L647.5,247.4L645.8,246.7L644.4,248.3L643.7,248.9ZM641.7,255.5L644.7,255.1L645.3,254.5L645.2,250.4L643.7,248.9L642.9,249.8L644.3,252.7L642.8,253.4L640.9,255ZM645.2,250.4L645.3,254.5L650,255.6L651.6,254.2L651.1,249.1L650.5,248.8ZM657.3,253.4L661.9,254.6L660.6,252.3L658.6,251.6L657.3,251.2ZM641.7,255.5L640,258.5L639.8,260.1L640.4,261.1L644.6,260.9L645,260.2L644.7,255.1ZM656.4,259.5L656.1,254.8L651.6,254.2L650,255.6L650.8,259.8L651.7,260.8L655.8,260.3ZM657.3,253.4L656.1,254.8L656.4,259.5L662.1,258.9L661.9,258.3L662.7,255.9L661.9,254.6ZM644.6,260.9L640.4,261.1L638.9,265.2L640.1,266.5L645.5,266.4L646.2,265.7ZM657.4,264.2L655.8,260.3L651.7,260.8L650.1,265.3L651.3,266.6L656,266.5ZM645.7,270.7L645.5,266.4L640.1,266.5L639.5,271.8L640.2,272.4ZM650.1,265.3L646.2,265.7L645.5,266.4L645.7,270.7L646,271L651.3,271.8L651.4,271.7L651.3,266.6ZM662,264.8L657.4,264.2L656,266.5L657.5,270.9L658.3,271.4L661.4,271.1L662,264.8ZM646,271L645.7,270.7L640.2,272.4L641.1,275.7L641.3,275.9L645.9,276.1ZM646.4,276.6L651.3,275.5L651.3,271.8L646,271L645.9,276.1ZM652.4,276.7L651.3,275.5L646.4,276.6L646.4,281.2L651,281.4ZM661.8,281.1L661.2,278.8L656.7,276.8L656.2,277.1L656,281.8L657.7,283.7ZM641.2,281.4L639.5,282.2L639.4,288.2L640.4,288.9L645.6,286.1L645,282.5ZM663.7,282.2L661.8,281.1L657.7,283.7L657.1,286.7L657.3,287.1L660.8,288.3L663.3,287.2ZM673.1,286.8L676.3,287.4L676.3,285.8L675.2,282.1L674.5,279.9L672.4,282.6ZM654.8,293L655.2,292.6L657.3,287.1L657.1,286.7L651.8,286.2L650.6,287.3L650.8,292.4L652.4,293.3ZM655.2,292.6L661.1,292.7L660.8,288.3L657.3,287.1ZM663.3,287.2L660.8,288.3L661.1,292.7L661.7,293.5L666.6,293.2L666.8,289ZM658,297.5L660.4,297.3L661.7,293.5L661.1,292.7L655.2,292.6L654.8,293ZM666.6,293.2L661.7,293.5L660.4,297.3L662,299.1L666.4,299L667.3,297.5L666.8,293.4ZM672.9,292.8L666.8,293.4L667.3,297.5L671.2,297.8L672.1,296.5L673.1,293.1ZM640.1,298.3L640.9,303.4L644.3,303.4L646,298.2L645.5,297.2ZM656.6,302.9L658.6,304.4L660.5,303.9L662,299.1L660.4,297.3L658,297.5L656,299.8ZM660.5,303.9L662.8,305.2L667.3,302.3L666.4,299L662,299.1ZM667.3,297.5L666.4,299L667.3,302.3L669.3,303.7L670.1,302.3L670.2,299.1L671.2,297.8ZM639.7,304.4L634.2,304.2L634.4,310.2L634.8,310.2L637.3,309.9L639.8,309.7L641,309.5ZM662.8,305.2L660.5,303.9L658.6,304.4L657.3,308.4L657.6,308.4L660.2,308L662.7,307.6L663.7,307.4ZM629.7,310.7L627.3,312.5L626.1,312.8L626.3,313.6L629.3,313.9ZM629.3,313.9L630.1,314.8L634,313.8L634.4,313.4L634.1,310.3L632.3,310.4L629.7,310.7ZM634.4,313.4L638.3,313.4L639,309.7L637.3,309.9L634.8,310.2L634.1,310.3ZM624.9,322.7L626,327.2L629.7,326.1L630.4,323.4L629.5,322.3L625.7,321.2ZM634.5,328.1L631.3,327.7L630.4,331L633.8,332.6L634.5,331.8ZM642.8,331.1L644.1,326.9L643.6,326.6L639.2,326.4L638.4,327.5L639.4,330.8ZM643.8,332.2L647.6,332.4L647.8,332.3L646.4,327.2L644.1,326.9L642.8,331.1ZM630,336.4L629.1,331.8L627,331.3L625.7,332.6L626,335.4L629.9,336.5ZM633.8,332.6L630.4,331L629.1,331.8L630,336.4L633.6,335.4ZM638.9,335.3L642.3,335.5L643.8,332.2L642.8,331.1L639.4,330.8L638.7,332.1ZM642.3,335.5L643.2,336.6L647.2,337L647.5,336.4L647.6,332.4L643.8,332.2ZM655.6,336L655.5,334.6L655,330.9L655,330.4L651.6,331.5L653.5,336ZM633.6,335.4L630,336.4L629.9,336.5L629.4,339.7L633.5,341.3L634.7,340.5L634.4,336ZM642.1,340.2L643.1,341.2L647,340.8L647.5,339.8L647.2,337L643.2,336.6ZM647.2,337L647.5,339.8L652.2,340.2L653,336.4L647.5,336.4ZM630.1,345.1L629.4,339.7L626.9,340.6L626.1,344.8L629.8,345.5ZM647,340.8L647.8,344.4L648,344.6L652.3,345L652.6,344.8L652.3,340.3L652.2,340.2L647.5,339.8ZM651.8,349.2L652.3,345L648,344.6L647.4,348.9L648.1,349.8ZM652.6,344.8L652.3,345L651.8,349.2L652.7,350.2L657.1,349.2L657.1,349.1L656.7,345.5L656.7,345ZM638.7,349.9L633.9,349.8L634.2,353.7L638.5,353.9L638.9,353.5ZM644.1,353.1L643.3,350L638.8,349.8L638.7,349.9L638.9,353.5L642.7,354.6ZM648.1,349.8L647.4,348.9L644.1,348.7L643.3,350L644.1,353.1L647.3,353.1L647.6,352.8ZM652,353.7L652.8,353.2L652.7,350.2L651.8,349.2L648.1,349.8L647.6,352.8ZM652.7,350.2L652.8,353.2L655.8,354.3L656.4,351.9L657.1,349.2ZM643.2,357.4L642.7,354.6L638.9,353.5L638.5,353.9L637.8,357.3L638.5,358.2L642.7,358.4ZM647.7,357.2L647.3,353.1L644.1,353.1L642.7,354.6L643.2,357.4ZM652.8,353.2L652,353.7L651.3,356L653.3,355.4L655.7,354.7L655.8,354.3ZM642.5,362.1L639.7,362.7L639,366.1L639.6,366.7L640.3,367L641.3,365.7L643.2,366.6L643.4,366.7ZM642.5,362.1L643.4,366.7L643.5,366.8L645.8,366.3L646.4,365.4L647.6,363.1L648,362.4L647.6,362L643.2,361.3ZM639.6,366.7L638.3,369.6L639.7,367.8L640.3,367ZM621.3,371.3L621.2,373L623.5,371.7ZM696.5,301.6L700.7,301.7L700.7,301.5L700.1,298.1L698.6,298.9L697.2,299.8L695.5,300.8ZM696.5,301.6L694.4,306.8L699.9,306.2L701,303.7L700.7,301.7ZM695.6,310.7L699.6,311.2L700.5,310.5L699.9,306.2L694.4,306.8L694.2,306.9ZM700.5,310.5L699.6,311.2L699,316L699.7,316.4L703.1,316.2L702.9,315.1L702.3,311.7L702.2,310.8ZM699.2,321.4L700.6,320L699.7,316.4L699,316L696.3,316.8L696.1,320ZM703.3,320.3L703.5,318.5L703.1,316.2L699.7,316.4L700.6,320ZM682,326.2L680.9,327.2L680.9,330.6L681,330.8L686.7,331L687.9,330.2L684.5,326.2ZM684.5,326.2L687.9,330.2L690.2,330L690.6,327.2L686.7,324.3ZM695.1,330.5L700.4,330.7L700.6,330.5L699.7,325.3L699.5,325.3L696.4,325.5ZM681,330.8L680.9,334.5L685.5,335.6L686.7,331ZM695.1,330.5L694.6,330.9L696.4,335.4L696.7,335.6L699.6,335.5L700.4,330.7ZM699.6,335.5L696.7,335.6L695.6,339.5L695.7,339.5L695.8,339.2L697.9,337.3L699.7,335.6ZM660.7,345.1L661.2,344.7L662,341.9L660.3,339L656.1,339.3L656,339.4L656.3,341.8L656.6,344.8ZM656.6,344.8L656.7,345.5L657.1,349.1L659,348.9L660.9,348.7L661.7,349.4L660.7,345.1ZM665.2,350.4L666.8,345.5L661.2,344.7L660.7,345.1L661.7,349.4L662.1,349.9ZM679.9,348.8L681.8,349.9L685.1,348.4L685.1,345.6L681.8,344.7L680.3,345.7ZM685.1,348.4L686.5,349.8L689.1,349.2L689.1,348.8L691.1,346.5L692,345.4L690.7,344.1L686.5,344.4L685.1,345.6ZM665.9,351L665.2,350.4L662.1,349.9L662.9,350.8L665,352.8L666.4,353.2ZM671,349.9L670.5,349.4L665.9,351L666.4,353.2L667.8,353.7L670.6,354.5L671.3,354.5ZM676.6,350.1L676.2,349.8L671,349.9L671.3,354.5L673.2,354.5L675.9,354.5L676.5,354.1ZM682.6,354.5L681.8,349.9L679.9,348.8L676.6,350.1L676.5,354.1L677.6,353.3L679.2,352.1L681.9,354.1L682.5,354.5ZM682.6,354.5L686.1,354.3L686.5,349.8L685.1,348.4L681.8,349.9ZM657.6,352.1L658.5,350.5L657.6,349.1L657.1,349.1L656.4,351.9L656.3,352.2ZM679.5,354.1L681.6,353.8L679.2,352.1L678.4,352.7ZM655.4,357.7L656,356.7L655.6,354.8L653.3,355.4L651,356L650.7,356.7ZM660.4,355.9L660,354L657.6,352.1L656.3,352.2L655.7,354.7L655.6,354.8L656,356.7ZM667.6,354.2L670.5,358.8L671.3,358.1L672,354.5L670.6,354.5L667.8,353.7L667.7,353.6ZM674.3,354.5L673.2,354.5L672,354.5L671.3,358.1L675.1,357.4ZM675.5,357.9L679.4,356.3L679.5,354.1L678.4,352.7L677.6,353.3L675.9,354.5L674.3,354.5L675.1,357.4ZM655.4,357.7L650.7,356.7L649.4,359.6L651.6,361.5L655.8,359.8ZM658.5,361.2L663.2,360.3L662.9,358.5L660.9,356.3L660.6,356.2L657.9,360.7ZM662.9,358.5L663.2,360.3L663.4,360.7L666.1,361.3L667.6,360.4L666.5,356.3ZM671.3,358.1L670.5,358.8L670.1,360.4L671.5,362L674.2,361.8L675.7,360.1L675.5,357.9L675.1,357.4ZM675.7,360.1L678.5,360.8L680.6,357.8L679.4,356.3L675.5,357.9ZM654.8,365.3L656.6,360.5L655.8,359.8L651.6,361.5L652.4,364.9ZM659.2,364.1L660.6,365.1L662.1,365.2L663.4,360.7L663.2,360.3L658.5,361.2ZM666.7,366.5L667.2,366.3L666.1,361.3L663.4,360.7L662.1,365.2L662.6,365.8ZM676,365.2L674.2,361.8L671.5,362L670.3,364.8L671.3,365.7L675.3,367ZM674.2,361.8L676,365.2L678.1,364.7L678.9,361.3L678.5,360.8L675.7,360.1ZM687.7,364.4L686.8,363.2L685.2,359.8L683.3,360L682.2,362.4L682.8,364.6L684.5,365.5L687.5,364.6ZM643.4,366.7L643.2,366.6L641.3,365.7L639.9,367.5L640.8,369L643.2,368.6ZM648.1,369.3L648.6,369.3L650.7,367.8L651.6,365.5L647,364.2L646.6,365ZM651.6,365.5L650.7,367.8L654.2,370.6L656.8,369.5L655.1,365.5L654.8,365.3L652.4,364.9ZM658.3,370.8L661.7,370L662.6,365.8L662.1,365.2L660.6,365.1L657.1,369.7ZM671.3,365.7L670.3,364.8L667.3,366.3L668.6,368.7L671.7,368.8ZM675.6,369.2L675.3,367L671.3,365.7L671.7,368.8L673.1,370ZM629.3,373.4L629.4,374L630.2,374.6L633.9,371.6L632.3,372.3L629.6,371.3ZM643.2,368.6L640.8,369L639.5,370.3L639.1,373.5L639.2,373.7L642.7,374.4L643.6,373.3L644.2,369.7ZM658.8,375.1L663.1,374.7L664.7,372.6L664.3,371.8L661.7,370L658.3,370.8L658.6,374.8ZM675.3,373.8L675.8,369.4L675.6,369.2L673.1,370L670.6,373.2L671.3,374.6ZM623.1,379.9L624.4,378.8L621.4,372.8L621.2,373L620.1,374.6L621.1,377.6L620.7,378.2ZM624.4,378.8L625.3,378.5L626.5,374.5L622.5,372.3L621.4,372.8ZM629.4,374L626.5,374.5L625.3,378.5L627.3,379.3L630.7,375.7L630.2,374.6ZM630.2,374.6L630.7,375.7L631.8,376.6L634.4,376.9L635,371.8L634.6,371.4L633.9,371.6ZM639.2,373.7L637.1,377.4L639.4,379.2L642.5,378.7L643.6,376.6L642.7,374.4ZM654.1,376.5L655.3,374.9L653.1,372.5L652.4,372.8L651,376.2ZM658.8,375.2L658.8,375.1L658.6,374.8L655.3,374.9L654.1,376.5L654.9,378.8ZM666.3,372.9L664.7,372.6L663.1,374.7L664.1,377.8L667,376.6ZM671.3,375.5L674.6,378.5L676.3,377.1L676.1,374.4L675.3,373.8L671.3,374.6ZM678.8,373.5L676.1,374.4L676.3,377.1L679.1,377.4L680,376.1ZM623.1,381.6L627.1,382.5L628.2,380.8L627.3,379.3L625.3,378.5L624.4,378.8L623.1,379.9L623,381.2ZM634.4,376.9L631.8,376.6L630.8,381.3L631,381.6L634.7,382.1L635.8,377.6ZM634.7,382.1L635.3,383.2L639.3,380.7L639.4,379.2L637.1,377.4L635.8,377.6ZM642.5,378.7L639.4,379.2L639.3,380.7L640.1,382.4L643.8,382L643.9,381.8ZM645.9,377.1L643.6,376.6L642.5,378.7L643.9,381.8L646.2,381.5L646.6,381ZM648.6,376.2L645.9,377.1L646.6,381L650.5,379.3L650,376.9ZM650,376.9L650.5,379.3L651.6,380.6L654.8,380.8L654.9,378.8L654.1,376.5L651,376.2ZM654.8,380.8L655.8,381.7L657.1,381.5L659.5,378.4L658.8,375.2L654.9,378.8ZM659.3,383.1L663.7,381.3L664.1,380.8L663.7,379.9L659.5,378.4L657.1,381.5ZM671.3,381.4L674.5,380.4L674.6,378.5L671.3,375.5L670,376.9ZM618.5,381.9L619.4,385.6L623,383.7L623.1,381.6L623,381.2ZM627.3,385.2L628.3,385.8L630.2,385L631,381.6L630.8,381.3L628.2,380.8L627.1,382.5ZM634.7,382.1L631,381.6L630.2,385L630.9,385.3L635.4,384.1L635.5,384L635.3,383.2ZM640.1,382.4L639.3,380.7L635.3,383.2L635.5,384L639.3,384.9ZM646.6,381L646.2,381.5L648.4,384.8L649.1,385.1L649.7,385L651.6,380.6L650.5,379.3ZM651.6,380.6L649.7,385L652.2,386.3L654.6,385.2L655,384.7L655.8,381.7L654.8,380.8ZM655,384.7L658.5,386.5L659.6,384.1L659.3,383.1L657.1,381.5L655.8,381.7ZM659.3,383.1L659.6,384.1L662.5,386L663,385.5L663.7,381.3ZM618.8,387L623.2,389.5L624.7,385.7L623,383.7L619.4,385.6ZM623.5,390.2L625.3,390.1L628.3,389.9L628.6,389.9L628.3,385.8L627.3,385.2L624.7,385.7L623.2,389.5ZM630.9,385.3L632.8,388.2L634.7,388.1L635.4,384.1ZM635.5,384L635.4,384.1L634.7,388.1L635.8,389.4L637.2,389.3L639.8,389.1L639.8,385.6L639.3,384.9ZM644.4,385.9L643.5,384.7L639.8,385.6L639.8,389.1L640.1,389.1L643.1,388.8L644.2,388.8ZM652.2,386.3L649.7,385L649.1,385.1L648,388.4L649,388.4L651.9,388.1L652.4,388.1ZM654.6,385.2L652.2,386.3L652.4,388.1L654.9,387.9L655.9,387.8ZM662.5,386L659.6,384.1L658.5,386.5L658.6,387.5L660.7,387.3L662.3,387.2ZM663,385.5L662.5,386L662.3,387.2L663.7,387L666.6,386.7L666.8,386.7L666.2,385.8ZM668.6,386.6L669.6,386.5L672.5,386.2L673.1,386.1L670.3,382.8ZM618.6,387.1L618.3,388.1L619.8,393.3L622.6,393.1L622.4,390.3L623.5,390.2L623.2,389.5L618.8,387ZM634.7,388.1L632.8,388.2L630.5,389.8L631.3,389.7L634.2,389.5L635.8,389.4ZM622.1,393.1L619.7,393.3L618.9,393.4L621.3,394.8L622.3,394.3ZM626,393.6L625.8,390.1L625.3,390.1L622.4,390.3L622.6,393.1L622.1,393.1L622.3,394.3L625.6,394.8ZM626,393.6L630.7,392.5L629,389.9L628.3,389.9L625.8,390.1ZM632.9,393.5L633.1,393.8L635.6,395.3L638.1,394.7L640.2,391.2L640.1,389.1L637.2,389.3L634.3,389.5ZM645.9,389.8L645.9,392.6L648.3,393.9L650.1,392.6L647.8,389.1ZM647.8,389.1L650.1,392.6L653,392.5L654.4,387.9L651.9,388.1L649,388.4L648.3,388.4ZM683,394.2L688.1,394L688.2,393.3L688.1,391.1L684.7,387.4L684.2,387.6L682.3,393.2ZM694.1,389.3L688.2,393.3L688.1,394L688.4,394.4L689.8,393.3L692.2,392.2L694.5,391.2L695.6,390.7ZM626.9,397.8L625.6,394.8L622.3,394.3L621.3,394.8L620.4,397.1L622,400.2ZM628.9,398.6L633.1,393.8L632.9,393.5L630.7,392.5L626,393.6L625.6,394.8L626.9,397.8L627.4,398.1ZM634.5,399.5L635.6,395.6L635.6,395.3L633.1,393.8L628.9,398.6L629.4,399.4ZM639.1,401.5L641.4,398.3L638.1,394.7L635.6,395.3L635.6,395.6ZM648.3,393.9L645.9,392.6L643.7,394.3L643.7,396.5L648.2,397.1ZM659.5,396.2L658.8,394.8L653.8,394.5L653,396.7L654.7,399.4L658.1,399.8ZM666.4,393.3L665.2,393.6L663.6,396.9L664.5,398.8L669.2,399.1L670.7,398.1ZM678.5,391.4L673.1,392.7L672.7,397.1L675.2,397.7L676.9,397.2L678.6,391.5ZM688.1,394L683,394.2L681.9,397L683.7,398.3L685.4,397L687.6,395.1L688.4,394.4ZM639.1,401.6L639.1,401.5L635.6,395.6L634.5,399.5L636.1,401.8ZM648.2,397.1L643.7,396.5L642.3,398L647.1,402.7L648.2,402.7L649,398.1ZM654.7,399.4L653,396.7L649,398.1L648.2,402.7L649,403.4L652.3,403.5ZM672.7,397.1L671.7,397.9L673,402.5L676.1,403.5L676.8,403.1L677.5,402.7L675.2,397.7ZM680.8,400.6L682.6,399.2L683.7,398.3L681.9,397L681,397.9ZM627,407.3L626.9,405.5L624.9,404.2L620.7,403.2L620.7,405.5L626,409ZM627,407.3L630.4,407.8L632.2,406.4L630.8,403.1L630,402.5L626.9,405.5ZM634.7,407.3L634.8,407.2L635.3,402.6L630.8,403.1L632.2,406.4ZM640,405.3L640.2,403.8L639.1,401.6L636.1,401.8L635.3,402.6L634.8,407.2L639.4,406.1ZM626,409L620.7,405.5L620.4,406.6L622.2,411.8L625.6,410.9ZM639.4,406.1L634.8,407.2L634.7,407.3L634.8,410.5L639.7,411.3ZM658.6,406.6L654.6,408.4L654.4,409.6L654.4,412L655.5,413.2L657.6,412.9L657.8,412.9L659.3,408.3ZM659.3,408.3L657.8,412.9L657.9,412.9L662.3,410.7L662.3,407.9ZM672.3,408L668.1,408.1L667.3,408.9L666.5,411.9L668.1,411.7L670.8,411.4L672.4,408.1L672.4,408ZM604,465.5L603.2,465L597.7,466.7L597.4,467.9L601.8,471.5L603.6,470.3ZM613.1,464.6L612.2,470.5L618.8,468.8L618.3,465.3L618.1,465L613.9,464.1ZM607.2,475L607.7,472.2L603.6,470.3L601.8,471.5L600.6,475.6L602.6,476.4L606.7,475.8ZM612.2,470.5L609.7,470.6L607.7,472.2L607.2,475L612.4,476.3L614,474.6ZM587.4,474.8L586.2,476.6L586.8,480.5L589.1,480.4L590.2,480.4L592.3,475.8L591.3,474.9ZM590.2,480.4L592.2,480.3L595.3,480.1L597.4,480L597.6,476.6L596.5,475.9L592.3,475.8ZM608.3,480.7L608.4,480.6L606.7,475.8L602.6,476.4L603.4,479.6L604.7,479.5L607.8,479.3L607.4,480.8ZM624,475L624.3,481.5L625.2,481.3L625.1,481L624.7,477.7L624.4,474.6ZM612,479.7L608.4,480.6L608.3,480.7L608.3,486.2L613.4,486.5L613.7,486.2L613.6,480.8ZM619.6,486.9L624.7,487.7L624.9,487.7L623.6,482.1L619.7,481.5L618.1,484.9ZM624.9,487.7L625.9,487.7L625.5,484.4L625.2,481.3L624.3,481.5L623.6,482.1ZM613.4,486.5L614.3,489.4L616.4,488.7L619.3,487.8L619.6,486.9L618.1,484.9L613.7,486.2ZM619.6,486.9L619.3,487.8L622.6,487.7L624.7,487.7ZM651.6,463.6L646.3,466.3L646.9,471L647.2,471.4L651,471.3L653.1,464.6ZM624.9,471.4L624,471.4L624.3,474.4L624.7,477.7L624.9,479.1L626.2,477.7ZM626.7,468.8L624.9,471.4L626.2,477.7L630.9,477.1L633.2,471.3ZM639.6,475.8L638,471.4L633.2,471.3L630.9,477.1L633.3,479.5L636,477.9L635.6,477.2L637.5,477ZM647.2,471.4L646.9,471L639.2,469.9L638,471.4L639.6,475.8L640.7,476.7L641.8,476.6L644.8,476.3L645.4,476.3ZM645.4,476.3L647.9,476L651,475.7L651.7,475.6L651.2,471.5L651,471.3L647.2,471.4ZM651.7,475.6L654.1,475.4L657.2,475.1L657.5,475L657.2,472.4L651.2,471.5ZM664.7,472.5L662,470.5L658.4,471L657.2,472.4L657.5,475L660.3,474.7L663.3,474.4L664.6,474.3ZM631.7,484.5L633.9,481.8L633.3,479.5L630.9,477.1L626.2,477.7L624.9,479.1L625.1,481L625.2,481.5L627.7,484.7L630.1,484.6L630.4,482.6L631.5,484.5ZM633.3,479.5L633.9,481.8L638.5,483.6L638.7,482.3L637.1,479.7L636,477.9ZM639.6,475.8L637.5,477L638.7,476.9L640.7,476.7ZM627.7,484.7L625.2,481.5L625.5,484.4L625.9,487.7L626.8,487.7ZM631.7,484.5L631.5,484.5L632,485.2ZM632.3,486.3L631.4,489.4L633.2,489.2ZM627.7,484.7L626.8,487.7L627.8,487.7L629.6,487.7L630,485.1L630.1,484.6ZM633.2,489.2L634.7,489L637.6,488.1L638.2,485.2L638.5,483.6L633.9,481.8L631.7,484.5L632,485.2L632.4,485.9L632.3,486.3ZM677.3,410.9L678.5,412L682.2,410.9L682.9,409.8L682.7,409.9L679.7,410.3L677.4,410.6ZM665.4,414.5L668.9,415L669.5,414.6L670,411.5L668.1,411.7L665.5,412L665,412.1ZM679,414.9L678.5,412L677.3,410.9L674.3,412.3L674,415.1ZM682.2,410.9L682.7,414.6L684,414.7L683.4,414.5L684.5,412L685.7,409.5L682.9,409.8ZM674.1,418.1L678,419.3L679.1,415L679,414.9L674,415.1L673.9,415.3ZM678,419.3L678.5,419.9L681.4,420.1L682.5,419.3L681.9,415.2L679.1,415ZM686.6,419.3L686.6,415.9L686.4,415.8L684,414.7L682.7,414.6L681.9,415.2L682.5,419.3ZM686.6,419.3L689.9,419.8L690.8,419.1L689.4,417.2L686.6,415.9L686.6,419.3ZM664.7,423.5L665.4,419.4L664.8,418.7L660.8,419.5L660.3,420.5L662.3,423.7ZM682.6,424.2L681.4,420.1L678.5,419.9L677.2,423.7L677.5,424.2L681.9,425.2ZM681.4,420.1L682.6,424.2L686.1,423.5L686.6,419.3L682.5,419.3ZM686.6,419.3L686.1,423.5L686.3,423.7L690.5,424L691,423.2L689.9,419.8ZM689.9,419.8L691,423.2L693.4,422.9L691.8,420.5L690.8,419.1ZM677.5,424.2L677.2,423.7L673.3,423.1L672,424L673.1,427.4L676.7,427.6ZM681.9,425.2L677.5,424.2L676.7,427.6L677.2,428.4L682,429L682.4,428.6ZM685.6,428.7L686.9,427.6L686.3,423.7L686.1,423.5L682.6,424.2L681.9,425.2L682.4,428.6ZM690.5,424L686.3,423.7L686.9,427.6L691.1,427.9ZM694.3,427.8L695.3,428.8L699.1,427.6L697.2,426.2L695.6,425ZM673.7,431.7L676.3,431.3L677.2,428.4L676.7,427.6L673.1,427.4L672.9,427.7L673.4,431.6ZM681.6,432L682,429L677.2,428.4L676.3,431.3L676.9,432L681.4,432.3ZM695.3,428.8L696.3,431.2L699.7,432L700.4,428.7L700.2,428.5L699.1,427.6ZM706.7,445.2L704.1,444.9L703.1,450.4L707.5,449.1L708,446.2ZM708.2,450L707.5,449.1L703.1,450.4L703.4,453L707.7,453.5ZM716.2,452.9L715.7,453.5L717.6,458.4L717.7,457.8L718.3,455.4L719,453.6ZM699.5,462.2L699.6,462.3L702.1,462.9L703.4,462L703.7,457.6L703.4,457.3L699.3,459.2ZM703.4,462L706.8,462.9L707.8,462.1L707.3,458.2L707,457.8L703.7,457.6ZM707,466.2L706.9,466.1L703.4,467.2L703.1,470.8L703.7,471.5L707.5,470.9L708.1,470.4ZM711.7,469.9L711.9,469.8L712,466.5L711.8,466.2L707,466.2L708.1,470.4ZM715.5,470.8L716.3,471.6L716.1,468.7ZM703.7,471.5L703.3,475.8L703.6,475.7L706.8,475.5L709.2,478.2L709.2,476.4L707.5,470.9ZM641,476.7L638.7,476.9L635.6,477.2L637.1,479.7ZM646.1,477.5L653.3,478.9L654.8,475.3L654.1,475.4L651,475.7L647.9,476L645.3,476.3ZM711.5,480L714.6,477.3L712,473.2L711.6,473.3L709.2,473.9L709.2,476L709.2,478.2L707,475.7L707.3,477.2ZM714.6,477.3L717.6,476.9L717.1,475L716.3,472L713.9,472.6L712,473.2ZM646.1,477.5L645.3,476.3L644.8,476.3L641.8,476.6L641,476.7L637.1,479.7L638.7,482.3L638.5,483.3L640,483.6L645.4,480.8ZM645.4,480.8L640,483.6L642.4,486.8L644.8,486.3L647,485.8ZM653.3,478.9L646.1,477.5L645.4,480.8L647,485.8L647.8,485.7L650.9,485L652.7,485.2L654.6,481.3ZM700.1,481.7L700.4,487.7L706.5,484.9L704.6,481.1ZM640,483.6L638.5,483.3L638.2,485.2L637.6,488.1L639.7,487.5L641.8,487L642.4,486.8ZM652.7,485.2L652.9,485.2L654.9,485.4L658.4,486.8L661.8,488.2L662.3,488.4L656.7,481.6L654.6,481.3ZM700.4,487.7L700,488.8L701.3,491.9L706.5,492.4L708,491.1L709.8,487L706.5,484.9ZM715.2,485.8L713.1,485.3L709.8,487L708,491.1L714,493.7L714.9,492.9ZM708,497.2L706.5,492.4L701.3,491.9L699.6,494.4L699.5,499.4L701.3,500.4L702,500.7ZM708,491.1L706.5,492.4L708,497.2L709.6,498.5L713.3,497.8L714,493.7ZM726,497.4L727.1,495.9L725.8,493.8L724.7,492.3L720.1,491.8L718.8,493.8L720.3,499.8ZM707,505.7L709.2,504.6L709.6,498.5L708,497.2L702,500.7L703.9,501.8L704.5,504L704.9,505.2ZM716.2,499.6L713.3,497.8L709.6,498.5L709.2,504.6L712.2,505.4ZM707.6,513L707.7,512.9L707,505.7L704.9,505.2L705.2,506.2L704.7,509.8L704.3,512.5ZM714.1,509.9L712.5,505.7L712.2,505.4L709.2,504.6L707,505.7L707.7,512.9ZM721.3,506L720.7,504.7L712.5,505.7L714.1,509.9L717,511.5L720.4,510.4L720.5,510.3ZM732.4,509.7L733.3,504.4L728.8,503.8L726.6,505.6L728.6,510.4ZM733.3,504.4L732.4,509.7L735,513L736.2,512.6L734.5,509.8L734.1,507.4L733.7,505L733.4,504.3ZM717,511.5L714.2,518.4L722.6,518.4L723.8,517.3L720.4,510.4ZM720.8,533L720.8,533.4L726.6,536.7L727.2,536.5L728.8,530L726.6,528.5ZM726.6,536.7L720.8,533.4L717.9,537L719.4,537.3L720.7,539.4L722.1,541.5L723.5,544.4L724.5,544.6ZM733.8,542.7L733.9,537.7L733.4,537.2L727.2,536.5L726.6,536.7L724.5,544.6L725.6,544.7L731.8,544.1ZM725.6,544.7L725.9,544.8L728.3,545.2L730.2,548.4L731.7,550.8L732.5,550.4L731.8,544.1ZM732.5,550.4L733.2,550.6L739.1,549.3L740.2,548.2L739.8,546L733.8,542.7L731.8,544.1ZM733.2,550.6L732.5,550.4L731.7,550.8L732.1,551.5L733.1,553.5L734.1,555.5L735.1,555.2ZM702.8,406.7L702.9,404.3L702.7,404.3L700,404.5L697.3,404.8L695.4,405L696,405.8L702.3,407.2ZM708.8,406.2L713.3,405.6L712.3,403.9L710.7,403.4L708.2,403.7ZM696,405.8L695.4,405L694.6,405.1L692.4,406.2L691.1,406.8L690.7,412.1L690.8,412.2L695.1,412.1ZM695.6,412.5L702,410.6L702.3,407.2L696,405.8L695.1,412.1ZM695.6,412.5L695.1,412.1L690.8,412.2L688.9,417L689.4,417.2L690.9,419.3L696.6,415.8ZM690.9,419.3L691.8,420.5L694.2,423.9L694.5,424.1L696.4,423.1L697.6,416.7L696.6,415.8ZM719.1,445.3L714.3,445.5L714.5,445.8L716.6,448.6L719.6,450.3ZM711.5,382.7L711.5,382.8L715.5,384.1L720.1,383.5L720.8,382.4L720.3,379.4L720.1,379.5L717.2,379.9L714.2,380.4L711.8,380.8ZM711.1,384.8L711.5,382.8L711.5,382.7L702.1,382.6L707.5,387.5ZM715.5,384.1L711.5,382.8L711.1,384.8L712.7,387.6L715.1,389.9L716.5,388.8ZM719.5,387.8L720.1,383.5L715.5,384.1L716.5,388.8ZM755.1,387.3L757.7,388.7L760.7,388.5L761.8,387.7L760.8,384.3L757.5,382.9ZM774,383.5L772.5,386.5L776.7,390.3L777.9,389.5L777.8,387.4L777.7,385.3L777.3,384.3ZM700.2,392.2L704.6,390.8L699.6,382.7L698.2,386.4L697.6,388.3ZM712.7,387.6L711.1,384.8L707.5,387.5L706.6,391.2L707.4,392.4ZM715.1,389.9L714.7,392.6L721.7,392.7L722.1,390.1L719.5,387.8L716.5,388.8ZM729.5,390.6L729.3,389.1L725,388.8L724.8,389L726.2,393.1L727.5,393.9ZM746.8,392.9L746.1,390.1L743.4,389.2L740.4,392.5L742.4,394.7L745.8,394.3ZM765.3,388.6L765.6,389.8L767.8,392.9L771.4,392.7L771.3,387.1L767.6,387ZM772.5,393.5L772.7,393.2L775.3,391.3L776.7,390.3L772.5,386.5L771.3,387.1L771.4,392.7ZM690.1,399.9L691.8,397.4L689.9,393.2L689.8,393.3L687.6,395.1L685.9,396.6ZM691.8,397.4L694.9,398.1L695.9,394L693.6,391.6L692.2,392.2L689.9,393.2ZM700.3,396.1L699.8,393.9L695.9,394L694.9,398.1L695.1,398.2ZM706.6,391.2L704.6,390.8L700.2,392.2L699.8,393.9L700.3,396.1L701.8,397.5L703.2,397.9L705,397.1L707.5,392.5L707.4,392.4ZM711.1,399.3L714.7,398.8L715.6,396.7L714.6,392.7L709.3,393.2ZM715.6,396.7L722,396.7L721.8,393L721.7,392.7L714.7,392.6L714.6,392.7ZM750.9,398.5L751.8,393.6L746.8,392.9L745.8,394.3L747.6,398.7ZM756.2,393.8L757.7,398.1L762.4,396.7L762.2,395.5L759.9,392.5ZM765.6,389.8L762.2,395.5L762.4,396.7L763.8,397.6L766.5,397.5L767.8,392.9ZM771.4,392.7L767.8,392.9L766.5,397.5L769.1,399.2L769.4,398.8L771,396L772.5,393.5ZM695.1,398.2L694.9,398.1L691.8,397.4L690.1,399.9L689.6,401.3L691.2,403.7L696.6,402.7ZM698.3,404.7L700,404.5L702.7,404.3L703.8,404.2L703.2,397.9L701.8,397.5L697.1,403ZM715.2,404.2L716.2,401.7L714.7,398.8L711.1,399.3L709.7,400.5L708.9,403.6L710.7,403.4L712.3,403.9L712.6,404.4ZM715.6,396.7L714.7,398.8L716.2,401.7L719.3,401.8L722.7,397.7L722,396.7ZM752.4,402.1L752.3,400.1L750.9,398.5L747.6,398.7L746.7,399.4L744.9,403.5L746.5,404.5L751.8,403.3ZM752.4,402.1L756.7,404L758.6,401.6L757.4,398.5L752.3,400.1ZM673.3,410.5L676.8,408.2L675.5,403.8L673.9,404.8L672.4,408.1L672,408.8ZM685.7,408.8L685.6,401.5L684.4,400.6L681.2,403.3L682.3,407.6ZM691.2,403.7L689.6,401.3L685.6,401.5L685.7,408.8L686.1,409.3L688,408.4L690.2,407.3L690.3,407.2ZM715.2,404.2L712.6,404.4L713.5,406L714.6,408L716.6,407.7ZM721,404.3L719.3,401.8L716.2,401.7L715.2,404.2L716.6,407.7L717.4,407.6L718.4,407.4ZM685.7,408.8L682.3,407.6L678,408.8L678.4,410.4L679.7,410.3L682.7,409.9L685.7,409.5L686.1,409.3ZM748,408.6L747.8,408.9L748.6,412.2L751.9,412.4L751.2,407.8ZM746.5,415.3L743.4,413L740.8,414.9L741.7,415.5L745,417.9L747,417.5ZM751.9,412.4L748.6,412.2L746.5,415.3L747,417.5L747.5,417.4L750,417L752.5,416.5L752.9,412.9ZM732.9,334.8L735,334.5L733.9,334L731.7,333L731.5,333.6ZM742.3,334.3L742,334.2L739.2,332.9L738.4,336L737.2,335.5L737.5,336.8L739.1,337.6ZM743.7,339.2L743.8,339.4L745.4,340.4L748.4,340.9L748.5,338.4L747.5,337.4L744.9,336ZM730.8,341.3L730.7,341.2L729.5,340.9L729,341.7L727.4,343.9L727,344.6L730.2,346.2L732.4,346.1L732.5,346ZM734.4,345.3L735.6,341.6L735,340.7L730.8,341.3L732.5,346ZM744.4,344.6L745.4,340.4L743.8,339.4L741.1,344.3L742.4,344.9ZM747.6,344.3L747.6,344.1L748.3,341.6L748.4,340.9L745.4,340.4L744.4,344.6L746.5,345.3ZM747.1,349.2L746.5,345.3L744.4,344.6L742.4,344.9L743.3,348.6L746,349.4ZM694.6,370.5L694,368.6L693.1,369.7ZM705.2,371.5L706.3,369.4L705.6,370.1L704.8,370.7ZM700.9,372.6L701.2,370.9L700,371.9L699.6,372.2ZM705.2,371.5L704.8,370.7L703.6,371.8L701.7,370.5L701.2,370.9L700.9,372.6L701,372.6L705.3,372.1ZM705.2,371.5L705.3,372.1L705.6,372.3L708.8,372.5L709.8,371.5L710.2,369.9L709,367.8L707.5,368.4L706.3,369.4ZM705.6,372.3L705.3,372.1L701,372.6L701.2,376.5L701.4,376.6L704.9,376.2ZM714.6,373.1L711.9,371.8L709.8,371.5L708.8,372.5L710.6,376.3L711.3,376.6L714.2,375.2ZM704.2,380.4L704.9,380.9L708.1,379.1L708.4,377.9L705,376.5ZM710.6,376.3L708.4,377.9L708.1,379.1L709.4,381.1L711.3,380.9L713,380.6L711.3,376.6ZM716.5,378.7L716.7,376.7L714.2,375.2L711.3,376.6L713,380.6L713.9,380.5ZM721.7,378.5L721.2,376.1L720.5,375.7L718.4,375.7L716.7,376.7L716.5,378.7L718,379.8L718.6,379.7ZM678.5,385.4L678.3,384.2L677.7,384.5L675.5,385.8L678.5,385.5ZM701.1,381.3L699,378.9L696.6,380L696.4,383.1L696.6,383L699.6,382.6L700.5,382.5ZM704.9,380.9L704.2,380.4L702.9,380.4L701.1,381.3L700.5,382.5L702.6,382.2L705.3,381.8ZM705.3,381.8L705.5,381.7L708.4,381.3L709.4,381.1L708.1,379.1L704.9,380.9ZM703.1,322.8L704,322L703.5,318.5L703.1,322.3L703.1,322.8ZM703.7,325.2L704.6,329.4L705.2,329.4L705.2,329L704.6,325.5L704.5,325L703.8,324.9ZM695.4,340.9L700.2,338.6L700.7,336.1L700.1,335.2L699.9,335.4L697.9,337.3L695.8,339.2L695.2,340.7ZM725,339.3L727.2,337.6L727.3,335.7L726.7,334.9L722.9,334.4L721.6,335.9L721.4,336.1ZM730.4,339.6L730.5,339.5L731.1,336.3L731.5,334L731.4,333.9L727.3,335.7L727.2,337.6L730.3,339.6ZM727.4,344L727.4,343.9L729,341.7L730.4,339.6L730.3,339.6L726.7,343.5ZM694.3,349.5L693.8,346.3L691.8,345.6L691.1,346.5L689.1,348.8L689.1,349.3ZM699.7,345.4L699.4,345L696.3,343.9L693.8,346.3L694.3,349.5L695,350.6L698.7,348.7L700,346.5ZM694.8,353.7L694.8,353.6L689,351.2L688.9,352.7L687.7,353.7L691,355.8ZM686.5,357.4L687.4,353.9L686.8,354.4L684.7,356.1L684.8,357.3ZM687.7,353.7L687.4,353.9L686.5,357.4L687.7,358.5L690.2,357.8L691,355.8ZM690.2,357.8L692.2,360.8L695.2,356.7L694.8,353.7L691,355.8ZM687.7,358.5L686.5,357.4L684.8,357.3L685,359.5L686.5,362.7ZM692.5,362.2L694.5,362.8L696.2,362.5L696,357.9L695.2,356.7L692.2,360.8ZM699,363L699.8,366.7L700.1,367L704.2,367.1L705.1,366.6L705.6,364.1L703,361.8L700.1,361.8ZM704.2,367.1L704.4,371.1L705.6,370.1L707.5,368.4L708.1,368.1L705.1,366.6ZM742.2,328.6L746.1,328.5L746.5,328.2L746.8,325L746,325.2L743.2,325.8L742.5,325.9ZM725.4,331.2L726.2,330.1L728.1,330.2L729.5,330.2L729.1,328.5L726.2,329L725.1,329.2ZM734.4,328.4L734.8,328.5L735.6,328.7L735.7,328.4ZM729.1,328.5L729.5,330.2L729.9,330.2L731.3,329.2L732.3,328.5ZM741.6,334L742,334.2L742.9,334.7L746.6,331.6L746.1,328.5L742.2,328.6L742.1,328.7ZM752.4,328.9L752.1,331.4L753.9,332.5L753.5,331.5L755.3,328.3L755.4,328.1ZM760.9,328.9L760.3,333L760.7,333.5L763.3,334.1L762.7,331.7L761.8,328.6L761.8,328.5ZM720.3,333.6L719.7,337.9L721.6,335.9L723.8,333.5ZM751.6,336.9L750.9,332.9L748.1,332.8L746.8,337L747.5,337.4L748,337.9ZM752.1,331.4L750.9,332.9L751.6,336.9L753,337.7L755,337.2L754.9,335.2L753.9,332.5ZM760.3,333L757.4,333.6L756.7,335.1L758.6,337.3L760.4,337L760.7,333.5ZM760.7,333.5L760.4,337L762.1,338.5L764.2,337.3L763.5,334.9L763.3,334.1ZM753,337.7L752.4,342.8L752.7,343.1L756.4,343.1L755.2,341L755.1,338.1L755,337.2ZM758.6,337.3L759.1,337.8L758,341.2L758.6,341.9L761,342.2L761.6,341.6L762.1,338.5L760.4,337ZM762.1,338.5L761.6,341.6L765.4,341.8L765.6,341.2L765.3,341.2L764.4,338.1L764.2,337.3ZM765.4,341.8L766.6,342.9L769.5,341.2L769.5,340.3L767.8,340.7L765.6,341.2ZM769.5,341.2L770.7,342.1L772.7,341.6L772.8,339.6L770.3,340.1L769.5,340.3ZM761,342.2L758.6,341.9L761.1,344.5L761.6,344.7ZM757.2,346.9L758.5,347.2L758.5,347.1L757.6,345.2L756.8,343.8ZM770.7,342.1L770.7,346.1L771.4,346.6L772,346.4L772.4,344.2L772.7,342L772.7,341.6ZM756.4,347.4L752.5,345.9L751.6,347.3L753.4,347.3L755.6,347.2L756.4,347.6ZM763.3,325.3L762.6,323.6L764,320.1L762.1,319.9L760.8,320.8L760.1,322.2L760.9,325.4L761.4,327.1ZM769.3,337.5L770.7,334.3L768.4,333.4L767,331.2L763,333L763.5,334.9L764.1,337.1ZM769.3,337.5L771,340L772.8,339.6L772,337.1L771.2,334.5L770.7,334.3ZM769.3,337.5L764.1,337.1L764.4,338.1L765.3,341.2L767.8,340.7L770.3,340.1L771,340ZM748.5,293.2L750.2,289.9L749.6,288.4L749.4,288.5L746.6,289.1L743.9,289.6L741.2,290.2L739.6,290.5L739.6,291.1L743.3,294.1ZM750.2,289.9L755,291.1L757.9,287.2L757.5,286.7L754.8,287.3L752.1,287.9L749.6,288.4ZM755,291.2L755,291.1L750.2,289.9L748.5,293.2L750.8,298.4L752.7,298.9L753.3,298.6ZM760.7,295.2L755,291.2L753.3,298.6L760.2,298.9L761.3,297.5ZM748.9,305L753,304.7L752.7,298.9L750.8,298.4L747.7,300.1L747.4,301.3ZM761.3,297.5L760.2,298.9L760.5,304.1L763.5,304.5L763.5,303.9L763.4,301.7L765.2,298.2L765.7,297.3ZM702.1,301.6L700.5,300.6L700.7,301.5L701.2,304.9L701.8,308.3L702.1,310L703.8,308.2ZM702.1,301.6L703.8,308.2L707,307.3L707.4,301.9ZM712.2,302.7L708.3,301.3L707.4,301.9L707,307.3L710,308.8L712.7,306.9ZM754.1,306L753.4,309.2L754.6,310.7L760.9,309.3L760.1,304.7ZM760.5,304.1L760.1,304.7L760.9,309.3L761.8,310.8L766.4,310.6L766.5,310.3L766.2,310.1L764.9,308.1L763.5,306.1L763.5,304.5ZM707,307.3L703.8,308.2L702.1,310L702.3,311.7L702.5,312.9L707.9,315.2L710.1,313.8L710,308.8ZM712.7,306.9L710,308.8L710.1,313.8L713.5,314.8L716,307.8ZM761.8,310.8L760.9,313.5L766.3,318.4L767,317.9L768.6,315.1L768.9,314.5L766.4,310.6ZM715,315.8L712.9,320.2L714.8,324L720.9,320.3L719.2,316.2ZM774.7,303.4L774.7,306.8L778.1,307.6L777.9,306.6L774.9,306.5L776.5,303.4ZM771.4,307.6L770.4,306.3L766.6,307.4L767.4,310.8L768.2,311.3L769.1,311.8ZM771.2,316.1L773.4,316.7L775.6,314.8L774.4,311.8L769.7,312.1L770.2,312.4L769.6,313.4ZM774.6,311.3L774.4,311.8L775.6,314.8L779.1,315.7L779,313.9L778.8,310.4L778.6,309.9ZM775.6,314.8L773.4,316.7L773.7,318.9L775,320.4L778.6,319.4L779.2,317.5L779.1,315.7ZM769.9,320.5L768.6,319.3L766,319L766.6,323.4L770.9,323.9ZM775,320.4L774.1,323.7L776.3,325.6L777.1,324L778.2,320.7L778.6,319.4ZM766.6,323.4L765.8,324.4L766.2,326.7L766.3,326.7L768.4,327.9L769.7,328L771.1,324.1L770.9,323.9ZM774.1,323.7L771.1,324.1L769.7,328L771.5,328.3L771.8,329.2L774.3,329.4L774.6,328.8L775.9,326.4L776.3,325.6ZM771.8,329.2L772.6,332L774.3,329.4ZM739.9,287.4L735.6,290.2L735,291.4L735.8,291.3L738.5,290.7L741.2,290.2L742.3,290ZM789.6,281.9L790.5,282.6L797.1,281.4L797.2,281.1L797.2,280.6L796.5,277L793.8,277.7L791.1,278.3L790.6,278.4ZM780.1,288.5L779.9,283L778.2,283L778.5,284.4L779.3,287.5L779.6,288.5ZM785.8,287.3L785.2,283.3L785.1,283.2L780.9,282.5L779.9,283L780.1,288.5L781.2,289.3ZM790.5,282.6L789.6,281.9L785.2,283.3L785.8,287.3L786.8,288.2L793.2,288.8ZM797.1,281.4L795.2,289L796.2,288.7L798.6,287.8L797.9,284.2L797.2,281.1ZM784.3,294L785.8,292.8L786.1,292.5L786.8,288.2L785.8,287.3L781.2,289.3L781.1,292.7ZM786.8,288.2L786.1,292.5L787.3,291.6L789.4,290.9L791.6,290.2L793.8,289.5L794.2,289.4L793.2,288.8ZM780.7,293L781,293.8L779.8,295L780.3,297.2L782,295.8L784.3,294L781.1,292.7ZM799.8,276.2L798.8,276.4L796.5,277L796.9,279.4L798.7,280L799.2,279.8ZM799.2,279.8L798.7,280L798,283.2L802.5,283.1L802.5,282.7L801.2,280.3ZM798,283.2L797.7,283.6L797.9,284.2L798.6,287.8L800.5,286.8L802.5,285.8L802.5,283.1ZM798.4,265.6L796.7,266L794.2,266.6L793.5,266.7L794.8,268.1L797.8,268.5ZM803.2,268.5L803.9,268.7L804.4,267.3L805.7,265.7L807,264.2L805.2,263.8L804.7,263.2L803.4,264.6L802.8,268.2ZM782.2,273.2L788.4,273.6L788.8,273.2L787.9,268L786.5,268.3L784.3,268.7L782.2,269.2L781.4,269.4ZM798.8,273.5L798.7,269L797.8,268.5L794.8,268.1L792.2,273.8L792.5,274.3L798.2,274.4ZM803.3,274.2L803.2,268.5L802.8,268.2L798.7,269L798.8,273.5ZM803.2,268.5L803.3,274.2L804.7,275.4L808.7,273.8L807.9,272.7L806.5,270.7L803.6,269.9L803.9,268.7ZM817.1,274.3L816.8,273.8L815.4,271.4L813.7,271.6L815.7,272.2L816.6,274.1ZM792.5,274.3L792.9,277.9L793.8,277.7L796.5,277L798.4,276.5L798.2,274.4ZM808.3,280.3L809.9,278.5L809.2,274.5L808.7,273.8L804.7,275.4L803.4,279.3L804.3,280.1L804.5,280.4ZM813.8,276.9L811.6,276.8L809.3,274.7L809.2,274.5L809.9,278.5L810.2,278.1L810.4,278.7L813.5,279.2L814.3,278.5ZM816.6,274.1L817,275L815.5,276L814,276.9L813.8,276.9L814.3,278.5L814.5,278.4L816.3,278.6L818.1,278.7L818.2,276.3L817.1,274.3ZM787,278.6L782.1,278.2L780.2,280.7L780.4,280.7L783.1,280.1L785.7,279.5L787.3,279.1ZM810.4,278.7L811,281L812.7,279.7L813.5,279.2ZM782.1,237.9L783.3,239.1L788.8,238.4L788.5,235.6L788,231.8L785.6,232.4L783.2,233L782.8,233.2ZM783.8,242.9L784.9,248.2L785.8,248.4L785.7,247.5L785.3,245.2L786.3,243.7ZM782.5,261.6L783,269L784.3,268.7L786.5,268.3L786,265.4L785.5,262.5L785.3,261ZM776.2,263.4L776.4,264.1L777.1,267.1L777.8,270.1L780,269.7L782.2,269.2L782.5,269.1ZM795.1,238.5L795,237.9L794,235L793,232.1L792,229.1L791,226.2L789.6,227.2L788.2,228.2L788,231.8L788.5,235.6L788.8,237.9ZM795.1,245.1L796.2,251.9L799,250.5L798.1,247.8L797.1,244.5L796.7,243.3ZM789.1,256.3L789.3,256.1L786.9,249.2L785.9,249.1L786,249.8L785.7,253.1L785.4,256.2ZM799.4,257.1L801.9,256L799.9,254.1L799.2,251.1L799,250.5L796.2,251.9L795.4,253L795.4,253.3L797.6,257ZM787.7,263.3L789.8,261.8L789.1,256.3L785.4,256.2L785.3,256.3L785,259.6L785.5,262.2ZM797.6,257L795.4,253.3L789.3,256.1L789.1,256.3L789.8,261.8L795.5,263.4L796.3,262.5ZM795.5,263.4L789.8,261.8L787.7,263.3L786.5,267.9L786.5,268.3L789.1,267.7L791.6,267.2L794.2,266.6L795.8,266.2ZM796.3,262.5L795.5,263.4L795.8,266.2L796.7,266L799.2,265.4L801.1,262.9ZM797.4,230.2L801.8,226L798.9,220.7L796.5,217.7L795.9,220.5L795.3,223.5L793.8,223.9L793.8,226.3L791,226.2L792,229.1L792.2,229.6ZM816.5,227.3L816.9,227.7L829.5,222.1L829.7,215.7L829.4,215.6L821.8,215ZM829.5,222.1L832,226L832.8,225.3L834.4,224L836.2,220.9L835.5,219.7L833.4,217.1L831.1,216.4L829.7,215.7ZM797.8,236.9L797.4,230.2L792.2,229.6L793,232.1L794,235L795,237.9L795.2,238.8ZM810.6,224.2L805.3,226.2L807.6,235.8L807.9,236.2L817.6,236.4L817.6,236.3L818,233.8L818.2,232.6L816.9,227.7L816.5,227.3ZM829.5,222.1L816.9,227.7L818.2,232.6L818.4,231.3L820.5,232.7L822.6,234.1L824.1,233.2L825.5,232.4L826.9,231.2L828.2,230L829.7,228.3L831.2,226.6L832,226ZM809.1,246.8L811,245.4L812.4,244.2L813.8,243L815.5,241L817.2,238.9L817.6,236.4L807.9,236.2L806.5,246.1ZM641.9,234.4L641.9,234L641.9,231.9L639.3,232.5L637.8,233.2L636.6,233.8ZM628.5,247.2L629.1,246.7L629.2,246.7L628.3,242.2L621.9,241.9L620.1,246.8L621.9,248.7L622.6,248.9ZM656,241.2L655.9,241.3L654.4,242.3L652,240.2L651.9,240L648.7,241.6L648.7,244.1L649.7,243.6L652.1,243.5L654.5,243.3L656,242.9ZM656,242.9L656.9,242.6L659.2,241.9L657.4,240.3L656,241.2ZM733.7,327.6L731.9,327.9L729.1,328.5L727.6,328.7L727.7,330L727.8,330.1L728.1,330.2L729.9,330.2L731.3,329.2L732.7,328.1L733.4,328.2ZM742.3,325.9L740.4,326.3L738,326.8L737.5,330.1L738,330.9L738.8,332.3L742.6,332.4ZM745.8,325.2L743.2,325.8L742.3,325.9L742.6,332.4L742.9,332.7L747.7,331.6ZM742.9,332.7L742.6,332.4L738.8,332.3L739.2,332.9L742,334.2L742.9,334.7ZM753.3,330.8L752.8,330L747.8,331.6L748.5,335.1L753.2,335.9ZM761.3,337.2L761.9,332.5L758.2,331.9L757.1,335.6L758.6,337.3ZM753.5,336.3L751.1,340.8L751.5,341.5L755.6,341.7L755.2,341L755.1,338.1L755,336.6ZM762.6,338.1L763.1,341L767.4,341.6L769.1,340.4L767.8,340.7L765.3,341.2L764.4,338.1L764.2,337.3ZM762.1,342.5L762.6,345L767.2,346.6L767.4,341.6L763.1,341ZM767.4,341.6L767.2,346.6L767.3,346.7L772.1,345.9L772.4,344.2L772.7,342L772.8,339.6L770.3,340.1L769.1,340.4ZM757.6,346.8L757.3,348.1L757.5,348.1L759.3,349L758.5,347.1L758.4,346.9ZM762.6,345L762.5,345.1L763.7,345.5L764,349.4L766.7,348.4L767.1,348.3L767.3,346.7L767.2,346.6ZM767.3,346.7L767.1,348.3L769.3,347.4L772,346.4L772.1,345.9ZM311.3,531.5L311.2,531.4L305.9,527.9L303.5,525.8L301.6,528L299.5,531.7L298.8,530.2L298.4,529.9L297.5,532L300.9,533.8L303.7,534.4L307.5,536.5L307.6,536.5ZM744.8,551L745.6,551.3L742.8,555.9L737.7,560.1L732.4,562.8L728.4,564.4L728.3,563.8L732.3,562.2L737.2,559.6L741.7,555.7ZM398.5,543.8L402.1,546L409.4,550.2L413.5,555.5L403.6,561.2L401,564.5L397.8,561.7L395.6,551.8L398.8,547.5Z"/>
<path fill="#f1f4a8" d="M238.3,287L235.8,282L224.5,282L221.1,292.7L235.1,297.1L236.2,296.2ZM222.8,305.5L225.4,310L231.9,313.2L235.2,306.5L233.7,300.5ZM291.5,327.8L280.7,323.6L279.8,323.6L276.1,326.4L273.2,335L278.5,347.8L279.5,348.8L287.9,350.2L292.3,346.9L296,336.6ZM269.8,361.2L271.6,363.9L273.9,367.3L276.2,370.7L278.5,374.1L279.4,375.4L289.9,365.7L287.9,350.2L279.5,348.8ZM679.4,369.8L679.1,370.1L679.4,371.3L682.7,373.3L684.1,372.3L682.7,369.5ZM682.7,373.3L679.4,371.3L678.8,373.5L680,376.1L682.3,375.7ZM679.9,381.1L680.1,380.8L679.1,377.4L676.3,377.1L674.6,378.5L674.5,380.4L675.7,381.6ZM682.3,375.7L680,376.1L679.1,377.4L680.1,380.8L683.9,379.5L684.2,379.2L685.2,377.9ZM690.6,383.9L687.6,384.3L686.7,384.4L684.7,387.4L688.1,391.1L691.4,386.4ZM691.4,386.4L688.1,391.1L688.2,393.3L694.1,389.3L693.8,388.7ZM690.7,372.6L690.6,372.8L688.5,374.6L689.1,376L691,376.6L693.5,374.5ZM698.4,373.1L698.2,373.2L695.5,371.5L693.7,374.4L695.5,376.5L697.7,376.1ZM701.2,376.5L701,372.6L700.9,372.6L699.6,372.2L698.4,373.1L697.7,376.1L699.3,377.3ZM689.1,376L686.7,378.5L687.8,379.9L689.5,380.9L691.9,379.6L691,376.6ZM693.7,374.4L693.5,374.5L691,376.6L691.9,379.6L692,379.7L695.1,378.5L695.5,376.5ZM686.4,384.4L687.6,384.3L689.2,384.1L689.5,380.9L687.8,379.9L685.2,383.3ZM691.9,379.6L689.5,380.9L689.2,384.1L690.6,383.9L693.6,383.4L694.1,383.4L692,379.7ZM696.9,368L694.4,367.3L692.9,368.2L694,368.6L694.9,371.1L695.8,371.7Z"/>
</g>
<g stroke="#fff" stroke-opacity=".1" stroke-width=".5" stroke-linejoin="round">
<path fill="#f1f4a8" d="M274.3,345.2L271.3,359.2L282.3,373.3L286.3,367.2L289.4,349.2L300.4,349.2L301.4,341.1L288.4,330.1L266.3,328.1Z"/>
<path fill="#658dc3" d="M258.2,393.4L254.2,404.4L288.4,410.4L297.4,409.4L294.4,397.4L283.3,382.3L260.2,378.3Z"/>
<path fill="#ea616e" d="M384.3,386.8L384,392.5L392.2,393.3L392.6,396.9L400.9,398.7L406.6,399L408,398.7L403,393.3L404.8,391.5L404.8,383.6L387.2,381.9L384.7,382.8Z"/>
<path fill="#bae5b6" d="M216.2,276.2L214.9,282.9L217,290L225,283.5L238,284L238,275L213,269Z"/>
<path fill="#f1f4a8" d="M221,289L217,293.5L228,293.5L238,294.5L238,284.5L225,283.5Z"/>
<path fill="#96d5b4" d="M211.3,274L212.6,282.4L210,296.2L216,296L217,290L214.9,282.9L216.2,276.2L213.5,269L211,268.5Z"/>
<path fill="#fdcb82" d="M209,275.8L209,275.9L209,276L208.9,276L208.6,277L208.3,278.6L207.6,279.7L207.3,280.8L206.5,281.6L205.8,282.7L203.9,285.1L202.7,286.6L202.5,289.2L202.9,290.4L203.4,292L204.6,294.6L204.6,294.7L204.6,294.8L204.7,294.8L204.7,294.9L204.8,294.9L204.9,295L209.8,296.8L209.9,296.8L210,296.8L210.1,296.8L210.2,296.8L210.2,296.7L210.3,296.7L210.4,296.7L210.4,296.6L210.5,296.6L210.5,296.5L210.6,296.4L210.6,296.3L213.1,283.1L214.8,283.5L214.9,283.5L215,283.5L215.1,283.5L215.2,283.4L215.3,283.4L215.3,283.3L215.4,283.3L215.4,283.2L215.5,283.1L215.5,283L216.3,279.8L216.8,276.3L216.8,276.2L216.8,276.1L216.8,276L216.7,275.9L216.7,275.8L216.6,275.8L216.6,275.7L216.5,275.7L216.4,275.6L213.4,274.4L211.6,273.5L211.5,273.4L211.4,273.4L211.3,273.4L211.2,273.4L211.1,273.4L211,273.5L210.9,273.5L210.9,273.6L210.8,273.6Z"/>
<path fill="#fdcb82" d="M213.1,319.1L218.1,317L217.1,306L211,307Z"/>
<path fill="#fbdc8c" d="M349.6,337.1L363.1,338.1L362.7,333.1L348.6,332.1Z"/>
<path fill="#f1f4a8" d="M387.6,413L393,414L399.4,414.4L399,409.6L387.3,409.2Z"/>
<path fill="#f1f4a8" d="M690.3,366.4L694.2,371.6L702,372.9L706,370.3L708.6,362.5L702,358.6L694.2,357.3L689,361.2Z"/>
<path fill="#f1f4a8" d="M672.1,372.9L670.8,378.1L676,383.3L683.8,380.7L692.9,370.9L689,367.7L683.8,365.1L676,367.7L669.5,365.7Z"/>
<path fill="#f1f4a8" d="M686.4,379.4L692.9,379.4L704.7,375.5L699.4,372.9L687.7,374.2Z"/>
<path fill="#fdcb82" d="M691.9,366.6L695.8,364.8L692.9,360.9L688.8,362.2Z"/>
<path fill="#fdcb82" d="M670.8,369L677.3,369.6L676,367.7L669.5,366.4Z"/>
<path fill="#fdcb82" d="M683.2,371.6L685.8,372.9L686.4,367.7L682.5,367Z"/>
<path fill="#fdcb82" d="M678,376.8L682.5,378.1L681.2,372.9L676.7,372.9Z"/>
<path fill="#f7a277" d="M673.4,385.2L676,384.6L676.7,380.7L672.8,381.3Z"/>
<path fill="#f4907a" d="M696.8,367.7L701.8,368.3L702.3,365.7L700.1,363.5L695.5,364.4Z"/>
<path fill="#ea616e" d="M695.3,370.3L697.5,372.2L700.7,371.3L701.8,368.2L695.3,367.7Z"/>
</g>
<g fill="none" stroke="#fff" stroke-width="1.700" stroke-linejoin="round">
<path d="M234.7,169.8L235.9,170.4L238,172.4L240,174.4L242.2,175.4L244.3,176.4L246.4,177.4L248.1,177.5L249.8,177.6L251.7,179.4L253,179.2L253,181.4L253.2,183.8L251.3,185.6L248.6,187.2L246.5,189L247.9,189.7L250.4,186.9L251.9,187.1L251.7,189.7L249.6,191.5L247.4,193.2L247,194.7L249.2,194.6L251.4,192.8L252.8,192.7L254.2,190.4L254.4,187.8L255.4,185.2L257.3,183.4L256.9,180.9L255.9,179L257.3,177.9L256.4,175.2L257.5,173.2L257.7,170.9L256.3,168.1L256.7,166.6L259.1,167.3L261.5,168L264,168.7L266.4,169.4L268.9,170.1L271.3,170.7L273.7,171.4L276.2,172.1L278.6,172.7L281.1,173.4L283.5,174L286,174.6L288.5,175.2L290.9,175.9L293.4,176.5L295.8,177.1L298.3,177.7L300.8,178.3L303.2,178.9L305.7,179.4L308.2,180L310.6,180.6L313.1,181.1L312.3,184.6L311.5,188L310.8,191.5L310,195L309.2,198.4L308.4,201.9L307.6,205.4L306.9,208.9L306.1,212.3L305.3,215.8L304.5,219.3L304.7,221.4L304.9,223.5L304.3,226L301.9,225.5L299.5,224.9L297.2,224.4L294.8,223.8L292.4,223.3L290,222.7L287.7,222.1L285.3,221.6L282.9,221L281.1,221.1L279.3,221.2L276.8,221.1L274.2,221.1L271.7,221L269.3,220.8L267,220.7L264.6,220.5L261.8,220.8L258.9,221.1L257.3,219.8L255.7,218.5L253.6,218.2L251.4,217.9L249.7,218.2L247.9,218.5L245.4,217.4L243,216.3L242.9,212.6L242.5,208.5L240.4,207.1L238.3,205.7L236.3,205.1L234.2,204.5L232.4,203.1L232.4,200.7L234.2,197.3L233.8,193.2L234,189.6L234.3,186.1L234,183.1L233.7,180.1L233.5,177.1L233.6,175L233.7,172.9ZM211.3,265L210.9,262.5L210.5,259.9L210.7,257.1L210.9,254.3L211.2,251.4L212.6,249.8L214.1,248.1L215.8,245.4L217.5,242.7L219.3,239.3L221.1,235.8L222.2,232.7L223.3,229.7L224.5,226.7L225.9,223.2L227.3,219.8L228.7,216.4L229.6,213.7L230.5,211.1L231.4,208.4L231.9,205.8L232.4,203.1L234.2,204.5L236.3,205.1L238.3,205.7L240.4,207.1L242.5,208.5L242.9,212.6L243,216.3L245.4,217.4L247.9,218.5L249.7,218.2L251.4,217.9L253.6,218.2L255.7,218.5L257.3,219.8L258.9,221.1L261.8,220.8L264.6,220.5L267,220.7L269.3,220.8L271.7,221L274.2,221.1L276.8,221.1L279.3,221.2L281.1,221.1L282.9,221L285.3,221.6L287.7,222.1L290,222.7L292.4,223.3L294.8,223.8L297.2,224.4L299.5,224.9L301.9,225.5L304.3,226L305.1,229.3L306.7,233.6L305.4,235.7L304.1,237.7L301.7,241.1L299.3,244.5L297.7,246.5L296.1,248.5L297.1,251.9L297.7,255.2L295.7,258.7L295,262.1L294.2,265.5L293.5,268.8L292.7,272.2L291.9,275.6L291.2,279L290.4,282.4L289.7,285.8L286.9,285.2L284.2,284.5L281.5,283.9L278.7,283.3L276,282.6L273.3,282L270.6,281.3L267.9,280.6L265.1,280L262.4,279.3L259.7,278.6L257,277.9L254.3,277.2L251.6,276.5L248.9,275.8L246.2,275L243.5,274.3L240.8,273.6L238.1,272.8L235.4,272.1L232.7,271.3L230,270.6L227.3,269.8L224.6,269L222,268.2L219.3,267.4L216.6,266.6L213.9,265.8ZM287.1,432L284.1,431.7L281,431.3L277.9,431L274.8,430.6L271.8,430.3L268.7,429.9L265.6,429.6L262.5,429.2L259.5,428.8L256.4,428.4L255.2,426L255.5,423.2L255.3,420.4L255.2,417.6L253.8,415.2L252.4,412.8L250,410L248.6,408.5L247.2,407L244.8,406.4L244.4,402.3L242.6,401.9L240.8,401.4L238.3,399.6L235.8,397.8L235.6,395.9L233.4,394.3L231.3,392.7L229,391.9L226.7,391.1L224.4,390.3L222.1,389.5L220.4,387L220.9,384.6L221.5,382.2L222.7,378.5L220.9,374.5L219.1,371.6L217.2,368.7L216.5,366.2L215.8,363.8L214.1,360.5L212.5,357.3L212.8,355L213.2,352.6L215.7,350.1L213.7,347L212.1,344.6L210.4,342.2L210.5,339.8L210.5,337.4L211.1,335.3L211.7,333.2L213,333.3L212.7,336.4L215,339.5L216.2,339.4L215.7,337L215.1,334.7L214.5,332.1L215.8,330L213.7,328.6L212.2,331.5L211.3,332.5L209.9,330.8L208.4,329.5L206.9,328.3L207.3,326L207.6,323.7L206.4,320.5L205.2,317.3L204.1,314.6L203.1,311.8L203.7,308L204.2,304.1L204.7,301.4L205.2,298.7L204.5,296.1L203.8,293.4L202.9,290.4L202,287.4L203.9,285.1L205.8,282.7L207.1,280.7L208.3,278.6L208.9,275.3L209.5,272L210.1,268.7L211.3,265L213.9,265.8L216.6,266.6L219.3,267.4L222,268.2L224.6,269L227.3,269.8L230,270.6L232.7,271.3L235.4,272.1L238.1,272.8L240.8,273.6L243.5,274.3L246.2,275L248.9,275.8L251.6,276.5L254.3,277.2L257,277.9L256,281.6L255.1,285.4L254.1,289.1L253.1,292.9L252.2,296.6L251.2,300.3L250.2,304.1L249.3,307.8L248.3,311.6L247.3,315.3L246.4,319.1L245.4,322.8L247.5,326.3L249.6,329.7L251.7,333.1L253.9,336.6L256,340L258.2,343.4L260.4,346.9L262.6,350.3L264.8,353.7L267.1,357.1L269.3,360.5L271.6,363.9L273.9,367.3L276.2,370.7L278.5,374.1L280.8,377.5L283.2,380.8L285.5,384.2L287.9,387.6L290.3,390.9L292.7,394.3L295.1,397.7L295,400L295.7,402.9L296.4,405.8L297.8,407.6L299.1,409.5L296.6,411.3L293.4,414.6L292.4,416.8L291.3,419L290.2,421.1L289.1,423.2L289.9,425.8L290.7,428.3L289.6,430.2L288.4,432.1ZM257,277.9L259.7,278.6L262.4,279.3L265.1,280L267.9,280.6L270.6,281.3L273.3,282L276,282.6L278.7,283.3L281.5,283.9L284.2,284.5L286.9,285.2L289.7,285.8L292.4,286.4L295.1,287L297.9,287.6L300.6,288.2L303.4,288.8L306.1,289.4L308.9,289.9L311.6,290.5L314.4,291L317.1,291.6L319.9,292.1L322.7,292.7L321.9,296.5L321.2,300.3L320.5,304L319.7,307.8L319,311.6L318.3,315.4L317.6,319.2L316.8,323L316.1,326.8L315.4,330.6L314.6,334.4L313.9,338.2L313.2,342L312.4,345.8L311.7,349.6L311,353.4L310.3,357.2L309.5,361L308.8,364.8L308.1,368.6L307.5,371.7L306.9,374.7L306.3,377.8L305.7,380.8L303.5,380.8L301.4,380.7L299.1,381.3L296.9,381.9L296.6,384.6L296.3,387.3L296,389.9L296.2,392.4L296.5,394.8L295.1,397.7L292.7,394.3L290.3,390.9L287.9,387.6L285.5,384.2L283.2,380.8L280.8,377.5L278.5,374.1L276.2,370.7L273.9,367.3L271.6,363.9L269.3,360.5L267.1,357.1L264.8,353.7L262.6,350.3L260.4,346.9L258.2,343.4L256,340L253.9,336.6L251.7,333.1L249.6,329.7L247.5,326.3L245.4,322.8L246.4,319.1L247.3,315.3L248.3,311.6L249.3,307.8L250.2,304.1L251.2,300.3L252.2,296.6L253.1,292.9L254.1,289.1L255.1,285.4L256,281.6ZM313.1,181.1L315.6,181.7L318,182.2L320.5,182.8L322.9,183.3L322.2,187L321.4,190.7L320.6,194.4L319.8,198.1L320.9,200.7L322.1,203.3L321.6,207.1L323.2,209.4L324.9,211.7L326.5,214.3L328.1,217L329.3,219.2L330.5,221.4L332.9,222.6L331.9,225.1L330.8,227.7L331.1,231.6L329.5,234.6L327.8,237.7L329.7,239.1L332.1,238.1L334.4,237.1L335.1,239.5L335.7,241.9L336.9,244.4L338.1,247L337.2,248.8L338.8,251.8L340,254.6L341.1,257.4L343.1,258.8L345.9,258.3L348.8,257.8L351,258L353.1,258.2L355.9,258.2L358.7,258.1L360.4,259.5L362.1,261L361.5,264.7L360.9,268.5L360.3,272.2L359.7,276L359.1,279.7L358.5,283.5L357.9,287.3L357.3,291L356.7,294.8L356.1,298.5L353.3,298.1L350.5,297.6L347.7,297.2L344.9,296.7L342.1,296.2L339.4,295.7L336.6,295.2L333.8,294.7L331,294.2L328.2,293.7L325.4,293.2L322.7,292.7L319.9,292.1L317.1,291.6L314.4,291L311.6,290.5L308.9,289.9L306.1,289.4L303.4,288.8L300.6,288.2L297.9,287.6L295.1,287L292.4,286.4L289.7,285.8L290.4,282.4L291.2,279L291.9,275.6L292.7,272.2L293.5,268.8L294.2,265.5L295,262.1L295.7,258.7L297.7,255.2L297.1,251.9L296.1,248.5L297.7,246.5L299.3,244.5L301.7,241.1L304.1,237.7L305.4,235.7L306.7,233.6L305.1,229.3L304.3,226L304.9,223.5L304.7,221.4L304.5,219.3L305.3,215.8L306.1,212.3L306.9,208.9L307.6,205.4L308.4,201.9L309.2,198.4L310,195L310.8,191.5L311.5,188L312.3,184.6ZM322.9,183.3L325.4,183.8L327.9,184.3L330.4,184.9L332.9,185.4L335.4,185.9L337.9,186.4L340.4,186.9L342.9,187.4L345.4,187.8L347.9,188.3L350.4,188.8L352.9,189.2L355.4,189.7L357.9,190.1L360.4,190.6L363,191L365.5,191.4L368,191.8L370.5,192.2L373,192.6L375.5,193L378,193.4L380.6,193.8L383.1,194.2L385.6,194.6L388.1,194.9L390.6,195.3L393.2,195.6L395.7,196L398.2,196.3L400.7,196.7L403.3,197L405.8,197.3L408.3,197.6L410.8,197.9L413.4,198.2L415.9,198.5L418.4,198.8L421,199.1L423.5,199.4L426,199.6L428.6,199.9L431.1,200.1L433.6,200.4L436.2,200.6L438.7,200.8L441.2,201.1L443.8,201.3L443.5,204.8L443.2,208.4L442.9,212L442.6,215.5L442.3,219.1L442,222.7L441.6,226.2L441.3,229.8L441,233.4L440.7,237L440.4,240.6L440.1,244.1L439.8,247.7L439.5,251.3L439.2,254.9L438.9,258.5L438.6,262.1L435.9,261.9L433.2,261.6L430.5,261.4L427.8,261.1L425.1,260.9L422.4,260.6L419.7,260.3L417,260L414.4,259.8L411.7,259.5L409,259.2L406.3,258.8L403.6,258.5L400.9,258.2L398.2,257.9L395.5,257.5L392.8,257.2L390.2,256.8L387.5,256.5L384.8,256.1L382.1,255.7L379.4,255.4L376.8,255L374.1,254.6L371.4,254.2L368.7,253.8L366.1,253.3L363.4,252.9L363,255.6L362.5,258.3L362.1,261L360.4,259.5L358.7,258.1L355.9,258.2L353.1,258.2L351,258L348.8,257.8L345.9,258.3L343.1,258.8L341.1,257.4L340,254.6L338.8,251.8L337.2,248.8L338.1,247L336.9,244.4L335.7,241.9L335.1,239.5L334.4,237.1L332.1,238.1L329.7,239.1L327.8,237.7L329.5,234.6L331.1,231.6L330.8,227.7L331.9,225.1L332.9,222.6L330.5,221.4L329.3,219.2L328.1,217L326.5,214.3L324.9,211.7L323.2,209.4L321.6,207.1L322.1,203.3L320.9,200.7L319.8,198.1L320.6,194.4L321.4,190.7L322.2,187ZM376.4,317.2L373.5,316.8L370.7,316.4L367.8,316L365,315.6L362.2,315.1L359.3,314.7L356.5,314.3L353.7,313.8L354.3,310L354.9,306.2L355.5,302.4L356.1,298.5L356.7,294.8L357.3,291L357.9,287.3L358.5,283.5L359.1,279.7L359.7,276L360.3,272.2L360.9,268.5L361.5,264.7L362.1,261L362.5,258.3L363,255.6L363.4,252.9L366.1,253.3L368.7,253.8L371.4,254.2L374.1,254.6L376.8,255L379.4,255.4L382.1,255.7L384.8,256.1L387.5,256.5L390.2,256.8L392.8,257.2L395.5,257.5L398.2,257.9L400.9,258.2L403.6,258.5L406.3,258.8L409,259.2L411.7,259.5L414.4,259.8L417,260L419.7,260.3L422.4,260.6L425.1,260.9L427.8,261.1L430.5,261.4L433.2,261.6L435.9,261.9L438.6,262.1L438.3,265.9L438,269.8L437.6,273.6L437.3,277.4L437,281.3L436.7,285.1L436.3,288.9L436,292.8L435.7,296.6L435.3,300.5L435,304.3L434.7,308.1L434.4,312L434,315.8L433.7,319.7L433.4,323.5L430.5,323.3L427.7,323L424.8,322.8L422,322.5L419.1,322.2L416.2,322L413.4,321.7L410.5,321.4L407.7,321.1L404.8,320.7L402,320.4L399.1,320.1L396.3,319.8L393.4,319.4L390.6,319.1L387.7,318.7L384.9,318.3L382,318L379.2,317.6ZM322.7,292.7L325.4,293.2L328.2,293.7L331,294.2L333.8,294.7L336.6,295.2L339.4,295.7L342.1,296.2L344.9,296.7L347.7,297.2L350.5,297.6L353.3,298.1L356.1,298.5L355.5,302.4L354.9,306.2L354.3,310L353.7,313.8L356.5,314.3L359.3,314.7L362.2,315.1L365,315.6L367.8,316L370.7,316.4L373.5,316.8L376.4,317.2L375.8,321L375.3,324.8L374.8,328.7L374.2,332.5L373.7,336.3L373.2,340.2L372.7,344L372.1,347.8L371.6,351.7L371.1,355.5L370.5,359.3L370,363.2L369.5,367L368.9,370.9L368.4,374.7L367.9,378.5L364.9,378.1L361.9,377.7L358.9,377.2L355.9,376.8L352.9,376.3L349.9,375.9L346.9,375.4L343.9,374.9L340.9,374.5L337.9,374L334.9,373.5L331.9,373L328.9,372.5L326,371.9L323,371.4L320,370.9L317,370.3L314,369.8L311,369.2L308.1,368.6L308.8,364.8L309.5,361L310.3,357.2L311,353.4L311.7,349.6L312.4,345.8L313.2,342L313.9,338.2L314.6,334.4L315.4,330.6L316.1,326.8L316.8,323L317.6,319.2L318.3,315.4L319,311.6L319.7,307.8L320.5,304L321.2,300.3L321.9,296.5ZM355.9,465.3L353,464.9L350.1,464.5L347.2,464.1L344.3,463.6L341.4,463.2L338.5,462.8L335.6,462.3L332.7,461.9L329.8,461.4L326.8,459.7L323.8,458L320.8,456.3L317.8,454.6L314.8,452.9L311.8,451.1L308.8,449.4L305.9,447.6L302.9,445.9L300,444.1L297,442.4L294.1,440.6L291.1,438.8L288.2,437L285.3,435.2L287.1,432L288.4,432.1L289.6,430.2L290.7,428.3L289.9,425.8L289.1,423.2L290.2,421.1L291.3,419L292.4,416.8L293.4,414.6L296.6,411.3L299.1,409.5L297.8,407.6L296.4,405.8L295.7,402.9L295,400L295.1,397.7L296.5,394.8L296.2,392.4L296,389.9L296.3,387.3L296.6,384.6L296.9,381.9L299.1,381.3L301.4,380.7L303.5,380.8L305.7,380.8L306.3,377.8L306.9,374.7L307.5,371.7L308.1,368.6L311,369.2L314,369.8L317,370.3L320,370.9L323,371.4L326,371.9L328.9,372.5L331.9,373L334.9,373.5L337.9,374L340.9,374.5L343.9,374.9L346.9,375.4L349.9,375.9L352.9,376.3L355.9,376.8L358.9,377.2L361.9,377.7L364.9,378.1L367.9,378.5L367.4,382.3L366.8,386.1L366.3,389.9L365.8,393.6L365.3,397.4L364.8,401.2L364.2,405L363.7,408.8L363.2,412.5L362.7,416.3L362.1,420.1L361.6,423.9L361.1,427.6L360.6,431.4L360.1,435.2L359.5,438.9L359,442.7L358.5,446.5L358,450.2L357.5,454L356.9,457.8L356.4,461.5ZM440.8,386.2L437.9,386L435,385.8L432.1,385.6L429.1,385.3L426.2,385.1L423.3,384.8L420.4,384.6L417.4,384.3L414.5,384L411.6,383.7L408.7,383.4L405.8,383.1L402.8,382.8L399.9,382.5L397,382.2L394.1,381.8L391.2,381.5L388.3,381.2L385.3,380.8L382.4,380.4L379.5,380.1L376.6,379.7L373.7,379.3L370.8,378.9L367.9,378.5L368.4,374.7L368.9,370.9L369.5,367L370,363.2L370.5,359.3L371.1,355.5L371.6,351.7L372.1,347.8L372.7,344L373.2,340.2L373.7,336.3L374.2,332.5L374.8,328.7L375.3,324.8L375.8,321L376.4,317.2L379.2,317.6L382,318L384.9,318.3L387.7,318.7L390.6,319.1L393.4,319.4L396.3,319.8L399.1,320.1L402,320.4L404.8,320.7L407.7,321.1L410.5,321.4L413.4,321.7L416.2,322L419.1,322.2L422,322.5L424.8,322.8L427.7,323L430.5,323.3L433.4,323.5L436.2,323.8L439.1,324L442,324.2L444.8,324.5L447.7,324.7L450.6,324.9L453.4,325.1L456.3,325.2L456,329.1L455.8,333L455.5,336.8L455.3,340.7L455,344.5L454.8,348.4L454.6,352.3L454.3,356.1L454.1,360L453.8,363.9L453.6,367.7L453.3,371.6L453.1,375.4L452.8,379.3L452.6,383.2L452.3,387L449.5,386.8L446.6,386.7L443.7,386.5ZM389.3,462.5L386.2,462.1L383.1,461.8L380,461.4L376.9,461L373.8,460.6L370.7,460.3L367.7,459.9L367.2,463.3L366.8,466.7L364,466.4L361.3,466L358.6,465.7L355.9,465.3L356.4,461.5L356.9,457.8L357.5,454L358,450.2L358.5,446.5L359,442.7L359.5,438.9L360.1,435.2L360.6,431.4L361.1,427.6L361.6,423.9L362.1,420.1L362.7,416.3L363.2,412.5L363.7,408.8L364.2,405L364.8,401.2L365.3,397.4L365.8,393.6L366.3,389.9L366.8,386.1L367.4,382.3L367.9,378.5L370.8,378.9L373.7,379.3L376.6,379.7L379.5,380.1L382.4,380.4L385.3,380.8L388.3,381.2L391.2,381.5L394.1,381.8L397,382.2L399.9,382.5L402.8,382.8L405.8,383.1L408.7,383.4L411.6,383.7L414.5,384L417.4,384.3L420.4,384.6L423.3,384.8L426.2,385.1L429.1,385.3L432.1,385.6L435,385.8L437.9,386L440.8,386.2L440.6,390.1L440.3,394L440,397.8L439.6,401.7L439.3,405.5L439,409.4L438.7,413.2L438.4,417.1L438,420.9L437.7,424.8L437.4,428.7L437.1,432.5L436.8,436.4L436.4,440.2L436.1,444L435.8,447.9L435.5,451.7L435.2,455.6L434.8,459.4L434.5,463.3L431.4,463L428.4,462.8L425.3,462.5L422.2,462.3L419.2,462L416.1,461.7L413,461.5L410,461.2L406.9,460.9L403.8,460.6L400.8,460.3L397.7,460L394.6,459.6L391.6,459.3L388.5,459ZM443.8,201.3L446.2,201.5L448.7,201.7L451.2,201.9L453.7,202.1L456.1,202.3L458.6,202.4L461.1,202.6L463.6,202.8L466,202.9L468.5,203.1L471,203.2L473.5,203.3L475.9,203.5L478.4,203.6L480.9,203.7L483.4,203.8L485.9,203.9L488.3,204L490.8,204.1L493.3,204.2L495.8,204.3L498.3,204.4L500.7,204.4L503.2,204.5L505.7,204.6L508.2,204.6L510.7,204.6L513.1,204.7L513.5,208.5L513.9,212.3L514.2,215.2L514.6,218.1L515,221.1L515.9,224.3L516.8,227.5L517,230.7L517.2,233.8L517.5,237L518.1,240.1L518.7,243.2L519.3,246.3L519.5,248.8L519.7,251.4L517,251.3L514.4,251.3L511.7,251.3L509,251.2L506.4,251.2L503.7,251.1L501,251.1L498.4,251L495.7,250.9L493,250.9L490.4,250.8L487.7,250.7L485,250.6L482.4,250.5L479.7,250.3L477.1,250.2L474.4,250.1L471.7,249.9L469.1,249.8L466.4,249.6L463.7,249.5L461.1,249.3L458.4,249.1L455.8,249L453.1,248.8L450.5,248.6L447.8,248.4L445.1,248.2L442.5,248L439.8,247.7L440.1,244.1L440.4,240.6L440.7,237L441,233.4L441.3,229.8L441.6,226.2L442,222.7L442.3,219.1L442.6,215.5L442.9,212L443.2,208.4L443.5,204.8ZM438.6,262.1L438.9,258.5L439.2,254.9L439.5,251.3L439.8,247.7L442.5,248L445.1,248.2L447.8,248.4L450.5,248.6L453.1,248.8L455.8,249L458.4,249.1L461.1,249.3L463.7,249.5L466.4,249.6L469.1,249.8L471.7,249.9L474.4,250.1L477.1,250.2L479.7,250.3L482.4,250.5L485,250.6L487.7,250.7L490.4,250.8L493,250.9L495.7,250.9L498.4,251L501,251.1L503.7,251.1L506.4,251.2L509,251.2L511.7,251.3L514.4,251.3L517,251.3L519.7,251.4L519.2,253.5L516.5,256.5L518.7,259.6L520.8,261.2L520.8,264.6L520.8,268.1L520.8,271.5L520.8,275L520.7,278.5L520.7,281.9L520.7,285.4L520.7,288.9L519,288.8L519.8,291.9L520.7,295L519,298.9L519.5,301.6L520.1,304.3L517.8,302.5L515.6,300.7L513.9,299.7L512.3,298.8L510.6,298.8L508.9,298.8L506.1,299.3L503.3,299.9L500.5,298L497.8,296.2L495.1,296.1L492.4,296L489.7,296L487,295.9L484.3,295.8L481.7,295.7L479,295.5L476.3,295.4L473.6,295.3L470.9,295.2L468.2,295L465.5,294.9L462.8,294.7L460.2,294.5L457.5,294.4L454.8,294.2L452.1,294L449.4,293.8L446.7,293.6L444,293.4L441.4,293.2L438.7,293L436,292.8L436.3,288.9L436.7,285.1L437,281.3L437.3,277.4L437.6,273.6L438,269.8L438.3,265.9ZM456.3,325.2L453.4,325.1L450.6,324.9L447.7,324.7L444.8,324.5L442,324.2L439.1,324L436.2,323.8L433.4,323.5L433.7,319.7L434,315.8L434.4,312L434.7,308.1L435,304.3L435.3,300.5L435.7,296.6L436,292.8L438.7,293L441.4,293.2L444,293.4L446.7,293.6L449.4,293.8L452.1,294L454.8,294.2L457.5,294.4L460.2,294.5L462.8,294.7L465.5,294.9L468.2,295L470.9,295.2L473.6,295.3L476.3,295.4L479,295.5L481.7,295.7L484.3,295.8L487,295.9L489.7,296L492.4,296L495.1,296.1L497.8,296.2L500.5,298L503.3,299.9L506.1,299.3L508.9,298.8L510.6,298.8L512.3,298.8L513.9,299.7L515.6,300.7L517.8,302.5L520.1,304.3L520.9,306.6L521.7,308.9L523.1,312.8L524.5,316.6L525.5,320L526.5,323.4L526.9,326.2L527.4,329L527.9,331.5L528.3,333.9L529.6,336.5L530.9,339L533.7,342.9L530.8,342.9L527.9,342.9L525,342.9L522.1,342.9L519.2,342.9L516.3,342.9L513.4,342.9L510.5,342.8L507.6,342.8L504.6,342.7L501.7,342.7L498.8,342.6L495.9,342.5L493,342.4L490.1,342.4L487.2,342.3L484.3,342.2L481.4,342L478.5,341.9L475.6,341.8L472.7,341.7L469.8,341.5L466.9,341.4L464,341.2L461.1,341L458.2,340.9L455.3,340.7L455.5,336.8L455.8,333L456,329.1ZM542.4,389.2L539.4,389.3L536.4,389.3L533.4,389.3L530.4,389.4L527.4,389.4L524.4,389.4L521.4,389.4L518.4,389.3L515.4,389.3L512.4,389.3L509.4,389.3L506.4,389.2L503.4,389.2L500.4,389.1L497.4,389L494.3,388.9L491.3,388.9L488.3,388.8L485.3,388.7L482.3,388.6L479.3,388.4L476.3,388.3L473.3,388.2L470.3,388L467.3,387.9L464.3,387.7L461.3,387.6L458.3,387.4L455.3,387.2L452.3,387L452.6,383.2L452.8,379.3L453.1,375.4L453.3,371.6L453.6,367.7L453.8,363.9L454.1,360L454.3,356.1L454.6,352.3L454.8,348.4L455,344.5L455.3,340.7L458.2,340.9L461.1,341L464,341.2L466.9,341.4L469.8,341.5L472.7,341.7L475.6,341.8L478.5,341.9L481.4,342L484.3,342.2L487.2,342.3L490.1,342.4L493,342.4L495.9,342.5L498.8,342.6L501.7,342.7L504.6,342.7L507.6,342.8L510.5,342.8L513.4,342.9L516.3,342.9L519.2,342.9L522.1,342.9L525,342.9L527.9,342.9L530.8,342.9L533.7,342.9L536.1,344.4L538.5,345.9L536.2,349.7L538.6,353.4L540.3,355L541.9,356.6L542,360.2L542,363.8L542.1,367.5L542.1,371.1L542.2,374.7L542.2,378.4L542.3,382L542.4,385.6ZM440.8,386.2L443.7,386.5L446.6,386.7L449.5,386.8L452.3,387L455.3,387.2L458.3,387.4L461.3,387.6L464.3,387.7L467.3,387.9L470.3,388L473.3,388.2L476.3,388.3L479.3,388.4L482.3,388.6L485.3,388.7L488.3,388.8L491.3,388.9L494.3,388.9L497.4,389L500.4,389.1L503.4,389.2L506.4,389.2L509.4,389.3L512.4,389.3L515.4,389.3L518.4,389.3L521.4,389.4L524.4,389.4L527.4,389.4L530.4,389.4L533.4,389.3L536.4,389.3L539.4,389.3L542.4,389.2L542.5,393.1L542.5,397L543,400.4L543.6,403.8L544.1,407.2L544.6,410.6L545.1,414L545.1,417.4L545.1,420.8L545.1,424.2L545,427.6L545,431L545,434.4L545,437.8L544.9,441.2L542.9,440.4L540.9,439.5L538.3,438L535.8,436.5L533.2,436.7L530.7,436.9L528.4,437.5L526.1,438.2L523.8,438.9L521.2,438.7L518.7,438.5L516.5,437.5L514.3,436.5L511.1,440L508.9,438.6L506.7,437.2L503.9,437.3L501,437.4L499.2,433.5L496.1,433.3L492.9,433L490.4,432.2L487.9,431.3L485.5,430.5L482.3,429.7L479.2,429L477.4,427.5L475.6,426.1L475.7,422.3L475.9,418.6L476.1,414.8L476.2,411.1L476.4,407.3L476.5,403.6L476.7,399.8L476.8,396.1L473.8,396L470.7,395.8L467.7,395.7L464.6,395.5L461.6,395.3L458.6,395.2L455.5,395L452.5,394.8L449.4,394.6L446.4,394.4L443.3,394.2L440.3,394L440.6,390.1ZM554.3,501.7L551.9,502.5L549.4,503.3L547,504.1L544.7,505.5L542.4,507L544.3,504.2L542.3,502.7L540.3,501.2L539,503.5L540.4,506.5L539.1,508.8L537.7,511.1L535.1,513.8L532.2,515.5L529.3,517.2L526.3,518.9L524,519.6L521.6,520.4L519.6,519.6L517.6,518.8L518.9,522.7L515.5,525.3L512.1,528L509.3,531L505.9,530.9L506.9,533.2L507.9,535.5L507.2,539.3L506.4,543.2L507.1,546.2L507.7,549.3L508.3,552L508.8,554.7L509.4,557.3L509.7,559L507.2,559.6L504.8,560.2L502,558.8L499.3,557.5L496.5,557L493.7,556.6L490.3,554.5L486.9,552.3L484.8,551.9L482.8,551.4L481.8,548.1L480.9,544.8L479.6,542.1L478.4,539.4L478.1,537.1L477.8,534.8L475.5,532.6L473.2,530.3L470.3,526.4L467.5,522.4L466.3,519.2L465.1,515.9L464,512.8L462.9,509.7L461.2,507.7L459.5,505.6L456.7,502.3L453.9,498.9L450.8,498.6L447.7,498.2L444.6,497.9L442,496.5L439.3,497.4L436.6,498.2L435.4,501.2L434.2,504.1L432,506.8L429.7,509.4L426.4,508.4L423.9,506.4L421.4,504.3L418.9,502.7L416.3,501L413.8,499.4L412.1,495.4L410.5,491.4L410.8,488.3L409.1,485.1L407.4,481.8L405,479.4L402.6,476.9L400.2,474.5L397.8,472.2L395.4,469.9L393,467.7L391.2,465.1L389.3,462.5L388.5,459L391.6,459.3L394.6,459.6L397.7,460L400.8,460.3L403.8,460.6L406.9,460.9L410,461.2L413,461.5L416.1,461.7L419.2,462L422.2,462.3L425.3,462.5L428.4,462.8L431.4,463L434.5,463.3L434.8,459.4L435.2,455.6L435.5,451.7L435.8,447.9L436.1,444L436.4,440.2L436.8,436.4L437.1,432.5L437.4,428.7L437.7,424.8L438,420.9L438.4,417.1L438.7,413.2L439,409.4L439.3,405.5L439.6,401.7L440,397.8L440.3,394L443.3,394.2L446.4,394.4L449.4,394.6L452.5,394.8L455.5,395L458.6,395.2L461.6,395.3L464.6,395.5L467.7,395.7L470.7,395.8L473.8,396L476.8,396.1L476.7,399.8L476.5,403.6L476.4,407.3L476.2,411.1L476.1,414.8L475.9,418.6L475.7,422.3L475.6,426.1L477.4,427.5L479.2,429L482.3,429.7L485.5,430.5L487.9,431.3L490.4,432.2L492.9,433L496.1,433.3L499.2,433.5L501,437.4L503.9,437.3L506.7,437.2L508.9,438.6L511.1,440L514.3,436.5L516.5,437.5L518.7,438.5L521.2,438.7L523.8,438.9L526.1,438.2L528.4,437.5L530.7,436.9L533.2,436.7L535.8,436.5L538.3,438L540.9,439.5L542.9,440.4L544.9,441.2L547.7,441.8L550.5,442.5L550.6,445.3L550.7,448.1L550.7,451L550.8,454.8L550.9,458.7L551,462.5L551,466.4L552.9,469.4L554.3,473.2L556,476L557.7,478.9L557.4,481L557.2,483.2L556.3,487L555.4,490.9L555.8,493.2L556.1,495.5L555.2,498.6ZM513.1,204.7L515.5,204.7L517.8,204.7L520.2,204.7L522.6,204.8L524.9,204.8L527.3,204.8L529.6,204.8L532,204.7L534.3,204.7L534.3,201.8L534.3,199L536.3,199.1L537.6,200.1L538.3,202.8L538.9,205.4L539.2,208L541.4,208.9L543.6,209.7L545.9,210.7L548.2,211.6L550.3,211L552.3,210.5L554.6,210.2L556.9,209.9L559.3,211.2L561.6,212.4L563.7,213.9L565.3,214.4L566.9,215L569.2,216.2L571.6,217.3L573.4,217.3L575.2,217.2L577,216.1L578.7,215L579.9,216.9L582.2,216.8L584.5,216.6L586.4,217.3L588.2,217.9L590.5,217.8L592.9,217.6L590.9,218.9L588.9,220.2L586.7,221.1L584.5,222L582.6,223.4L580.7,224.7L578.8,226.1L577,228L575.1,229.8L573.1,231.8L571.1,233.8L569.5,235.4L567.8,236.9L566.8,238.1L564.8,239.6L565,242.6L565.1,245.5L565.2,248.5L563.1,249.9L560.9,251.4L559.1,254.5L560.4,256.8L561.7,259L561,261.7L560.3,264.4L560.4,266.7L560.4,269L562,270.5L563.5,271.9L566.3,273.1L569,274.4L571.3,276.9L573.5,279.3L575.8,281.1L578,282.9L578.3,285.2L578.6,287.5L575.8,287.7L573.1,287.8L570.3,287.9L567.5,288L564.8,288.1L562,288.2L559.3,288.3L556.5,288.4L553.8,288.5L551,288.6L548.3,288.6L545.5,288.7L542.7,288.7L540,288.8L537.2,288.8L534.5,288.8L531.7,288.8L529,288.9L526.2,288.9L523.4,288.9L520.7,288.9L520.7,285.4L520.7,281.9L520.7,278.5L520.8,275L520.8,271.5L520.8,268.1L520.8,264.6L520.8,261.2L518.7,259.6L516.5,256.5L519.2,253.5L519.7,251.4L519.5,248.8L519.3,246.3L518.7,243.2L518.1,240.1L517.5,237L517.2,233.8L517,230.7L516.8,227.5L515.9,224.3L515,221.1L514.6,218.1L514.2,215.2L513.9,212.3L513.5,208.5ZM520.1,304.3L519.5,301.6L519,298.9L520.7,295L519.8,291.9L519,288.8L520.7,288.9L523.4,288.9L526.2,288.9L529,288.9L531.7,288.8L534.5,288.8L537.2,288.8L540,288.8L542.7,288.7L545.5,288.7L548.3,288.6L551,288.6L553.8,288.5L556.5,288.4L559.3,288.3L562,288.2L564.8,288.1L567.5,288L570.3,287.9L573.1,287.8L575.8,287.7L578.6,287.5L579.1,291L579.7,294.4L580.1,296.7L580.5,299L583.2,300.8L585.8,302.6L588.7,305.5L591.7,308.4L591.4,312.3L590.4,314.7L587.7,317.9L584.9,318.7L582.1,319.5L581.7,322.9L583.6,325.9L582,329.1L579.3,332L578.7,335.5L576.8,334L574.9,332.5L572.2,332.7L569.5,332.8L566.7,332.9L564,333L561.2,333.2L558.5,333.3L555.8,333.4L553,333.4L550.3,333.5L547.5,333.6L544.8,333.7L542,333.7L539.3,333.8L536.6,333.8L533.8,333.9L531.1,333.9L528.3,333.9L527.9,331.5L527.4,329L526.9,326.2L526.5,323.4L525.5,320L524.5,316.6L523.1,312.8L521.7,308.9L520.9,306.6ZM533.7,342.9L530.9,339L529.6,336.5L528.3,333.9L531.1,333.9L533.8,333.9L536.6,333.8L539.3,333.8L542,333.7L544.8,333.7L547.5,333.6L550.3,333.5L553,333.4L555.8,333.4L558.5,333.3L561.2,333.2L564,333L566.7,332.9L569.5,332.8L572.2,332.7L574.9,332.5L576.8,334L578.7,335.5L577.9,338.6L578.6,340.7L579.2,342.7L580,346.2L581.8,348.1L583.7,349.9L585.9,352.5L588.1,355.1L590,358.1L592.3,358.4L594.5,358.6L594.7,362L593.8,364.6L593,367.2L594.6,369.5L596.2,371.7L599.3,373.1L601.6,375.2L603.8,377.4L604,379.7L604.1,382L606.4,384.2L608.7,386.4L608.4,390.3L606.7,392.3L605,394.4L604,398.3L603,402.3L600.3,402.5L597.6,402.6L594.8,402.8L595.9,398.9L597.1,394.9L594,395.1L591,395.3L588,395.4L584.9,395.6L581.9,395.7L578.9,395.9L575.9,396L572.8,396.2L569.8,396.3L566.8,396.4L563.7,396.5L560.7,396.6L557.7,396.7L554.6,396.7L551.6,396.8L548.6,396.9L545.6,396.9L542.5,397L542.5,393.1L542.4,389.2L542.4,385.6L542.3,382L542.2,378.4L542.2,374.7L542.1,371.1L542.1,367.5L542,363.8L542,360.2L541.9,356.6L540.3,355L538.6,353.4L536.2,349.7L538.5,345.9L536.1,344.4ZM544.9,441.2L545,437.8L545,434.4L545,431L545,427.6L545.1,424.2L545.1,420.8L545.1,417.4L545.1,414L544.6,410.6L544.1,407.2L543.6,403.8L543,400.4L542.5,397L545.6,396.9L548.6,396.9L551.6,396.8L554.6,396.7L557.7,396.7L560.7,396.6L563.7,396.5L566.8,396.4L569.8,396.3L572.8,396.2L575.9,396L578.9,395.9L581.9,395.7L584.9,395.6L588,395.4L591,395.3L594,395.1L597.1,394.9L595.9,398.9L594.8,402.8L597.6,402.6L600.3,402.5L603,402.3L602,404.7L600.9,407.1L600.4,410.1L599.9,413L599.4,416L596.6,418.2L595.1,422.2L593.6,426.1L591.2,430.1L588.7,434.1L588.3,437.2L587.8,440.4L587.3,443.5L587.3,446.6L587.4,449.7L584.3,449.8L581.3,449.9L578.2,450.1L575.2,450.2L572.1,450.3L569,450.4L566,450.6L562.9,450.6L559.9,450.7L556.8,450.8L553.8,450.9L550.7,451L550.7,448.1L550.6,445.3L550.5,442.5L547.7,441.8ZM611.2,491.7L608.3,491.6L605.9,490.6L603.6,489.6L601.6,490.5L599.7,491.4L601.2,494.4L603.8,494.2L606.5,494L608.5,493.9L610.5,493.8L613.1,493.6L614,496.6L610.8,499.1L612.4,502.1L615.2,504.2L618,506.3L618.2,509.4L616.3,510.1L614.3,510.7L613.4,507.4L611,506.4L608.6,505.4L605.9,506.4L603.4,508.8L600.7,509L598,509.1L596.1,509.6L594.1,510.1L591.3,508.7L588.6,507.3L587,503.6L584,503.7L581,503.9L578.9,501.7L576.3,503.3L573.7,503.2L571,503L568.3,502.2L565.6,501.3L562.9,500.4L560,500.8L557.2,501.3L554.3,501.7L555.2,498.6L556.1,495.5L555.8,493.2L555.4,490.9L556.3,487L557.2,483.2L557.4,481L557.7,478.9L556,476L554.3,473.2L552.9,469.4L551,466.4L551,462.5L550.9,458.7L550.8,454.8L550.7,451L553.8,450.9L556.8,450.8L559.9,450.7L562.9,450.6L566,450.6L569,450.4L572.1,450.3L575.2,450.2L578.2,450.1L581.3,449.9L584.3,449.8L587.4,449.7L588.7,452.9L590,456.2L591.4,459.5L589,463.5L587.8,466.4L586.7,469.2L585.5,472.1L584.3,474.9L583.2,477.6L582.9,480.7L586,480.6L589.1,480.4L592.2,480.3L595.3,480.1L598.5,479.9L601.6,479.7L604.7,479.5L607.8,479.3L607.2,482.1L606.5,484.8L609.4,488.5ZM566.8,238.1L568.9,239.1L571,238.4L573.1,237.7L574.6,236.9L576.2,236L578,235.3L579.8,234.5L580.9,235.2L580,239L579.6,239.8L581.6,239.4L583.1,239.7L584.6,240L586.3,241.7L588,243.3L590.2,243.8L592.4,244.3L594.6,244.8L596.9,245.3L599.1,245.8L601.8,246.8L604.5,247.3L607.2,247.7L609.9,248.2L610.4,250L612,251L613.5,252L613.4,254.3L613.4,256.7L616.4,260.2L615,262.7L613.1,266.7L612.8,269L614.8,267.3L616.3,265.4L617.8,263.5L618.9,261.3L620.1,259.1L622.5,256.6L621.8,260.5L619.5,264.6L618.9,267.3L618.3,269.9L617.8,272.8L617.2,275.6L617.1,278.3L617.1,281L616.5,283.8L615.9,286.5L615.9,289.3L615.8,292.1L616.6,294.7L617.4,297.2L617.7,300.5L615,300.7L612.4,300.9L609.7,301.1L607.1,301.3L604.4,301.5L601.8,301.6L599.1,301.8L596.5,302L593.8,302.1L591.2,302.3L588.5,302.4L585.8,302.6L583.2,300.8L580.5,299L580.1,296.7L579.7,294.4L579.1,291L578.6,287.5L578.3,285.2L578,282.9L575.8,281.1L573.5,279.3L571.3,276.9L569,274.4L566.3,273.1L563.5,271.9L562,270.5L560.4,269L560.4,266.7L560.3,264.4L561,261.7L561.7,259L560.4,256.8L559.1,254.5L560.9,251.4L563.1,249.9L565.2,248.5L565.1,245.5L565,242.6L564.8,239.6ZM617.7,300.5L617.9,302.7L618.1,304.9L619.3,307.3L620.5,309.7L621.9,312.2L622.2,315.8L622.5,319.5L622.8,323.1L623.1,326.7L623.5,330.4L623.8,334L624.1,337.6L624.4,341.3L624.7,344.9L625,348.6L625.1,351.3L625.3,354L625.6,356.4L625.9,358.9L623.8,362.8L621.6,366.7L621.4,369.8L621.2,373L620.1,374.6L621.1,377.6L619.2,380.5L617.3,383.4L615.2,384.6L613.1,385.2L610.9,385.8L608.7,386.4L606.4,384.2L604.1,382L604,379.7L603.8,377.4L601.6,375.2L599.3,373.1L596.2,371.7L594.6,369.5L593,367.2L593.8,364.6L594.7,362L594.5,358.6L592.3,358.4L590,358.1L588.1,355.1L585.9,352.5L583.7,349.9L581.8,348.1L580,346.2L579.2,342.7L578.6,340.7L577.9,338.6L578.7,335.5L579.3,332L582,329.1L583.6,325.9L581.7,322.9L582.1,319.5L584.9,318.7L587.7,317.9L590.4,314.7L591.4,312.3L591.7,308.4L588.7,305.5L585.8,302.6L588.5,302.4L591.2,302.3L593.8,302.1L596.5,302L599.1,301.8L601.8,301.6L604.4,301.5L607.1,301.3L609.7,301.1L612.4,300.9L615,300.7ZM629.7,310.7L631.9,307.5L633.2,303.5L634.1,301.1L635,298.7L635,296.3L635.1,294L634.3,291.8L633.5,289.5L632.4,286.9L631.3,284.3L630.8,281.7L630.2,279L629.8,275.2L631.6,271.1L631.6,268.4L631.6,265.7L633.2,261.7L634.5,260.8L635.9,259.9L637.7,256.6L638.1,259.8L638.4,263L639.8,260.2L640,257.9L640.3,255.5L642.8,253.4L644.3,252.7L642.9,249.8L644.4,248.3L645.8,246.7L647.5,247.4L649.2,248.2L651.2,249.1L653.2,250.1L654.9,250.5L656.6,250.9L658.6,251.6L660.6,252.3L662.7,255.9L661.9,258.3L662.8,260.5L663.6,262.7L663.6,265L663.7,267.4L661.9,270.7L660.4,272L658.9,273.4L658.3,277.4L661.3,278.5L662.6,276L663.9,273.5L666,271.9L668,270.3L669.8,271.4L671.6,272.5L672.8,275.4L674.1,278.3L675.2,282.1L676.3,285.8L676.4,288.5L676.5,291.2L674.9,291.9L673.3,292.5L672.1,296.5L670.2,299.1L670.1,302.3L668.9,304.5L667.8,306.8L665.3,307.2L662.7,307.6L660.2,308L657.6,308.4L655.1,308.8L652.5,309.2L652.4,308.2L649.9,308.5L647.4,308.8L644.9,309.1L642.3,309.4L639.8,309.7L637.3,309.9L634.8,310.2L632.3,310.4ZM621.9,312.2L624.2,313.4L625.7,312.9L627.3,312.5L629.7,310.7L632.3,310.4L634.8,310.2L637.3,309.9L639.8,309.7L642.3,309.4L644.9,309.1L647.4,308.8L649.9,308.5L652.4,308.2L652.5,309.2L653,312.8L653.4,316.4L653.8,320L654.2,323.7L654.6,327.3L655,330.9L655.5,334.6L655.9,338.2L656.3,341.8L656.7,345.5L657.1,349.1L656.4,351.9L655.7,354.7L653.3,355.4L651,356L649.3,359.6L647.6,363.1L646.4,365.4L645.1,367.6L643.2,366.6L641.3,365.7L639.7,367.8L638.1,369.9L635.2,371.1L632.3,372.3L629.4,371.2L626.5,370.2L623.8,371.6L621.2,373L621.4,369.8L621.6,366.7L623.8,362.8L625.9,358.9L625.6,356.4L625.3,354L625.1,351.3L625,348.6L624.7,344.9L624.4,341.3L624.1,337.6L623.8,334L623.5,330.4L623.1,326.7L622.8,323.1L622.5,319.5L622.2,315.8ZM667.8,306.8L669.9,307.5L672,308.2L674,308.3L676.1,308.5L676.8,309.9L679.6,309.4L682.4,308.8L685.2,308.1L688,307.5L690,305.2L691.9,303L694.6,301.4L697.2,299.8L698.6,298.9L700.1,298.1L700.7,301.5L701.2,304.9L701.8,308.3L702.3,311.7L702.9,315.1L703.5,318.5L703.1,322.3L702.9,325L702.6,327.6L702.3,330.5L702,333.5L699.9,335.4L697.9,337.3L695.8,339.2L694.9,341.3L693,344.3L691.1,346.5L689.1,348.8L688.9,352.7L686.8,354.4L684.7,356.1L681.9,354.1L679.2,352.1L677.6,353.3L675.9,354.5L673.2,354.5L670.6,354.5L667.8,353.7L665,352.8L662.9,350.8L660.9,348.7L659,348.9L657.1,349.1L656.7,345.5L656.3,341.8L655.9,338.2L655.5,334.6L655,330.9L654.6,327.3L654.2,323.7L653.8,320L653.4,316.4L653,312.8L652.5,309.2L655.1,308.8L657.6,308.4L660.2,308L662.7,307.6L665.3,307.2ZM605,394.4L606.7,392.3L608.4,390.3L608.7,386.4L610.9,385.8L613.1,385.2L615.2,384.6L617.3,383.4L619.2,380.5L621.1,377.6L620.1,374.6L621.2,373L623.8,371.6L626.5,370.2L629.4,371.2L632.3,372.3L635.2,371.1L638.1,369.9L639.7,367.8L641.3,365.7L643.2,366.6L645.1,367.6L646.4,365.4L647.6,363.1L649.3,359.6L651,356L653.3,355.4L655.7,354.7L656.4,351.9L657.1,349.1L659,348.9L660.9,348.7L662.9,350.8L665,352.8L667.8,353.7L670.6,354.5L673.2,354.5L675.9,354.5L677.6,353.3L679.2,352.1L681.9,354.1L684.7,356.1L685,359.5L686.8,363.2L688.3,365.1L689.7,367L691.9,367.8L694,368.6L692.3,370.7L690.6,372.8L688.4,374.7L686.2,376.6L684.2,379.2L682.1,381.8L679.9,383.2L677.7,384.5L675.5,385.8L672.5,386.2L669.6,386.5L666.6,386.7L663.7,387L660.7,387.3L657.8,387.6L654.9,387.9L651.9,388.1L649,388.4L646,388.6L643.1,388.8L640.1,389.1L637.2,389.3L634.2,389.5L631.3,389.7L628.3,389.9L625.3,390.1L622.4,390.3L622.6,393.1L619.7,393.3L616.7,393.5L613.8,393.8L610.9,394L607.9,394.2ZM603,402.3L604,398.3L605,394.4L607.9,394.2L610.9,394L613.8,393.8L616.7,393.5L619.7,393.3L622.6,393.1L622.4,390.3L625.3,390.1L628.3,389.9L631.3,389.7L634.2,389.5L637.2,389.3L640.1,389.1L643.1,388.8L646,388.6L649,388.4L651.9,388.1L654.9,387.9L657.8,387.6L660.7,387.3L663.7,387L666.6,386.7L669.6,386.5L672.5,386.2L675.5,385.8L678.5,385.5L681.5,385.1L684.5,384.7L687.6,384.3L690.6,383.9L693.6,383.4L696.6,383L699.6,382.6L698.2,386.4L696.8,390.2L694.5,391.2L692.2,392.2L689.8,393.3L687.6,395.1L685.4,397L682.6,399.2L679.7,401.4L676.8,403.1L673.9,404.8L672.4,408.1L670.8,411.4L668.1,411.7L665.5,412L662.9,412.3L660.2,412.6L657.6,412.9L654.9,413.2L652,413.6L649.1,413.9L646.2,414.2L643.2,414.5L640.3,414.8L637.4,415L634.4,415.3L631.5,415.6L628.6,415.8L625.6,416.1L622.7,416.3L619.8,416.6L616.9,416.8L614,417L611.1,417.2L608.2,417.4L605.3,417.6L602.4,417.8L599.5,418L596.6,418.2L599.4,416L599.9,413L600.4,410.1L600.9,407.1L602,404.7ZM625.9,487.7L622.6,487.7L619.3,487.8L616.4,488.7L613.5,489.7L611.2,491.7L609.4,488.5L606.5,484.8L607.2,482.1L607.8,479.3L604.7,479.5L601.6,479.7L598.5,479.9L595.3,480.1L592.2,480.3L589.1,480.4L586,480.6L582.9,480.7L583.2,477.6L584.3,474.9L585.5,472.1L586.7,469.2L587.8,466.4L589,463.5L591.4,459.5L590,456.2L588.7,452.9L587.4,449.7L587.3,446.6L587.3,443.5L587.8,440.4L588.3,437.2L588.7,434.1L591.2,430.1L593.6,426.1L595.1,422.2L596.6,418.2L599.5,418L602.4,417.8L605.3,417.6L608.2,417.4L611.1,417.2L614,417L616.9,416.8L619.8,416.6L622.7,416.3L624.1,417.8L624,421.7L623.9,425.5L623.9,429.4L623.8,433.3L623.7,437.2L623.7,441.1L623.6,444.9L623.5,448.8L623.4,452.7L623.3,456.6L623.2,460.4L623.1,464.3L623.5,467.7L623.9,471L624.3,474.4L624.7,477.7L625.1,481L625.5,484.4ZM637.6,488.1L634.7,489L631.4,489.4L632.4,485.9L630.4,482.6L630,485.1L629.6,487.7L627.8,487.7L625.9,487.7L625.5,484.4L625.1,481L624.7,477.7L624.3,474.4L623.9,471L623.5,467.7L623.1,464.3L623.2,460.4L623.3,456.6L623.4,452.7L623.5,448.8L623.6,444.9L623.7,441.1L623.7,437.2L623.8,433.3L623.9,429.4L623.9,425.5L624,421.7L624.1,417.8L622.7,416.3L625.6,416.1L628.6,415.8L631.5,415.6L634.4,415.3L637.4,415L640.3,414.8L643.2,414.5L646.2,414.2L649.1,413.9L652,413.6L654.9,413.2L655.9,416.8L656.9,420.4L657.9,424L658.9,427.5L659.9,431.1L660.9,434.7L661.9,438.2L662.9,441.8L663.9,445.4L665.6,448.8L667.3,452.3L667.2,455.4L667.1,458.5L667.1,461.6L667.1,464.7L667.9,467.7L668.7,470.7L669.5,473.7L666.4,474.1L663.3,474.4L660.3,474.7L657.2,475.1L654.1,475.4L651,475.7L647.9,476L644.8,476.3L641.8,476.6L638.7,476.9L635.6,477.2L637.1,479.7L638.7,482.3L638.2,485.2ZM720.2,450.7L719.3,453L718.3,455.4L717.7,457.8L717.1,460.2L716.5,462.7L715.9,465.1L716.1,468.6L716.3,472L713.9,472.6L711.6,473.3L709.2,473.9L709.2,476L709.2,478.2L706.8,475.5L703.6,475.7L700.5,476L697.3,476.2L694.1,476.5L690.9,476.7L687.7,476.9L684.6,477.1L681.4,477.3L678.2,477.5L675,477.7L671.8,477.9L670.7,475.8L669.5,473.7L668.7,470.7L667.9,467.7L667.1,464.7L667.1,461.6L667.1,458.5L667.2,455.4L667.3,452.3L665.6,448.8L663.9,445.4L662.9,441.8L661.9,438.2L660.9,434.7L659.9,431.1L658.9,427.5L657.9,424L656.9,420.4L655.9,416.8L654.9,413.2L657.6,412.9L660.2,412.6L662.9,412.3L665.5,412L668.1,411.7L670.8,411.4L673.8,411L676.8,410.6L679.7,410.3L682.7,409.9L685.7,409.5L684.5,412L683.4,414.5L686.4,415.8L689.4,417.2L691.8,420.5L694.2,423.9L697.2,426.2L700.2,428.5L703.2,430.8L706.7,433.6L710.1,436.4L711.3,439.7L712.5,443L714.5,445.8L716.6,448.6ZM716.3,472L717.1,475L717.9,478L719,480.9L720.1,483.9L722,487.5L724,491L725.8,493.8L727.6,496.7L730,499.4L732.5,502.1L733.7,505L734.1,507.4L734.5,509.8L736.4,512.8L738.2,515.8L739.8,519.1L741.4,522.3L742.6,524.2L743.8,526L744.7,529.2L745.5,532.4L745.5,535.5L745.5,538.6L745.7,541.1L746,543.6L745.1,545.8L744.3,548L744.1,551.1L743,552.8L739.9,553.7L736.8,554.6L734.1,555.5L733.1,553.5L732.1,551.5L730.2,548.4L728.3,545.2L725.9,544.8L723.5,544.4L722.1,541.5L720.7,539.4L719.4,537.3L717.2,536.9L716.8,533.9L716.3,530.9L713.6,531.2L711.1,528.5L709.3,525.2L706.8,522.2L708.6,520.4L709.4,516.4L706.6,516.1L706.3,519.2L704,517.2L704.1,513.3L704.7,509.8L705.2,506.2L704.5,504L703.9,501.8L701.3,500.4L698.7,498.9L695.9,495.7L693.1,492.4L690.9,490.4L688.6,488.4L686.4,487.1L684.2,485.8L682,486.5L679.7,487.2L679.3,489.2L676.8,490.9L674.4,492.6L671.9,494.3L669.2,494.5L666.6,494.6L667.6,491.7L664.7,489.9L661.8,488.2L658.4,486.8L654.9,485.4L652.9,485.2L650.9,485L647.8,485.7L644.8,486.3L641.8,487L639.7,487.5L637.6,488.1L638.2,485.2L638.7,482.3L637.1,479.7L635.6,477.2L638.7,476.9L641.8,476.6L644.8,476.3L647.9,476L651,475.7L654.1,475.4L657.2,475.1L660.3,474.7L663.3,474.4L666.4,474.1L669.5,473.7L670.7,475.8L671.8,477.9L675,477.7L678.2,477.5L681.4,477.3L684.6,477.1L687.7,476.9L690.9,476.7L694.1,476.5L697.3,476.2L700.5,476L703.6,475.7L706.8,475.5L709.2,478.2L709.2,476L709.2,473.9L711.6,473.3L713.9,472.6ZM745,417.9L743.2,419.4L741.3,420.9L740.1,423.9L738.9,426.9L738.8,430L736.7,432.7L734,435.6L731.2,438.4L728.9,440.3L726.7,442.3L724.6,445.8L722.3,447.7L720.2,450.7L716.6,448.6L714.5,445.8L712.5,443L711.3,439.7L710.1,436.4L706.7,433.6L703.2,430.8L700.2,428.5L697.2,426.2L694.2,423.9L691.8,420.5L689.4,417.2L686.4,415.8L683.4,414.5L684.5,412L685.7,409.5L688,408.4L690.2,407.3L692.4,406.2L694.6,405.1L697.3,404.8L700,404.5L702.7,404.3L705.4,404L708.1,403.7L710.7,403.4L712.3,403.9L713.5,406L714.6,408L717.4,407.6L720.2,407.2L723,406.8L725.8,406.4L728.6,405.9L731.8,408.4L735.1,410.8L738.4,413.1L741.7,415.5ZM769.5,370.4L770.8,372.9L772,375.4L773.9,378.2L775.8,380.9L776.7,383.1L777.7,385.3L777.8,387.4L777.9,389.5L775.3,391.3L772.7,393.2L771,396L769.4,398.8L767.7,401.6L765.3,400.5L762.4,401.8L759.4,403L757.4,405.5L755.3,408.1L753,412.5L752.5,416.5L750,417L747.5,417.4L745,417.9L741.7,415.5L738.4,413.1L735.1,410.8L731.8,408.4L728.6,405.9L725.8,406.4L723,406.8L720.2,407.2L717.4,407.6L714.6,408L713.5,406L712.3,403.9L710.7,403.4L708.1,403.7L705.4,404L702.7,404.3L700,404.5L697.3,404.8L694.6,405.1L692.4,406.2L690.2,407.3L688,408.4L685.7,409.5L682.7,409.9L679.7,410.3L676.8,410.6L673.8,411L670.8,411.4L672.4,408.1L673.9,404.8L676.8,403.1L679.7,401.4L682.6,399.2L685.4,397L687.6,395.1L689.8,393.3L692.2,392.2L694.5,391.2L696.8,390.2L698.2,386.4L699.6,382.6L702.6,382.2L705.5,381.7L708.4,381.3L711.3,380.9L714.2,380.4L717.2,379.9L720.1,379.5L723,379L725.9,378.5L728.8,378L731.7,377.5L734.6,377L737.6,376.5L740.5,376L743.4,375.5L746.3,375L749.2,374.4L752.1,373.9L755,373.3L757.9,372.7L760.8,372.2L763.7,371.6L766.6,371ZM748.5,338.4L748.3,341.6L747.6,344.1L746.9,346.6L748.8,346.9L750.7,347.1L753.4,348.3L756,349.5L758.4,350.3L760.8,351.1L760.6,353.4L760.4,355.7L761.2,357.9L761.9,360.2L760.5,362L762.9,364.7L763.1,365.8L764.9,365.4L766.7,365L767.3,366.1L768.4,368.3L769.5,370.4L766.6,371L763.7,371.6L760.8,372.2L757.9,372.7L755,373.3L752.1,373.9L749.2,374.4L746.3,375L743.4,375.5L740.5,376L737.6,376.5L734.6,377L731.7,377.5L728.8,378L725.9,378.5L723,379L720.1,379.5L717.2,379.9L714.2,380.4L711.3,380.9L708.4,381.3L705.5,381.7L702.6,382.2L699.6,382.6L696.6,383L693.6,383.4L690.6,383.9L687.6,384.3L684.5,384.7L681.5,385.1L678.5,385.5L675.5,385.8L677.7,384.5L679.9,383.2L682.1,381.8L684.2,379.2L686.2,376.6L688.4,374.7L690.6,372.8L692.3,370.7L694,368.6L694.9,371.1L698.2,373.2L700,371.9L701.7,370.5L703.6,371.8L705.6,370.1L707.5,368.4L709.3,367.7L711.1,367L714,366L714,362.4L715.4,360.1L716.8,357.7L717.5,354.5L718.1,351.3L718.8,348.1L721.1,349L723.3,350L725.4,346.9L727.4,343.9L729,341.7L730.5,339.5L731.1,336.3L731.7,333L733.9,334L736.2,335L738.4,336L739.2,332.9L742,334.2L744.8,336L747.5,337.4ZM684.7,356.1L686.8,354.4L688.9,352.7L689.1,348.8L691.1,346.5L693,344.3L694.9,341.3L695.8,339.2L697.9,337.3L699.9,335.4L702,333.5L702.3,330.5L702.6,327.6L702.9,325L703.1,322.3L703.5,318.5L704,322L704.6,325.5L705.2,329L705.8,332.6L708.2,332.2L710.6,331.8L713,331.4L715.4,330.9L717.7,330.5L718.2,333.2L718.7,335.8L719.1,338.5L721.6,335.9L724,333.3L726.2,330.1L728.1,330.2L729.9,330.2L731.3,329.2L732.7,328.1L734.8,328.5L736.8,328.9L738,330.9L739.2,332.9L738.4,336L736.2,335L733.9,334L731.7,333L731.1,336.3L730.5,339.5L729,341.7L727.4,343.9L725.4,346.9L723.3,350L721.1,349L718.8,348.1L718.1,351.3L717.5,354.5L716.8,357.7L715.4,360.1L714,362.4L714,366L711.1,367L709.3,367.7L707.5,368.4L705.6,370.1L703.6,371.8L701.7,370.5L700,371.9L698.2,373.2L694.9,371.1L694,368.6L691.9,367.8L689.7,367L688.3,365.1L686.8,363.2L685,359.5ZM772.8,339.6L772.7,342L772.4,344.2L772,346.4L769.3,347.4L766.7,348.4L764,349.4L763.7,345.5L761.1,344.5L758,341.2L759.1,337.8L756.7,335.1L757.9,332.5L756.7,329.6L758.5,326.8L757.3,325.5L755.3,328.3L753.5,331.5L754.9,335.2L755.1,338.1L755.2,341L756.4,343.1L757.6,345.2L758.5,347.1L759.3,349L757.5,348.1L755.6,347.2L753.4,347.3L751.3,347.3L749.7,345.3L747.4,345.8L748.1,343.2L748.8,340.7L748.5,338.4L747.5,337.4L744.8,336L742,334.2L739.2,332.9L738,330.9L736.8,328.9L734.8,328.5L732.7,328.1L731.3,329.2L729.9,330.2L728.1,330.2L726.2,330.1L724,333.3L721.6,335.9L719.1,338.5L718.7,335.8L718.2,333.2L717.7,330.5L720.6,330L723.4,329.5L726.2,329L729.1,328.5L731.9,327.9L734.7,327.4L737.5,326.9L740.4,326.3L743.2,325.8L746,325.2L748.8,324.6L751.6,324L754.4,323.4L757.2,322.8L760.1,322.2L760.9,325.4L761.8,328.6L762.7,331.7L763.5,334.9L764.4,338.1L765.3,341.2L767.8,340.7L770.3,340.1ZM764,320.1L762.6,323.6L764,327.2L766.6,330.6L768.4,333.4L771.2,334.5L772,337.1L772.8,339.6L770.3,340.1L767.8,340.7L765.3,341.2L764.4,338.1L763.5,334.9L762.7,331.7L761.8,328.6L760.9,325.4L760.1,322.2L760.8,320.8L762.1,319.9ZM700.1,298.1L702.2,296.4L704.3,294.7L706.1,293.5L707.8,292.2L708.2,294.3L708.5,296.3L711.3,295.9L714,295.4L716.7,294.9L719.4,294.4L722.2,293.9L724.9,293.4L727.6,292.9L730.3,292.3L733.1,291.8L735.8,291.3L738.5,290.7L741.2,290.2L743.9,289.6L746.6,289.1L749.4,288.5L752.1,287.9L754.8,287.3L757.5,286.7L759.8,289.4L762.1,292L764.6,293.4L767,294.7L765.2,298.2L763.4,301.7L763.5,303.9L763.5,306.1L764.9,308.1L766.2,310.1L768.2,311.3L770.2,312.4L768.6,315.1L767,317.9L765.5,319L764,320.1L762.1,319.9L760.8,320.8L760.1,322.2L757.2,322.8L754.4,323.4L751.6,324L748.8,324.6L746,325.2L743.2,325.8L740.4,326.3L737.5,326.9L734.7,327.4L731.9,327.9L729.1,328.5L726.2,329L723.4,329.5L720.6,330L717.7,330.5L715.4,330.9L713,331.4L710.6,331.8L708.2,332.2L705.8,332.6L705.2,329L704.6,325.5L704,322L703.5,318.5L702.9,315.1L702.3,311.7L701.8,308.3L701.2,304.9L700.7,301.5ZM776.8,302.9L774.9,306.5L777.9,306.6L778.8,310.4L779,313.9L779.2,317.5L778.2,320.7L777.1,324L775.9,326.4L774.6,328.8L772.6,332L771.5,328.3L768.4,327.9L766.3,326.7L764.3,325.6L763.1,323.2L764,320.1L765.5,319L767,317.9L768.6,315.1L770.2,312.4L768.2,311.3L766.2,310.1L764.9,308.1L763.5,306.1L763.5,303.9L763.4,301.7L765.2,298.2L767,294.7L769.5,295.6L772,296.4L774.5,297.3L777,298.1L776.9,300.5ZM707.8,292.2L710.1,290L712.3,287.8L714.1,284.9L715.8,282L715,278.7L713,275.8L714.9,274.9L716.8,274L718.7,273L721.3,272.8L723.9,272.5L726.4,272.2L729.2,272L732,271.9L734.7,271L737.4,270.2L739,268.4L740.6,266.7L743,264.6L742.5,262.3L742,260.1L739.8,257.4L741.3,255.3L742.8,253.2L744.9,249.8L746.9,246.4L749.2,244L751.4,241.5L752.9,240.8L754.4,240.1L756.8,239.5L759.2,239L761.6,238.4L764,237.8L766.3,237.3L768.7,236.7L769.4,239.7L770.1,242.7L770.8,245.7L771.5,248.7L772.1,251.7L772.6,254.7L773.2,257.8L775,258.1L775.7,261.1L776.4,264.1L777.1,267.1L777.8,270.1L777.8,273.8L777.7,277.5L777.7,281.3L778.5,284.4L779.3,287.5L780.1,290.7L781,293.8L778.6,296.1L779.8,297.6L778.7,300.1L777.4,301.2L776.8,302.9L776.9,300.5L777,298.1L774.5,297.3L772,296.4L769.5,295.6L767,294.7L764.6,293.4L762.1,292L759.8,289.4L757.5,286.7L754.8,287.3L752.1,287.9L749.4,288.5L746.6,289.1L743.9,289.6L741.2,290.2L738.5,290.7L735.8,291.3L733.1,291.8L730.3,292.3L727.6,292.9L724.9,293.4L722.2,293.9L719.4,294.4L716.7,294.9L714,295.4L711.3,295.9L708.5,296.3L708.2,294.3ZM798.6,287.8L796.2,288.7L793.8,289.5L791.6,290.2L789.4,290.9L787.3,291.6L785.8,292.8L784.3,294L782,295.8L779.8,297.6L778.6,296.1L781,293.8L780.1,290.7L779.3,287.5L778.5,284.4L777.7,281.3L780.4,280.7L783.1,280.1L785.7,279.5L788.4,278.9L791.1,278.3L793.8,277.7L796.5,277L797.2,280.6L797.9,284.2ZM806,282.8L804.5,283.2L803,279.6L801.7,279.2L802.5,282.2L802.5,285.8L800.5,286.8L798.6,287.8L797.9,284.2L797.2,280.6L796.5,277L798.8,276.4L801.1,275.8L801.5,277.6L804.3,280.1ZM803.8,261.8L805.2,263.8L807,264.2L805.7,265.7L804.4,267.3L803.6,269.9L806.5,270.7L807.9,272.7L809.3,274.7L811.6,276.8L814,276.9L815.5,276L817,275L815.7,272.2L813.7,271.6L815.4,271.4L816.8,273.8L818.2,276.3L818.1,278.7L816.3,278.6L814.5,278.4L812.7,279.7L811,281L810.2,278.1L808,280.7L806,282.8L804.3,280.1L801.5,277.6L801.1,275.8L798.8,276.4L796.5,277L793.8,277.7L791.1,278.3L788.4,278.9L785.7,279.5L783.1,280.1L780.4,280.7L777.7,281.3L777.7,277.5L777.8,273.8L777.8,270.1L780,269.7L782.2,269.2L784.3,268.7L786.5,268.3L789.1,267.7L791.6,267.2L794.2,266.6L796.7,266L799.2,265.4L801.3,262.5ZM768.7,236.7L771.1,236.1L773.6,235.5L776,234.9L778.4,234.3L780.8,233.7L783.2,233L785.6,232.4L788,231.8L788.5,235.6L788.9,239.5L787.1,242.3L785.3,245.2L785.7,247.5L786,249.8L785.7,253.1L785.3,256.3L785,259.6L785.5,262.5L786,265.4L786.5,268.3L784.3,268.7L782.2,269.2L780,269.7L777.8,270.1L777.1,267.1L776.4,264.1L775.7,261.1L775,258.1L773.2,257.8L772.6,254.7L772.1,251.7L771.5,248.7L770.8,245.7L770.1,242.7L769.4,239.7ZM788,231.8L788.2,228.2L789.6,227.2L791,226.2L792,229.1L793,232.1L794,235L795,237.9L796,241.2L797.1,244.5L798.1,247.8L799.2,251.1L799.9,254.1L802,256.2L804.2,258.2L803.8,261.8L801.3,262.5L799.2,265.4L796.7,266L794.2,266.6L791.6,267.2L789.1,267.7L786.5,268.3L786,265.4L785.5,262.5L785,259.6L785.3,256.3L785.7,253.1L786,249.8L785.7,247.5L785.3,245.2L787.1,242.3L788.9,239.5L788.5,235.6ZM791,226.2L793.8,226.3L793.8,223.9L795.3,223.5L795.9,220.5L796.5,217.6L796.5,214.8L796.6,212L795.1,208.5L797.3,206.7L797,204.6L796.7,202.5L797.8,199.1L799,195.8L800.1,192.4L801.3,189.1L803.2,189L803.9,191.3L805.8,192.2L807.1,191.1L808.4,190L809.6,189L810.7,187.9L812.7,188.4L814.6,188.9L817.4,190.5L818.4,193.8L819.5,197.1L820.5,200.5L821.6,203.8L822.6,207.1L823.4,208.6L825.4,209.8L827.5,210.9L828.2,213.1L828.8,215.3L831.1,216.4L833.4,217.1L835.5,219.7L836.2,220.9L834.4,224L832.8,225.3L831.2,226.6L829.7,228.3L828.2,230L826.9,231.2L825.5,232.4L824.1,233.2L822.6,234.1L820.5,232.7L818.4,231.3L818,233.8L817.6,236.3L817.2,238.9L815.5,241L813.8,243L812.4,244.2L811,245.4L809.1,246.8L807.2,248.1L806.1,252.4L805,256.7L804.2,258.2L802,256.2L799.9,254.1L799.2,251.1L798.1,247.8L797.1,244.5L796,241.2L795,237.9L794,235L793,232.1L792,229.1ZM584.6,240L586.8,239L589,238.1L591,236.8L593,235.5L595.1,234.8L597.2,234.1L598.7,232.9L600.1,231.6L602.1,229.7L604,227.8L605.5,226.4L607,225L608.8,224.6L610.6,224.2L612,225.3L610.7,226.6L609.3,227.8L607.4,230.3L605.5,232.7L605.2,235.4L607.7,233.3L609.2,233.2L610.8,233.1L612.4,233.5L614,234L615.3,236L616.5,237.9L618.7,238.1L620.8,238.3L622.7,238.7L624.6,239.2L626.3,237.6L628,236.1L629.8,235.3L631.6,234.5L633.9,234.2L636.3,233.9L637.8,233.2L639.3,232.5L641.9,231.9L641.9,234L641.9,236.1L643.5,236.3L645.1,236.5L646.9,235.9L648.7,235.3L651.1,237.3L652,240.2L654.4,242.3L655.9,241.3L657.4,240.3L659.2,241.9L656.9,242.6L654.5,243.3L652.1,243.5L649.7,243.6L647.9,244.6L646,245.6L644.3,244.5L642.7,243.4L640,243.1L637.3,242.8L634.8,244.2L632.2,245.6L630.7,246.2L629.1,246.7L626.6,248.8L626.4,251.6L624.6,249.5L621.8,248.7L620.9,250.9L619.8,253.2L618.6,255.4L617.5,257.8L616.4,260.2L613.4,256.7L613.4,254.3L613.5,252L612,251L610.4,250L609.9,248.2L607.2,247.7L604.5,247.3L601.8,246.8L599.1,245.8L596.9,245.3L594.6,244.8L592.4,244.3L590.2,243.8L588,243.3L586.3,241.7ZM772,346.4L770.7,349.5L770.1,352.5L769.6,355.4L768.4,358.4L767.2,361.4L766.4,362L765.5,359.4L765.6,357L765.7,354.6L766.1,352.1L766.5,349.7L764,349.4L766.7,348.4L769.3,347.4ZM772.8,339.6L772.7,342L772.4,344.2L772,346.4L769.3,347.4L766.7,348.4L764,349.4L763.7,345.5L761.1,344.5L758,341.2L759.1,337.8L756.7,335.1L757.9,332.5L756.7,329.6L758.5,326.8L757.3,325.5L755.3,328.3L753.5,331.5L754.9,335.2L755.1,338.1L755.2,341L756.4,343.1L757.6,345.2L758.5,347.1L759.3,349L757.5,348.1L755.6,347.2L753.4,347.3L751.3,347.3L749.7,345.3L747.4,345.8L748.1,343.2L748.8,340.7L748.5,338.4L747.5,337.4L744.8,336L742,334.2L739.2,332.9L738,330.9L736.8,328.9L734.8,328.5L732.7,328.1L731.3,329.2L729.9,330.2L728.1,330.2L726.2,330.1L724,333.3L721.6,335.9L719.1,338.5L718.7,335.8L718.2,333.2L717.7,330.5L720.6,330L723.4,329.5L726.2,329L729.1,328.5L731.9,327.9L734.7,327.4L737.5,326.9L740.4,326.3L743.2,325.8L746,325.2L748.8,324.6L751.6,324L754.4,323.4L757.2,322.8L760.1,322.2L760.9,325.4L761.8,328.6L762.7,331.7L763.5,334.9L764.4,338.1L765.3,341.2L767.8,340.7L770.3,340.1ZM777,304.5L778.6,304.2L780.2,303.9L782.6,303L785.1,302L787.7,300.7L790.4,299.3L792.3,297.8L794.3,296.2L796.1,294.6L797.8,293L799.5,291.4L797.1,293.1L794.4,294.2L795,291.1L793.3,293L791.6,294.9L789,295.6L786.4,296.3L784.1,297.3L781.8,298.2L779.3,300L777.6,301.5Z"/>
<path d="M278.9,477.5L273.9,476L269.2,476.1L264.5,475.5L259.9,475.6L257.1,473.6L253.5,472.8L250,470.9L246.3,473.3L243.5,474.4L239.9,475.6L237.5,478.2L236.5,481L233,482.1L230.7,481.7L229,484.4L231.3,486.4L233,488.6L234.1,492L237.6,493L239,495.8L235.9,497.6L233.1,497.2L232,494.9L228.3,495.6L223.4,498.2L226.5,500.5L225.9,503.6L228.2,505.1L233.7,505.7L237.3,504.8L238.2,507.1L238.4,509.8L237.3,511.8L234.6,511.5L232.2,513.7L228.9,512.9L226.6,515.8L223.8,520.2L224.9,523.1L225.7,526L227.8,529.6L231.5,530.1L232.1,534L231.9,537.5L236.8,536.7L240.5,538.6L242,536.9L245.5,538.1L244.4,544.3L241,547.6L235,552.2L230.2,554.4L226.2,556.6L221.3,558L221.4,559.1L226.5,558.5L231.4,556.7L237.8,554.6L241.3,551.6L247.1,547.6L251.6,543.5L254.4,539.7L256.1,535.4L258.2,531.6L259.9,527.8L263.4,524.9L265,524.6L263.5,526.3L261.2,528.3L261.2,533.1L260.2,535.8L263.9,534.1L266.7,531.5L269.6,531L268.5,527L271.8,525.4L274.4,525.9L276.3,527.8L281,529.3L286.3,528.7L290.6,529.6L292.9,529.9L296.6,531.5L300.9,533.8L303.7,534.4L307.5,536.5L310.9,538.8L314.4,541.1L318.1,543.8L321.4,546.1L324,546.9L325.5,546.6L326.1,543.8L324.3,539.9L318.7,539.1L317.1,537.3L311.2,531.4L305.9,527.9L303.5,525.8L301.6,528L299.5,531.7L298.8,530.2L293.9,526.9L293.5,525.3L288.6,526.6ZM253,545.1L255,542.9L257.8,542.4L259.6,544.5L257.9,546.7L255,548.9L252.7,547.8ZM216.7,560.5L215.2,560.2L210.6,562L207,563.4L206,564.8L211.2,563.8L215.5,561.9ZM195.8,565L187.6,563.7L180.8,563.1L175.7,562.3L180.4,564.1L188.9,565.2L195.5,566ZM202.2,563.9L199.7,564.4L200.9,565L203.3,564.7ZM223.3,527.2L219.3,527L221,529.5L223.2,529.4ZM216.1,507L212.5,507.7L215.2,510.6L219,510.4L217.7,508.5ZM304.2,536.3L306.2,536.2L309.4,539.8L311,543.3L308.5,541.2L306,538.6ZM314.5,543.3L316.6,543.2L319.5,546.2L321.3,548.4L318.5,548.8L315.7,546.3ZM342,516.3L344.6,513.8L348.9,515.1L348.4,518.1L344.5,518.9ZM363.5,524L366.1,523.6L368.2,522.1L372.5,528.2L370.3,528.8L366,528.1ZM377.5,531.2L378.3,529.4L385.5,530.2L385.9,532ZM381.1,534.3L384,534L384.5,536.4L382.3,536.7ZM386.2,534L387.6,532.3L391.2,533.5L396.3,535.8L395.6,538.1L390.5,539.1L389.1,536.1ZM398.5,543.8L402.1,546L409.4,550.2L413.5,555.5L403.6,561.2L401,564.5L397.8,561.7L395.6,551.8L398.8,547.5ZM744.8,551L745.6,551.3L742.8,555.9L737.7,560.1L732.4,562.8L728.4,564.4L728.3,563.8L732.3,562.2L737.2,559.6L741.7,555.7Z"/>
</g>
</svg>
  <div id="edge"></div>
  <div id="legend"><svg width="15.400" height="293" viewBox="0 0 15.400 293"><g stroke="#fff" stroke-opacity=".85" stroke-width=".8"><line x1="0" y1="0.3" x2="15.400" y2="16.3"/><line x1="0" y1="38" x2="15.400" y2="54"/><line x1="0" y1="78" x2="15.400" y2="94"/><line x1="0" y1="119" x2="15.400" y2="135"/><line x1="0" y1="159.3" x2="15.400" y2="175.3"/><line x1="0" y1="200.6" x2="15.400" y2="216.6"/><line x1="0" y1="241.5" x2="15.400" y2="257.5"/><line x1="0" y1="277" x2="15.400" y2="293"/></g></svg></div>
  <div id="lgtitle">Estimated Age-adjusted Death Rate per 100,000:</div>
  <div class="lg" style="top:76.5px">0</div>
  <div class="lg" style="top:119.9px">6</div>
  <div class="lg" style="top:161.4px">8</div>
  <div class="lg" style="top:202.4px">12</div>
  <div class="lg" style="top:243px">18</div>
  <div class="lg" style="top:284.3px">24</div>
  <div class="lg" style="top:326px">28</div>
  <div class="lg" style="top:366.8px">&gt;30</div>
  <div id="stats"><div class="i">i</div><span>STATISTICS <b>»</b></span></div>
  <div class="cbtn" style="left:23px;top:467px"><svg width="40" height="40" viewBox="0 0 40 40"><circle cx="20" cy="20" r="19.200" fill="#fff" stroke="#2c4373" stroke-width="1.500"/><rect x="13.600" y="14" width="3.100" height="14.600" fill="#22376a"/><path d="M23.600 14v14.600l-7.400-7.300z" fill="#22376a"/></svg></div>
  <div class="cbtn" style="left:71.200px;top:467px"><svg width="40" height="40" viewBox="0 0 40 40"><circle cx="20" cy="20" r="19.200" fill="#fff" stroke="#2c4373" stroke-width="1.500"/><rect x="23.200" y="14" width="3.100" height="14.600" fill="#22376a"/><path d="M16.300 14v14.600l7.400-7.300z" fill="#22376a"/></svg></div>
  <div class="cbtn" style="left:119.400px;top:467px"><svg width="40" height="40" viewBox="0 0 40 40"><circle cx="20" cy="20" r="19.900" fill="#22376a"/><path d="M13.400 13.400v15.800l14-7.900z" fill="#fff"/></svg></div>
  <div id="track"></div>
  <div class="yr" style="left:187.4px">1999</div><div class="tick" style="left:224.1px"></div><div class="yr" style="left:227.1px">2000</div><div class="tick" style="left:264.0px"></div><div class="yr" style="left:266.9px">2001</div><div class="tick" style="left:304.0px"></div><div class="yr" style="left:306.6px">2002</div><div class="tick" style="left:343.9px"></div><div class="yr" style="left:346.3px">2003</div><div class="tick" style="left:383.9px"></div><div class="yr" style="left:386.0px">2004</div><div class="tick" style="left:423.9px"></div><div class="yr" style="left:425.8px">2005</div><div class="tick" style="left:463.8px"></div><div class="yr" style="left:465.5px">2006</div><div class="tick" style="left:503.8px"></div><div class="yr" style="left:505.2px">2007</div><div class="tick" style="left:543.7px"></div><div class="yr" style="left:545.0px">2008</div><div class="tick" style="left:583.7px"></div><div class="yr" style="left:584.7px">2009</div><div class="tick" style="left:623.7px"></div><div class="yr" style="left:624.4px">2010</div><div class="tick" style="left:663.6px"></div><div class="yr" style="left:664.2px">2011</div><div class="tick" style="left:703.6px"></div><div class="yr" style="left:703.9px">2012</div><div class="tick" style="left:743.5px"></div><div class="yr" style="left:743.6px">2013</div><div class="tick" style="left:783.5px"></div><div class="yr" style="left:783.3px">2014</div><div class="tick" style="left:823.5px"></div><div class="yr" style="left:823.1px">2015</div>
  <div id="knob"></div>
</div>
<div id="footer"><p>Please see <a href="#">Important Safety Information</a>, <a href="#">Prescribing Information</a> and <a href="#">Medication Guide</a>.</p></div>
</body>
</html>
